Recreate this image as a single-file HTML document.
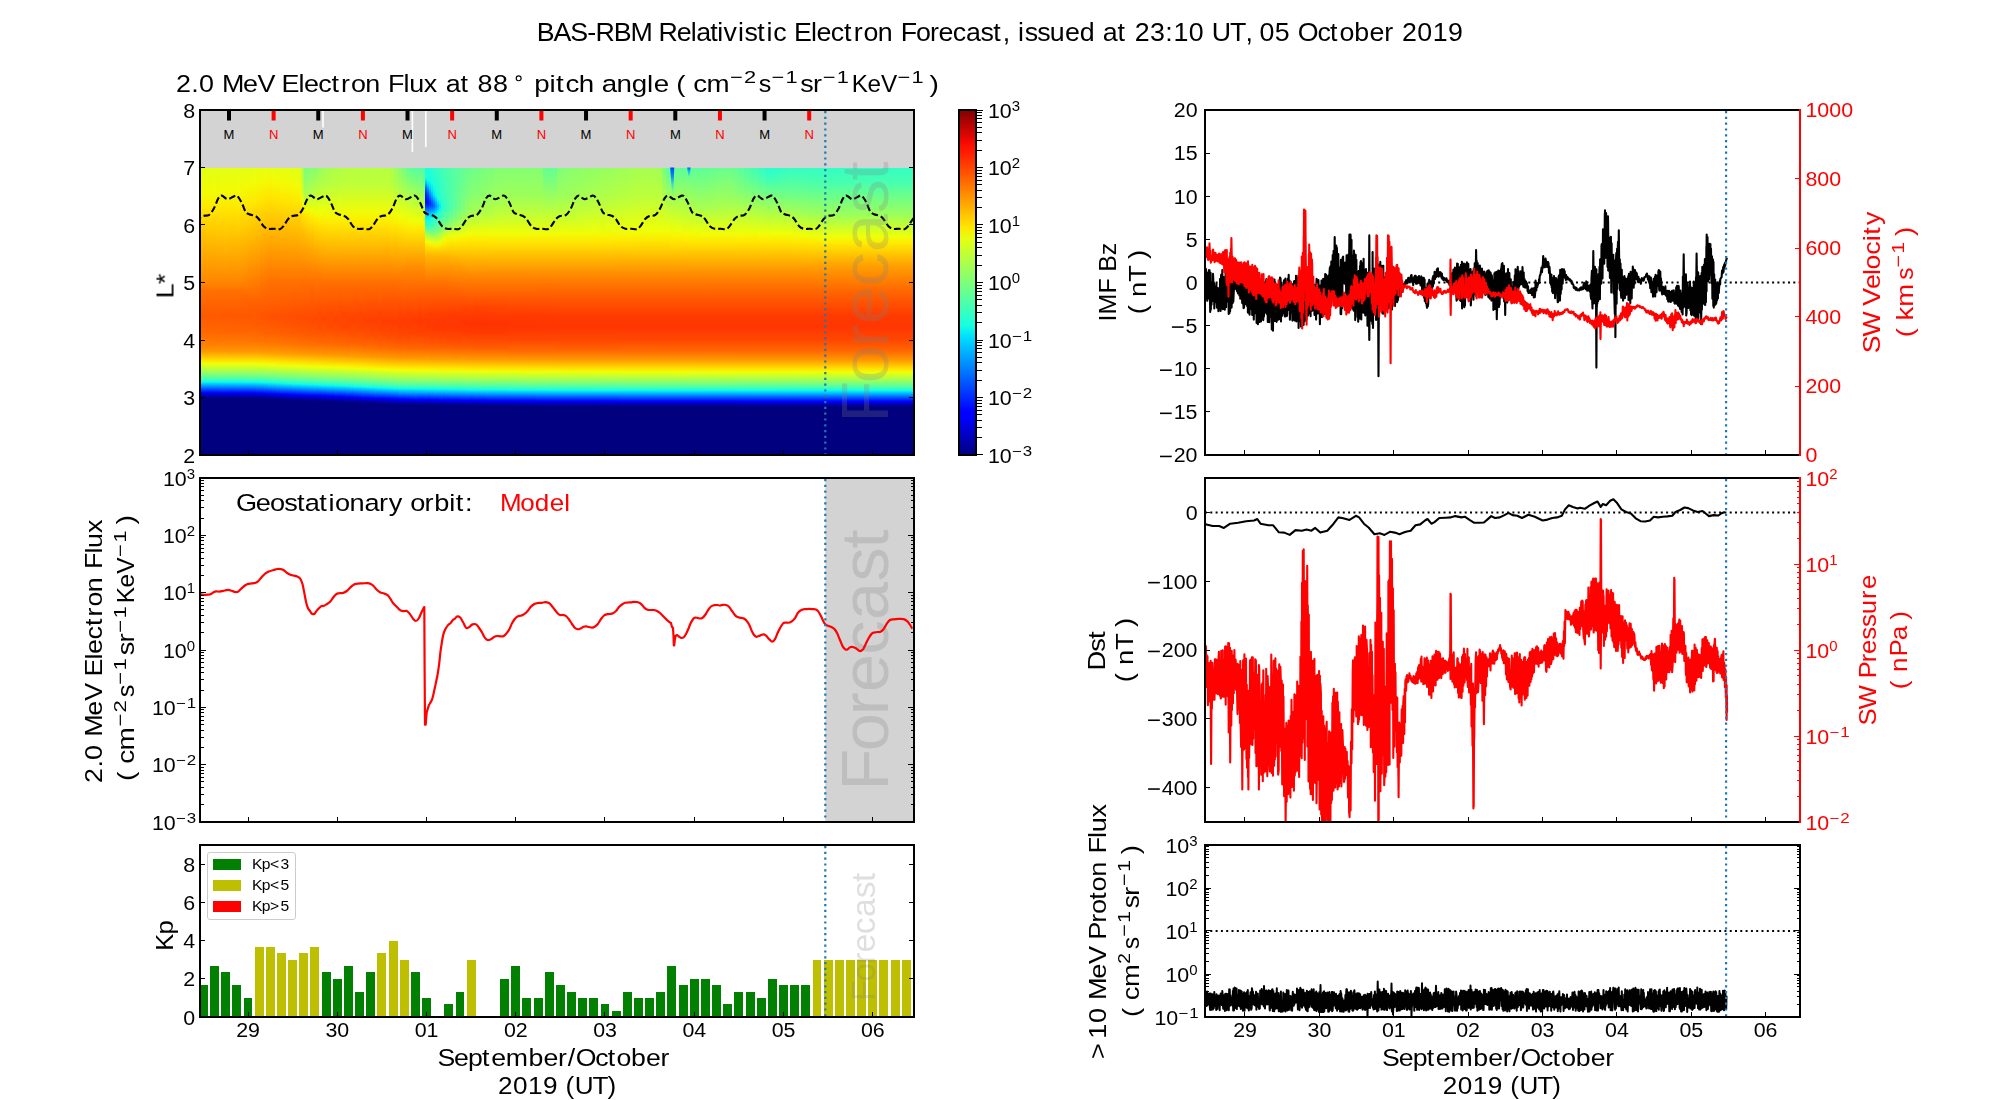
<!DOCTYPE html><html><head><meta charset="utf-8"><title>BAS-RBM Relativistic Electron Forecast</title>
<style>html,body{margin:0;padding:0;background:#fff}svg{display:block}text{font-family:"Liberation Sans",sans-serif;font-variant-ligatures:none;font-kerning:none;white-space:pre}</style></head><body>
<svg width="2000" height="1100" viewBox="0 0 2000 1100">
<rect width="2000" height="1100" fill="#fff"/>
<g opacity="0.999">
<text transform="translate(1000.00 40.80) scale(1.0591 1)" x="-437.4 -421.5 -405.7 -389.8 -381.9 -364.7 -348.8 -329.0 -322.4 -305.2 -292.0 -286.7 -273.5 -266.9 -261.0 -247.5 -241.2 -229.3 -220.4 -214.1 -201.6 -194.4 -178.5 -173.2 -159.7 -147.2 -138.2 -128.9 -115.5 -101.0 -93.8 -79.3 -66.0 -58.1 -44.7 -32.2 -18.3 -6.4 2.5 9.7 17.0 23.3 35.2 47.1 61.4 75.4 89.9 97.1 111.0 120.0 127.2 141.7 156.1 163.8 178.3 192.8 200.0 217.2 231.7 238.3 245.0 259.5 274.0 281.2 299.7 311.6 320.6 334.5 348.9 362.9 372.3 379.5 394.0 408.5 422.9" y="0" font-size="25.31">BAS-RBM Relativistic Electron Forecast, issued at 23:10 UT, 05 October 2019</text>
<g transform="translate(176.00 92.00)">
<text transform="translate(0.00 0.00) scale(1.0864 1)" x="0.0 14.1 21.1 35.2 42.3 61.7 75.0 90.6 97.2 112.8 117.9 131.0 143.2 151.9 161.0 174.1 188.1 195.2 209.4 214.6 228.1 241.2 248.3 261.8 270.5 277.6 291.7" y="0" font-size="24.78">2.0 MeV Electron Flux at 88</text>
<circle cx="342.66" cy="-13.69" r="2.46" fill="none" stroke="#000" stroke-width="1.15"/>
<text transform="translate(358.18 0.00) scale(1.1189 1)" x="0.0 13.7 19.6 28.1 39.9 53.5 60.4 73.6 87.2 100.8 106.8 120.1 126.9 135.3 142.1 154.0" y="0" font-size="24.78">pitch angle ( cm</text>
<text transform="translate(553.90 -8.57) scale(1.2560 1)" x="0.0 11.2" y="0" font-size="17.35">−2</text>
<text transform="translate(582.84 0.00) scale(1.0123 1)" x="0.0" y="0" font-size="24.78">s</text>
<text transform="translate(595.38 -8.57) scale(1.2560 1)" x="0.0 11.2" y="0" font-size="17.35">−1</text>
<text transform="translate(624.31 0.00) scale(1.0870 1)" x="0.0 11.6" y="0" font-size="24.78">sr</text>
<text transform="translate(646.75 -8.57) scale(1.2560 1)" x="0.0 11.2" y="0" font-size="17.35">−1</text>
<text transform="translate(675.68 0.00) scale(0.9792 1)" x="0.0 16.1 30.0" y="0" font-size="24.78">KeV</text>
<text transform="translate(721.55 -8.57) scale(1.2560 1)" x="0.0 11.2" y="0" font-size="17.35">−1</text>
<text transform="translate(753.61 0.00) scale(1.1380 1)" x="0.0" y="0" font-size="24.78">)</text>
</g>
<rect x="200.00" y="110.00" width="714.00" height="345.00" fill="#d3d3d3" />
<g id="heat"></g>
<g shape-rendering="crispEdges">
<linearGradient id="h0" x1="0" y1="0" x2="0" y2="1"><stop offset="0.000" stop-color="#e2ff14"/><stop offset="0.096" stop-color="#f3fa04"/><stop offset="0.146" stop-color="#ffe400"/><stop offset="0.230" stop-color="#ffc300"/><stop offset="0.344" stop-color="#ff9d00"/><stop offset="0.409" stop-color="#ff8200"/><stop offset="0.428" stop-color="#ff7100"/><stop offset="0.514" stop-color="#ff5a00"/><stop offset="0.574" stop-color="#ff6700"/><stop offset="0.622" stop-color="#ff8500"/><stop offset="0.639" stop-color="#ff9700"/><stop offset="0.668" stop-color="#ffda00"/><stop offset="0.678" stop-color="#f8f400"/><stop offset="0.682" stop-color="#efff08"/><stop offset="0.721" stop-color="#7cff7b"/><stop offset="0.735" stop-color="#4affad"/><stop offset="0.746" stop-color="#11fae6"/><stop offset="0.751" stop-color="#00d5ff"/><stop offset="0.783" stop-color="#0000ff"/><stop offset="0.783" stop-color="#0000ff"/><stop offset="0.793" stop-color="#0000b4"/><stop offset="0.802" stop-color="#000080"/><stop offset="0.835" stop-color="#000080"/></linearGradient>
<rect x="200.00" y="167.5" width="4.60" height="287.5" fill="url(#h0)"/>
<linearGradient id="h1" x1="0" y1="0" x2="0" y2="1"><stop offset="0.000" stop-color="#e2ff14"/><stop offset="0.096" stop-color="#f3fa03"/><stop offset="0.146" stop-color="#ffe400"/><stop offset="0.235" stop-color="#ffc200"/><stop offset="0.386" stop-color="#ff8c00"/><stop offset="0.409" stop-color="#ff8200"/><stop offset="0.428" stop-color="#ff7000"/><stop offset="0.514" stop-color="#ff5900"/><stop offset="0.574" stop-color="#ff6700"/><stop offset="0.622" stop-color="#ff8500"/><stop offset="0.639" stop-color="#ff9700"/><stop offset="0.668" stop-color="#ffda00"/><stop offset="0.678" stop-color="#f8f400"/><stop offset="0.682" stop-color="#efff08"/><stop offset="0.710" stop-color="#a1ff55"/><stop offset="0.730" stop-color="#5aff9d"/><stop offset="0.735" stop-color="#4affac"/><stop offset="0.746" stop-color="#11fbe6"/><stop offset="0.751" stop-color="#00d6ff"/><stop offset="0.783" stop-color="#0000ff"/><stop offset="0.793" stop-color="#0000b4"/><stop offset="0.802" stop-color="#000080"/><stop offset="0.835" stop-color="#000080"/></linearGradient>
<rect x="204.00" y="167.5" width="4.60" height="287.5" fill="url(#h1)"/>
<linearGradient id="h2" x1="0" y1="0" x2="0" y2="1"><stop offset="0.000" stop-color="#e2ff14"/><stop offset="0.094" stop-color="#f3fa03"/><stop offset="0.146" stop-color="#ffe400"/><stop offset="0.240" stop-color="#ffc100"/><stop offset="0.409" stop-color="#ff8200"/><stop offset="0.428" stop-color="#ff7000"/><stop offset="0.514" stop-color="#ff5900"/><stop offset="0.574" stop-color="#ff6700"/><stop offset="0.616" stop-color="#ff8000"/><stop offset="0.639" stop-color="#ff9700"/><stop offset="0.668" stop-color="#ffda00"/><stop offset="0.678" stop-color="#f8f400"/><stop offset="0.683" stop-color="#eeff09"/><stop offset="0.710" stop-color="#a2ff55"/><stop offset="0.735" stop-color="#49ffae"/><stop offset="0.746" stop-color="#10f9e7"/><stop offset="0.751" stop-color="#00d6ff"/><stop offset="0.783" stop-color="#0001ff"/><stop offset="0.784" stop-color="#0000ff"/><stop offset="0.793" stop-color="#0000b5"/><stop offset="0.803" stop-color="#000080"/><stop offset="0.835" stop-color="#000080"/></linearGradient>
<rect x="208.00" y="167.5" width="4.60" height="287.5" fill="url(#h2)"/>
<linearGradient id="h3" x1="0" y1="0" x2="0" y2="1"><stop offset="0.000" stop-color="#e2ff14"/><stop offset="0.083" stop-color="#f1fc06"/><stop offset="0.136" stop-color="#ffea00"/><stop offset="0.219" stop-color="#ffc800"/><stop offset="0.407" stop-color="#ff8300"/><stop offset="0.428" stop-color="#ff7000"/><stop offset="0.514" stop-color="#ff5900"/><stop offset="0.574" stop-color="#ff6700"/><stop offset="0.622" stop-color="#ff8500"/><stop offset="0.639" stop-color="#ff9700"/><stop offset="0.668" stop-color="#ffda00"/><stop offset="0.678" stop-color="#f8f400"/><stop offset="0.683" stop-color="#eeff08"/><stop offset="0.710" stop-color="#a2ff55"/><stop offset="0.735" stop-color="#4affad"/><stop offset="0.746" stop-color="#10f9e7"/><stop offset="0.751" stop-color="#00d7ff"/><stop offset="0.783" stop-color="#0002ff"/><stop offset="0.784" stop-color="#0000ff"/><stop offset="0.793" stop-color="#0000b5"/><stop offset="0.803" stop-color="#000080"/><stop offset="0.835" stop-color="#000080"/></linearGradient>
<rect x="212.00" y="167.5" width="4.60" height="287.5" fill="url(#h3)"/>
<linearGradient id="h4" x1="0" y1="0" x2="0" y2="1"><stop offset="0.000" stop-color="#e2ff14"/><stop offset="0.094" stop-color="#f4f903"/><stop offset="0.146" stop-color="#ffe500"/><stop offset="0.240" stop-color="#ffc200"/><stop offset="0.409" stop-color="#ff8200"/><stop offset="0.428" stop-color="#ff7000"/><stop offset="0.514" stop-color="#ff5900"/><stop offset="0.574" stop-color="#ff6700"/><stop offset="0.601" stop-color="#ff7300"/><stop offset="0.639" stop-color="#ff9700"/><stop offset="0.668" stop-color="#ffda00"/><stop offset="0.678" stop-color="#f8f400"/><stop offset="0.683" stop-color="#efff08"/><stop offset="0.720" stop-color="#81ff76"/><stop offset="0.735" stop-color="#4affad"/><stop offset="0.746" stop-color="#10fae6"/><stop offset="0.751" stop-color="#00d7ff"/><stop offset="0.783" stop-color="#0002ff"/><stop offset="0.784" stop-color="#0000ff"/><stop offset="0.793" stop-color="#0000b6"/><stop offset="0.803" stop-color="#000080"/><stop offset="0.835" stop-color="#000080"/></linearGradient>
<rect x="216.00" y="167.5" width="4.60" height="287.5" fill="url(#h4)"/>
<linearGradient id="h5" x1="0" y1="0" x2="0" y2="1"><stop offset="0.000" stop-color="#e2ff14"/><stop offset="0.083" stop-color="#f2fb05"/><stop offset="0.146" stop-color="#ffe500"/><stop offset="0.235" stop-color="#ffc400"/><stop offset="0.409" stop-color="#ff8200"/><stop offset="0.428" stop-color="#ff7000"/><stop offset="0.514" stop-color="#ff5800"/><stop offset="0.574" stop-color="#ff6600"/><stop offset="0.616" stop-color="#ff8000"/><stop offset="0.639" stop-color="#ff9700"/><stop offset="0.668" stop-color="#ffd900"/><stop offset="0.678" stop-color="#f9f300"/><stop offset="0.683" stop-color="#efff08"/><stop offset="0.722" stop-color="#7cff7b"/><stop offset="0.735" stop-color="#4affac"/><stop offset="0.746" stop-color="#11fae6"/><stop offset="0.751" stop-color="#00d8ff"/><stop offset="0.784" stop-color="#0000ff"/><stop offset="0.793" stop-color="#0000b6"/><stop offset="0.803" stop-color="#000080"/><stop offset="0.835" stop-color="#000080"/></linearGradient>
<rect x="220.00" y="167.5" width="4.60" height="287.5" fill="url(#h5)"/>
<linearGradient id="h6" x1="0" y1="0" x2="0" y2="1"><stop offset="0.000" stop-color="#e2ff14"/><stop offset="0.083" stop-color="#f2fb04"/><stop offset="0.146" stop-color="#ffe500"/><stop offset="0.261" stop-color="#ffbc00"/><stop offset="0.409" stop-color="#ff8200"/><stop offset="0.428" stop-color="#ff7000"/><stop offset="0.514" stop-color="#ff5800"/><stop offset="0.574" stop-color="#ff6600"/><stop offset="0.616" stop-color="#ff8000"/><stop offset="0.639" stop-color="#ff9700"/><stop offset="0.668" stop-color="#ffd900"/><stop offset="0.678" stop-color="#f9f300"/><stop offset="0.683" stop-color="#efff08"/><stop offset="0.710" stop-color="#a3ff54"/><stop offset="0.735" stop-color="#4bffac"/><stop offset="0.746" stop-color="#11fbe6"/><stop offset="0.751" stop-color="#00d8ff"/><stop offset="0.784" stop-color="#0000ff"/><stop offset="0.793" stop-color="#0000b6"/><stop offset="0.803" stop-color="#000080"/><stop offset="0.835" stop-color="#000080"/></linearGradient>
<rect x="224.00" y="167.5" width="4.60" height="287.5" fill="url(#h6)"/>
<linearGradient id="h7" x1="0" y1="0" x2="0" y2="1"><stop offset="0.000" stop-color="#e2ff14"/><stop offset="0.083" stop-color="#f3fa04"/><stop offset="0.146" stop-color="#ffe500"/><stop offset="0.409" stop-color="#ff8200"/><stop offset="0.428" stop-color="#ff7000"/><stop offset="0.514" stop-color="#ff5800"/><stop offset="0.574" stop-color="#ff6600"/><stop offset="0.616" stop-color="#ff7f00"/><stop offset="0.640" stop-color="#ff9700"/><stop offset="0.668" stop-color="#ffd900"/><stop offset="0.678" stop-color="#f9f300"/><stop offset="0.683" stop-color="#eeff09"/><stop offset="0.710" stop-color="#a3ff54"/><stop offset="0.735" stop-color="#49ffad"/><stop offset="0.746" stop-color="#10f9e7"/><stop offset="0.751" stop-color="#00d9ff"/><stop offset="0.783" stop-color="#0004ff"/><stop offset="0.784" stop-color="#0000ff"/><stop offset="0.793" stop-color="#0000b7"/><stop offset="0.803" stop-color="#000080"/><stop offset="0.835" stop-color="#000080"/></linearGradient>
<rect x="228.00" y="167.5" width="4.60" height="287.5" fill="url(#h7)"/>
<linearGradient id="h8" x1="0" y1="0" x2="0" y2="1"><stop offset="0.000" stop-color="#e3ff14"/><stop offset="0.083" stop-color="#f3fa03"/><stop offset="0.146" stop-color="#ffe500"/><stop offset="0.409" stop-color="#ff8200"/><stop offset="0.428" stop-color="#ff7000"/><stop offset="0.514" stop-color="#ff5800"/><stop offset="0.574" stop-color="#ff6600"/><stop offset="0.616" stop-color="#ff7f00"/><stop offset="0.640" stop-color="#ff9700"/><stop offset="0.668" stop-color="#ffd900"/><stop offset="0.678" stop-color="#f9f300"/><stop offset="0.683" stop-color="#eeff08"/><stop offset="0.710" stop-color="#a3ff54"/><stop offset="0.735" stop-color="#4affad"/><stop offset="0.746" stop-color="#10fae7"/><stop offset="0.751" stop-color="#00d9ff"/><stop offset="0.783" stop-color="#0004ff"/><stop offset="0.784" stop-color="#0000ff"/><stop offset="0.793" stop-color="#0000b7"/><stop offset="0.803" stop-color="#000080"/><stop offset="0.835" stop-color="#000080"/></linearGradient>
<rect x="232.00" y="167.5" width="4.60" height="287.5" fill="url(#h8)"/>
<linearGradient id="h9" x1="0" y1="0" x2="0" y2="1"><stop offset="0.000" stop-color="#e3ff14"/><stop offset="0.073" stop-color="#f1fc06"/><stop offset="0.136" stop-color="#ffea00"/><stop offset="0.409" stop-color="#ff8200"/><stop offset="0.428" stop-color="#ff7000"/><stop offset="0.514" stop-color="#ff5800"/><stop offset="0.574" stop-color="#ff6500"/><stop offset="0.616" stop-color="#ff7f00"/><stop offset="0.640" stop-color="#ff9700"/><stop offset="0.668" stop-color="#ffd900"/><stop offset="0.678" stop-color="#f9f300"/><stop offset="0.683" stop-color="#efff08"/><stop offset="0.720" stop-color="#82ff75"/><stop offset="0.735" stop-color="#4affad"/><stop offset="0.746" stop-color="#11fae6"/><stop offset="0.751" stop-color="#00daff"/><stop offset="0.783" stop-color="#0005ff"/><stop offset="0.784" stop-color="#0000ff"/><stop offset="0.793" stop-color="#0000b8"/><stop offset="0.803" stop-color="#000080"/><stop offset="0.835" stop-color="#000080"/></linearGradient>
<rect x="236.00" y="167.5" width="4.60" height="287.5" fill="url(#h9)"/>
<linearGradient id="h10" x1="0" y1="0" x2="0" y2="1"><stop offset="0.000" stop-color="#e3ff14"/><stop offset="0.073" stop-color="#f2fb05"/><stop offset="0.146" stop-color="#ffe400"/><stop offset="0.409" stop-color="#ff8100"/><stop offset="0.428" stop-color="#ff6f00"/><stop offset="0.514" stop-color="#ff5700"/><stop offset="0.574" stop-color="#ff6500"/><stop offset="0.616" stop-color="#ff7f00"/><stop offset="0.640" stop-color="#ff9700"/><stop offset="0.668" stop-color="#ffd800"/><stop offset="0.678" stop-color="#f9f300"/><stop offset="0.683" stop-color="#efff08"/><stop offset="0.722" stop-color="#7cff7b"/><stop offset="0.735" stop-color="#4affac"/><stop offset="0.746" stop-color="#11fbe6"/><stop offset="0.751" stop-color="#00daff"/><stop offset="0.783" stop-color="#0005ff"/><stop offset="0.784" stop-color="#0000ff"/><stop offset="0.793" stop-color="#0000b8"/><stop offset="0.803" stop-color="#000080"/><stop offset="0.835" stop-color="#000080"/></linearGradient>
<rect x="240.00" y="167.5" width="4.60" height="287.5" fill="url(#h10)"/>
<linearGradient id="h11" x1="0" y1="0" x2="0" y2="1"><stop offset="0.000" stop-color="#e3ff13"/><stop offset="0.063" stop-color="#f1fc06"/><stop offset="0.136" stop-color="#ffe600"/><stop offset="0.409" stop-color="#ff7e00"/><stop offset="0.449" stop-color="#ff6700"/><stop offset="0.515" stop-color="#ff5700"/><stop offset="0.574" stop-color="#ff6500"/><stop offset="0.616" stop-color="#ff7f00"/><stop offset="0.640" stop-color="#ff9700"/><stop offset="0.678" stop-color="#faf200"/><stop offset="0.683" stop-color="#eeff09"/><stop offset="0.710" stop-color="#a4ff53"/><stop offset="0.736" stop-color="#49ffae"/><stop offset="0.747" stop-color="#10f9e7"/><stop offset="0.751" stop-color="#00dbff"/><stop offset="0.783" stop-color="#0006ff"/><stop offset="0.784" stop-color="#0000ff"/><stop offset="0.793" stop-color="#0000b9"/><stop offset="0.803" stop-color="#000080"/><stop offset="0.835" stop-color="#000080"/></linearGradient>
<rect x="244.00" y="167.5" width="4.60" height="287.5" fill="url(#h11)"/>
<linearGradient id="h12" x1="0" y1="0" x2="0" y2="1"><stop offset="0.000" stop-color="#e4ff13"/><stop offset="0.063" stop-color="#f2fb05"/><stop offset="0.136" stop-color="#ffe400"/><stop offset="0.409" stop-color="#ff7b00"/><stop offset="0.470" stop-color="#ff6000"/><stop offset="0.515" stop-color="#ff5700"/><stop offset="0.574" stop-color="#ff6500"/><stop offset="0.616" stop-color="#ff7f00"/><stop offset="0.640" stop-color="#ff9700"/><stop offset="0.678" stop-color="#faf200"/><stop offset="0.683" stop-color="#eeff08"/><stop offset="0.710" stop-color="#a4ff53"/><stop offset="0.736" stop-color="#4affad"/><stop offset="0.747" stop-color="#10f9e7"/><stop offset="0.751" stop-color="#00dbff"/><stop offset="0.783" stop-color="#0006ff"/><stop offset="0.784" stop-color="#0000ff"/><stop offset="0.793" stop-color="#0000b9"/><stop offset="0.803" stop-color="#000080"/><stop offset="0.835" stop-color="#000080"/></linearGradient>
<rect x="248.00" y="167.5" width="4.60" height="287.5" fill="url(#h12)"/>
<linearGradient id="h13" x1="0" y1="0" x2="0" y2="1"><stop offset="0.000" stop-color="#e5ff12"/><stop offset="0.052" stop-color="#f1fd06"/><stop offset="0.115" stop-color="#ffe900"/><stop offset="0.490" stop-color="#ff5a00"/><stop offset="0.543" stop-color="#ff5900"/><stop offset="0.602" stop-color="#ff7200"/><stop offset="0.640" stop-color="#ff9700"/><stop offset="0.678" stop-color="#faf200"/><stop offset="0.683" stop-color="#eeff08"/><stop offset="0.710" stop-color="#a4ff52"/><stop offset="0.736" stop-color="#4affad"/><stop offset="0.747" stop-color="#10fae6"/><stop offset="0.751" stop-color="#00dcff"/><stop offset="0.783" stop-color="#0007ff"/><stop offset="0.784" stop-color="#0000ff"/><stop offset="0.793" stop-color="#0000b9"/><stop offset="0.803" stop-color="#000080"/><stop offset="0.835" stop-color="#000080"/></linearGradient>
<rect x="252.00" y="167.5" width="4.60" height="287.5" fill="url(#h13)"/>
<linearGradient id="h14" x1="0" y1="0" x2="0" y2="1"><stop offset="0.000" stop-color="#e5ff12"/><stop offset="0.052" stop-color="#f2fb05"/><stop offset="0.115" stop-color="#ffe600"/><stop offset="0.490" stop-color="#ff5900"/><stop offset="0.543" stop-color="#ff5800"/><stop offset="0.602" stop-color="#ff7100"/><stop offset="0.640" stop-color="#ff9700"/><stop offset="0.678" stop-color="#fbf100"/><stop offset="0.684" stop-color="#efff08"/><stop offset="0.710" stop-color="#a6ff51"/><stop offset="0.730" stop-color="#5fff98"/><stop offset="0.736" stop-color="#4affac"/><stop offset="0.747" stop-color="#11fbe6"/><stop offset="0.751" stop-color="#00dffc"/><stop offset="0.785" stop-color="#0000ff"/><stop offset="0.793" stop-color="#0000bb"/><stop offset="0.804" stop-color="#000080"/><stop offset="0.835" stop-color="#000080"/></linearGradient>
<rect x="256.00" y="167.5" width="4.60" height="287.5" fill="url(#h14)"/>
<linearGradient id="h15" x1="0" y1="0" x2="0" y2="1"><stop offset="0.000" stop-color="#e6ff11"/><stop offset="0.052" stop-color="#f3fa04"/><stop offset="0.115" stop-color="#ffe400"/><stop offset="0.409" stop-color="#ff7200"/><stop offset="0.516" stop-color="#ff5400"/><stop offset="0.574" stop-color="#ff6200"/><stop offset="0.616" stop-color="#ff7d00"/><stop offset="0.641" stop-color="#ff9700"/><stop offset="0.678" stop-color="#fcef00"/><stop offset="0.685" stop-color="#efff08"/><stop offset="0.723" stop-color="#7cff7b"/><stop offset="0.741" stop-color="#35ffc2"/><stop offset="0.748" stop-color="#11fae6"/><stop offset="0.751" stop-color="#00e3f9"/><stop offset="0.783" stop-color="#000eff"/><stop offset="0.785" stop-color="#0000ff"/><stop offset="0.794" stop-color="#0000ba"/><stop offset="0.805" stop-color="#000080"/><stop offset="0.835" stop-color="#000080"/></linearGradient>
<rect x="260.00" y="167.5" width="4.60" height="287.5" fill="url(#h15)"/>
<linearGradient id="h16" x1="0" y1="0" x2="0" y2="1"><stop offset="0.000" stop-color="#e6ff11"/><stop offset="0.043" stop-color="#f2fc05"/><stop offset="0.104" stop-color="#ffe600"/><stop offset="0.409" stop-color="#ff7000"/><stop offset="0.517" stop-color="#ff5300"/><stop offset="0.574" stop-color="#ff6100"/><stop offset="0.603" stop-color="#ff7000"/><stop offset="0.642" stop-color="#ff9700"/><stop offset="0.678" stop-color="#feee00"/><stop offset="0.685" stop-color="#eeff08"/><stop offset="0.720" stop-color="#89ff6e"/><stop offset="0.737" stop-color="#4affad"/><stop offset="0.749" stop-color="#10fae7"/><stop offset="0.751" stop-color="#01e7f5"/><stop offset="0.767" stop-color="#007fff"/><stop offset="0.783" stop-color="#0013ff"/><stop offset="0.786" stop-color="#0000ff"/><stop offset="0.795" stop-color="#0000b9"/><stop offset="0.805" stop-color="#000080"/><stop offset="0.835" stop-color="#000080"/></linearGradient>
<rect x="264.00" y="167.5" width="4.60" height="287.5" fill="url(#h16)"/>
<linearGradient id="h17" x1="0" y1="0" x2="0" y2="1"><stop offset="0.000" stop-color="#e7ff10"/><stop offset="0.052" stop-color="#f5f701"/><stop offset="0.104" stop-color="#ffe400"/><stop offset="0.407" stop-color="#ff6d00"/><stop offset="0.449" stop-color="#ff6500"/><stop offset="0.517" stop-color="#ff5200"/><stop offset="0.574" stop-color="#ff6000"/><stop offset="0.616" stop-color="#ff7b00"/><stop offset="0.642" stop-color="#ff9700"/><stop offset="0.678" stop-color="#ffec00"/><stop offset="0.686" stop-color="#eeff09"/><stop offset="0.720" stop-color="#8bff6c"/><stop offset="0.738" stop-color="#49ffad"/><stop offset="0.749" stop-color="#10f9e7"/><stop offset="0.751" stop-color="#05ebf2"/><stop offset="0.762" stop-color="#00a6ff"/><stop offset="0.783" stop-color="#0017ff"/><stop offset="0.787" stop-color="#0000ff"/><stop offset="0.795" stop-color="#0000b9"/><stop offset="0.806" stop-color="#000080"/><stop offset="0.835" stop-color="#000080"/></linearGradient>
<rect x="268.00" y="167.5" width="4.60" height="287.5" fill="url(#h17)"/>
<linearGradient id="h18" x1="0" y1="0" x2="0" y2="1"><stop offset="0.000" stop-color="#e6ff11"/><stop offset="0.043" stop-color="#f2fc05"/><stop offset="0.104" stop-color="#ffe500"/><stop offset="0.409" stop-color="#ff6d00"/><stop offset="0.449" stop-color="#ff6400"/><stop offset="0.518" stop-color="#ff5100"/><stop offset="0.574" stop-color="#ff5f00"/><stop offset="0.616" stop-color="#ff7a00"/><stop offset="0.647" stop-color="#ffa000"/><stop offset="0.678" stop-color="#ffeb00"/><stop offset="0.686" stop-color="#efff08"/><stop offset="0.720" stop-color="#8cff6a"/><stop offset="0.741" stop-color="#3effb9"/><stop offset="0.750" stop-color="#11fbe6"/><stop offset="0.751" stop-color="#08efef"/><stop offset="0.762" stop-color="#00aaff"/><stop offset="0.787" stop-color="#0000ff"/><stop offset="0.793" stop-color="#0000d5"/><stop offset="0.796" stop-color="#0000bb"/><stop offset="0.806" stop-color="#000080"/><stop offset="0.835" stop-color="#000080"/></linearGradient>
<rect x="272.00" y="167.5" width="4.60" height="287.5" fill="url(#h18)"/>
<linearGradient id="h19" x1="0" y1="0" x2="0" y2="1"><stop offset="0.000" stop-color="#e5ff12"/><stop offset="0.052" stop-color="#f3fa04"/><stop offset="0.115" stop-color="#ffe200"/><stop offset="0.409" stop-color="#ff6d00"/><stop offset="0.449" stop-color="#ff6400"/><stop offset="0.518" stop-color="#ff5000"/><stop offset="0.574" stop-color="#ff5e00"/><stop offset="0.616" stop-color="#ff7900"/><stop offset="0.647" stop-color="#ff9f00"/><stop offset="0.678" stop-color="#ffe900"/><stop offset="0.689" stop-color="#eaff0d"/><stop offset="0.726" stop-color="#7cff7b"/><stop offset="0.741" stop-color="#41ffb5"/><stop offset="0.750" stop-color="#11fae6"/><stop offset="0.751" stop-color="#0bf3eb"/><stop offset="0.762" stop-color="#00aeff"/><stop offset="0.788" stop-color="#0000ff"/><stop offset="0.793" stop-color="#0000db"/><stop offset="0.797" stop-color="#0000ba"/><stop offset="0.807" stop-color="#000080"/><stop offset="0.835" stop-color="#000080"/></linearGradient>
<rect x="276.00" y="167.5" width="4.60" height="287.5" fill="url(#h19)"/>
<linearGradient id="h20" x1="0" y1="0" x2="0" y2="1"><stop offset="0.000" stop-color="#e4ff13"/><stop offset="0.052" stop-color="#f2fb05"/><stop offset="0.104" stop-color="#ffe800"/><stop offset="0.409" stop-color="#ff6d00"/><stop offset="0.449" stop-color="#ff6300"/><stop offset="0.519" stop-color="#ff5000"/><stop offset="0.575" stop-color="#ff5d00"/><stop offset="0.616" stop-color="#ff7800"/><stop offset="0.647" stop-color="#ff9d00"/><stop offset="0.678" stop-color="#ffe700"/><stop offset="0.689" stop-color="#ecff0b"/><stop offset="0.720" stop-color="#90ff66"/><stop offset="0.741" stop-color="#45ffb2"/><stop offset="0.751" stop-color="#0ff8e8"/><stop offset="0.762" stop-color="#00b2ff"/><stop offset="0.789" stop-color="#0000ff"/><stop offset="0.793" stop-color="#0000e0"/><stop offset="0.797" stop-color="#0000b9"/><stop offset="0.808" stop-color="#000080"/><stop offset="0.835" stop-color="#000080"/></linearGradient>
<rect x="280.00" y="167.5" width="4.60" height="287.5" fill="url(#h20)"/>
<linearGradient id="h21" x1="0" y1="0" x2="0" y2="1"><stop offset="0.000" stop-color="#e2ff14"/><stop offset="0.052" stop-color="#f1fc06"/><stop offset="0.104" stop-color="#ffe900"/><stop offset="0.409" stop-color="#ff6d00"/><stop offset="0.449" stop-color="#ff6300"/><stop offset="0.520" stop-color="#ff4f00"/><stop offset="0.575" stop-color="#ff5c00"/><stop offset="0.616" stop-color="#ff7700"/><stop offset="0.647" stop-color="#ff9c00"/><stop offset="0.678" stop-color="#ffe600"/><stop offset="0.689" stop-color="#edff09"/><stop offset="0.720" stop-color="#92ff64"/><stop offset="0.741" stop-color="#48ffaf"/><stop offset="0.752" stop-color="#10f9e7"/><stop offset="0.762" stop-color="#00b6ff"/><stop offset="0.789" stop-color="#0000ff"/><stop offset="0.793" stop-color="#0000e6"/><stop offset="0.798" stop-color="#0000b9"/><stop offset="0.808" stop-color="#000080"/><stop offset="0.835" stop-color="#000080"/></linearGradient>
<rect x="284.00" y="167.5" width="4.60" height="287.5" fill="url(#h21)"/>
<linearGradient id="h22" x1="0" y1="0" x2="0" y2="1"><stop offset="0.000" stop-color="#e1ff15"/><stop offset="0.063" stop-color="#f3fa03"/><stop offset="0.115" stop-color="#ffe600"/><stop offset="0.409" stop-color="#ff6d00"/><stop offset="0.449" stop-color="#ff6300"/><stop offset="0.520" stop-color="#ff4e00"/><stop offset="0.576" stop-color="#ff5c00"/><stop offset="0.616" stop-color="#ff7600"/><stop offset="0.647" stop-color="#ff9b00"/><stop offset="0.678" stop-color="#ffe400"/><stop offset="0.689" stop-color="#eeff09"/><stop offset="0.720" stop-color="#94ff62"/><stop offset="0.741" stop-color="#49ffae"/><stop offset="0.751" stop-color="#15ffe2"/><stop offset="0.762" stop-color="#00bbff"/><stop offset="0.783" stop-color="#002cff"/><stop offset="0.790" stop-color="#0000ff"/><stop offset="0.793" stop-color="#0000ec"/><stop offset="0.799" stop-color="#0000b9"/><stop offset="0.809" stop-color="#000080"/><stop offset="0.835" stop-color="#000080"/></linearGradient>
<rect x="288.00" y="167.5" width="4.60" height="287.5" fill="url(#h22)"/>
<linearGradient id="h23" x1="0" y1="0" x2="0" y2="1"><stop offset="0.000" stop-color="#e0ff16"/><stop offset="0.063" stop-color="#f2fb05"/><stop offset="0.115" stop-color="#ffe700"/><stop offset="0.409" stop-color="#ff6d00"/><stop offset="0.465" stop-color="#ff5b00"/><stop offset="0.521" stop-color="#ff4d00"/><stop offset="0.574" stop-color="#ff5a00"/><stop offset="0.616" stop-color="#ff7500"/><stop offset="0.647" stop-color="#ff9900"/><stop offset="0.678" stop-color="#ffe300"/><stop offset="0.689" stop-color="#efff08"/><stop offset="0.720" stop-color="#96ff60"/><stop offset="0.742" stop-color="#4affac"/><stop offset="0.753" stop-color="#11fbe6"/><stop offset="0.762" stop-color="#00bfff"/><stop offset="0.790" stop-color="#0000ff"/><stop offset="0.793" stop-color="#0000f2"/><stop offset="0.799" stop-color="#0000bb"/><stop offset="0.809" stop-color="#000080"/><stop offset="0.835" stop-color="#000080"/></linearGradient>
<rect x="292.00" y="167.5" width="4.60" height="287.5" fill="url(#h23)"/>
<linearGradient id="h24" x1="0" y1="0" x2="0" y2="1"><stop offset="0.000" stop-color="#dfff18"/><stop offset="0.063" stop-color="#f1fc06"/><stop offset="0.115" stop-color="#ffe800"/><stop offset="0.409" stop-color="#ff6d00"/><stop offset="0.521" stop-color="#ff4c00"/><stop offset="0.574" stop-color="#ff5900"/><stop offset="0.616" stop-color="#ff7400"/><stop offset="0.647" stop-color="#ff9800"/><stop offset="0.678" stop-color="#ffe100"/><stop offset="0.690" stop-color="#efff08"/><stop offset="0.729" stop-color="#7cff7b"/><stop offset="0.742" stop-color="#4affad"/><stop offset="0.751" stop-color="#1bffdb"/><stop offset="0.753" stop-color="#11fae6"/><stop offset="0.762" stop-color="#00c3ff"/><stop offset="0.791" stop-color="#0000ff"/><stop offset="0.793" stop-color="#0000f7"/><stop offset="0.800" stop-color="#0000ba"/><stop offset="0.810" stop-color="#000080"/><stop offset="0.835" stop-color="#000080"/></linearGradient>
<rect x="296.00" y="167.5" width="4.60" height="287.5" fill="url(#h24)"/>
<linearGradient id="h25" x1="0" y1="0" x2="0" y2="1"><stop offset="0.000" stop-color="#d2ff25"/><stop offset="0.096" stop-color="#f2fb05"/><stop offset="0.136" stop-color="#ffe600"/><stop offset="0.409" stop-color="#ff6c00"/><stop offset="0.449" stop-color="#ff6200"/><stop offset="0.522" stop-color="#ff4b00"/><stop offset="0.577" stop-color="#ff5a00"/><stop offset="0.616" stop-color="#ff7300"/><stop offset="0.647" stop-color="#ff9700"/><stop offset="0.678" stop-color="#ffe000"/><stop offset="0.690" stop-color="#efff08"/><stop offset="0.720" stop-color="#9aff5d"/><stop offset="0.743" stop-color="#4bffac"/><stop offset="0.754" stop-color="#11fbe6"/><stop offset="0.762" stop-color="#00c6ff"/><stop offset="0.791" stop-color="#0000ff"/><stop offset="0.793" stop-color="#0000fc"/><stop offset="0.800" stop-color="#0000bb"/><stop offset="0.810" stop-color="#000080"/><stop offset="0.835" stop-color="#000080"/></linearGradient>
<rect x="300.00" y="167.5" width="2.60" height="287.5" fill="url(#h25)"/>
<linearGradient id="h26" x1="0" y1="0" x2="0" y2="1"><stop offset="0.000" stop-color="#a1ff56"/><stop offset="0.083" stop-color="#c2ff35"/><stop offset="0.136" stop-color="#f2fc05"/><stop offset="0.157" stop-color="#ffe600"/><stop offset="0.230" stop-color="#ffbc00"/><stop offset="0.409" stop-color="#ff6b00"/><stop offset="0.449" stop-color="#ff6200"/><stop offset="0.522" stop-color="#ff4b00"/><stop offset="0.574" stop-color="#ff5800"/><stop offset="0.616" stop-color="#ff7200"/><stop offset="0.647" stop-color="#ff9700"/><stop offset="0.678" stop-color="#ffdf00"/><stop offset="0.691" stop-color="#efff08"/><stop offset="0.730" stop-color="#7cff7b"/><stop offset="0.743" stop-color="#4affac"/><stop offset="0.754" stop-color="#11fae6"/><stop offset="0.762" stop-color="#00c8ff"/><stop offset="0.792" stop-color="#0000ff"/><stop offset="0.793" stop-color="#0000fe"/><stop offset="0.800" stop-color="#0000ba"/><stop offset="0.811" stop-color="#000080"/><stop offset="0.835" stop-color="#000080"/></linearGradient>
<rect x="302.00" y="167.5" width="2.60" height="287.5" fill="url(#h26)"/>
<linearGradient id="h27" x1="0" y1="0" x2="0" y2="1"><stop offset="0.000" stop-color="#7cff7a"/><stop offset="0.078" stop-color="#9dff59"/><stop offset="0.148" stop-color="#f2fb05"/><stop offset="0.165" stop-color="#ffe400"/><stop offset="0.240" stop-color="#ffb900"/><stop offset="0.409" stop-color="#ff6b00"/><stop offset="0.449" stop-color="#ff6100"/><stop offset="0.522" stop-color="#ff4a00"/><stop offset="0.578" stop-color="#ff5900"/><stop offset="0.616" stop-color="#ff7200"/><stop offset="0.648" stop-color="#ff9700"/><stop offset="0.678" stop-color="#ffdf00"/><stop offset="0.691" stop-color="#efff08"/><stop offset="0.720" stop-color="#9bff5b"/><stop offset="0.743" stop-color="#4affad"/><stop offset="0.754" stop-color="#10fae6"/><stop offset="0.762" stop-color="#00c9ff"/><stop offset="0.792" stop-color="#0000ff"/><stop offset="0.793" stop-color="#0000ff"/><stop offset="0.801" stop-color="#0000b9"/><stop offset="0.811" stop-color="#000080"/><stop offset="0.835" stop-color="#000080"/></linearGradient>
<rect x="304.00" y="167.5" width="2.60" height="287.5" fill="url(#h27)"/>
<linearGradient id="h28" x1="0" y1="0" x2="0" y2="1"><stop offset="0.000" stop-color="#7eff79"/><stop offset="0.078" stop-color="#a2ff55"/><stop offset="0.148" stop-color="#f1fd06"/><stop offset="0.167" stop-color="#ffe600"/><stop offset="0.252" stop-color="#ffb500"/><stop offset="0.409" stop-color="#ff6b00"/><stop offset="0.449" stop-color="#ff6100"/><stop offset="0.523" stop-color="#ff4a00"/><stop offset="0.578" stop-color="#ff5900"/><stop offset="0.616" stop-color="#ff7100"/><stop offset="0.648" stop-color="#ff9700"/><stop offset="0.678" stop-color="#ffde00"/><stop offset="0.689" stop-color="#f4f802"/><stop offset="0.691" stop-color="#eeff08"/><stop offset="0.720" stop-color="#9cff5a"/><stop offset="0.744" stop-color="#4affad"/><stop offset="0.751" stop-color="#22ffd5"/><stop offset="0.755" stop-color="#10f9e7"/><stop offset="0.762" stop-color="#00cbff"/><stop offset="0.792" stop-color="#0000ff"/><stop offset="0.793" stop-color="#0000ff"/><stop offset="0.801" stop-color="#0000b9"/><stop offset="0.811" stop-color="#000080"/><stop offset="0.835" stop-color="#000080"/></linearGradient>
<rect x="306.00" y="167.5" width="2.60" height="287.5" fill="url(#h28)"/>
<linearGradient id="h29" x1="0" y1="0" x2="0" y2="1"><stop offset="0.000" stop-color="#80ff77"/><stop offset="0.083" stop-color="#acff4b"/><stop offset="0.148" stop-color="#effe08"/><stop offset="0.165" stop-color="#ffeb00"/><stop offset="0.240" stop-color="#ffbd00"/><stop offset="0.409" stop-color="#ff6b00"/><stop offset="0.449" stop-color="#ff6100"/><stop offset="0.523" stop-color="#ff4900"/><stop offset="0.579" stop-color="#ff5800"/><stop offset="0.616" stop-color="#ff7100"/><stop offset="0.648" stop-color="#ff9700"/><stop offset="0.678" stop-color="#ffdd00"/><stop offset="0.689" stop-color="#f5f802"/><stop offset="0.692" stop-color="#eeff09"/><stop offset="0.720" stop-color="#9dff5a"/><stop offset="0.744" stop-color="#49ffad"/><stop offset="0.755" stop-color="#10f9e7"/><stop offset="0.762" stop-color="#00cdff"/><stop offset="0.793" stop-color="#0000ff"/><stop offset="0.803" stop-color="#0000ad"/><stop offset="0.812" stop-color="#000080"/><stop offset="0.835" stop-color="#000080"/></linearGradient>
<rect x="308.00" y="167.5" width="2.60" height="287.5" fill="url(#h29)"/>
<linearGradient id="h30" x1="0" y1="0" x2="0" y2="1"><stop offset="0.000" stop-color="#82ff75"/><stop offset="0.083" stop-color="#b2ff44"/><stop offset="0.148" stop-color="#edff0a"/><stop offset="0.167" stop-color="#fdef00"/><stop offset="0.240" stop-color="#ffc000"/><stop offset="0.409" stop-color="#ff6b00"/><stop offset="0.468" stop-color="#ff5800"/><stop offset="0.532" stop-color="#ff4a00"/><stop offset="0.579" stop-color="#ff5800"/><stop offset="0.616" stop-color="#ff7000"/><stop offset="0.649" stop-color="#ff9700"/><stop offset="0.678" stop-color="#ffdc00"/><stop offset="0.689" stop-color="#f6f601"/><stop offset="0.692" stop-color="#eeff08"/><stop offset="0.720" stop-color="#9fff58"/><stop offset="0.744" stop-color="#4affad"/><stop offset="0.755" stop-color="#10f9e7"/><stop offset="0.762" stop-color="#00d0ff"/><stop offset="0.793" stop-color="#0000ff"/><stop offset="0.803" stop-color="#0000af"/><stop offset="0.812" stop-color="#000080"/><stop offset="0.835" stop-color="#000080"/></linearGradient>
<rect x="310.00" y="167.5" width="4.60" height="287.5" fill="url(#h30)"/>
<linearGradient id="h31" x1="0" y1="0" x2="0" y2="1"><stop offset="0.000" stop-color="#88ff6f"/><stop offset="0.078" stop-color="#b6ff41"/><stop offset="0.157" stop-color="#f0fd06"/><stop offset="0.183" stop-color="#ffe800"/><stop offset="0.365" stop-color="#ff8000"/><stop offset="0.428" stop-color="#ff6700"/><stop offset="0.524" stop-color="#ff4800"/><stop offset="0.579" stop-color="#ff5700"/><stop offset="0.616" stop-color="#ff6f00"/><stop offset="0.649" stop-color="#ff9700"/><stop offset="0.678" stop-color="#ffdb00"/><stop offset="0.689" stop-color="#f7f500"/><stop offset="0.693" stop-color="#efff08"/><stop offset="0.720" stop-color="#a0ff56"/><stop offset="0.745" stop-color="#4bffac"/><stop offset="0.756" stop-color="#11fbe6"/><stop offset="0.762" stop-color="#00d4ff"/><stop offset="0.793" stop-color="#0000ff"/><stop offset="0.803" stop-color="#0000b2"/><stop offset="0.813" stop-color="#000080"/><stop offset="0.835" stop-color="#000080"/></linearGradient>
<rect x="314.00" y="167.5" width="4.60" height="287.5" fill="url(#h31)"/>
<linearGradient id="h32" x1="0" y1="0" x2="0" y2="1"><stop offset="0.000" stop-color="#95ff62"/><stop offset="0.073" stop-color="#b6ff41"/><stop offset="0.157" stop-color="#f0fe07"/><stop offset="0.188" stop-color="#ffe900"/><stop offset="0.386" stop-color="#ff7600"/><stop offset="0.511" stop-color="#ff4900"/><stop offset="0.553" stop-color="#ff4b00"/><stop offset="0.611" stop-color="#ff6900"/><stop offset="0.650" stop-color="#ff9700"/><stop offset="0.678" stop-color="#ffda00"/><stop offset="0.689" stop-color="#f8f400"/><stop offset="0.693" stop-color="#efff08"/><stop offset="0.730" stop-color="#81ff76"/><stop offset="0.745" stop-color="#4affad"/><stop offset="0.757" stop-color="#10fae6"/><stop offset="0.762" stop-color="#00d7ff"/><stop offset="0.793" stop-color="#0002ff"/><stop offset="0.794" stop-color="#0000ff"/><stop offset="0.803" stop-color="#0000b6"/><stop offset="0.814" stop-color="#000080"/><stop offset="0.835" stop-color="#000080"/></linearGradient>
<rect x="318.00" y="167.5" width="4.60" height="287.5" fill="url(#h32)"/>
<linearGradient id="h33" x1="0" y1="0" x2="0" y2="1"><stop offset="0.000" stop-color="#a2ff55"/><stop offset="0.052" stop-color="#afff47"/><stop offset="0.146" stop-color="#e9ff0e"/><stop offset="0.177" stop-color="#f9f300"/><stop offset="0.209" stop-color="#ffde00"/><stop offset="0.409" stop-color="#ff6b00"/><stop offset="0.449" stop-color="#ff6000"/><stop offset="0.525" stop-color="#ff4600"/><stop offset="0.581" stop-color="#ff5600"/><stop offset="0.616" stop-color="#ff6d00"/><stop offset="0.650" stop-color="#ff9700"/><stop offset="0.689" stop-color="#faf200"/><stop offset="0.694" stop-color="#eeff09"/><stop offset="0.720" stop-color="#a4ff53"/><stop offset="0.746" stop-color="#49ffad"/><stop offset="0.757" stop-color="#10f9e7"/><stop offset="0.762" stop-color="#00dbff"/><stop offset="0.793" stop-color="#0006ff"/><stop offset="0.795" stop-color="#0000ff"/><stop offset="0.803" stop-color="#0000b9"/><stop offset="0.814" stop-color="#000080"/><stop offset="0.835" stop-color="#000080"/></linearGradient>
<rect x="322.00" y="167.5" width="4.60" height="287.5" fill="url(#h33)"/>
<linearGradient id="h34" x1="0" y1="0" x2="0" y2="1"><stop offset="0.000" stop-color="#a7ff4f"/><stop offset="0.052" stop-color="#b3ff44"/><stop offset="0.136" stop-color="#e3ff14"/><stop offset="0.167" stop-color="#f4f903"/><stop offset="0.198" stop-color="#ffe600"/><stop offset="0.409" stop-color="#ff6b00"/><stop offset="0.449" stop-color="#ff6000"/><stop offset="0.511" stop-color="#ff4800"/><stop offset="0.553" stop-color="#ff4a00"/><stop offset="0.613" stop-color="#ff6900"/><stop offset="0.651" stop-color="#ff9700"/><stop offset="0.689" stop-color="#fbf100"/><stop offset="0.694" stop-color="#efff08"/><stop offset="0.733" stop-color="#7cff7b"/><stop offset="0.746" stop-color="#4affac"/><stop offset="0.758" stop-color="#11fae6"/><stop offset="0.762" stop-color="#00dffc"/><stop offset="0.795" stop-color="#0000ff"/><stop offset="0.804" stop-color="#0000ba"/><stop offset="0.814" stop-color="#000080"/><stop offset="0.835" stop-color="#000080"/></linearGradient>
<rect x="326.00" y="167.5" width="4.60" height="287.5" fill="url(#h34)"/>
<linearGradient id="h35" x1="0" y1="0" x2="0" y2="1"><stop offset="0.000" stop-color="#abff4c"/><stop offset="0.052" stop-color="#b5ff42"/><stop offset="0.146" stop-color="#ebff0c"/><stop offset="0.188" stop-color="#feed00"/><stop offset="0.409" stop-color="#ff6b00"/><stop offset="0.449" stop-color="#ff5f00"/><stop offset="0.511" stop-color="#ff4800"/><stop offset="0.554" stop-color="#ff4900"/><stop offset="0.616" stop-color="#ff6b00"/><stop offset="0.651" stop-color="#ff9700"/><stop offset="0.689" stop-color="#fcef00"/><stop offset="0.695" stop-color="#eeff08"/><stop offset="0.720" stop-color="#a7ff4f"/><stop offset="0.747" stop-color="#4affad"/><stop offset="0.758" stop-color="#10f9e7"/><stop offset="0.762" stop-color="#00e2f9"/><stop offset="0.793" stop-color="#000eff"/><stop offset="0.796" stop-color="#0000ff"/><stop offset="0.805" stop-color="#0000b9"/><stop offset="0.815" stop-color="#000080"/><stop offset="0.835" stop-color="#000080"/></linearGradient>
<rect x="330.00" y="167.5" width="4.60" height="287.5" fill="url(#h35)"/>
<linearGradient id="h36" x1="0" y1="0" x2="0" y2="1"><stop offset="0.000" stop-color="#aeff49"/><stop offset="0.063" stop-color="#bbff3b"/><stop offset="0.158" stop-color="#f1fc06"/><stop offset="0.198" stop-color="#ffe700"/><stop offset="0.409" stop-color="#ff6b00"/><stop offset="0.449" stop-color="#ff5f00"/><stop offset="0.527" stop-color="#ff4400"/><stop offset="0.574" stop-color="#ff5100"/><stop offset="0.616" stop-color="#ff6a00"/><stop offset="0.652" stop-color="#ff9700"/><stop offset="0.689" stop-color="#fdee00"/><stop offset="0.695" stop-color="#efff08"/><stop offset="0.720" stop-color="#a9ff4e"/><stop offset="0.747" stop-color="#4bffac"/><stop offset="0.759" stop-color="#11fbe6"/><stop offset="0.762" stop-color="#00e6f6"/><stop offset="0.777" stop-color="#0080ff"/><stop offset="0.796" stop-color="#0000ff"/><stop offset="0.805" stop-color="#0000bb"/><stop offset="0.815" stop-color="#000080"/><stop offset="0.835" stop-color="#000080"/></linearGradient>
<rect x="334.00" y="167.5" width="4.60" height="287.5" fill="url(#h36)"/>
<linearGradient id="h37" x1="0" y1="0" x2="0" y2="1"><stop offset="0.000" stop-color="#b1ff46"/><stop offset="0.052" stop-color="#b9ff3d"/><stop offset="0.115" stop-color="#d9ff1e"/><stop offset="0.158" stop-color="#f2fb05"/><stop offset="0.198" stop-color="#ffe700"/><stop offset="0.409" stop-color="#ff6b00"/><stop offset="0.511" stop-color="#ff4700"/><stop offset="0.555" stop-color="#ff4800"/><stop offset="0.616" stop-color="#ff6900"/><stop offset="0.653" stop-color="#ff9700"/><stop offset="0.689" stop-color="#feed00"/><stop offset="0.696" stop-color="#efff08"/><stop offset="0.730" stop-color="#8aff6d"/><stop offset="0.748" stop-color="#4affad"/><stop offset="0.759" stop-color="#10fae6"/><stop offset="0.762" stop-color="#03eaf3"/><stop offset="0.772" stop-color="#00a4ff"/><stop offset="0.793" stop-color="#0015ff"/><stop offset="0.797" stop-color="#0000ff"/><stop offset="0.806" stop-color="#0000b9"/><stop offset="0.816" stop-color="#000080"/><stop offset="0.835" stop-color="#000080"/></linearGradient>
<rect x="338.00" y="167.5" width="4.60" height="287.5" fill="url(#h37)"/>
<linearGradient id="h38" x1="0" y1="0" x2="0" y2="1"><stop offset="0.000" stop-color="#b4ff42"/><stop offset="0.063" stop-color="#bfff37"/><stop offset="0.157" stop-color="#f2fb05"/><stop offset="0.198" stop-color="#ffe700"/><stop offset="0.292" stop-color="#ffb000"/><stop offset="0.409" stop-color="#ff6b00"/><stop offset="0.449" stop-color="#ff5f00"/><stop offset="0.511" stop-color="#ff4600"/><stop offset="0.556" stop-color="#ff4700"/><stop offset="0.616" stop-color="#ff6800"/><stop offset="0.653" stop-color="#ff9700"/><stop offset="0.689" stop-color="#ffeb00"/><stop offset="0.697" stop-color="#eeff09"/><stop offset="0.730" stop-color="#8cff6b"/><stop offset="0.751" stop-color="#3dffba"/><stop offset="0.760" stop-color="#10f9e7"/><stop offset="0.762" stop-color="#06edf0"/><stop offset="0.772" stop-color="#00a8ff"/><stop offset="0.793" stop-color="#0019ff"/><stop offset="0.798" stop-color="#0000ff"/><stop offset="0.806" stop-color="#0000b9"/><stop offset="0.817" stop-color="#000080"/><stop offset="0.835" stop-color="#000080"/></linearGradient>
<rect x="342.00" y="167.5" width="4.60" height="287.5" fill="url(#h38)"/>
<linearGradient id="h39" x1="0" y1="0" x2="0" y2="1"><stop offset="0.000" stop-color="#b5ff42"/><stop offset="0.063" stop-color="#c0ff37"/><stop offset="0.157" stop-color="#f2fb05"/><stop offset="0.198" stop-color="#ffe700"/><stop offset="0.313" stop-color="#ffa300"/><stop offset="0.409" stop-color="#ff6b00"/><stop offset="0.449" stop-color="#ff5f00"/><stop offset="0.511" stop-color="#ff4600"/><stop offset="0.556" stop-color="#ff4700"/><stop offset="0.616" stop-color="#ff6700"/><stop offset="0.654" stop-color="#ff9700"/><stop offset="0.689" stop-color="#ffea00"/><stop offset="0.697" stop-color="#efff08"/><stop offset="0.736" stop-color="#7cff7b"/><stop offset="0.751" stop-color="#40ffb7"/><stop offset="0.760" stop-color="#11fae6"/><stop offset="0.762" stop-color="#09f1ed"/><stop offset="0.772" stop-color="#00acff"/><stop offset="0.798" stop-color="#0000ff"/><stop offset="0.803" stop-color="#0000d7"/><stop offset="0.807" stop-color="#0000ba"/><stop offset="0.817" stop-color="#000080"/><stop offset="0.835" stop-color="#000080"/></linearGradient>
<rect x="346.00" y="167.5" width="4.60" height="287.5" fill="url(#h39)"/>
<linearGradient id="h40" x1="0" y1="0" x2="0" y2="1"><stop offset="0.000" stop-color="#b5ff42"/><stop offset="0.063" stop-color="#c0ff37"/><stop offset="0.157" stop-color="#f2fb05"/><stop offset="0.198" stop-color="#ffe700"/><stop offset="0.313" stop-color="#ffa300"/><stop offset="0.409" stop-color="#ff6b00"/><stop offset="0.529" stop-color="#ff4200"/><stop offset="0.585" stop-color="#ff5200"/><stop offset="0.616" stop-color="#ff6600"/><stop offset="0.657" stop-color="#ff9e00"/><stop offset="0.689" stop-color="#ffe800"/><stop offset="0.699" stop-color="#ebff0c"/><stop offset="0.730" stop-color="#8fff67"/><stop offset="0.751" stop-color="#43ffb4"/><stop offset="0.761" stop-color="#10fae6"/><stop offset="0.772" stop-color="#00b0ff"/><stop offset="0.793" stop-color="#0021ff"/><stop offset="0.799" stop-color="#0000ff"/><stop offset="0.803" stop-color="#0000dd"/><stop offset="0.807" stop-color="#0000b9"/><stop offset="0.818" stop-color="#000080"/><stop offset="0.835" stop-color="#000080"/></linearGradient>
<rect x="350.00" y="167.5" width="4.60" height="287.5" fill="url(#h40)"/>
<linearGradient id="h41" x1="0" y1="0" x2="0" y2="1"><stop offset="0.000" stop-color="#b5ff42"/><stop offset="0.063" stop-color="#c0ff37"/><stop offset="0.157" stop-color="#f2fb05"/><stop offset="0.198" stop-color="#ffe700"/><stop offset="0.313" stop-color="#ffa300"/><stop offset="0.409" stop-color="#ff6b00"/><stop offset="0.470" stop-color="#ff5400"/><stop offset="0.532" stop-color="#ff4200"/><stop offset="0.574" stop-color="#ff4d00"/><stop offset="0.617" stop-color="#ff6600"/><stop offset="0.657" stop-color="#ff9d00"/><stop offset="0.689" stop-color="#ffe700"/><stop offset="0.699" stop-color="#edff0a"/><stop offset="0.730" stop-color="#92ff65"/><stop offset="0.751" stop-color="#46ffb0"/><stop offset="0.762" stop-color="#10fae6"/><stop offset="0.772" stop-color="#00b5ff"/><stop offset="0.799" stop-color="#0000ff"/><stop offset="0.803" stop-color="#0000e4"/><stop offset="0.808" stop-color="#0000b9"/><stop offset="0.818" stop-color="#000080"/><stop offset="0.835" stop-color="#000080"/></linearGradient>
<rect x="354.00" y="167.5" width="4.60" height="287.5" fill="url(#h41)"/>
<linearGradient id="h42" x1="0" y1="0" x2="0" y2="1"><stop offset="0.000" stop-color="#b5ff42"/><stop offset="0.063" stop-color="#c0ff37"/><stop offset="0.157" stop-color="#f2fb05"/><stop offset="0.198" stop-color="#ffe700"/><stop offset="0.313" stop-color="#ffa300"/><stop offset="0.409" stop-color="#ff6b00"/><stop offset="0.449" stop-color="#ff5f00"/><stop offset="0.511" stop-color="#ff4500"/><stop offset="0.558" stop-color="#ff4500"/><stop offset="0.617" stop-color="#ff6600"/><stop offset="0.657" stop-color="#ff9b00"/><stop offset="0.689" stop-color="#ffe500"/><stop offset="0.699" stop-color="#efff08"/><stop offset="0.730" stop-color="#94ff63"/><stop offset="0.751" stop-color="#4affad"/><stop offset="0.762" stop-color="#10fae6"/><stop offset="0.772" stop-color="#00b9ff"/><stop offset="0.800" stop-color="#0000ff"/><stop offset="0.803" stop-color="#0000ea"/><stop offset="0.809" stop-color="#0000b9"/><stop offset="0.819" stop-color="#000080"/><stop offset="0.835" stop-color="#000080"/></linearGradient>
<rect x="358.00" y="167.5" width="4.60" height="287.5" fill="url(#h42)"/>
<linearGradient id="h43" x1="0" y1="0" x2="0" y2="1"><stop offset="0.000" stop-color="#b5ff42"/><stop offset="0.063" stop-color="#c0ff37"/><stop offset="0.157" stop-color="#f2fb05"/><stop offset="0.198" stop-color="#ffe700"/><stop offset="0.313" stop-color="#ffa300"/><stop offset="0.409" stop-color="#ff6b00"/><stop offset="0.531" stop-color="#ff4000"/><stop offset="0.574" stop-color="#ff4b00"/><stop offset="0.618" stop-color="#ff6500"/><stop offset="0.657" stop-color="#ff9900"/><stop offset="0.689" stop-color="#ffe300"/><stop offset="0.700" stop-color="#efff08"/><stop offset="0.730" stop-color="#96ff61"/><stop offset="0.752" stop-color="#4affad"/><stop offset="0.762" stop-color="#18ffdf"/><stop offset="0.763" stop-color="#10fae6"/><stop offset="0.772" stop-color="#00beff"/><stop offset="0.801" stop-color="#0000ff"/><stop offset="0.803" stop-color="#0000f1"/><stop offset="0.809" stop-color="#0000b9"/><stop offset="0.820" stop-color="#000080"/><stop offset="0.835" stop-color="#000080"/></linearGradient>
<rect x="362.00" y="167.5" width="4.60" height="287.5" fill="url(#h43)"/>
<linearGradient id="h44" x1="0" y1="0" x2="0" y2="1"><stop offset="0.000" stop-color="#b5ff42"/><stop offset="0.063" stop-color="#c0ff37"/><stop offset="0.157" stop-color="#f2fb05"/><stop offset="0.198" stop-color="#ffe700"/><stop offset="0.313" stop-color="#ffa300"/><stop offset="0.409" stop-color="#ff6b00"/><stop offset="0.470" stop-color="#ff5400"/><stop offset="0.532" stop-color="#ff3f00"/><stop offset="0.587" stop-color="#ff5000"/><stop offset="0.626" stop-color="#ff6e00"/><stop offset="0.657" stop-color="#ff9800"/><stop offset="0.689" stop-color="#ffe100"/><stop offset="0.701" stop-color="#efff08"/><stop offset="0.730" stop-color="#98ff5f"/><stop offset="0.753" stop-color="#4affad"/><stop offset="0.762" stop-color="#1bffdc"/><stop offset="0.764" stop-color="#10fae6"/><stop offset="0.772" stop-color="#00c2ff"/><stop offset="0.801" stop-color="#0000ff"/><stop offset="0.803" stop-color="#0000f7"/><stop offset="0.810" stop-color="#0000b9"/><stop offset="0.821" stop-color="#000080"/><stop offset="0.835" stop-color="#000080"/></linearGradient>
<rect x="366.00" y="167.5" width="4.60" height="287.5" fill="url(#h44)"/>
<linearGradient id="h45" x1="0" y1="0" x2="0" y2="1"><stop offset="0.000" stop-color="#b5ff42"/><stop offset="0.063" stop-color="#c0ff37"/><stop offset="0.157" stop-color="#f2fb05"/><stop offset="0.198" stop-color="#ffe700"/><stop offset="0.313" stop-color="#ffa300"/><stop offset="0.409" stop-color="#ff6b00"/><stop offset="0.477" stop-color="#ff5000"/><stop offset="0.533" stop-color="#ff3f00"/><stop offset="0.574" stop-color="#ff4900"/><stop offset="0.626" stop-color="#ff6d00"/><stop offset="0.658" stop-color="#ff9700"/><stop offset="0.689" stop-color="#ffe000"/><stop offset="0.701" stop-color="#efff08"/><stop offset="0.730" stop-color="#9aff5c"/><stop offset="0.753" stop-color="#4affad"/><stop offset="0.765" stop-color="#10fae6"/><stop offset="0.772" stop-color="#00c7ff"/><stop offset="0.802" stop-color="#0000ff"/><stop offset="0.803" stop-color="#0000fe"/><stop offset="0.811" stop-color="#0000b9"/><stop offset="0.821" stop-color="#000080"/><stop offset="0.835" stop-color="#000080"/></linearGradient>
<rect x="370.00" y="167.5" width="4.60" height="287.5" fill="url(#h45)"/>
<linearGradient id="h46" x1="0" y1="0" x2="0" y2="1"><stop offset="0.000" stop-color="#b5ff42"/><stop offset="0.063" stop-color="#c0ff37"/><stop offset="0.157" stop-color="#f2fb05"/><stop offset="0.198" stop-color="#ffe700"/><stop offset="0.313" stop-color="#ffa300"/><stop offset="0.409" stop-color="#ff6b00"/><stop offset="0.470" stop-color="#ff5300"/><stop offset="0.533" stop-color="#ff3e00"/><stop offset="0.589" stop-color="#ff4f00"/><stop offset="0.626" stop-color="#ff6c00"/><stop offset="0.658" stop-color="#ff9700"/><stop offset="0.689" stop-color="#ffde00"/><stop offset="0.699" stop-color="#f5f802"/><stop offset="0.702" stop-color="#efff08"/><stop offset="0.730" stop-color="#9dff5a"/><stop offset="0.754" stop-color="#4affad"/><stop offset="0.765" stop-color="#10fae6"/><stop offset="0.772" stop-color="#00ccff"/><stop offset="0.803" stop-color="#0000ff"/><stop offset="0.803" stop-color="#0000ff"/><stop offset="0.811" stop-color="#0000b9"/><stop offset="0.822" stop-color="#000080"/><stop offset="0.835" stop-color="#000080"/></linearGradient>
<rect x="374.00" y="167.5" width="4.60" height="287.5" fill="url(#h46)"/>
<linearGradient id="h47" x1="0" y1="0" x2="0" y2="1"><stop offset="0.000" stop-color="#b5ff42"/><stop offset="0.063" stop-color="#c0ff37"/><stop offset="0.157" stop-color="#f2fb05"/><stop offset="0.198" stop-color="#ffe700"/><stop offset="0.313" stop-color="#ffa300"/><stop offset="0.409" stop-color="#ff6b00"/><stop offset="0.449" stop-color="#ff5f00"/><stop offset="0.511" stop-color="#ff4200"/><stop offset="0.562" stop-color="#ff4200"/><stop offset="0.621" stop-color="#ff6400"/><stop offset="0.659" stop-color="#ff9700"/><stop offset="0.689" stop-color="#ffdc00"/><stop offset="0.699" stop-color="#f6f601"/><stop offset="0.703" stop-color="#efff08"/><stop offset="0.741" stop-color="#7eff79"/><stop offset="0.755" stop-color="#4affad"/><stop offset="0.766" stop-color="#10fae6"/><stop offset="0.772" stop-color="#00d0ff"/><stop offset="0.803" stop-color="#0000ff"/><stop offset="0.812" stop-color="#0000b9"/><stop offset="0.823" stop-color="#000080"/><stop offset="0.835" stop-color="#000080"/></linearGradient>
<rect x="378.00" y="167.5" width="4.60" height="287.5" fill="url(#h47)"/>
<linearGradient id="h48" x1="0" y1="0" x2="0" y2="1"><stop offset="0.000" stop-color="#b5ff42"/><stop offset="0.063" stop-color="#c0ff37"/><stop offset="0.157" stop-color="#f2fb05"/><stop offset="0.198" stop-color="#ffe700"/><stop offset="0.313" stop-color="#ffa300"/><stop offset="0.409" stop-color="#ff6b00"/><stop offset="0.470" stop-color="#ff5300"/><stop offset="0.535" stop-color="#ff3d00"/><stop offset="0.574" stop-color="#ff4700"/><stop offset="0.626" stop-color="#ff6900"/><stop offset="0.660" stop-color="#ff9700"/><stop offset="0.689" stop-color="#ffda00"/><stop offset="0.699" stop-color="#f8f500"/><stop offset="0.703" stop-color="#efff08"/><stop offset="0.741" stop-color="#80ff77"/><stop offset="0.755" stop-color="#4affad"/><stop offset="0.767" stop-color="#10fae6"/><stop offset="0.772" stop-color="#00d5ff"/><stop offset="0.803" stop-color="#0000ff"/><stop offset="0.804" stop-color="#0000ff"/><stop offset="0.814" stop-color="#0000b4"/><stop offset="0.823" stop-color="#000080"/><stop offset="0.835" stop-color="#000080"/></linearGradient>
<rect x="382.00" y="167.5" width="4.60" height="287.5" fill="url(#h48)"/>
<linearGradient id="h49" x1="0" y1="0" x2="0" y2="1"><stop offset="0.000" stop-color="#b5ff42"/><stop offset="0.063" stop-color="#c0ff37"/><stop offset="0.157" stop-color="#f2fb05"/><stop offset="0.198" stop-color="#ffe700"/><stop offset="0.313" stop-color="#ffa300"/><stop offset="0.409" stop-color="#ff6b00"/><stop offset="0.470" stop-color="#ff5300"/><stop offset="0.535" stop-color="#ff3c00"/><stop offset="0.591" stop-color="#ff4e00"/><stop offset="0.626" stop-color="#ff6800"/><stop offset="0.661" stop-color="#ff9700"/><stop offset="0.689" stop-color="#ffd900"/><stop offset="0.699" stop-color="#f9f300"/><stop offset="0.704" stop-color="#efff08"/><stop offset="0.741" stop-color="#82ff75"/><stop offset="0.756" stop-color="#4affad"/><stop offset="0.767" stop-color="#10fae6"/><stop offset="0.772" stop-color="#00daff"/><stop offset="0.803" stop-color="#0005ff"/><stop offset="0.805" stop-color="#0000ff"/><stop offset="0.814" stop-color="#0000b8"/><stop offset="0.824" stop-color="#000080"/><stop offset="0.835" stop-color="#000080"/></linearGradient>
<rect x="386.00" y="167.5" width="4.60" height="287.5" fill="url(#h49)"/>
<linearGradient id="h50" x1="0" y1="0" x2="0" y2="1"><stop offset="0.000" stop-color="#acff4b"/><stop offset="0.063" stop-color="#bbff3c"/><stop offset="0.158" stop-color="#f1fc06"/><stop offset="0.209" stop-color="#ffe300"/><stop offset="0.409" stop-color="#ff6b00"/><stop offset="0.470" stop-color="#ff5300"/><stop offset="0.536" stop-color="#ff3c00"/><stop offset="0.574" stop-color="#ff4500"/><stop offset="0.626" stop-color="#ff6700"/><stop offset="0.661" stop-color="#ff9700"/><stop offset="0.699" stop-color="#fbf100"/><stop offset="0.705" stop-color="#efff08"/><stop offset="0.741" stop-color="#84ff73"/><stop offset="0.757" stop-color="#4affad"/><stop offset="0.768" stop-color="#10fae6"/><stop offset="0.772" stop-color="#00defd"/><stop offset="0.803" stop-color="#0009ff"/><stop offset="0.806" stop-color="#0000ff"/><stop offset="0.814" stop-color="#0000b9"/><stop offset="0.825" stop-color="#000080"/><stop offset="0.835" stop-color="#000080"/></linearGradient>
<rect x="390.00" y="167.5" width="4.60" height="287.5" fill="url(#h50)"/>
<linearGradient id="h51" x1="0" y1="0" x2="0" y2="1"><stop offset="0.000" stop-color="#9aff5c"/><stop offset="0.063" stop-color="#b1ff46"/><stop offset="0.158" stop-color="#edff0a"/><stop offset="0.188" stop-color="#fbf100"/><stop offset="0.409" stop-color="#ff6b00"/><stop offset="0.470" stop-color="#ff5300"/><stop offset="0.537" stop-color="#ff3b00"/><stop offset="0.592" stop-color="#ff4d00"/><stop offset="0.626" stop-color="#ff6600"/><stop offset="0.662" stop-color="#ff9700"/><stop offset="0.699" stop-color="#fcef00"/><stop offset="0.705" stop-color="#efff08"/><stop offset="0.741" stop-color="#86ff70"/><stop offset="0.758" stop-color="#4affad"/><stop offset="0.769" stop-color="#10fae6"/><stop offset="0.772" stop-color="#00e3f9"/><stop offset="0.803" stop-color="#000eff"/><stop offset="0.806" stop-color="#0000ff"/><stop offset="0.815" stop-color="#0000b9"/><stop offset="0.825" stop-color="#000080"/><stop offset="0.835" stop-color="#000080"/></linearGradient>
<rect x="394.00" y="167.5" width="4.60" height="287.5" fill="url(#h51)"/>
<linearGradient id="h52" x1="0" y1="0" x2="0" y2="1"><stop offset="0.000" stop-color="#88ff6e"/><stop offset="0.063" stop-color="#a7ff50"/><stop offset="0.167" stop-color="#eeff09"/><stop offset="0.198" stop-color="#fdee00"/><stop offset="0.386" stop-color="#ff7800"/><stop offset="0.511" stop-color="#ff4000"/><stop offset="0.553" stop-color="#ff3d00"/><stop offset="0.595" stop-color="#ff4d00"/><stop offset="0.626" stop-color="#ff6400"/><stop offset="0.663" stop-color="#ff9700"/><stop offset="0.699" stop-color="#feee00"/><stop offset="0.706" stop-color="#efff08"/><stop offset="0.741" stop-color="#89ff6e"/><stop offset="0.758" stop-color="#4affad"/><stop offset="0.769" stop-color="#10fae6"/><stop offset="0.772" stop-color="#02e7f5"/><stop offset="0.788" stop-color="#0080ff"/><stop offset="0.803" stop-color="#0013ff"/><stop offset="0.807" stop-color="#0000ff"/><stop offset="0.816" stop-color="#0000b9"/><stop offset="0.826" stop-color="#000080"/><stop offset="0.835" stop-color="#000080"/></linearGradient>
<rect x="398.00" y="167.5" width="4.60" height="287.5" fill="url(#h52)"/>
<linearGradient id="h53" x1="0" y1="0" x2="0" y2="1"><stop offset="0.000" stop-color="#77ff80"/><stop offset="0.063" stop-color="#9dff5a"/><stop offset="0.158" stop-color="#e6ff11"/><stop offset="0.188" stop-color="#f6f701"/><stop offset="0.219" stop-color="#ffe300"/><stop offset="0.365" stop-color="#ff8400"/><stop offset="0.428" stop-color="#ff6500"/><stop offset="0.532" stop-color="#ff3b00"/><stop offset="0.574" stop-color="#ff4300"/><stop offset="0.626" stop-color="#ff6400"/><stop offset="0.663" stop-color="#ff9800"/><stop offset="0.699" stop-color="#feed00"/><stop offset="0.706" stop-color="#eeff09"/><stop offset="0.730" stop-color="#aaff4c"/><stop offset="0.751" stop-color="#65ff92"/><stop offset="0.762" stop-color="#39ffbe"/><stop offset="0.770" stop-color="#10f9e7"/><stop offset="0.772" stop-color="#02e9f4"/><stop offset="0.788" stop-color="#007eff"/><stop offset="0.803" stop-color="#0014ff"/><stop offset="0.807" stop-color="#0000ff"/><stop offset="0.816" stop-color="#0000b8"/><stop offset="0.826" stop-color="#000080"/><stop offset="0.835" stop-color="#000080"/></linearGradient>
<rect x="402.00" y="167.5" width="4.60" height="287.5" fill="url(#h53)"/>
<linearGradient id="h54" x1="0" y1="0" x2="0" y2="1"><stop offset="0.000" stop-color="#65ff92"/><stop offset="0.063" stop-color="#93ff64"/><stop offset="0.158" stop-color="#e2ff15"/><stop offset="0.188" stop-color="#f3fa04"/><stop offset="0.219" stop-color="#ffe500"/><stop offset="0.344" stop-color="#ff8f00"/><stop offset="0.428" stop-color="#ff6500"/><stop offset="0.511" stop-color="#ff4000"/><stop offset="0.553" stop-color="#ff3c00"/><stop offset="0.595" stop-color="#ff4c00"/><stop offset="0.626" stop-color="#ff6300"/><stop offset="0.663" stop-color="#ff9700"/><stop offset="0.699" stop-color="#feed00"/><stop offset="0.706" stop-color="#efff08"/><stop offset="0.741" stop-color="#8aff6d"/><stop offset="0.759" stop-color="#4affad"/><stop offset="0.770" stop-color="#10fae6"/><stop offset="0.772" stop-color="#03eaf3"/><stop offset="0.783" stop-color="#00a4ff"/><stop offset="0.803" stop-color="#0015ff"/><stop offset="0.807" stop-color="#0000ff"/><stop offset="0.816" stop-color="#0000b9"/><stop offset="0.826" stop-color="#000080"/><stop offset="0.835" stop-color="#000080"/></linearGradient>
<rect x="406.00" y="167.5" width="4.60" height="287.5" fill="url(#h54)"/>
<linearGradient id="h55" x1="0" y1="0" x2="0" y2="1"><stop offset="0.000" stop-color="#5aff9d"/><stop offset="0.063" stop-color="#8bff6b"/><stop offset="0.157" stop-color="#deff19"/><stop offset="0.188" stop-color="#f1fc06"/><stop offset="0.219" stop-color="#ffe600"/><stop offset="0.344" stop-color="#ff8f00"/><stop offset="0.428" stop-color="#ff6400"/><stop offset="0.532" stop-color="#ff3a00"/><stop offset="0.574" stop-color="#ff4200"/><stop offset="0.626" stop-color="#ff6300"/><stop offset="0.663" stop-color="#ff9700"/><stop offset="0.699" stop-color="#ffec00"/><stop offset="0.706" stop-color="#efff08"/><stop offset="0.741" stop-color="#8aff6c"/><stop offset="0.759" stop-color="#4bffac"/><stop offset="0.770" stop-color="#11fbe5"/><stop offset="0.772" stop-color="#04ebf2"/><stop offset="0.783" stop-color="#00a6ff"/><stop offset="0.807" stop-color="#0000ff"/><stop offset="0.816" stop-color="#0000bb"/><stop offset="0.826" stop-color="#000080"/><stop offset="0.835" stop-color="#000080"/></linearGradient>
<rect x="410.00" y="167.5" width="4.60" height="287.5" fill="url(#h55)"/>
<linearGradient id="h56" x1="0" y1="0" x2="0" y2="1"><stop offset="0.000" stop-color="#55ffa2"/><stop offset="0.063" stop-color="#87ff70"/><stop offset="0.157" stop-color="#dbff1c"/><stop offset="0.188" stop-color="#f0fd07"/><stop offset="0.209" stop-color="#feee00"/><stop offset="0.339" stop-color="#ff9200"/><stop offset="0.428" stop-color="#ff6400"/><stop offset="0.532" stop-color="#ff3a00"/><stop offset="0.574" stop-color="#ff4100"/><stop offset="0.626" stop-color="#ff6300"/><stop offset="0.663" stop-color="#ff9700"/><stop offset="0.699" stop-color="#ffec00"/><stop offset="0.707" stop-color="#efff08"/><stop offset="0.741" stop-color="#8bff6c"/><stop offset="0.762" stop-color="#3cffbb"/><stop offset="0.770" stop-color="#10fae6"/><stop offset="0.772" stop-color="#05ecf1"/><stop offset="0.783" stop-color="#00a7ff"/><stop offset="0.808" stop-color="#0000ff"/><stop offset="0.816" stop-color="#0000b9"/><stop offset="0.827" stop-color="#000080"/><stop offset="0.835" stop-color="#000080"/></linearGradient>
<rect x="414.00" y="167.5" width="4.60" height="287.5" fill="url(#h56)"/>
<linearGradient id="h57" x1="0" y1="0" x2="0" y2="1"><stop offset="0.000" stop-color="#51ffa6"/><stop offset="0.063" stop-color="#82ff74"/><stop offset="0.167" stop-color="#e0ff17"/><stop offset="0.188" stop-color="#effe07"/><stop offset="0.209" stop-color="#fdee00"/><stop offset="0.339" stop-color="#ff9200"/><stop offset="0.428" stop-color="#ff6400"/><stop offset="0.511" stop-color="#ff3e00"/><stop offset="0.538" stop-color="#ff3800"/><stop offset="0.574" stop-color="#ff4100"/><stop offset="0.626" stop-color="#ff6200"/><stop offset="0.663" stop-color="#ff9700"/><stop offset="0.699" stop-color="#ffeb00"/><stop offset="0.707" stop-color="#eeff09"/><stop offset="0.741" stop-color="#8bff6b"/><stop offset="0.762" stop-color="#3dffba"/><stop offset="0.770" stop-color="#11fbe5"/><stop offset="0.772" stop-color="#06edf1"/><stop offset="0.783" stop-color="#00a8ff"/><stop offset="0.803" stop-color="#0019ff"/><stop offset="0.808" stop-color="#0000ff"/><stop offset="0.816" stop-color="#0000bb"/><stop offset="0.827" stop-color="#000080"/><stop offset="0.835" stop-color="#000080"/></linearGradient>
<rect x="418.00" y="167.5" width="4.60" height="287.5" fill="url(#h57)"/>
<linearGradient id="h58" x1="0" y1="0" x2="0" y2="1"><stop offset="0.000" stop-color="#4dffaa"/><stop offset="0.063" stop-color="#7fff78"/><stop offset="0.183" stop-color="#ebff0c"/><stop offset="0.209" stop-color="#fdee00"/><stop offset="0.339" stop-color="#ff9200"/><stop offset="0.428" stop-color="#ff6400"/><stop offset="0.532" stop-color="#ff3900"/><stop offset="0.574" stop-color="#ff4000"/><stop offset="0.626" stop-color="#ff6200"/><stop offset="0.664" stop-color="#ff9700"/><stop offset="0.699" stop-color="#ffeb00"/><stop offset="0.707" stop-color="#eeff08"/><stop offset="0.741" stop-color="#8cff6b"/><stop offset="0.762" stop-color="#3dffb9"/><stop offset="0.770" stop-color="#10fae6"/><stop offset="0.772" stop-color="#07eef0"/><stop offset="0.783" stop-color="#00a9ff"/><stop offset="0.803" stop-color="#001aff"/><stop offset="0.808" stop-color="#0000ff"/><stop offset="0.817" stop-color="#0000b9"/><stop offset="0.827" stop-color="#000080"/><stop offset="0.835" stop-color="#000080"/></linearGradient>
<rect x="422.00" y="167.5" width="3.60" height="287.5" fill="url(#h58)"/>
<linearGradient id="h59" x1="0" y1="0" x2="0" y2="1"><stop offset="0.000" stop-color="#1effd9"/><stop offset="0.037" stop-color="#18ffdf"/><stop offset="0.043" stop-color="#06edf1"/><stop offset="0.054" stop-color="#00c3ff"/><stop offset="0.073" stop-color="#0064ff"/><stop offset="0.096" stop-color="#0020ff"/><stop offset="0.113" stop-color="#0009ff"/><stop offset="0.125" stop-color="#0017ff"/><stop offset="0.136" stop-color="#0039ff"/><stop offset="0.151" stop-color="#008aff"/><stop offset="0.162" stop-color="#00c4ff"/><stop offset="0.167" stop-color="#00d5ff"/><stop offset="0.177" stop-color="#09f0ee"/><stop offset="0.183" stop-color="#14fee3"/><stop offset="0.200" stop-color="#2affcd"/><stop offset="0.221" stop-color="#76ff81"/><stop offset="0.235" stop-color="#b6ff41"/><stop offset="0.256" stop-color="#eeff09"/><stop offset="0.261" stop-color="#f5f701"/><stop offset="0.273" stop-color="#ffe300"/><stop offset="0.313" stop-color="#ffb100"/><stop offset="0.409" stop-color="#ff6d00"/><stop offset="0.511" stop-color="#ff3e00"/><stop offset="0.553" stop-color="#ff3a00"/><stop offset="0.595" stop-color="#ff4a00"/><stop offset="0.626" stop-color="#ff6100"/><stop offset="0.668" stop-color="#ffa000"/><stop offset="0.699" stop-color="#ffeb00"/><stop offset="0.707" stop-color="#efff08"/><stop offset="0.746" stop-color="#7cff7b"/><stop offset="0.762" stop-color="#3effb9"/><stop offset="0.770" stop-color="#11fae6"/><stop offset="0.772" stop-color="#08efef"/><stop offset="0.783" stop-color="#00aaff"/><stop offset="0.808" stop-color="#0000ff"/><stop offset="0.817" stop-color="#0000ba"/><stop offset="0.827" stop-color="#000080"/><stop offset="0.835" stop-color="#000080"/></linearGradient>
<rect x="425.00" y="167.5" width="2.60" height="287.5" fill="url(#h59)"/>
<linearGradient id="h60" x1="0" y1="0" x2="0" y2="1"><stop offset="0.000" stop-color="#20ffd6"/><stop offset="0.043" stop-color="#15ffe2"/><stop offset="0.054" stop-color="#00e3f9"/><stop offset="0.064" stop-color="#00c7ff"/><stop offset="0.085" stop-color="#0061ff"/><stop offset="0.106" stop-color="#0024ff"/><stop offset="0.123" stop-color="#000fff"/><stop offset="0.137" stop-color="#0038ff"/><stop offset="0.157" stop-color="#00a4ff"/><stop offset="0.165" stop-color="#00d1ff"/><stop offset="0.177" stop-color="#08efef"/><stop offset="0.186" stop-color="#19ffde"/><stop offset="0.203" stop-color="#31ffc5"/><stop offset="0.221" stop-color="#6bff8c"/><stop offset="0.240" stop-color="#baff3c"/><stop offset="0.256" stop-color="#eaff0c"/><stop offset="0.271" stop-color="#ffe800"/><stop offset="0.304" stop-color="#ffb800"/><stop offset="0.409" stop-color="#ff6d00"/><stop offset="0.511" stop-color="#ff3e00"/><stop offset="0.539" stop-color="#ff3700"/><stop offset="0.574" stop-color="#ff4000"/><stop offset="0.626" stop-color="#ff6100"/><stop offset="0.668" stop-color="#ffa000"/><stop offset="0.699" stop-color="#ffeb00"/><stop offset="0.707" stop-color="#eeff09"/><stop offset="0.741" stop-color="#8dff6a"/><stop offset="0.762" stop-color="#3effb8"/><stop offset="0.771" stop-color="#10f9e7"/><stop offset="0.772" stop-color="#08f0ef"/><stop offset="0.783" stop-color="#00aaff"/><stop offset="0.803" stop-color="#001bff"/><stop offset="0.808" stop-color="#0000ff"/><stop offset="0.817" stop-color="#0000b8"/><stop offset="0.827" stop-color="#000080"/><stop offset="0.835" stop-color="#000080"/></linearGradient>
<rect x="427.00" y="167.5" width="2.60" height="287.5" fill="url(#h60)"/>
<linearGradient id="h61" x1="0" y1="0" x2="0" y2="1"><stop offset="0.000" stop-color="#26ffd1"/><stop offset="0.043" stop-color="#16ffe0"/><stop offset="0.052" stop-color="#0df6ea"/><stop offset="0.064" stop-color="#00e0fb"/><stop offset="0.078" stop-color="#00beff"/><stop offset="0.117" stop-color="#003bff"/><stop offset="0.125" stop-color="#0031ff"/><stop offset="0.130" stop-color="#0031ff"/><stop offset="0.144" stop-color="#006eff"/><stop offset="0.158" stop-color="#00b8ff"/><stop offset="0.167" stop-color="#00d8ff"/><stop offset="0.177" stop-color="#0df5ea"/><stop offset="0.188" stop-color="#1effd9"/><stop offset="0.203" stop-color="#37ffc0"/><stop offset="0.221" stop-color="#65ff91"/><stop offset="0.240" stop-color="#b0ff47"/><stop offset="0.256" stop-color="#e5ff12"/><stop offset="0.261" stop-color="#eeff09"/><stop offset="0.273" stop-color="#ffe600"/><stop offset="0.304" stop-color="#ffb800"/><stop offset="0.409" stop-color="#ff6d00"/><stop offset="0.511" stop-color="#ff3d00"/><stop offset="0.553" stop-color="#ff3900"/><stop offset="0.595" stop-color="#ff4a00"/><stop offset="0.626" stop-color="#ff6100"/><stop offset="0.664" stop-color="#ff9700"/><stop offset="0.699" stop-color="#ffea00"/><stop offset="0.707" stop-color="#eeff08"/><stop offset="0.741" stop-color="#8dff6a"/><stop offset="0.762" stop-color="#3fffb8"/><stop offset="0.771" stop-color="#10f9e7"/><stop offset="0.772" stop-color="#09f0ee"/><stop offset="0.783" stop-color="#00abff"/><stop offset="0.803" stop-color="#001cff"/><stop offset="0.808" stop-color="#0000ff"/><stop offset="0.817" stop-color="#0000b9"/><stop offset="0.827" stop-color="#000080"/><stop offset="0.835" stop-color="#000080"/></linearGradient>
<rect x="429.00" y="167.5" width="2.60" height="287.5" fill="url(#h61)"/>
<linearGradient id="h62" x1="0" y1="0" x2="0" y2="1"><stop offset="0.000" stop-color="#2bffcc"/><stop offset="0.052" stop-color="#17ffe0"/><stop offset="0.078" stop-color="#00e5f7"/><stop offset="0.083" stop-color="#00d7ff"/><stop offset="0.099" stop-color="#00abff"/><stop offset="0.117" stop-color="#0066ff"/><stop offset="0.130" stop-color="#004aff"/><stop offset="0.137" stop-color="#005eff"/><stop offset="0.158" stop-color="#00c2ff"/><stop offset="0.167" stop-color="#00e2fa"/><stop offset="0.177" stop-color="#14fee3"/><stop offset="0.209" stop-color="#4affac"/><stop offset="0.221" stop-color="#66ff91"/><stop offset="0.256" stop-color="#deff19"/><stop offset="0.261" stop-color="#e9ff0e"/><stop offset="0.273" stop-color="#ffe900"/><stop offset="0.304" stop-color="#ffb800"/><stop offset="0.409" stop-color="#ff6d00"/><stop offset="0.511" stop-color="#ff3d00"/><stop offset="0.553" stop-color="#ff3900"/><stop offset="0.595" stop-color="#ff4900"/><stop offset="0.626" stop-color="#ff6100"/><stop offset="0.664" stop-color="#ff9700"/><stop offset="0.699" stop-color="#ffea00"/><stop offset="0.707" stop-color="#efff08"/><stop offset="0.741" stop-color="#8dff6a"/><stop offset="0.762" stop-color="#3fffb8"/><stop offset="0.771" stop-color="#10fae6"/><stop offset="0.772" stop-color="#09f1ee"/><stop offset="0.783" stop-color="#00abff"/><stop offset="0.808" stop-color="#0000ff"/><stop offset="0.814" stop-color="#0000d7"/><stop offset="0.817" stop-color="#0000b9"/><stop offset="0.827" stop-color="#000080"/><stop offset="0.835" stop-color="#000080"/></linearGradient>
<rect x="431.00" y="167.5" width="2.60" height="287.5" fill="url(#h62)"/>
<linearGradient id="h63" x1="0" y1="0" x2="0" y2="1"><stop offset="0.000" stop-color="#31ffc6"/><stop offset="0.063" stop-color="#1bffdb"/><stop offset="0.078" stop-color="#0ef7e8"/><stop offset="0.096" stop-color="#00e5f7"/><stop offset="0.099" stop-color="#00d9ff"/><stop offset="0.127" stop-color="#0070ff"/><stop offset="0.137" stop-color="#006bff"/><stop offset="0.158" stop-color="#00ccff"/><stop offset="0.165" stop-color="#08f0ef"/><stop offset="0.177" stop-color="#1dffda"/><stop offset="0.221" stop-color="#6cff8a"/><stop offset="0.240" stop-color="#a2ff55"/><stop offset="0.256" stop-color="#d6ff21"/><stop offset="0.261" stop-color="#e2ff15"/><stop offset="0.273" stop-color="#ffec00"/><stop offset="0.292" stop-color="#ffc900"/><stop offset="0.313" stop-color="#ffb100"/><stop offset="0.409" stop-color="#ff6d00"/><stop offset="0.511" stop-color="#ff3d00"/><stop offset="0.553" stop-color="#ff3900"/><stop offset="0.595" stop-color="#ff4900"/><stop offset="0.626" stop-color="#ff6000"/><stop offset="0.664" stop-color="#ff9700"/><stop offset="0.699" stop-color="#ffea00"/><stop offset="0.707" stop-color="#efff08"/><stop offset="0.746" stop-color="#7cff7b"/><stop offset="0.762" stop-color="#40ffb7"/><stop offset="0.771" stop-color="#11fae6"/><stop offset="0.772" stop-color="#09f1ed"/><stop offset="0.783" stop-color="#00acff"/><stop offset="0.808" stop-color="#0000ff"/><stop offset="0.814" stop-color="#0000d7"/><stop offset="0.817" stop-color="#0000ba"/><stop offset="0.827" stop-color="#000080"/><stop offset="0.835" stop-color="#000080"/></linearGradient>
<rect x="433.00" y="167.5" width="2.60" height="287.5" fill="url(#h63)"/>
<linearGradient id="h64" x1="0" y1="0" x2="0" y2="1"><stop offset="0.000" stop-color="#35ffc2"/><stop offset="0.078" stop-color="#1cffdb"/><stop offset="0.096" stop-color="#11fae6"/><stop offset="0.106" stop-color="#00e5f7"/><stop offset="0.115" stop-color="#00caff"/><stop offset="0.127" stop-color="#00a1ff"/><stop offset="0.136" stop-color="#0096ff"/><stop offset="0.146" stop-color="#00b4ff"/><stop offset="0.157" stop-color="#00e0fb"/><stop offset="0.165" stop-color="#15ffe2"/><stop offset="0.217" stop-color="#6bff8c"/><stop offset="0.240" stop-color="#a7ff50"/><stop offset="0.261" stop-color="#e2ff15"/><stop offset="0.271" stop-color="#faf200"/><stop offset="0.292" stop-color="#ffc900"/><stop offset="0.313" stop-color="#ffb100"/><stop offset="0.409" stop-color="#ff6d00"/><stop offset="0.511" stop-color="#ff3d00"/><stop offset="0.539" stop-color="#ff3600"/><stop offset="0.574" stop-color="#ff3e00"/><stop offset="0.626" stop-color="#ff6000"/><stop offset="0.668" stop-color="#ff9f00"/><stop offset="0.699" stop-color="#ffea00"/><stop offset="0.707" stop-color="#efff08"/><stop offset="0.741" stop-color="#8eff69"/><stop offset="0.762" stop-color="#40ffb7"/><stop offset="0.771" stop-color="#11fbe5"/><stop offset="0.772" stop-color="#0af2ed"/><stop offset="0.783" stop-color="#00adff"/><stop offset="0.808" stop-color="#0000ff"/><stop offset="0.814" stop-color="#0000d8"/><stop offset="0.817" stop-color="#0000bb"/><stop offset="0.827" stop-color="#000080"/><stop offset="0.835" stop-color="#000080"/></linearGradient>
<rect x="435.00" y="167.5" width="2.60" height="287.5" fill="url(#h64)"/>
<linearGradient id="h65" x1="0" y1="0" x2="0" y2="1"><stop offset="0.000" stop-color="#39ffbe"/><stop offset="0.096" stop-color="#21ffd5"/><stop offset="0.106" stop-color="#1dffda"/><stop offset="0.115" stop-color="#0af2ec"/><stop offset="0.125" stop-color="#00d6ff"/><stop offset="0.134" stop-color="#00bdff"/><stop offset="0.146" stop-color="#00d7ff"/><stop offset="0.151" stop-color="#04ebf3"/><stop offset="0.158" stop-color="#19ffde"/><stop offset="0.210" stop-color="#63ff94"/><stop offset="0.240" stop-color="#abff4c"/><stop offset="0.261" stop-color="#e1ff15"/><stop offset="0.273" stop-color="#fcf000"/><stop offset="0.292" stop-color="#ffc900"/><stop offset="0.313" stop-color="#ffb100"/><stop offset="0.409" stop-color="#ff6d00"/><stop offset="0.511" stop-color="#ff3d00"/><stop offset="0.553" stop-color="#ff3800"/><stop offset="0.595" stop-color="#ff4900"/><stop offset="0.626" stop-color="#ff6000"/><stop offset="0.664" stop-color="#ff9700"/><stop offset="0.699" stop-color="#ffe900"/><stop offset="0.710" stop-color="#eaff0d"/><stop offset="0.741" stop-color="#8eff69"/><stop offset="0.762" stop-color="#41ffb6"/><stop offset="0.771" stop-color="#10f9e7"/><stop offset="0.772" stop-color="#0af2ec"/><stop offset="0.783" stop-color="#00adff"/><stop offset="0.803" stop-color="#001eff"/><stop offset="0.809" stop-color="#0000ff"/><stop offset="0.817" stop-color="#0000b9"/><stop offset="0.828" stop-color="#000080"/><stop offset="0.835" stop-color="#000080"/></linearGradient>
<rect x="437.00" y="167.5" width="2.60" height="287.5" fill="url(#h65)"/>
<linearGradient id="h66" x1="0" y1="0" x2="0" y2="1"><stop offset="0.000" stop-color="#3dffb9"/><stop offset="0.104" stop-color="#28ffce"/><stop offset="0.123" stop-color="#0ff9e7"/><stop offset="0.134" stop-color="#00e3f9"/><stop offset="0.146" stop-color="#0ff8e8"/><stop offset="0.158" stop-color="#27ffd0"/><stop offset="0.210" stop-color="#6fff88"/><stop offset="0.252" stop-color="#dbff1c"/><stop offset="0.261" stop-color="#ebff0b"/><stop offset="0.270" stop-color="#fbf000"/><stop offset="0.292" stop-color="#ffc900"/><stop offset="0.313" stop-color="#ffb100"/><stop offset="0.409" stop-color="#ff6d00"/><stop offset="0.511" stop-color="#ff3c00"/><stop offset="0.553" stop-color="#ff3800"/><stop offset="0.595" stop-color="#ff4800"/><stop offset="0.637" stop-color="#ff6d00"/><stop offset="0.668" stop-color="#ff9f00"/><stop offset="0.699" stop-color="#ffe900"/><stop offset="0.710" stop-color="#eaff0d"/><stop offset="0.741" stop-color="#8eff69"/><stop offset="0.762" stop-color="#41ffb6"/><stop offset="0.771" stop-color="#10fae6"/><stop offset="0.783" stop-color="#00aeff"/><stop offset="0.809" stop-color="#0000ff"/><stop offset="0.814" stop-color="#0000da"/><stop offset="0.817" stop-color="#0000b9"/><stop offset="0.828" stop-color="#000080"/><stop offset="0.835" stop-color="#000080"/></linearGradient>
<rect x="439.00" y="167.5" width="2.60" height="287.5" fill="url(#h66)"/>
<linearGradient id="h67" x1="0" y1="0" x2="0" y2="1"><stop offset="0.000" stop-color="#42ffb5"/><stop offset="0.113" stop-color="#31ffc5"/><stop offset="0.136" stop-color="#1fffd8"/><stop offset="0.188" stop-color="#5aff9d"/><stop offset="0.210" stop-color="#7bff7b"/><stop offset="0.252" stop-color="#e8ff0f"/><stop offset="0.266" stop-color="#fdee00"/><stop offset="0.304" stop-color="#ffb800"/><stop offset="0.409" stop-color="#ff6d00"/><stop offset="0.511" stop-color="#ff3c00"/><stop offset="0.553" stop-color="#ff3800"/><stop offset="0.595" stop-color="#ff4800"/><stop offset="0.626" stop-color="#ff5f00"/><stop offset="0.668" stop-color="#ff9f00"/><stop offset="0.699" stop-color="#ffe900"/><stop offset="0.710" stop-color="#eaff0d"/><stop offset="0.747" stop-color="#7cff7b"/><stop offset="0.762" stop-color="#41ffb5"/><stop offset="0.771" stop-color="#11fae6"/><stop offset="0.772" stop-color="#0bf4eb"/><stop offset="0.783" stop-color="#00aeff"/><stop offset="0.809" stop-color="#0000ff"/><stop offset="0.814" stop-color="#0000db"/><stop offset="0.817" stop-color="#0000ba"/><stop offset="0.828" stop-color="#000080"/><stop offset="0.835" stop-color="#000080"/></linearGradient>
<rect x="441.00" y="167.5" width="2.60" height="287.5" fill="url(#h67)"/>
<linearGradient id="h68" x1="0" y1="0" x2="0" y2="1"><stop offset="0.000" stop-color="#45ffb2"/><stop offset="0.115" stop-color="#37ffc0"/><stop offset="0.137" stop-color="#2cffcb"/><stop offset="0.183" stop-color="#5cff9b"/><stop offset="0.209" stop-color="#87ff70"/><stop offset="0.240" stop-color="#d7ff1f"/><stop offset="0.252" stop-color="#eeff08"/><stop offset="0.270" stop-color="#ffe600"/><stop offset="0.313" stop-color="#ffb100"/><stop offset="0.409" stop-color="#ff6d00"/><stop offset="0.512" stop-color="#ff3c00"/><stop offset="0.539" stop-color="#ff3500"/><stop offset="0.574" stop-color="#ff3d00"/><stop offset="0.626" stop-color="#ff6000"/><stop offset="0.665" stop-color="#ff9800"/><stop offset="0.699" stop-color="#ffe900"/><stop offset="0.710" stop-color="#eaff0d"/><stop offset="0.741" stop-color="#8fff68"/><stop offset="0.762" stop-color="#42ffb5"/><stop offset="0.771" stop-color="#11fbe5"/><stop offset="0.783" stop-color="#00afff"/><stop offset="0.803" stop-color="#0020ff"/><stop offset="0.809" stop-color="#0000ff"/><stop offset="0.814" stop-color="#0000dc"/><stop offset="0.818" stop-color="#0000b8"/><stop offset="0.828" stop-color="#000080"/><stop offset="0.835" stop-color="#000080"/></linearGradient>
<rect x="443.00" y="167.5" width="2.60" height="287.5" fill="url(#h68)"/>
<linearGradient id="h69" x1="0" y1="0" x2="0" y2="1"><stop offset="0.000" stop-color="#48ffae"/><stop offset="0.115" stop-color="#3effb9"/><stop offset="0.137" stop-color="#38ffbf"/><stop offset="0.167" stop-color="#51ffa6"/><stop offset="0.200" stop-color="#7fff78"/><stop offset="0.235" stop-color="#dbff1c"/><stop offset="0.252" stop-color="#f5f802"/><stop offset="0.270" stop-color="#ffe400"/><stop offset="0.313" stop-color="#ffb100"/><stop offset="0.409" stop-color="#ff6d00"/><stop offset="0.512" stop-color="#ff3c00"/><stop offset="0.553" stop-color="#ff3700"/><stop offset="0.595" stop-color="#ff4800"/><stop offset="0.626" stop-color="#ff5f00"/><stop offset="0.668" stop-color="#ff9e00"/><stop offset="0.699" stop-color="#ffe900"/><stop offset="0.710" stop-color="#eaff0c"/><stop offset="0.741" stop-color="#8fff68"/><stop offset="0.762" stop-color="#42ffb4"/><stop offset="0.772" stop-color="#0cf5eb"/><stop offset="0.783" stop-color="#00afff"/><stop offset="0.809" stop-color="#0000ff"/><stop offset="0.814" stop-color="#0000dc"/><stop offset="0.818" stop-color="#0000b9"/><stop offset="0.828" stop-color="#000080"/><stop offset="0.835" stop-color="#000080"/></linearGradient>
<rect x="445.00" y="167.5" width="2.60" height="287.5" fill="url(#h69)"/>
<linearGradient id="h70" x1="0" y1="0" x2="0" y2="1"><stop offset="0.000" stop-color="#4bffab"/><stop offset="0.137" stop-color="#42ffb5"/><stop offset="0.167" stop-color="#59ff9e"/><stop offset="0.200" stop-color="#87ff70"/><stop offset="0.235" stop-color="#e3ff14"/><stop offset="0.252" stop-color="#f9f300"/><stop offset="0.271" stop-color="#ffe100"/><stop offset="0.313" stop-color="#ffb100"/><stop offset="0.409" stop-color="#ff6d00"/><stop offset="0.512" stop-color="#ff3b00"/><stop offset="0.553" stop-color="#ff3700"/><stop offset="0.595" stop-color="#ff4800"/><stop offset="0.626" stop-color="#ff5f00"/><stop offset="0.668" stop-color="#ff9e00"/><stop offset="0.699" stop-color="#ffe800"/><stop offset="0.710" stop-color="#ebff0c"/><stop offset="0.741" stop-color="#8fff67"/><stop offset="0.762" stop-color="#43ffb4"/><stop offset="0.771" stop-color="#10fae6"/><stop offset="0.783" stop-color="#00b0ff"/><stop offset="0.803" stop-color="#0021ff"/><stop offset="0.809" stop-color="#0000ff"/><stop offset="0.814" stop-color="#0000dd"/><stop offset="0.818" stop-color="#0000b9"/><stop offset="0.828" stop-color="#000080"/><stop offset="0.835" stop-color="#000080"/></linearGradient>
<rect x="447.00" y="167.5" width="2.60" height="287.5" fill="url(#h70)"/>
<linearGradient id="h71" x1="0" y1="0" x2="0" y2="1"><stop offset="0.000" stop-color="#50ffa7"/><stop offset="0.137" stop-color="#4dffa9"/><stop offset="0.167" stop-color="#64ff92"/><stop offset="0.200" stop-color="#91ff66"/><stop offset="0.235" stop-color="#e5ff11"/><stop offset="0.252" stop-color="#faf200"/><stop offset="0.292" stop-color="#ffc900"/><stop offset="0.344" stop-color="#ff9900"/><stop offset="0.428" stop-color="#ff6500"/><stop offset="0.512" stop-color="#ff3b00"/><stop offset="0.553" stop-color="#ff3700"/><stop offset="0.595" stop-color="#ff4700"/><stop offset="0.626" stop-color="#ff5f00"/><stop offset="0.665" stop-color="#ff9700"/><stop offset="0.699" stop-color="#ffe800"/><stop offset="0.710" stop-color="#ebff0c"/><stop offset="0.741" stop-color="#90ff67"/><stop offset="0.762" stop-color="#44ffb3"/><stop offset="0.771" stop-color="#11fbe6"/><stop offset="0.783" stop-color="#00b1ff"/><stop offset="0.809" stop-color="#0000ff"/><stop offset="0.814" stop-color="#0000de"/><stop offset="0.818" stop-color="#0000bb"/><stop offset="0.828" stop-color="#000080"/><stop offset="0.835" stop-color="#000080"/></linearGradient>
<rect x="449.00" y="167.5" width="4.60" height="287.5" fill="url(#h71)"/>
<linearGradient id="h72" x1="0" y1="0" x2="0" y2="1"><stop offset="0.000" stop-color="#56ffa1"/><stop offset="0.137" stop-color="#5dff9a"/><stop offset="0.167" stop-color="#74ff83"/><stop offset="0.200" stop-color="#9fff58"/><stop offset="0.235" stop-color="#e9ff0e"/><stop offset="0.250" stop-color="#f9f300"/><stop offset="0.282" stop-color="#ffd500"/><stop offset="0.323" stop-color="#ffab00"/><stop offset="0.428" stop-color="#ff6500"/><stop offset="0.512" stop-color="#ff3b00"/><stop offset="0.553" stop-color="#ff3600"/><stop offset="0.595" stop-color="#ff4700"/><stop offset="0.627" stop-color="#ff5f00"/><stop offset="0.665" stop-color="#ff9700"/><stop offset="0.699" stop-color="#ffe800"/><stop offset="0.710" stop-color="#ecff0b"/><stop offset="0.741" stop-color="#90ff66"/><stop offset="0.762" stop-color="#44ffb2"/><stop offset="0.772" stop-color="#0ef7e8"/><stop offset="0.783" stop-color="#00b2ff"/><stop offset="0.809" stop-color="#0000ff"/><stop offset="0.814" stop-color="#0000e0"/><stop offset="0.818" stop-color="#0000b9"/><stop offset="0.829" stop-color="#000080"/><stop offset="0.835" stop-color="#000080"/></linearGradient>
<rect x="453.00" y="167.5" width="4.60" height="287.5" fill="url(#h72)"/>
<linearGradient id="h73" x1="0" y1="0" x2="0" y2="1"><stop offset="0.000" stop-color="#5bff9b"/><stop offset="0.137" stop-color="#6cff8a"/><stop offset="0.167" stop-color="#84ff73"/><stop offset="0.200" stop-color="#acff4a"/><stop offset="0.235" stop-color="#ecff0b"/><stop offset="0.252" stop-color="#fdef00"/><stop offset="0.344" stop-color="#ff9c00"/><stop offset="0.428" stop-color="#ff6600"/><stop offset="0.512" stop-color="#ff3a00"/><stop offset="0.553" stop-color="#ff3600"/><stop offset="0.595" stop-color="#ff4600"/><stop offset="0.627" stop-color="#ff5e00"/><stop offset="0.665" stop-color="#ff9700"/><stop offset="0.699" stop-color="#ffe700"/><stop offset="0.710" stop-color="#ecff0b"/><stop offset="0.741" stop-color="#91ff66"/><stop offset="0.762" stop-color="#45ffb1"/><stop offset="0.772" stop-color="#0ff8e7"/><stop offset="0.783" stop-color="#00b3ff"/><stop offset="0.809" stop-color="#0000ff"/><stop offset="0.814" stop-color="#0000e2"/><stop offset="0.818" stop-color="#0000bb"/><stop offset="0.829" stop-color="#000080"/><stop offset="0.835" stop-color="#000080"/></linearGradient>
<rect x="457.00" y="167.5" width="4.60" height="287.5" fill="url(#h73)"/>
<linearGradient id="h74" x1="0" y1="0" x2="0" y2="1"><stop offset="0.000" stop-color="#61ff96"/><stop offset="0.104" stop-color="#73ff84"/><stop offset="0.148" stop-color="#82ff75"/><stop offset="0.200" stop-color="#baff3d"/><stop offset="0.235" stop-color="#effe07"/><stop offset="0.252" stop-color="#feed00"/><stop offset="0.365" stop-color="#ff8e00"/><stop offset="0.490" stop-color="#ff4300"/><stop offset="0.540" stop-color="#ff3300"/><stop offset="0.574" stop-color="#ff3b00"/><stop offset="0.627" stop-color="#ff5e00"/><stop offset="0.668" stop-color="#ff9d00"/><stop offset="0.699" stop-color="#ffe700"/><stop offset="0.710" stop-color="#edff0a"/><stop offset="0.741" stop-color="#91ff65"/><stop offset="0.762" stop-color="#46ffb1"/><stop offset="0.772" stop-color="#10fae7"/><stop offset="0.783" stop-color="#00b4ff"/><stop offset="0.810" stop-color="#0000ff"/><stop offset="0.814" stop-color="#0000e3"/><stop offset="0.818" stop-color="#0000b9"/><stop offset="0.829" stop-color="#000080"/><stop offset="0.835" stop-color="#000080"/></linearGradient>
<rect x="461.00" y="167.5" width="4.60" height="287.5" fill="url(#h74)"/>
<linearGradient id="h75" x1="0" y1="0" x2="0" y2="1"><stop offset="0.000" stop-color="#67ff90"/><stop offset="0.094" stop-color="#7bff7c"/><stop offset="0.157" stop-color="#99ff5e"/><stop offset="0.200" stop-color="#c8ff2f"/><stop offset="0.230" stop-color="#edff0a"/><stop offset="0.240" stop-color="#f7f600"/><stop offset="0.261" stop-color="#ffe500"/><stop offset="0.365" stop-color="#ff8f00"/><stop offset="0.490" stop-color="#ff4300"/><stop offset="0.540" stop-color="#ff3300"/><stop offset="0.574" stop-color="#ff3a00"/><stop offset="0.627" stop-color="#ff5e00"/><stop offset="0.668" stop-color="#ff9c00"/><stop offset="0.699" stop-color="#ffe600"/><stop offset="0.710" stop-color="#edff0a"/><stop offset="0.741" stop-color="#92ff65"/><stop offset="0.762" stop-color="#47ffb0"/><stop offset="0.772" stop-color="#11fbe6"/><stop offset="0.783" stop-color="#00b5ff"/><stop offset="0.810" stop-color="#0000ff"/><stop offset="0.814" stop-color="#0000e5"/><stop offset="0.818" stop-color="#0000bb"/><stop offset="0.829" stop-color="#000080"/><stop offset="0.835" stop-color="#000080"/></linearGradient>
<rect x="465.00" y="167.5" width="4.60" height="287.5" fill="url(#h75)"/>
<linearGradient id="h76" x1="0" y1="0" x2="0" y2="1"><stop offset="0.000" stop-color="#6cff8b"/><stop offset="0.094" stop-color="#84ff73"/><stop offset="0.157" stop-color="#a5ff52"/><stop offset="0.230" stop-color="#f1fd06"/><stop offset="0.252" stop-color="#ffea00"/><stop offset="0.386" stop-color="#ff8100"/><stop offset="0.513" stop-color="#ff3900"/><stop offset="0.553" stop-color="#ff3400"/><stop offset="0.596" stop-color="#ff4500"/><stop offset="0.627" stop-color="#ff5e00"/><stop offset="0.666" stop-color="#ff9700"/><stop offset="0.699" stop-color="#ffe600"/><stop offset="0.710" stop-color="#edff09"/><stop offset="0.741" stop-color="#93ff64"/><stop offset="0.762" stop-color="#48ffaf"/><stop offset="0.773" stop-color="#10fae7"/><stop offset="0.783" stop-color="#00b7ff"/><stop offset="0.803" stop-color="#0028ff"/><stop offset="0.810" stop-color="#0000ff"/><stop offset="0.814" stop-color="#0000e6"/><stop offset="0.819" stop-color="#0000b9"/><stop offset="0.829" stop-color="#000080"/><stop offset="0.835" stop-color="#000080"/></linearGradient>
<rect x="469.00" y="167.5" width="4.60" height="287.5" fill="url(#h76)"/>
<linearGradient id="h77" x1="0" y1="0" x2="0" y2="1"><stop offset="0.000" stop-color="#71ff86"/><stop offset="0.094" stop-color="#88ff6f"/><stop offset="0.157" stop-color="#a9ff4d"/><stop offset="0.230" stop-color="#f1fd06"/><stop offset="0.252" stop-color="#ffeb00"/><stop offset="0.365" stop-color="#ff9000"/><stop offset="0.490" stop-color="#ff4200"/><stop offset="0.541" stop-color="#ff3200"/><stop offset="0.574" stop-color="#ff3900"/><stop offset="0.628" stop-color="#ff5d00"/><stop offset="0.668" stop-color="#ff9b00"/><stop offset="0.699" stop-color="#ffe500"/><stop offset="0.710" stop-color="#eeff09"/><stop offset="0.741" stop-color="#93ff64"/><stop offset="0.762" stop-color="#49ffae"/><stop offset="0.773" stop-color="#10f9e7"/><stop offset="0.783" stop-color="#00b8ff"/><stop offset="0.810" stop-color="#0000ff"/><stop offset="0.814" stop-color="#0000e9"/><stop offset="0.819" stop-color="#0000b9"/><stop offset="0.830" stop-color="#000080"/><stop offset="0.835" stop-color="#000080"/></linearGradient>
<rect x="473.00" y="167.5" width="7.60" height="287.5" fill="url(#h77)"/>
<linearGradient id="h78" x1="0" y1="0" x2="0" y2="1"><stop offset="0.000" stop-color="#76ff80"/><stop offset="0.094" stop-color="#8eff69"/><stop offset="0.157" stop-color="#afff48"/><stop offset="0.230" stop-color="#f1fd06"/><stop offset="0.252" stop-color="#ffeb00"/><stop offset="0.365" stop-color="#ff9000"/><stop offset="0.490" stop-color="#ff4200"/><stop offset="0.541" stop-color="#ff3100"/><stop offset="0.574" stop-color="#ff3900"/><stop offset="0.628" stop-color="#ff5d00"/><stop offset="0.668" stop-color="#ff9b00"/><stop offset="0.699" stop-color="#ffe500"/><stop offset="0.710" stop-color="#efff08"/><stop offset="0.749" stop-color="#7cff7b"/><stop offset="0.762" stop-color="#4affac"/><stop offset="0.772" stop-color="#14ffe2"/><stop offset="0.783" stop-color="#00baff"/><stop offset="0.810" stop-color="#0000ff"/><stop offset="0.814" stop-color="#0000eb"/><stop offset="0.819" stop-color="#0000ba"/><stop offset="0.830" stop-color="#000080"/><stop offset="0.835" stop-color="#000080"/></linearGradient>
<rect x="480.00" y="167.5" width="7.60" height="287.5" fill="url(#h78)"/>
<linearGradient id="h79" x1="0" y1="0" x2="0" y2="1"><stop offset="0.000" stop-color="#7cff7b"/><stop offset="0.094" stop-color="#94ff63"/><stop offset="0.157" stop-color="#b4ff43"/><stop offset="0.230" stop-color="#f1fd06"/><stop offset="0.261" stop-color="#ffe500"/><stop offset="0.365" stop-color="#ff9000"/><stop offset="0.486" stop-color="#ff4500"/><stop offset="0.541" stop-color="#ff3200"/><stop offset="0.574" stop-color="#ff3900"/><stop offset="0.628" stop-color="#ff5d00"/><stop offset="0.668" stop-color="#ff9b00"/><stop offset="0.699" stop-color="#ffe400"/><stop offset="0.710" stop-color="#eeff09"/><stop offset="0.741" stop-color="#94ff62"/><stop offset="0.762" stop-color="#49ffad"/><stop offset="0.772" stop-color="#15ffe2"/><stop offset="0.783" stop-color="#00bbff"/><stop offset="0.811" stop-color="#0000ff"/><stop offset="0.814" stop-color="#0000ec"/><stop offset="0.819" stop-color="#0000b9"/><stop offset="0.830" stop-color="#000080"/><stop offset="0.835" stop-color="#000080"/></linearGradient>
<rect x="487.00" y="167.5" width="7.60" height="287.5" fill="url(#h79)"/>
<linearGradient id="h80" x1="0" y1="0" x2="0" y2="1"><stop offset="0.000" stop-color="#82ff75"/><stop offset="0.094" stop-color="#99ff5d"/><stop offset="0.167" stop-color="#c1ff36"/><stop offset="0.230" stop-color="#f1fd06"/><stop offset="0.261" stop-color="#ffe500"/><stop offset="0.365" stop-color="#ff9000"/><stop offset="0.486" stop-color="#ff4500"/><stop offset="0.541" stop-color="#ff3200"/><stop offset="0.574" stop-color="#ff3900"/><stop offset="0.628" stop-color="#ff5d00"/><stop offset="0.668" stop-color="#ff9a00"/><stop offset="0.699" stop-color="#ffe400"/><stop offset="0.710" stop-color="#efff08"/><stop offset="0.741" stop-color="#95ff62"/><stop offset="0.762" stop-color="#4affad"/><stop offset="0.772" stop-color="#16ffe1"/><stop offset="0.783" stop-color="#00bcff"/><stop offset="0.811" stop-color="#0000ff"/><stop offset="0.814" stop-color="#0000ee"/><stop offset="0.819" stop-color="#0000ba"/><stop offset="0.830" stop-color="#000080"/><stop offset="0.835" stop-color="#000080"/></linearGradient>
<rect x="494.00" y="167.5" width="7.60" height="287.5" fill="url(#h80)"/>
<linearGradient id="h81" x1="0" y1="0" x2="0" y2="1"><stop offset="0.000" stop-color="#84ff73"/><stop offset="0.094" stop-color="#9bff5b"/><stop offset="0.167" stop-color="#c3ff34"/><stop offset="0.230" stop-color="#f1fd06"/><stop offset="0.261" stop-color="#ffe500"/><stop offset="0.365" stop-color="#ff9000"/><stop offset="0.486" stop-color="#ff4500"/><stop offset="0.542" stop-color="#ff3200"/><stop offset="0.574" stop-color="#ff3900"/><stop offset="0.629" stop-color="#ff5e00"/><stop offset="0.668" stop-color="#ff9a00"/><stop offset="0.699" stop-color="#ffe400"/><stop offset="0.710" stop-color="#eeff09"/><stop offset="0.741" stop-color="#95ff61"/><stop offset="0.762" stop-color="#49ffae"/><stop offset="0.772" stop-color="#17ffe0"/><stop offset="0.783" stop-color="#00bdff"/><stop offset="0.811" stop-color="#0000ff"/><stop offset="0.814" stop-color="#0000ef"/><stop offset="0.820" stop-color="#0000b9"/><stop offset="0.830" stop-color="#000080"/><stop offset="0.835" stop-color="#000080"/></linearGradient>
<rect x="501.00" y="167.5" width="7.60" height="287.5" fill="url(#h81)"/>
<linearGradient id="h82" x1="0" y1="0" x2="0" y2="1"><stop offset="0.000" stop-color="#84ff73"/><stop offset="0.094" stop-color="#9bff5b"/><stop offset="0.167" stop-color="#c3ff34"/><stop offset="0.230" stop-color="#f1fd06"/><stop offset="0.261" stop-color="#ffe500"/><stop offset="0.365" stop-color="#ff9000"/><stop offset="0.449" stop-color="#ff5c00"/><stop offset="0.514" stop-color="#ff3900"/><stop offset="0.553" stop-color="#ff3400"/><stop offset="0.597" stop-color="#ff4500"/><stop offset="0.637" stop-color="#ff6900"/><stop offset="0.668" stop-color="#ff9900"/><stop offset="0.699" stop-color="#ffe300"/><stop offset="0.710" stop-color="#efff08"/><stop offset="0.741" stop-color="#96ff61"/><stop offset="0.762" stop-color="#4affad"/><stop offset="0.772" stop-color="#18ffdf"/><stop offset="0.774" stop-color="#10fae6"/><stop offset="0.783" stop-color="#00beff"/><stop offset="0.811" stop-color="#0000ff"/><stop offset="0.814" stop-color="#0000f1"/><stop offset="0.820" stop-color="#0000b9"/><stop offset="0.830" stop-color="#000080"/><stop offset="0.835" stop-color="#000080"/></linearGradient>
<rect x="508.00" y="167.5" width="7.60" height="287.5" fill="url(#h82)"/>
<linearGradient id="h83" x1="0" y1="0" x2="0" y2="1"><stop offset="0.000" stop-color="#84ff73"/><stop offset="0.094" stop-color="#9bff5b"/><stop offset="0.167" stop-color="#c3ff34"/><stop offset="0.230" stop-color="#f1fd06"/><stop offset="0.261" stop-color="#ffe500"/><stop offset="0.365" stop-color="#ff9000"/><stop offset="0.449" stop-color="#ff5c00"/><stop offset="0.514" stop-color="#ff3900"/><stop offset="0.553" stop-color="#ff3400"/><stop offset="0.597" stop-color="#ff4600"/><stop offset="0.637" stop-color="#ff6800"/><stop offset="0.668" stop-color="#ff9900"/><stop offset="0.699" stop-color="#ffe300"/><stop offset="0.710" stop-color="#efff08"/><stop offset="0.741" stop-color="#96ff60"/><stop offset="0.762" stop-color="#4bffac"/><stop offset="0.774" stop-color="#11fbe6"/><stop offset="0.783" stop-color="#00bfff"/><stop offset="0.811" stop-color="#0000ff"/><stop offset="0.814" stop-color="#0000f2"/><stop offset="0.820" stop-color="#0000bb"/><stop offset="0.830" stop-color="#000080"/><stop offset="0.835" stop-color="#000080"/></linearGradient>
<rect x="515.00" y="167.5" width="7.60" height="287.5" fill="url(#h83)"/>
<linearGradient id="h84" x1="0" y1="0" x2="0" y2="1"><stop offset="0.000" stop-color="#84ff73"/><stop offset="0.094" stop-color="#9bff5b"/><stop offset="0.167" stop-color="#c3ff34"/><stop offset="0.230" stop-color="#f1fd06"/><stop offset="0.261" stop-color="#ffe500"/><stop offset="0.365" stop-color="#ff9000"/><stop offset="0.449" stop-color="#ff5c00"/><stop offset="0.514" stop-color="#ff3900"/><stop offset="0.553" stop-color="#ff3500"/><stop offset="0.598" stop-color="#ff4600"/><stop offset="0.637" stop-color="#ff6800"/><stop offset="0.668" stop-color="#ff9900"/><stop offset="0.699" stop-color="#ffe200"/><stop offset="0.711" stop-color="#eeff08"/><stop offset="0.741" stop-color="#97ff60"/><stop offset="0.763" stop-color="#4affad"/><stop offset="0.772" stop-color="#19ffde"/><stop offset="0.774" stop-color="#10fae7"/><stop offset="0.783" stop-color="#00c0ff"/><stop offset="0.811" stop-color="#0000ff"/><stop offset="0.814" stop-color="#0000f3"/><stop offset="0.820" stop-color="#0000b9"/><stop offset="0.831" stop-color="#000080"/><stop offset="0.835" stop-color="#000080"/></linearGradient>
<rect x="522.00" y="167.5" width="7.60" height="287.5" fill="url(#h84)"/>
<linearGradient id="h85" x1="0" y1="0" x2="0" y2="1"><stop offset="0.000" stop-color="#84ff73"/><stop offset="0.094" stop-color="#9bff5b"/><stop offset="0.167" stop-color="#c3ff34"/><stop offset="0.230" stop-color="#f1fd06"/><stop offset="0.261" stop-color="#ffe500"/><stop offset="0.365" stop-color="#ff9000"/><stop offset="0.449" stop-color="#ff5c00"/><stop offset="0.514" stop-color="#ff3a00"/><stop offset="0.553" stop-color="#ff3500"/><stop offset="0.598" stop-color="#ff4600"/><stop offset="0.637" stop-color="#ff6800"/><stop offset="0.668" stop-color="#ff9800"/><stop offset="0.699" stop-color="#ffe200"/><stop offset="0.711" stop-color="#efff08"/><stop offset="0.750" stop-color="#7cff7b"/><stop offset="0.763" stop-color="#4affac"/><stop offset="0.774" stop-color="#11fbe6"/><stop offset="0.783" stop-color="#00c1ff"/><stop offset="0.811" stop-color="#0000ff"/><stop offset="0.814" stop-color="#0000f5"/><stop offset="0.820" stop-color="#0000ba"/><stop offset="0.831" stop-color="#000080"/><stop offset="0.835" stop-color="#000080"/></linearGradient>
<rect x="529.00" y="167.5" width="7.60" height="287.5" fill="url(#h85)"/>
<linearGradient id="h86" x1="0" y1="0" x2="0" y2="1"><stop offset="0.000" stop-color="#84ff73"/><stop offset="0.094" stop-color="#9bff5b"/><stop offset="0.167" stop-color="#c3ff34"/><stop offset="0.230" stop-color="#f1fd06"/><stop offset="0.261" stop-color="#ffe500"/><stop offset="0.365" stop-color="#ff9000"/><stop offset="0.428" stop-color="#ff6700"/><stop offset="0.514" stop-color="#ff3a00"/><stop offset="0.553" stop-color="#ff3500"/><stop offset="0.598" stop-color="#ff4600"/><stop offset="0.637" stop-color="#ff6800"/><stop offset="0.668" stop-color="#ff9800"/><stop offset="0.699" stop-color="#ffe200"/><stop offset="0.711" stop-color="#eeff08"/><stop offset="0.741" stop-color="#98ff5f"/><stop offset="0.763" stop-color="#4affad"/><stop offset="0.772" stop-color="#1bffdc"/><stop offset="0.774" stop-color="#10f9e7"/><stop offset="0.783" stop-color="#00c2ff"/><stop offset="0.812" stop-color="#0000ff"/><stop offset="0.814" stop-color="#0000f6"/><stop offset="0.821" stop-color="#0000b9"/><stop offset="0.831" stop-color="#000080"/><stop offset="0.835" stop-color="#000080"/></linearGradient>
<rect x="536.00" y="167.5" width="7.60" height="287.5" fill="url(#h86)"/>
<linearGradient id="h87" x1="0" y1="0" x2="0" y2="1"><stop offset="0.000" stop-color="#64ff93"/><stop offset="0.052" stop-color="#7dff7a"/><stop offset="0.136" stop-color="#afff48"/><stop offset="0.230" stop-color="#f1fd06"/><stop offset="0.261" stop-color="#ffe500"/><stop offset="0.365" stop-color="#ff9000"/><stop offset="0.428" stop-color="#ff6700"/><stop offset="0.514" stop-color="#ff3a00"/><stop offset="0.553" stop-color="#ff3500"/><stop offset="0.598" stop-color="#ff4600"/><stop offset="0.637" stop-color="#ff6800"/><stop offset="0.668" stop-color="#ff9800"/><stop offset="0.699" stop-color="#ffe100"/><stop offset="0.711" stop-color="#efff08"/><stop offset="0.750" stop-color="#7cff7b"/><stop offset="0.763" stop-color="#4affad"/><stop offset="0.772" stop-color="#1cffdb"/><stop offset="0.774" stop-color="#11fae6"/><stop offset="0.783" stop-color="#00c3ff"/><stop offset="0.812" stop-color="#0000ff"/><stop offset="0.814" stop-color="#0000f8"/><stop offset="0.821" stop-color="#0000ba"/><stop offset="0.831" stop-color="#000080"/><stop offset="0.835" stop-color="#000080"/></linearGradient>
<rect x="543.00" y="167.5" width="7.60" height="287.5" fill="url(#h87)"/>
<linearGradient id="h88" x1="0" y1="0" x2="0" y2="1"><stop offset="0.000" stop-color="#61ff95"/><stop offset="0.063" stop-color="#83ff74"/><stop offset="0.136" stop-color="#afff48"/><stop offset="0.230" stop-color="#f1fd06"/><stop offset="0.261" stop-color="#ffe500"/><stop offset="0.365" stop-color="#ff9000"/><stop offset="0.428" stop-color="#ff6800"/><stop offset="0.515" stop-color="#ff3a00"/><stop offset="0.553" stop-color="#ff3600"/><stop offset="0.598" stop-color="#ff4700"/><stop offset="0.637" stop-color="#ff6800"/><stop offset="0.668" stop-color="#ff9700"/><stop offset="0.699" stop-color="#ffe100"/><stop offset="0.711" stop-color="#eeff09"/><stop offset="0.741" stop-color="#99ff5e"/><stop offset="0.763" stop-color="#49ffad"/><stop offset="0.772" stop-color="#1cffda"/><stop offset="0.775" stop-color="#10f9e7"/><stop offset="0.783" stop-color="#00c4ff"/><stop offset="0.812" stop-color="#0000ff"/><stop offset="0.814" stop-color="#0000f9"/><stop offset="0.821" stop-color="#0000b9"/><stop offset="0.831" stop-color="#000080"/><stop offset="0.835" stop-color="#000080"/></linearGradient>
<rect x="550.00" y="167.5" width="7.60" height="287.5" fill="url(#h88)"/>
<linearGradient id="h89" x1="0" y1="0" x2="0" y2="1"><stop offset="0.000" stop-color="#7eff79"/><stop offset="0.094" stop-color="#9bff5c"/><stop offset="0.167" stop-color="#c3ff34"/><stop offset="0.230" stop-color="#f1fd06"/><stop offset="0.261" stop-color="#ffe500"/><stop offset="0.365" stop-color="#ff9000"/><stop offset="0.428" stop-color="#ff6800"/><stop offset="0.515" stop-color="#ff3b00"/><stop offset="0.553" stop-color="#ff3600"/><stop offset="0.598" stop-color="#ff4700"/><stop offset="0.630" stop-color="#ff5e00"/><stop offset="0.668" stop-color="#ff9700"/><stop offset="0.699" stop-color="#ffe000"/><stop offset="0.711" stop-color="#efff08"/><stop offset="0.741" stop-color="#99ff5d"/><stop offset="0.763" stop-color="#4affad"/><stop offset="0.775" stop-color="#10fae6"/><stop offset="0.783" stop-color="#00c5ff"/><stop offset="0.812" stop-color="#0000ff"/><stop offset="0.814" stop-color="#0000fa"/><stop offset="0.821" stop-color="#0000b9"/><stop offset="0.831" stop-color="#000080"/><stop offset="0.835" stop-color="#000080"/></linearGradient>
<rect x="557.00" y="167.5" width="7.60" height="287.5" fill="url(#h89)"/>
<linearGradient id="h90" x1="0" y1="0" x2="0" y2="1"><stop offset="0.000" stop-color="#86ff70"/><stop offset="0.094" stop-color="#9eff59"/><stop offset="0.167" stop-color="#c4ff33"/><stop offset="0.230" stop-color="#f1fc06"/><stop offset="0.261" stop-color="#ffe500"/><stop offset="0.365" stop-color="#ff9000"/><stop offset="0.428" stop-color="#ff6800"/><stop offset="0.515" stop-color="#ff3b00"/><stop offset="0.553" stop-color="#ff3600"/><stop offset="0.598" stop-color="#ff4700"/><stop offset="0.630" stop-color="#ff5e00"/><stop offset="0.668" stop-color="#ff9700"/><stop offset="0.699" stop-color="#ffe000"/><stop offset="0.711" stop-color="#efff08"/><stop offset="0.741" stop-color="#99ff5d"/><stop offset="0.763" stop-color="#4affad"/><stop offset="0.775" stop-color="#11fae6"/><stop offset="0.783" stop-color="#00c5ff"/><stop offset="0.812" stop-color="#0000ff"/><stop offset="0.814" stop-color="#0000fb"/><stop offset="0.821" stop-color="#0000ba"/><stop offset="0.831" stop-color="#000080"/><stop offset="0.835" stop-color="#000080"/></linearGradient>
<rect x="564.00" y="167.5" width="7.60" height="287.5" fill="url(#h90)"/>
<linearGradient id="h91" x1="0" y1="0" x2="0" y2="1"><stop offset="0.000" stop-color="#89ff6d"/><stop offset="0.094" stop-color="#a0ff57"/><stop offset="0.167" stop-color="#c6ff31"/><stop offset="0.230" stop-color="#f1fc06"/><stop offset="0.261" stop-color="#ffe500"/><stop offset="0.365" stop-color="#ff9000"/><stop offset="0.428" stop-color="#ff6800"/><stop offset="0.515" stop-color="#ff3b00"/><stop offset="0.553" stop-color="#ff3600"/><stop offset="0.598" stop-color="#ff4700"/><stop offset="0.630" stop-color="#ff5e00"/><stop offset="0.668" stop-color="#ff9700"/><stop offset="0.699" stop-color="#ffe000"/><stop offset="0.711" stop-color="#efff08"/><stop offset="0.750" stop-color="#7cff7b"/><stop offset="0.763" stop-color="#4affad"/><stop offset="0.775" stop-color="#11fae6"/><stop offset="0.783" stop-color="#00c5ff"/><stop offset="0.812" stop-color="#0000ff"/><stop offset="0.814" stop-color="#0000fb"/><stop offset="0.821" stop-color="#0000ba"/><stop offset="0.831" stop-color="#000080"/><stop offset="0.835" stop-color="#000080"/></linearGradient>
<rect x="571.00" y="167.5" width="7.60" height="287.5" fill="url(#h91)"/>
<linearGradient id="h92" x1="0" y1="0" x2="0" y2="1"><stop offset="0.000" stop-color="#8cff6a"/><stop offset="0.094" stop-color="#a3ff54"/><stop offset="0.177" stop-color="#ceff28"/><stop offset="0.230" stop-color="#f1fc05"/><stop offset="0.261" stop-color="#ffe500"/><stop offset="0.365" stop-color="#ff9000"/><stop offset="0.428" stop-color="#ff6800"/><stop offset="0.515" stop-color="#ff3b00"/><stop offset="0.553" stop-color="#ff3600"/><stop offset="0.598" stop-color="#ff4700"/><stop offset="0.630" stop-color="#ff5e00"/><stop offset="0.668" stop-color="#ff9700"/><stop offset="0.699" stop-color="#ffe000"/><stop offset="0.711" stop-color="#efff08"/><stop offset="0.750" stop-color="#7cff7b"/><stop offset="0.763" stop-color="#4affad"/><stop offset="0.775" stop-color="#11fae6"/><stop offset="0.783" stop-color="#00c5ff"/><stop offset="0.812" stop-color="#0000ff"/><stop offset="0.814" stop-color="#0000fb"/><stop offset="0.821" stop-color="#0000ba"/><stop offset="0.831" stop-color="#000080"/><stop offset="0.835" stop-color="#000080"/></linearGradient>
<rect x="578.00" y="167.5" width="7.60" height="287.5" fill="url(#h92)"/>
<linearGradient id="h93" x1="0" y1="0" x2="0" y2="1"><stop offset="0.000" stop-color="#8fff67"/><stop offset="0.104" stop-color="#aaff4d"/><stop offset="0.198" stop-color="#ddff1a"/><stop offset="0.230" stop-color="#f2fc05"/><stop offset="0.261" stop-color="#ffe500"/><stop offset="0.365" stop-color="#ff9000"/><stop offset="0.428" stop-color="#ff6800"/><stop offset="0.515" stop-color="#ff3b00"/><stop offset="0.553" stop-color="#ff3600"/><stop offset="0.598" stop-color="#ff4700"/><stop offset="0.630" stop-color="#ff5e00"/><stop offset="0.668" stop-color="#ff9700"/><stop offset="0.699" stop-color="#ffe000"/><stop offset="0.711" stop-color="#efff08"/><stop offset="0.750" stop-color="#7cff7b"/><stop offset="0.763" stop-color="#4affac"/><stop offset="0.775" stop-color="#11fae6"/><stop offset="0.783" stop-color="#00c5ff"/><stop offset="0.812" stop-color="#0000ff"/><stop offset="0.814" stop-color="#0000fb"/><stop offset="0.821" stop-color="#0000ba"/><stop offset="0.831" stop-color="#000080"/><stop offset="0.835" stop-color="#000080"/></linearGradient>
<rect x="585.00" y="167.5" width="7.60" height="287.5" fill="url(#h93)"/>
<linearGradient id="h94" x1="0" y1="0" x2="0" y2="1"><stop offset="0.000" stop-color="#92ff64"/><stop offset="0.104" stop-color="#acff4b"/><stop offset="0.219" stop-color="#ebff0c"/><stop offset="0.240" stop-color="#f8f400"/><stop offset="0.261" stop-color="#ffe500"/><stop offset="0.365" stop-color="#ff9000"/><stop offset="0.428" stop-color="#ff6800"/><stop offset="0.515" stop-color="#ff3b00"/><stop offset="0.553" stop-color="#ff3600"/><stop offset="0.598" stop-color="#ff4700"/><stop offset="0.630" stop-color="#ff5e00"/><stop offset="0.668" stop-color="#ff9700"/><stop offset="0.699" stop-color="#ffe000"/><stop offset="0.711" stop-color="#efff08"/><stop offset="0.750" stop-color="#7cff7b"/><stop offset="0.763" stop-color="#4affac"/><stop offset="0.775" stop-color="#11fbe6"/><stop offset="0.783" stop-color="#00c5ff"/><stop offset="0.812" stop-color="#0000ff"/><stop offset="0.814" stop-color="#0000fb"/><stop offset="0.821" stop-color="#0000ba"/><stop offset="0.831" stop-color="#000080"/><stop offset="0.835" stop-color="#000080"/></linearGradient>
<rect x="592.00" y="167.5" width="7.60" height="287.5" fill="url(#h94)"/>
<linearGradient id="h95" x1="0" y1="0" x2="0" y2="1"><stop offset="0.000" stop-color="#95ff61"/><stop offset="0.113" stop-color="#b2ff45"/><stop offset="0.230" stop-color="#f2fb05"/><stop offset="0.261" stop-color="#ffe500"/><stop offset="0.365" stop-color="#ff9000"/><stop offset="0.428" stop-color="#ff6800"/><stop offset="0.515" stop-color="#ff3b00"/><stop offset="0.553" stop-color="#ff3600"/><stop offset="0.598" stop-color="#ff4700"/><stop offset="0.630" stop-color="#ff5e00"/><stop offset="0.668" stop-color="#ff9700"/><stop offset="0.699" stop-color="#ffe000"/><stop offset="0.711" stop-color="#efff08"/><stop offset="0.741" stop-color="#9aff5d"/><stop offset="0.763" stop-color="#4bffac"/><stop offset="0.775" stop-color="#11fbe6"/><stop offset="0.783" stop-color="#00c6ff"/><stop offset="0.812" stop-color="#0000ff"/><stop offset="0.814" stop-color="#0000fc"/><stop offset="0.821" stop-color="#0000bb"/><stop offset="0.831" stop-color="#000080"/><stop offset="0.835" stop-color="#000080"/></linearGradient>
<rect x="599.00" y="167.5" width="7.60" height="287.5" fill="url(#h95)"/>
<linearGradient id="h96" x1="0" y1="0" x2="0" y2="1"><stop offset="0.000" stop-color="#98ff5e"/><stop offset="0.104" stop-color="#b2ff45"/><stop offset="0.209" stop-color="#e6ff11"/><stop offset="0.240" stop-color="#f8f400"/><stop offset="0.261" stop-color="#ffe500"/><stop offset="0.365" stop-color="#ff9000"/><stop offset="0.428" stop-color="#ff6800"/><stop offset="0.515" stop-color="#ff3b00"/><stop offset="0.553" stop-color="#ff3600"/><stop offset="0.598" stop-color="#ff4700"/><stop offset="0.630" stop-color="#ff5e00"/><stop offset="0.668" stop-color="#ff9700"/><stop offset="0.699" stop-color="#ffe000"/><stop offset="0.711" stop-color="#efff08"/><stop offset="0.741" stop-color="#9aff5d"/><stop offset="0.763" stop-color="#4bffac"/><stop offset="0.775" stop-color="#11fbe6"/><stop offset="0.783" stop-color="#00c6ff"/><stop offset="0.812" stop-color="#0000ff"/><stop offset="0.814" stop-color="#0000fc"/><stop offset="0.821" stop-color="#0000bb"/><stop offset="0.831" stop-color="#000080"/><stop offset="0.835" stop-color="#000080"/></linearGradient>
<rect x="606.00" y="167.5" width="7.60" height="287.5" fill="url(#h96)"/>
<linearGradient id="h97" x1="0" y1="0" x2="0" y2="1"><stop offset="0.000" stop-color="#9bff5c"/><stop offset="0.104" stop-color="#b5ff42"/><stop offset="0.219" stop-color="#ecff0a"/><stop offset="0.250" stop-color="#ffec00"/><stop offset="0.365" stop-color="#ff9000"/><stop offset="0.428" stop-color="#ff6800"/><stop offset="0.515" stop-color="#ff3b00"/><stop offset="0.553" stop-color="#ff3600"/><stop offset="0.598" stop-color="#ff4700"/><stop offset="0.630" stop-color="#ff5e00"/><stop offset="0.668" stop-color="#ff9700"/><stop offset="0.699" stop-color="#ffe000"/><stop offset="0.711" stop-color="#efff08"/><stop offset="0.741" stop-color="#9aff5d"/><stop offset="0.763" stop-color="#4bffac"/><stop offset="0.775" stop-color="#11fbe5"/><stop offset="0.783" stop-color="#00c6ff"/><stop offset="0.812" stop-color="#0000ff"/><stop offset="0.814" stop-color="#0000fc"/><stop offset="0.821" stop-color="#0000bb"/><stop offset="0.831" stop-color="#000080"/><stop offset="0.835" stop-color="#000080"/></linearGradient>
<rect x="613.00" y="167.5" width="7.60" height="287.5" fill="url(#h97)"/>
<linearGradient id="h98" x1="0" y1="0" x2="0" y2="1"><stop offset="0.000" stop-color="#9eff59"/><stop offset="0.104" stop-color="#b7ff3f"/><stop offset="0.219" stop-color="#edff0a"/><stop offset="0.250" stop-color="#ffec00"/><stop offset="0.365" stop-color="#ff9000"/><stop offset="0.428" stop-color="#ff6800"/><stop offset="0.515" stop-color="#ff3b00"/><stop offset="0.553" stop-color="#ff3600"/><stop offset="0.599" stop-color="#ff4700"/><stop offset="0.637" stop-color="#ff6800"/><stop offset="0.668" stop-color="#ff9700"/><stop offset="0.699" stop-color="#ffe000"/><stop offset="0.712" stop-color="#eeff09"/><stop offset="0.741" stop-color="#9aff5d"/><stop offset="0.764" stop-color="#49ffae"/><stop offset="0.772" stop-color="#1effd9"/><stop offset="0.775" stop-color="#10f9e7"/><stop offset="0.783" stop-color="#00c6ff"/><stop offset="0.813" stop-color="#0000ff"/><stop offset="0.814" stop-color="#0000fc"/><stop offset="0.821" stop-color="#0000b9"/><stop offset="0.832" stop-color="#000080"/><stop offset="0.835" stop-color="#000080"/></linearGradient>
<rect x="620.00" y="167.5" width="7.60" height="287.5" fill="url(#h98)"/>
<linearGradient id="h99" x1="0" y1="0" x2="0" y2="1"><stop offset="0.000" stop-color="#a1ff56"/><stop offset="0.104" stop-color="#baff3c"/><stop offset="0.219" stop-color="#edff09"/><stop offset="0.240" stop-color="#f9f300"/><stop offset="0.271" stop-color="#ffdc00"/><stop offset="0.365" stop-color="#ff9000"/><stop offset="0.428" stop-color="#ff6800"/><stop offset="0.515" stop-color="#ff3b00"/><stop offset="0.553" stop-color="#ff3600"/><stop offset="0.599" stop-color="#ff4700"/><stop offset="0.637" stop-color="#ff6800"/><stop offset="0.668" stop-color="#ff9700"/><stop offset="0.699" stop-color="#ffe000"/><stop offset="0.712" stop-color="#eeff09"/><stop offset="0.741" stop-color="#9aff5d"/><stop offset="0.764" stop-color="#49ffad"/><stop offset="0.772" stop-color="#1effd9"/><stop offset="0.775" stop-color="#10f9e7"/><stop offset="0.783" stop-color="#00c6ff"/><stop offset="0.813" stop-color="#0000ff"/><stop offset="0.814" stop-color="#0000fc"/><stop offset="0.821" stop-color="#0000b9"/><stop offset="0.832" stop-color="#000080"/><stop offset="0.835" stop-color="#000080"/></linearGradient>
<rect x="627.00" y="167.5" width="7.60" height="287.5" fill="url(#h99)"/>
<linearGradient id="h100" x1="0" y1="0" x2="0" y2="1"><stop offset="0.000" stop-color="#a4ff53"/><stop offset="0.104" stop-color="#bdff3a"/><stop offset="0.219" stop-color="#eeff09"/><stop offset="0.240" stop-color="#faf200"/><stop offset="0.292" stop-color="#ffcb00"/><stop offset="0.365" stop-color="#ff9000"/><stop offset="0.428" stop-color="#ff6800"/><stop offset="0.515" stop-color="#ff3b00"/><stop offset="0.553" stop-color="#ff3600"/><stop offset="0.599" stop-color="#ff4700"/><stop offset="0.637" stop-color="#ff6800"/><stop offset="0.668" stop-color="#ff9700"/><stop offset="0.699" stop-color="#ffe000"/><stop offset="0.712" stop-color="#eeff09"/><stop offset="0.741" stop-color="#9aff5d"/><stop offset="0.764" stop-color="#49ffad"/><stop offset="0.772" stop-color="#1effd9"/><stop offset="0.775" stop-color="#10f9e7"/><stop offset="0.783" stop-color="#00c6ff"/><stop offset="0.813" stop-color="#0000ff"/><stop offset="0.814" stop-color="#0000fc"/><stop offset="0.821" stop-color="#0000b9"/><stop offset="0.832" stop-color="#000080"/><stop offset="0.835" stop-color="#000080"/></linearGradient>
<rect x="634.00" y="167.5" width="7.60" height="287.5" fill="url(#h100)"/>
<linearGradient id="h101" x1="0" y1="0" x2="0" y2="1"><stop offset="0.000" stop-color="#a5ff52"/><stop offset="0.104" stop-color="#beff39"/><stop offset="0.219" stop-color="#eeff09"/><stop offset="0.240" stop-color="#faf200"/><stop offset="0.292" stop-color="#ffcb00"/><stop offset="0.365" stop-color="#ff9000"/><stop offset="0.428" stop-color="#ff6800"/><stop offset="0.515" stop-color="#ff3b00"/><stop offset="0.553" stop-color="#ff3600"/><stop offset="0.599" stop-color="#ff4700"/><stop offset="0.637" stop-color="#ff6800"/><stop offset="0.668" stop-color="#ff9700"/><stop offset="0.699" stop-color="#ffe000"/><stop offset="0.712" stop-color="#eeff08"/><stop offset="0.741" stop-color="#9aff5d"/><stop offset="0.764" stop-color="#4affad"/><stop offset="0.772" stop-color="#1effd8"/><stop offset="0.775" stop-color="#10f9e7"/><stop offset="0.783" stop-color="#00c6ff"/><stop offset="0.813" stop-color="#0000ff"/><stop offset="0.814" stop-color="#0000fd"/><stop offset="0.821" stop-color="#0000b9"/><stop offset="0.832" stop-color="#000080"/><stop offset="0.835" stop-color="#000080"/></linearGradient>
<rect x="641.00" y="167.5" width="7.60" height="287.5" fill="url(#h101)"/>
<linearGradient id="h102" x1="0" y1="0" x2="0" y2="1"><stop offset="0.000" stop-color="#a5ff52"/><stop offset="0.104" stop-color="#beff39"/><stop offset="0.219" stop-color="#eeff09"/><stop offset="0.240" stop-color="#faf200"/><stop offset="0.292" stop-color="#ffcb00"/><stop offset="0.365" stop-color="#ff9000"/><stop offset="0.428" stop-color="#ff6800"/><stop offset="0.515" stop-color="#ff3b00"/><stop offset="0.553" stop-color="#ff3600"/><stop offset="0.599" stop-color="#ff4700"/><stop offset="0.637" stop-color="#ff6800"/><stop offset="0.668" stop-color="#ff9700"/><stop offset="0.699" stop-color="#ffe000"/><stop offset="0.712" stop-color="#eeff08"/><stop offset="0.741" stop-color="#9aff5d"/><stop offset="0.764" stop-color="#4affad"/><stop offset="0.772" stop-color="#1effd8"/><stop offset="0.775" stop-color="#10f9e7"/><stop offset="0.783" stop-color="#00c7ff"/><stop offset="0.813" stop-color="#0000ff"/><stop offset="0.814" stop-color="#0000fd"/><stop offset="0.821" stop-color="#0000b9"/><stop offset="0.832" stop-color="#000080"/><stop offset="0.835" stop-color="#000080"/></linearGradient>
<rect x="648.00" y="167.5" width="7.60" height="287.5" fill="url(#h102)"/>
<linearGradient id="h103" x1="0" y1="0" x2="0" y2="1"><stop offset="0.000" stop-color="#a1ff56"/><stop offset="0.115" stop-color="#c1ff36"/><stop offset="0.219" stop-color="#eeff09"/><stop offset="0.240" stop-color="#faf200"/><stop offset="0.292" stop-color="#ffcb00"/><stop offset="0.365" stop-color="#ff9000"/><stop offset="0.428" stop-color="#ff6800"/><stop offset="0.515" stop-color="#ff3b00"/><stop offset="0.553" stop-color="#ff3600"/><stop offset="0.599" stop-color="#ff4700"/><stop offset="0.637" stop-color="#ff6800"/><stop offset="0.668" stop-color="#ff9700"/><stop offset="0.699" stop-color="#ffe000"/><stop offset="0.712" stop-color="#eeff08"/><stop offset="0.741" stop-color="#9aff5d"/><stop offset="0.764" stop-color="#4affad"/><stop offset="0.775" stop-color="#10fae7"/><stop offset="0.783" stop-color="#00c7ff"/><stop offset="0.813" stop-color="#0000ff"/><stop offset="0.814" stop-color="#0000fd"/><stop offset="0.821" stop-color="#0000b9"/><stop offset="0.832" stop-color="#000080"/><stop offset="0.835" stop-color="#000080"/></linearGradient>
<rect x="655.00" y="167.5" width="7.60" height="287.5" fill="url(#h103)"/>
<linearGradient id="h104" x1="0" y1="0" x2="0" y2="1"><stop offset="0.000" stop-color="#79ff7e"/><stop offset="0.219" stop-color="#eeff09"/><stop offset="0.240" stop-color="#faf200"/><stop offset="0.292" stop-color="#ffcb00"/><stop offset="0.365" stop-color="#ff9000"/><stop offset="0.428" stop-color="#ff6800"/><stop offset="0.515" stop-color="#ff3b00"/><stop offset="0.553" stop-color="#ff3600"/><stop offset="0.599" stop-color="#ff4700"/><stop offset="0.637" stop-color="#ff6700"/><stop offset="0.668" stop-color="#ff9700"/><stop offset="0.699" stop-color="#ffe000"/><stop offset="0.712" stop-color="#eeff08"/><stop offset="0.741" stop-color="#9aff5d"/><stop offset="0.764" stop-color="#4affad"/><stop offset="0.775" stop-color="#10fae7"/><stop offset="0.783" stop-color="#00c7ff"/><stop offset="0.813" stop-color="#0000ff"/><stop offset="0.814" stop-color="#0000fd"/><stop offset="0.821" stop-color="#0000b9"/><stop offset="0.832" stop-color="#000080"/><stop offset="0.835" stop-color="#000080"/></linearGradient>
<rect x="662.00" y="167.5" width="4.60" height="287.5" fill="url(#h104)"/>
<linearGradient id="h105" x1="0" y1="0" x2="0" y2="1"><stop offset="0.000" stop-color="#5cff9b"/><stop offset="0.183" stop-color="#daff1d"/><stop offset="0.219" stop-color="#eeff09"/><stop offset="0.240" stop-color="#faf200"/><stop offset="0.292" stop-color="#ffcb00"/><stop offset="0.365" stop-color="#ff9000"/><stop offset="0.428" stop-color="#ff6800"/><stop offset="0.515" stop-color="#ff3b00"/><stop offset="0.553" stop-color="#ff3600"/><stop offset="0.599" stop-color="#ff4700"/><stop offset="0.637" stop-color="#ff6700"/><stop offset="0.668" stop-color="#ff9700"/><stop offset="0.699" stop-color="#ffe000"/><stop offset="0.712" stop-color="#eeff08"/><stop offset="0.741" stop-color="#9aff5c"/><stop offset="0.764" stop-color="#4affad"/><stop offset="0.775" stop-color="#10fae6"/><stop offset="0.783" stop-color="#00c7ff"/><stop offset="0.813" stop-color="#0000ff"/><stop offset="0.814" stop-color="#0000fd"/><stop offset="0.821" stop-color="#0000b9"/><stop offset="0.832" stop-color="#000080"/><stop offset="0.835" stop-color="#000080"/></linearGradient>
<rect x="666.00" y="167.5" width="4.60" height="287.5" fill="url(#h105)"/>
<linearGradient id="h106" x1="0" y1="0" x2="0" y2="1"><stop offset="0.000" stop-color="#5cff9b"/><stop offset="0.198" stop-color="#e1ff16"/><stop offset="0.230" stop-color="#f3f903"/><stop offset="0.261" stop-color="#ffe400"/><stop offset="0.365" stop-color="#ff9000"/><stop offset="0.428" stop-color="#ff6800"/><stop offset="0.515" stop-color="#ff3b00"/><stop offset="0.553" stop-color="#ff3600"/><stop offset="0.599" stop-color="#ff4700"/><stop offset="0.637" stop-color="#ff6700"/><stop offset="0.668" stop-color="#ff9700"/><stop offset="0.699" stop-color="#ffe000"/><stop offset="0.712" stop-color="#eeff08"/><stop offset="0.741" stop-color="#9aff5c"/><stop offset="0.764" stop-color="#4affad"/><stop offset="0.775" stop-color="#10fae6"/><stop offset="0.783" stop-color="#00c7ff"/><stop offset="0.813" stop-color="#0000ff"/><stop offset="0.814" stop-color="#0000fd"/><stop offset="0.821" stop-color="#0000b9"/><stop offset="0.832" stop-color="#000080"/><stop offset="0.835" stop-color="#000080"/></linearGradient>
<rect x="670.00" y="167.5" width="4.60" height="287.5" fill="url(#h106)"/>
<linearGradient id="h107" x1="0" y1="0" x2="0" y2="1"><stop offset="0.000" stop-color="#5cff9b"/><stop offset="0.219" stop-color="#ecff0a"/><stop offset="0.240" stop-color="#f9f300"/><stop offset="0.271" stop-color="#ffdc00"/><stop offset="0.365" stop-color="#ff9000"/><stop offset="0.428" stop-color="#ff6800"/><stop offset="0.515" stop-color="#ff3b00"/><stop offset="0.553" stop-color="#ff3600"/><stop offset="0.599" stop-color="#ff4700"/><stop offset="0.637" stop-color="#ff6700"/><stop offset="0.668" stop-color="#ff9700"/><stop offset="0.699" stop-color="#ffe000"/><stop offset="0.712" stop-color="#efff08"/><stop offset="0.741" stop-color="#9aff5c"/><stop offset="0.764" stop-color="#4affad"/><stop offset="0.775" stop-color="#10fae6"/><stop offset="0.783" stop-color="#00c7ff"/><stop offset="0.813" stop-color="#0000ff"/><stop offset="0.814" stop-color="#0000fe"/><stop offset="0.821" stop-color="#0000b9"/><stop offset="0.832" stop-color="#000080"/><stop offset="0.835" stop-color="#000080"/></linearGradient>
<rect x="674.00" y="167.5" width="4.60" height="287.5" fill="url(#h107)"/>
<linearGradient id="h108" x1="0" y1="0" x2="0" y2="1"><stop offset="0.000" stop-color="#5cff9b"/><stop offset="0.219" stop-color="#ecff0b"/><stop offset="0.240" stop-color="#f9f300"/><stop offset="0.271" stop-color="#ffdc00"/><stop offset="0.365" stop-color="#ff9000"/><stop offset="0.428" stop-color="#ff6800"/><stop offset="0.515" stop-color="#ff3b00"/><stop offset="0.553" stop-color="#ff3600"/><stop offset="0.599" stop-color="#ff4700"/><stop offset="0.637" stop-color="#ff6700"/><stop offset="0.668" stop-color="#ff9700"/><stop offset="0.699" stop-color="#ffe000"/><stop offset="0.712" stop-color="#efff08"/><stop offset="0.741" stop-color="#9aff5c"/><stop offset="0.764" stop-color="#4affad"/><stop offset="0.775" stop-color="#10fae6"/><stop offset="0.783" stop-color="#00c7ff"/><stop offset="0.813" stop-color="#0000ff"/><stop offset="0.814" stop-color="#0000fe"/><stop offset="0.821" stop-color="#0000ba"/><stop offset="0.832" stop-color="#000080"/><stop offset="0.835" stop-color="#000080"/></linearGradient>
<rect x="678.00" y="167.5" width="4.60" height="287.5" fill="url(#h108)"/>
<linearGradient id="h109" x1="0" y1="0" x2="0" y2="1"><stop offset="0.000" stop-color="#5cff9b"/><stop offset="0.183" stop-color="#d0ff27"/><stop offset="0.230" stop-color="#f2fb05"/><stop offset="0.252" stop-color="#ffeb00"/><stop offset="0.365" stop-color="#ff9000"/><stop offset="0.428" stop-color="#ff6800"/><stop offset="0.515" stop-color="#ff3b00"/><stop offset="0.553" stop-color="#ff3600"/><stop offset="0.599" stop-color="#ff4700"/><stop offset="0.637" stop-color="#ff6700"/><stop offset="0.668" stop-color="#ff9700"/><stop offset="0.699" stop-color="#ffe000"/><stop offset="0.712" stop-color="#efff08"/><stop offset="0.741" stop-color="#9aff5c"/><stop offset="0.764" stop-color="#4affad"/><stop offset="0.775" stop-color="#11fae6"/><stop offset="0.783" stop-color="#00c7ff"/><stop offset="0.813" stop-color="#0000ff"/><stop offset="0.814" stop-color="#0000fe"/><stop offset="0.821" stop-color="#0000ba"/><stop offset="0.832" stop-color="#000080"/><stop offset="0.835" stop-color="#000080"/></linearGradient>
<rect x="682.00" y="167.5" width="4.60" height="287.5" fill="url(#h109)"/>
<linearGradient id="h110" x1="0" y1="0" x2="0" y2="1"><stop offset="0.000" stop-color="#5cff9b"/><stop offset="0.148" stop-color="#b6ff41"/><stop offset="0.230" stop-color="#f2fb05"/><stop offset="0.252" stop-color="#ffeb00"/><stop offset="0.365" stop-color="#ff9000"/><stop offset="0.428" stop-color="#ff6800"/><stop offset="0.515" stop-color="#ff3b00"/><stop offset="0.553" stop-color="#ff3600"/><stop offset="0.599" stop-color="#ff4700"/><stop offset="0.637" stop-color="#ff6700"/><stop offset="0.668" stop-color="#ff9700"/><stop offset="0.699" stop-color="#ffe000"/><stop offset="0.712" stop-color="#efff08"/><stop offset="0.741" stop-color="#9aff5c"/><stop offset="0.764" stop-color="#4affad"/><stop offset="0.775" stop-color="#11fae6"/><stop offset="0.783" stop-color="#00c7ff"/><stop offset="0.813" stop-color="#0000ff"/><stop offset="0.814" stop-color="#0000fe"/><stop offset="0.821" stop-color="#0000ba"/><stop offset="0.832" stop-color="#000080"/><stop offset="0.835" stop-color="#000080"/></linearGradient>
<rect x="686.00" y="167.5" width="4.60" height="287.5" fill="url(#h110)"/>
<linearGradient id="h111" x1="0" y1="0" x2="0" y2="1"><stop offset="0.000" stop-color="#5cff9b"/><stop offset="0.136" stop-color="#aaff4c"/><stop offset="0.230" stop-color="#f1fc05"/><stop offset="0.261" stop-color="#ffe500"/><stop offset="0.365" stop-color="#ff9000"/><stop offset="0.428" stop-color="#ff6800"/><stop offset="0.515" stop-color="#ff3b00"/><stop offset="0.553" stop-color="#ff3600"/><stop offset="0.599" stop-color="#ff4700"/><stop offset="0.637" stop-color="#ff6700"/><stop offset="0.668" stop-color="#ff9700"/><stop offset="0.699" stop-color="#ffe000"/><stop offset="0.712" stop-color="#efff08"/><stop offset="0.751" stop-color="#7cff7b"/><stop offset="0.764" stop-color="#4affad"/><stop offset="0.775" stop-color="#11fae6"/><stop offset="0.783" stop-color="#00c7ff"/><stop offset="0.813" stop-color="#0000ff"/><stop offset="0.814" stop-color="#0000fe"/><stop offset="0.821" stop-color="#0000ba"/><stop offset="0.832" stop-color="#000080"/><stop offset="0.835" stop-color="#000080"/></linearGradient>
<rect x="690.00" y="167.5" width="4.60" height="287.5" fill="url(#h111)"/>
<linearGradient id="h112" x1="0" y1="0" x2="0" y2="1"><stop offset="0.000" stop-color="#5bff9b"/><stop offset="0.136" stop-color="#a7ff50"/><stop offset="0.217" stop-color="#e7ff10"/><stop offset="0.240" stop-color="#f8f400"/><stop offset="0.261" stop-color="#ffe500"/><stop offset="0.365" stop-color="#ff9000"/><stop offset="0.428" stop-color="#ff6800"/><stop offset="0.515" stop-color="#ff3b00"/><stop offset="0.553" stop-color="#ff3600"/><stop offset="0.599" stop-color="#ff4700"/><stop offset="0.637" stop-color="#ff6700"/><stop offset="0.668" stop-color="#ff9700"/><stop offset="0.699" stop-color="#ffdf00"/><stop offset="0.712" stop-color="#efff08"/><stop offset="0.751" stop-color="#7cff7b"/><stop offset="0.764" stop-color="#4affad"/><stop offset="0.775" stop-color="#11fae6"/><stop offset="0.783" stop-color="#00c7ff"/><stop offset="0.813" stop-color="#0000ff"/><stop offset="0.814" stop-color="#0000fe"/><stop offset="0.821" stop-color="#0000ba"/><stop offset="0.832" stop-color="#000080"/><stop offset="0.835" stop-color="#000080"/></linearGradient>
<rect x="694.00" y="167.5" width="4.60" height="287.5" fill="url(#h112)"/>
<linearGradient id="h113" x1="0" y1="0" x2="0" y2="1"><stop offset="0.000" stop-color="#5bff9b"/><stop offset="0.136" stop-color="#a4ff53"/><stop offset="0.198" stop-color="#d4ff23"/><stop offset="0.230" stop-color="#f1fd06"/><stop offset="0.261" stop-color="#ffe500"/><stop offset="0.365" stop-color="#ff9000"/><stop offset="0.428" stop-color="#ff6800"/><stop offset="0.515" stop-color="#ff3b00"/><stop offset="0.553" stop-color="#ff3600"/><stop offset="0.599" stop-color="#ff4700"/><stop offset="0.637" stop-color="#ff6700"/><stop offset="0.668" stop-color="#ff9700"/><stop offset="0.699" stop-color="#ffdf00"/><stop offset="0.712" stop-color="#efff08"/><stop offset="0.751" stop-color="#7cff7b"/><stop offset="0.764" stop-color="#4affac"/><stop offset="0.775" stop-color="#11fae6"/><stop offset="0.783" stop-color="#00c8ff"/><stop offset="0.813" stop-color="#0000ff"/><stop offset="0.814" stop-color="#0000fe"/><stop offset="0.821" stop-color="#0000ba"/><stop offset="0.832" stop-color="#000080"/><stop offset="0.835" stop-color="#000080"/></linearGradient>
<rect x="698.00" y="167.5" width="4.60" height="287.5" fill="url(#h113)"/>
<linearGradient id="h114" x1="0" y1="0" x2="0" y2="1"><stop offset="0.000" stop-color="#5eff98"/><stop offset="0.136" stop-color="#a5ff52"/><stop offset="0.230" stop-color="#f1fd06"/><stop offset="0.261" stop-color="#ffe500"/><stop offset="0.365" stop-color="#ff9000"/><stop offset="0.428" stop-color="#ff6800"/><stop offset="0.515" stop-color="#ff3b00"/><stop offset="0.553" stop-color="#ff3600"/><stop offset="0.599" stop-color="#ff4700"/><stop offset="0.637" stop-color="#ff6700"/><stop offset="0.668" stop-color="#ff9700"/><stop offset="0.699" stop-color="#ffdf00"/><stop offset="0.712" stop-color="#efff08"/><stop offset="0.751" stop-color="#7cff7b"/><stop offset="0.764" stop-color="#4affac"/><stop offset="0.775" stop-color="#11fae6"/><stop offset="0.783" stop-color="#00c8ff"/><stop offset="0.813" stop-color="#0000ff"/><stop offset="0.814" stop-color="#0000fe"/><stop offset="0.821" stop-color="#0000ba"/><stop offset="0.832" stop-color="#000080"/><stop offset="0.835" stop-color="#000080"/></linearGradient>
<rect x="702.00" y="167.5" width="7.60" height="287.5" fill="url(#h114)"/>
<linearGradient id="h115" x1="0" y1="0" x2="0" y2="1"><stop offset="0.000" stop-color="#62ff95"/><stop offset="0.136" stop-color="#a6ff50"/><stop offset="0.230" stop-color="#f1fd06"/><stop offset="0.261" stop-color="#ffe500"/><stop offset="0.365" stop-color="#ff9000"/><stop offset="0.428" stop-color="#ff6800"/><stop offset="0.515" stop-color="#ff3b00"/><stop offset="0.553" stop-color="#ff3600"/><stop offset="0.599" stop-color="#ff4700"/><stop offset="0.637" stop-color="#ff6700"/><stop offset="0.668" stop-color="#ff9700"/><stop offset="0.699" stop-color="#ffdf00"/><stop offset="0.712" stop-color="#efff08"/><stop offset="0.751" stop-color="#7cff7b"/><stop offset="0.764" stop-color="#4affac"/><stop offset="0.775" stop-color="#11fbe6"/><stop offset="0.783" stop-color="#00c8ff"/><stop offset="0.813" stop-color="#0000ff"/><stop offset="0.814" stop-color="#0000ff"/><stop offset="0.821" stop-color="#0000ba"/><stop offset="0.832" stop-color="#000080"/><stop offset="0.835" stop-color="#000080"/></linearGradient>
<rect x="709.00" y="167.5" width="7.60" height="287.5" fill="url(#h115)"/>
<linearGradient id="h116" x1="0" y1="0" x2="0" y2="1"><stop offset="0.000" stop-color="#66ff91"/><stop offset="0.136" stop-color="#a8ff4f"/><stop offset="0.230" stop-color="#f1fd06"/><stop offset="0.261" stop-color="#ffe500"/><stop offset="0.365" stop-color="#ff9000"/><stop offset="0.428" stop-color="#ff6800"/><stop offset="0.515" stop-color="#ff3b00"/><stop offset="0.553" stop-color="#ff3600"/><stop offset="0.599" stop-color="#ff4700"/><stop offset="0.637" stop-color="#ff6700"/><stop offset="0.668" stop-color="#ff9700"/><stop offset="0.699" stop-color="#ffdf00"/><stop offset="0.712" stop-color="#efff08"/><stop offset="0.741" stop-color="#9bff5c"/><stop offset="0.764" stop-color="#4affac"/><stop offset="0.775" stop-color="#11fbe6"/><stop offset="0.783" stop-color="#00c8ff"/><stop offset="0.813" stop-color="#0000ff"/><stop offset="0.814" stop-color="#0000ff"/><stop offset="0.821" stop-color="#0000bb"/><stop offset="0.832" stop-color="#000080"/><stop offset="0.835" stop-color="#000080"/></linearGradient>
<rect x="716.00" y="167.5" width="7.60" height="287.5" fill="url(#h116)"/>
<linearGradient id="h117" x1="0" y1="0" x2="0" y2="1"><stop offset="0.000" stop-color="#6aff8d"/><stop offset="0.125" stop-color="#a3ff54"/><stop offset="0.230" stop-color="#f1fd06"/><stop offset="0.261" stop-color="#ffe500"/><stop offset="0.365" stop-color="#ff9000"/><stop offset="0.428" stop-color="#ff6800"/><stop offset="0.515" stop-color="#ff3b00"/><stop offset="0.553" stop-color="#ff3600"/><stop offset="0.599" stop-color="#ff4700"/><stop offset="0.637" stop-color="#ff6700"/><stop offset="0.668" stop-color="#ff9700"/><stop offset="0.699" stop-color="#ffdf00"/><stop offset="0.712" stop-color="#efff08"/><stop offset="0.741" stop-color="#9bff5c"/><stop offset="0.764" stop-color="#4bffac"/><stop offset="0.775" stop-color="#11fbe6"/><stop offset="0.783" stop-color="#00c8ff"/><stop offset="0.813" stop-color="#0000ff"/><stop offset="0.814" stop-color="#0000ff"/><stop offset="0.821" stop-color="#0000bb"/><stop offset="0.832" stop-color="#000080"/><stop offset="0.835" stop-color="#000080"/></linearGradient>
<rect x="723.00" y="167.5" width="7.60" height="287.5" fill="url(#h117)"/>
<linearGradient id="h118" x1="0" y1="0" x2="0" y2="1"><stop offset="0.000" stop-color="#65ff91"/><stop offset="0.115" stop-color="#9bff5c"/><stop offset="0.230" stop-color="#f1fd06"/><stop offset="0.261" stop-color="#ffe500"/><stop offset="0.365" stop-color="#ff9000"/><stop offset="0.428" stop-color="#ff6800"/><stop offset="0.515" stop-color="#ff3b00"/><stop offset="0.553" stop-color="#ff3600"/><stop offset="0.599" stop-color="#ff4700"/><stop offset="0.637" stop-color="#ff6700"/><stop offset="0.668" stop-color="#ff9700"/><stop offset="0.699" stop-color="#ffdf00"/><stop offset="0.712" stop-color="#efff08"/><stop offset="0.741" stop-color="#9bff5c"/><stop offset="0.764" stop-color="#4bffac"/><stop offset="0.775" stop-color="#11fbe5"/><stop offset="0.783" stop-color="#00c8ff"/><stop offset="0.813" stop-color="#0000ff"/><stop offset="0.814" stop-color="#0000ff"/><stop offset="0.821" stop-color="#0000bb"/><stop offset="0.832" stop-color="#000080"/><stop offset="0.835" stop-color="#000080"/></linearGradient>
<rect x="730.00" y="167.5" width="7.60" height="287.5" fill="url(#h118)"/>
<linearGradient id="h119" x1="0" y1="0" x2="0" y2="1"><stop offset="0.000" stop-color="#59ff9e"/><stop offset="0.083" stop-color="#84ff73"/><stop offset="0.167" stop-color="#beff39"/><stop offset="0.230" stop-color="#f0fd06"/><stop offset="0.252" stop-color="#ffec00"/><stop offset="0.365" stop-color="#ff9000"/><stop offset="0.428" stop-color="#ff6800"/><stop offset="0.515" stop-color="#ff3b00"/><stop offset="0.553" stop-color="#ff3600"/><stop offset="0.599" stop-color="#ff4700"/><stop offset="0.637" stop-color="#ff6700"/><stop offset="0.669" stop-color="#ff9700"/><stop offset="0.699" stop-color="#ffdf00"/><stop offset="0.710" stop-color="#f4f903"/><stop offset="0.712" stop-color="#eeff09"/><stop offset="0.741" stop-color="#9bff5c"/><stop offset="0.764" stop-color="#49ffae"/><stop offset="0.772" stop-color="#20ffd7"/><stop offset="0.775" stop-color="#10f9e7"/><stop offset="0.783" stop-color="#00c8ff"/><stop offset="0.813" stop-color="#0000ff"/><stop offset="0.814" stop-color="#0000ff"/><stop offset="0.822" stop-color="#0000b9"/><stop offset="0.832" stop-color="#000080"/><stop offset="0.835" stop-color="#000080"/></linearGradient>
<rect x="737.00" y="167.5" width="7.60" height="287.5" fill="url(#h119)"/>
<linearGradient id="h120" x1="0" y1="0" x2="0" y2="1"><stop offset="0.000" stop-color="#4dffaa"/><stop offset="0.052" stop-color="#68ff8f"/><stop offset="0.167" stop-color="#bcff3a"/><stop offset="0.230" stop-color="#f0fd07"/><stop offset="0.252" stop-color="#ffec00"/><stop offset="0.365" stop-color="#ff9000"/><stop offset="0.428" stop-color="#ff6800"/><stop offset="0.515" stop-color="#ff3b00"/><stop offset="0.553" stop-color="#ff3600"/><stop offset="0.599" stop-color="#ff4700"/><stop offset="0.637" stop-color="#ff6700"/><stop offset="0.669" stop-color="#ff9700"/><stop offset="0.699" stop-color="#ffdf00"/><stop offset="0.710" stop-color="#f4f903"/><stop offset="0.712" stop-color="#eeff09"/><stop offset="0.741" stop-color="#9bff5c"/><stop offset="0.764" stop-color="#49ffad"/><stop offset="0.772" stop-color="#20ffd7"/><stop offset="0.775" stop-color="#10f9e7"/><stop offset="0.783" stop-color="#00c8ff"/><stop offset="0.813" stop-color="#0000ff"/><stop offset="0.814" stop-color="#0000ff"/><stop offset="0.822" stop-color="#0000b9"/><stop offset="0.832" stop-color="#000080"/><stop offset="0.835" stop-color="#000080"/></linearGradient>
<rect x="744.00" y="167.5" width="7.60" height="287.5" fill="url(#h120)"/>
<linearGradient id="h121" x1="0" y1="0" x2="0" y2="1"><stop offset="0.000" stop-color="#41ffb6"/><stop offset="0.052" stop-color="#5fff98"/><stop offset="0.219" stop-color="#e6ff10"/><stop offset="0.240" stop-color="#f8f400"/><stop offset="0.261" stop-color="#ffe500"/><stop offset="0.365" stop-color="#ff9000"/><stop offset="0.428" stop-color="#ff6800"/><stop offset="0.515" stop-color="#ff3b00"/><stop offset="0.553" stop-color="#ff3600"/><stop offset="0.599" stop-color="#ff4700"/><stop offset="0.637" stop-color="#ff6700"/><stop offset="0.669" stop-color="#ff9700"/><stop offset="0.699" stop-color="#ffdf00"/><stop offset="0.710" stop-color="#f4f903"/><stop offset="0.712" stop-color="#eeff09"/><stop offset="0.741" stop-color="#9bff5c"/><stop offset="0.764" stop-color="#49ffad"/><stop offset="0.772" stop-color="#20ffd7"/><stop offset="0.775" stop-color="#10f9e7"/><stop offset="0.783" stop-color="#00c9ff"/><stop offset="0.813" stop-color="#0000ff"/><stop offset="0.814" stop-color="#0000ff"/><stop offset="0.822" stop-color="#0000b9"/><stop offset="0.832" stop-color="#000080"/><stop offset="0.835" stop-color="#000080"/></linearGradient>
<rect x="751.00" y="167.5" width="7.60" height="287.5" fill="url(#h121)"/>
<linearGradient id="h122" x1="0" y1="0" x2="0" y2="1"><stop offset="0.000" stop-color="#35ffc2"/><stop offset="0.043" stop-color="#4effa9"/><stop offset="0.230" stop-color="#f0fe07"/><stop offset="0.252" stop-color="#ffec00"/><stop offset="0.365" stop-color="#ff9000"/><stop offset="0.428" stop-color="#ff6800"/><stop offset="0.515" stop-color="#ff3b00"/><stop offset="0.553" stop-color="#ff3600"/><stop offset="0.599" stop-color="#ff4700"/><stop offset="0.637" stop-color="#ff6700"/><stop offset="0.669" stop-color="#ff9700"/><stop offset="0.699" stop-color="#ffdf00"/><stop offset="0.710" stop-color="#f4f903"/><stop offset="0.712" stop-color="#eeff09"/><stop offset="0.741" stop-color="#9bff5c"/><stop offset="0.764" stop-color="#4affad"/><stop offset="0.772" stop-color="#20ffd7"/><stop offset="0.775" stop-color="#10f9e7"/><stop offset="0.783" stop-color="#00c9ff"/><stop offset="0.813" stop-color="#0000ff"/><stop offset="0.814" stop-color="#0000ff"/><stop offset="0.822" stop-color="#0000b9"/><stop offset="0.832" stop-color="#000080"/><stop offset="0.835" stop-color="#000080"/></linearGradient>
<rect x="758.00" y="167.5" width="7.60" height="287.5" fill="url(#h122)"/>
<linearGradient id="h123" x1="0" y1="0" x2="0" y2="1"><stop offset="0.000" stop-color="#28ffce"/><stop offset="0.031" stop-color="#39ffbe"/><stop offset="0.230" stop-color="#effe07"/><stop offset="0.252" stop-color="#ffec00"/><stop offset="0.365" stop-color="#ff9000"/><stop offset="0.428" stop-color="#ff6800"/><stop offset="0.515" stop-color="#ff3b00"/><stop offset="0.553" stop-color="#ff3600"/><stop offset="0.599" stop-color="#ff4700"/><stop offset="0.637" stop-color="#ff6700"/><stop offset="0.669" stop-color="#ff9700"/><stop offset="0.699" stop-color="#ffdf00"/><stop offset="0.712" stop-color="#eeff08"/><stop offset="0.741" stop-color="#9bff5c"/><stop offset="0.764" stop-color="#4affad"/><stop offset="0.772" stop-color="#20ffd7"/><stop offset="0.775" stop-color="#10f9e7"/><stop offset="0.783" stop-color="#00c9ff"/><stop offset="0.813" stop-color="#0000ff"/><stop offset="0.814" stop-color="#0000ff"/><stop offset="0.822" stop-color="#0000b9"/><stop offset="0.832" stop-color="#000080"/><stop offset="0.835" stop-color="#000080"/></linearGradient>
<rect x="765.00" y="167.5" width="7.60" height="287.5" fill="url(#h123)"/>
<linearGradient id="h124" x1="0" y1="0" x2="0" y2="1"><stop offset="0.000" stop-color="#29ffce"/><stop offset="0.043" stop-color="#44ffb3"/><stop offset="0.230" stop-color="#efff08"/><stop offset="0.240" stop-color="#f7f500"/><stop offset="0.261" stop-color="#ffe500"/><stop offset="0.365" stop-color="#ff9000"/><stop offset="0.428" stop-color="#ff6800"/><stop offset="0.515" stop-color="#ff3b00"/><stop offset="0.553" stop-color="#ff3600"/><stop offset="0.599" stop-color="#ff4700"/><stop offset="0.637" stop-color="#ff6700"/><stop offset="0.669" stop-color="#ff9700"/><stop offset="0.699" stop-color="#ffdf00"/><stop offset="0.712" stop-color="#eeff08"/><stop offset="0.741" stop-color="#9bff5b"/><stop offset="0.764" stop-color="#4affad"/><stop offset="0.772" stop-color="#20ffd6"/><stop offset="0.775" stop-color="#10f9e7"/><stop offset="0.783" stop-color="#00c9ff"/><stop offset="0.813" stop-color="#0000ff"/><stop offset="0.814" stop-color="#0000ff"/><stop offset="0.822" stop-color="#0000b9"/><stop offset="0.832" stop-color="#000080"/><stop offset="0.835" stop-color="#000080"/></linearGradient>
<rect x="772.00" y="167.5" width="7.60" height="287.5" fill="url(#h124)"/>
<linearGradient id="h125" x1="0" y1="0" x2="0" y2="1"><stop offset="0.000" stop-color="#2effc9"/><stop offset="0.063" stop-color="#56ffa1"/><stop offset="0.148" stop-color="#9fff57"/><stop offset="0.230" stop-color="#eeff08"/><stop offset="0.240" stop-color="#f7f600"/><stop offset="0.261" stop-color="#ffe500"/><stop offset="0.365" stop-color="#ff9000"/><stop offset="0.428" stop-color="#ff6800"/><stop offset="0.515" stop-color="#ff3b00"/><stop offset="0.553" stop-color="#ff3600"/><stop offset="0.599" stop-color="#ff4700"/><stop offset="0.637" stop-color="#ff6700"/><stop offset="0.669" stop-color="#ff9700"/><stop offset="0.699" stop-color="#ffdf00"/><stop offset="0.712" stop-color="#eeff08"/><stop offset="0.741" stop-color="#9bff5b"/><stop offset="0.764" stop-color="#4affad"/><stop offset="0.775" stop-color="#10fae7"/><stop offset="0.783" stop-color="#00c9ff"/><stop offset="0.813" stop-color="#0000ff"/><stop offset="0.814" stop-color="#0000ff"/><stop offset="0.822" stop-color="#0000b9"/><stop offset="0.832" stop-color="#000080"/><stop offset="0.835" stop-color="#000080"/></linearGradient>
<rect x="779.00" y="167.5" width="7.60" height="287.5" fill="url(#h125)"/>
<linearGradient id="h126" x1="0" y1="0" x2="0" y2="1"><stop offset="0.000" stop-color="#32ffc5"/><stop offset="0.094" stop-color="#6eff89"/><stop offset="0.188" stop-color="#c3ff34"/><stop offset="0.230" stop-color="#eeff09"/><stop offset="0.240" stop-color="#f6f600"/><stop offset="0.261" stop-color="#ffe500"/><stop offset="0.365" stop-color="#ff9000"/><stop offset="0.428" stop-color="#ff6800"/><stop offset="0.515" stop-color="#ff3b00"/><stop offset="0.553" stop-color="#ff3600"/><stop offset="0.599" stop-color="#ff4700"/><stop offset="0.637" stop-color="#ff6700"/><stop offset="0.669" stop-color="#ff9700"/><stop offset="0.699" stop-color="#ffdf00"/><stop offset="0.712" stop-color="#eeff08"/><stop offset="0.741" stop-color="#9bff5b"/><stop offset="0.764" stop-color="#4affad"/><stop offset="0.775" stop-color="#10fae6"/><stop offset="0.783" stop-color="#00c9ff"/><stop offset="0.813" stop-color="#0000ff"/><stop offset="0.814" stop-color="#0000ff"/><stop offset="0.822" stop-color="#0000b9"/><stop offset="0.832" stop-color="#000080"/><stop offset="0.835" stop-color="#000080"/></linearGradient>
<rect x="786.00" y="167.5" width="7.60" height="287.5" fill="url(#h126)"/>
<linearGradient id="h127" x1="0" y1="0" x2="0" y2="1"><stop offset="0.000" stop-color="#32ffc5"/><stop offset="0.083" stop-color="#65ff92"/><stop offset="0.157" stop-color="#a2ff55"/><stop offset="0.235" stop-color="#f1fc06"/><stop offset="0.261" stop-color="#ffe600"/><stop offset="0.365" stop-color="#ff9000"/><stop offset="0.428" stop-color="#ff6800"/><stop offset="0.515" stop-color="#ff3b00"/><stop offset="0.553" stop-color="#ff3600"/><stop offset="0.599" stop-color="#ff4700"/><stop offset="0.637" stop-color="#ff6700"/><stop offset="0.669" stop-color="#ff9700"/><stop offset="0.699" stop-color="#ffdf00"/><stop offset="0.712" stop-color="#efff08"/><stop offset="0.741" stop-color="#9cff5b"/><stop offset="0.764" stop-color="#4affad"/><stop offset="0.775" stop-color="#10fae6"/><stop offset="0.783" stop-color="#00c9ff"/><stop offset="0.813" stop-color="#0000ff"/><stop offset="0.814" stop-color="#0000ff"/><stop offset="0.822" stop-color="#0000b9"/><stop offset="0.832" stop-color="#000080"/><stop offset="0.835" stop-color="#000080"/></linearGradient>
<rect x="793.00" y="167.5" width="7.60" height="287.5" fill="url(#h127)"/>
<linearGradient id="h128" x1="0" y1="0" x2="0" y2="1"><stop offset="0.000" stop-color="#32ffc5"/><stop offset="0.073" stop-color="#5cff9b"/><stop offset="0.157" stop-color="#9fff58"/><stop offset="0.235" stop-color="#efff08"/><stop offset="0.261" stop-color="#ffe700"/><stop offset="0.365" stop-color="#ff9000"/><stop offset="0.428" stop-color="#ff6800"/><stop offset="0.515" stop-color="#ff3b00"/><stop offset="0.553" stop-color="#ff3600"/><stop offset="0.599" stop-color="#ff4700"/><stop offset="0.637" stop-color="#ff6700"/><stop offset="0.669" stop-color="#ff9700"/><stop offset="0.699" stop-color="#ffdf00"/><stop offset="0.712" stop-color="#efff08"/><stop offset="0.741" stop-color="#9cff5b"/><stop offset="0.764" stop-color="#4affad"/><stop offset="0.775" stop-color="#11fae6"/><stop offset="0.783" stop-color="#00caff"/><stop offset="0.813" stop-color="#0000ff"/><stop offset="0.814" stop-color="#0000ff"/><stop offset="0.822" stop-color="#0000ba"/><stop offset="0.832" stop-color="#000080"/><stop offset="0.835" stop-color="#000080"/></linearGradient>
<rect x="800.00" y="167.5" width="7.60" height="287.5" fill="url(#h128)"/>
<linearGradient id="h129" x1="0" y1="0" x2="0" y2="1"><stop offset="0.000" stop-color="#32ffc5"/><stop offset="0.063" stop-color="#53ffa3"/><stop offset="0.157" stop-color="#9cff5b"/><stop offset="0.240" stop-color="#f1fc05"/><stop offset="0.261" stop-color="#ffe800"/><stop offset="0.365" stop-color="#ff9000"/><stop offset="0.428" stop-color="#ff6800"/><stop offset="0.515" stop-color="#ff3b00"/><stop offset="0.553" stop-color="#ff3600"/><stop offset="0.599" stop-color="#ff4700"/><stop offset="0.637" stop-color="#ff6700"/><stop offset="0.669" stop-color="#ff9700"/><stop offset="0.699" stop-color="#ffdf00"/><stop offset="0.712" stop-color="#efff08"/><stop offset="0.751" stop-color="#7cff7b"/><stop offset="0.764" stop-color="#4affad"/><stop offset="0.775" stop-color="#11fae6"/><stop offset="0.783" stop-color="#00caff"/><stop offset="0.813" stop-color="#0000ff"/><stop offset="0.814" stop-color="#0000ff"/><stop offset="0.822" stop-color="#0000ba"/><stop offset="0.832" stop-color="#000080"/><stop offset="0.835" stop-color="#000080"/></linearGradient>
<rect x="807.00" y="167.5" width="7.60" height="287.5" fill="url(#h129)"/>
<linearGradient id="h130" x1="0" y1="0" x2="0" y2="1"><stop offset="0.000" stop-color="#32ffc5"/><stop offset="0.052" stop-color="#4bffac"/><stop offset="0.167" stop-color="#a3ff54"/><stop offset="0.242" stop-color="#f1fc05"/><stop offset="0.261" stop-color="#ffe900"/><stop offset="0.344" stop-color="#ff9f00"/><stop offset="0.428" stop-color="#ff6800"/><stop offset="0.515" stop-color="#ff3b00"/><stop offset="0.553" stop-color="#ff3600"/><stop offset="0.599" stop-color="#ff4700"/><stop offset="0.637" stop-color="#ff6700"/><stop offset="0.669" stop-color="#ff9700"/><stop offset="0.699" stop-color="#ffdf00"/><stop offset="0.712" stop-color="#efff08"/><stop offset="0.751" stop-color="#7cff7b"/><stop offset="0.764" stop-color="#4affad"/><stop offset="0.775" stop-color="#11fae6"/><stop offset="0.783" stop-color="#00caff"/><stop offset="0.813" stop-color="#0000ff"/><stop offset="0.814" stop-color="#0000ff"/><stop offset="0.822" stop-color="#0000ba"/><stop offset="0.832" stop-color="#000080"/><stop offset="0.835" stop-color="#000080"/></linearGradient>
<rect x="814.00" y="167.5" width="7.60" height="287.5" fill="url(#h130)"/>
<linearGradient id="h131" x1="0" y1="0" x2="0" y2="1"><stop offset="0.000" stop-color="#32ffc5"/><stop offset="0.052" stop-color="#49ffae"/><stop offset="0.167" stop-color="#a0ff57"/><stop offset="0.242" stop-color="#f0fe07"/><stop offset="0.261" stop-color="#ffeb00"/><stop offset="0.344" stop-color="#ff9f00"/><stop offset="0.428" stop-color="#ff6800"/><stop offset="0.515" stop-color="#ff3b00"/><stop offset="0.553" stop-color="#ff3600"/><stop offset="0.599" stop-color="#ff4700"/><stop offset="0.637" stop-color="#ff6700"/><stop offset="0.669" stop-color="#ff9700"/><stop offset="0.699" stop-color="#ffdf00"/><stop offset="0.712" stop-color="#efff08"/><stop offset="0.751" stop-color="#7cff7b"/><stop offset="0.764" stop-color="#4affac"/><stop offset="0.775" stop-color="#11fae6"/><stop offset="0.783" stop-color="#00caff"/><stop offset="0.813" stop-color="#0000ff"/><stop offset="0.814" stop-color="#0000ff"/><stop offset="0.822" stop-color="#0000ba"/><stop offset="0.832" stop-color="#000080"/><stop offset="0.835" stop-color="#000080"/></linearGradient>
<rect x="821.00" y="167.5" width="7.60" height="287.5" fill="url(#h131)"/>
<linearGradient id="h132" x1="0" y1="0" x2="0" y2="1"><stop offset="0.000" stop-color="#32ffc5"/><stop offset="0.052" stop-color="#48ffaf"/><stop offset="0.167" stop-color="#9eff59"/><stop offset="0.242" stop-color="#efff08"/><stop offset="0.261" stop-color="#ffec00"/><stop offset="0.339" stop-color="#ffa200"/><stop offset="0.428" stop-color="#ff6800"/><stop offset="0.515" stop-color="#ff3b00"/><stop offset="0.553" stop-color="#ff3600"/><stop offset="0.599" stop-color="#ff4700"/><stop offset="0.637" stop-color="#ff6700"/><stop offset="0.669" stop-color="#ff9700"/><stop offset="0.699" stop-color="#ffde00"/><stop offset="0.712" stop-color="#efff08"/><stop offset="0.751" stop-color="#7cff7b"/><stop offset="0.764" stop-color="#4affac"/><stop offset="0.775" stop-color="#11fbe6"/><stop offset="0.783" stop-color="#00caff"/><stop offset="0.813" stop-color="#0000ff"/><stop offset="0.814" stop-color="#0000ff"/><stop offset="0.822" stop-color="#0000ba"/><stop offset="0.832" stop-color="#000080"/><stop offset="0.835" stop-color="#000080"/></linearGradient>
<rect x="828.00" y="167.5" width="7.60" height="287.5" fill="url(#h132)"/>
<linearGradient id="h133" x1="0" y1="0" x2="0" y2="1"><stop offset="0.000" stop-color="#32ffc5"/><stop offset="0.052" stop-color="#48ffaf"/><stop offset="0.167" stop-color="#9eff59"/><stop offset="0.242" stop-color="#efff08"/><stop offset="0.261" stop-color="#ffec00"/><stop offset="0.339" stop-color="#ffa200"/><stop offset="0.428" stop-color="#ff6800"/><stop offset="0.515" stop-color="#ff3b00"/><stop offset="0.553" stop-color="#ff3600"/><stop offset="0.599" stop-color="#ff4700"/><stop offset="0.637" stop-color="#ff6700"/><stop offset="0.669" stop-color="#ff9700"/><stop offset="0.699" stop-color="#ffde00"/><stop offset="0.712" stop-color="#efff08"/><stop offset="0.741" stop-color="#9cff5b"/><stop offset="0.764" stop-color="#4bffac"/><stop offset="0.775" stop-color="#11fbe6"/><stop offset="0.783" stop-color="#00caff"/><stop offset="0.813" stop-color="#0000ff"/><stop offset="0.814" stop-color="#0000ff"/><stop offset="0.822" stop-color="#0000bb"/><stop offset="0.832" stop-color="#000080"/><stop offset="0.835" stop-color="#000080"/></linearGradient>
<rect x="835.00" y="167.5" width="7.60" height="287.5" fill="url(#h133)"/>
<linearGradient id="h134" x1="0" y1="0" x2="0" y2="1"><stop offset="0.000" stop-color="#32ffc5"/><stop offset="0.052" stop-color="#48ffaf"/><stop offset="0.167" stop-color="#9eff59"/><stop offset="0.242" stop-color="#efff08"/><stop offset="0.261" stop-color="#ffec00"/><stop offset="0.339" stop-color="#ffa200"/><stop offset="0.428" stop-color="#ff6800"/><stop offset="0.515" stop-color="#ff3b00"/><stop offset="0.553" stop-color="#ff3600"/><stop offset="0.599" stop-color="#ff4700"/><stop offset="0.637" stop-color="#ff6700"/><stop offset="0.669" stop-color="#ff9700"/><stop offset="0.699" stop-color="#ffde00"/><stop offset="0.712" stop-color="#efff08"/><stop offset="0.741" stop-color="#9cff5b"/><stop offset="0.764" stop-color="#4bffac"/><stop offset="0.775" stop-color="#11fbe6"/><stop offset="0.783" stop-color="#00caff"/><stop offset="0.813" stop-color="#0000ff"/><stop offset="0.814" stop-color="#0000ff"/><stop offset="0.822" stop-color="#0000bb"/><stop offset="0.832" stop-color="#000080"/><stop offset="0.835" stop-color="#000080"/></linearGradient>
<rect x="842.00" y="167.5" width="7.60" height="287.5" fill="url(#h134)"/>
<linearGradient id="h135" x1="0" y1="0" x2="0" y2="1"><stop offset="0.000" stop-color="#32ffc5"/><stop offset="0.052" stop-color="#48ffaf"/><stop offset="0.167" stop-color="#9eff59"/><stop offset="0.242" stop-color="#efff08"/><stop offset="0.261" stop-color="#ffec00"/><stop offset="0.339" stop-color="#ffa200"/><stop offset="0.428" stop-color="#ff6800"/><stop offset="0.515" stop-color="#ff3b00"/><stop offset="0.553" stop-color="#ff3600"/><stop offset="0.599" stop-color="#ff4700"/><stop offset="0.637" stop-color="#ff6700"/><stop offset="0.669" stop-color="#ff9700"/><stop offset="0.699" stop-color="#ffde00"/><stop offset="0.712" stop-color="#efff08"/><stop offset="0.741" stop-color="#9cff5b"/><stop offset="0.764" stop-color="#4bffac"/><stop offset="0.775" stop-color="#11fbe5"/><stop offset="0.783" stop-color="#00cbff"/><stop offset="0.813" stop-color="#0000ff"/><stop offset="0.814" stop-color="#0000ff"/><stop offset="0.822" stop-color="#0000bb"/><stop offset="0.832" stop-color="#000080"/><stop offset="0.835" stop-color="#000080"/></linearGradient>
<rect x="849.00" y="167.5" width="7.60" height="287.5" fill="url(#h135)"/>
<linearGradient id="h136" x1="0" y1="0" x2="0" y2="1"><stop offset="0.000" stop-color="#32ffc5"/><stop offset="0.052" stop-color="#48ffaf"/><stop offset="0.167" stop-color="#9eff59"/><stop offset="0.242" stop-color="#efff08"/><stop offset="0.261" stop-color="#ffec00"/><stop offset="0.339" stop-color="#ffa200"/><stop offset="0.428" stop-color="#ff6800"/><stop offset="0.516" stop-color="#ff3b00"/><stop offset="0.553" stop-color="#ff3600"/><stop offset="0.599" stop-color="#ff4700"/><stop offset="0.637" stop-color="#ff6700"/><stop offset="0.669" stop-color="#ff9700"/><stop offset="0.699" stop-color="#ffde00"/><stop offset="0.710" stop-color="#f4f803"/><stop offset="0.712" stop-color="#eeff09"/><stop offset="0.741" stop-color="#9cff5b"/><stop offset="0.765" stop-color="#49ffae"/><stop offset="0.772" stop-color="#22ffd5"/><stop offset="0.776" stop-color="#10f9e7"/><stop offset="0.783" stop-color="#00cbff"/><stop offset="0.813" stop-color="#0000ff"/><stop offset="0.814" stop-color="#0000ff"/><stop offset="0.822" stop-color="#0000b9"/><stop offset="0.832" stop-color="#000080"/><stop offset="0.835" stop-color="#000080"/></linearGradient>
<rect x="856.00" y="167.5" width="7.60" height="287.5" fill="url(#h136)"/>
<linearGradient id="h137" x1="0" y1="0" x2="0" y2="1"><stop offset="0.000" stop-color="#32ffc5"/><stop offset="0.052" stop-color="#48ffaf"/><stop offset="0.167" stop-color="#9eff59"/><stop offset="0.242" stop-color="#efff08"/><stop offset="0.261" stop-color="#ffec00"/><stop offset="0.339" stop-color="#ffa200"/><stop offset="0.428" stop-color="#ff6800"/><stop offset="0.516" stop-color="#ff3b00"/><stop offset="0.553" stop-color="#ff3600"/><stop offset="0.599" stop-color="#ff4700"/><stop offset="0.637" stop-color="#ff6700"/><stop offset="0.669" stop-color="#ff9700"/><stop offset="0.699" stop-color="#ffde00"/><stop offset="0.710" stop-color="#f4f802"/><stop offset="0.712" stop-color="#eeff09"/><stop offset="0.741" stop-color="#9cff5b"/><stop offset="0.765" stop-color="#49ffad"/><stop offset="0.772" stop-color="#22ffd5"/><stop offset="0.776" stop-color="#10f9e7"/><stop offset="0.783" stop-color="#00cbff"/><stop offset="0.813" stop-color="#0000ff"/><stop offset="0.814" stop-color="#0000ff"/><stop offset="0.822" stop-color="#0000b9"/><stop offset="0.832" stop-color="#000080"/><stop offset="0.835" stop-color="#000080"/></linearGradient>
<rect x="863.00" y="167.5" width="7.60" height="287.5" fill="url(#h137)"/>
<linearGradient id="h138" x1="0" y1="0" x2="0" y2="1"><stop offset="0.000" stop-color="#32ffc5"/><stop offset="0.052" stop-color="#48ffaf"/><stop offset="0.167" stop-color="#9eff59"/><stop offset="0.242" stop-color="#efff08"/><stop offset="0.261" stop-color="#ffec00"/><stop offset="0.339" stop-color="#ffa200"/><stop offset="0.428" stop-color="#ff6800"/><stop offset="0.516" stop-color="#ff3b00"/><stop offset="0.553" stop-color="#ff3600"/><stop offset="0.599" stop-color="#ff4700"/><stop offset="0.637" stop-color="#ff6700"/><stop offset="0.669" stop-color="#ff9700"/><stop offset="0.699" stop-color="#ffde00"/><stop offset="0.710" stop-color="#f4f802"/><stop offset="0.712" stop-color="#eeff09"/><stop offset="0.741" stop-color="#9cff5b"/><stop offset="0.765" stop-color="#49ffad"/><stop offset="0.772" stop-color="#22ffd5"/><stop offset="0.776" stop-color="#10f9e7"/><stop offset="0.783" stop-color="#00cbff"/><stop offset="0.813" stop-color="#0000ff"/><stop offset="0.814" stop-color="#0000ff"/><stop offset="0.822" stop-color="#0000b9"/><stop offset="0.832" stop-color="#000080"/><stop offset="0.835" stop-color="#000080"/></linearGradient>
<rect x="870.00" y="167.5" width="7.60" height="287.5" fill="url(#h138)"/>
<linearGradient id="h139" x1="0" y1="0" x2="0" y2="1"><stop offset="0.000" stop-color="#32ffc5"/><stop offset="0.052" stop-color="#48ffaf"/><stop offset="0.167" stop-color="#9eff59"/><stop offset="0.242" stop-color="#efff08"/><stop offset="0.261" stop-color="#ffec00"/><stop offset="0.339" stop-color="#ffa200"/><stop offset="0.428" stop-color="#ff6800"/><stop offset="0.516" stop-color="#ff3b00"/><stop offset="0.553" stop-color="#ff3600"/><stop offset="0.599" stop-color="#ff4700"/><stop offset="0.637" stop-color="#ff6700"/><stop offset="0.669" stop-color="#ff9700"/><stop offset="0.699" stop-color="#ffde00"/><stop offset="0.710" stop-color="#f4f802"/><stop offset="0.712" stop-color="#eeff08"/><stop offset="0.741" stop-color="#9cff5a"/><stop offset="0.765" stop-color="#4affad"/><stop offset="0.772" stop-color="#22ffd5"/><stop offset="0.776" stop-color="#10f9e7"/><stop offset="0.783" stop-color="#00cbff"/><stop offset="0.813" stop-color="#0000ff"/><stop offset="0.814" stop-color="#0000ff"/><stop offset="0.822" stop-color="#0000b9"/><stop offset="0.832" stop-color="#000080"/><stop offset="0.835" stop-color="#000080"/></linearGradient>
<rect x="877.00" y="167.5" width="7.60" height="287.5" fill="url(#h139)"/>
<linearGradient id="h140" x1="0" y1="0" x2="0" y2="1"><stop offset="0.000" stop-color="#32ffc5"/><stop offset="0.052" stop-color="#48ffaf"/><stop offset="0.167" stop-color="#9eff59"/><stop offset="0.242" stop-color="#efff08"/><stop offset="0.261" stop-color="#ffec00"/><stop offset="0.339" stop-color="#ffa200"/><stop offset="0.428" stop-color="#ff6800"/><stop offset="0.516" stop-color="#ff3b00"/><stop offset="0.553" stop-color="#ff3600"/><stop offset="0.599" stop-color="#ff4700"/><stop offset="0.637" stop-color="#ff6700"/><stop offset="0.669" stop-color="#ff9700"/><stop offset="0.699" stop-color="#ffde00"/><stop offset="0.710" stop-color="#f4f802"/><stop offset="0.712" stop-color="#eeff08"/><stop offset="0.741" stop-color="#9cff5a"/><stop offset="0.765" stop-color="#4affad"/><stop offset="0.772" stop-color="#22ffd5"/><stop offset="0.776" stop-color="#10f9e7"/><stop offset="0.783" stop-color="#00cbff"/><stop offset="0.813" stop-color="#0000ff"/><stop offset="0.814" stop-color="#0000ff"/><stop offset="0.822" stop-color="#0000b9"/><stop offset="0.832" stop-color="#000080"/><stop offset="0.835" stop-color="#000080"/></linearGradient>
<rect x="884.00" y="167.5" width="7.60" height="287.5" fill="url(#h140)"/>
<linearGradient id="h141" x1="0" y1="0" x2="0" y2="1"><stop offset="0.000" stop-color="#32ffc5"/><stop offset="0.052" stop-color="#48ffaf"/><stop offset="0.167" stop-color="#9eff59"/><stop offset="0.242" stop-color="#efff08"/><stop offset="0.261" stop-color="#ffec00"/><stop offset="0.339" stop-color="#ffa200"/><stop offset="0.428" stop-color="#ff6800"/><stop offset="0.516" stop-color="#ff3b00"/><stop offset="0.553" stop-color="#ff3600"/><stop offset="0.599" stop-color="#ff4700"/><stop offset="0.637" stop-color="#ff6700"/><stop offset="0.669" stop-color="#ff9700"/><stop offset="0.699" stop-color="#ffde00"/><stop offset="0.710" stop-color="#f4f802"/><stop offset="0.712" stop-color="#eeff08"/><stop offset="0.741" stop-color="#9cff5a"/><stop offset="0.765" stop-color="#4affad"/><stop offset="0.776" stop-color="#10fae7"/><stop offset="0.783" stop-color="#00cbff"/><stop offset="0.813" stop-color="#0000ff"/><stop offset="0.814" stop-color="#0000ff"/><stop offset="0.822" stop-color="#0000b9"/><stop offset="0.832" stop-color="#000080"/><stop offset="0.835" stop-color="#000080"/></linearGradient>
<rect x="891.00" y="167.5" width="7.60" height="287.5" fill="url(#h141)"/>
<linearGradient id="h142" x1="0" y1="0" x2="0" y2="1"><stop offset="0.000" stop-color="#32ffc5"/><stop offset="0.052" stop-color="#48ffaf"/><stop offset="0.167" stop-color="#9eff59"/><stop offset="0.242" stop-color="#efff08"/><stop offset="0.261" stop-color="#ffec00"/><stop offset="0.339" stop-color="#ffa200"/><stop offset="0.428" stop-color="#ff6800"/><stop offset="0.516" stop-color="#ff3b00"/><stop offset="0.553" stop-color="#ff3600"/><stop offset="0.599" stop-color="#ff4700"/><stop offset="0.637" stop-color="#ff6700"/><stop offset="0.669" stop-color="#ff9700"/><stop offset="0.699" stop-color="#ffde00"/><stop offset="0.710" stop-color="#f5f802"/><stop offset="0.712" stop-color="#eeff08"/><stop offset="0.741" stop-color="#9cff5a"/><stop offset="0.765" stop-color="#4affad"/><stop offset="0.776" stop-color="#10fae7"/><stop offset="0.783" stop-color="#00cbff"/><stop offset="0.813" stop-color="#0000ff"/><stop offset="0.814" stop-color="#0000ff"/><stop offset="0.822" stop-color="#0000b9"/><stop offset="0.832" stop-color="#000080"/><stop offset="0.835" stop-color="#000080"/></linearGradient>
<rect x="898.00" y="167.5" width="7.60" height="287.5" fill="url(#h142)"/>
<linearGradient id="h143" x1="0" y1="0" x2="0" y2="1"><stop offset="0.000" stop-color="#32ffc5"/><stop offset="0.052" stop-color="#48ffaf"/><stop offset="0.167" stop-color="#9eff59"/><stop offset="0.242" stop-color="#efff08"/><stop offset="0.261" stop-color="#ffec00"/><stop offset="0.339" stop-color="#ffa200"/><stop offset="0.428" stop-color="#ff6800"/><stop offset="0.516" stop-color="#ff3b00"/><stop offset="0.553" stop-color="#ff3600"/><stop offset="0.599" stop-color="#ff4700"/><stop offset="0.637" stop-color="#ff6700"/><stop offset="0.669" stop-color="#ff9700"/><stop offset="0.699" stop-color="#ffde00"/><stop offset="0.710" stop-color="#f5f802"/><stop offset="0.712" stop-color="#efff08"/><stop offset="0.741" stop-color="#9dff5a"/><stop offset="0.765" stop-color="#4affad"/><stop offset="0.776" stop-color="#10fae6"/><stop offset="0.783" stop-color="#00ccff"/><stop offset="0.813" stop-color="#0000ff"/><stop offset="0.814" stop-color="#0000ff"/><stop offset="0.822" stop-color="#0000b9"/><stop offset="0.832" stop-color="#000080"/><stop offset="0.835" stop-color="#000080"/></linearGradient>
<rect x="905.00" y="167.5" width="7.60" height="287.5" fill="url(#h143)"/>
<linearGradient id="h144" x1="0" y1="0" x2="0" y2="1"><stop offset="0.000" stop-color="#32ffc5"/><stop offset="0.052" stop-color="#48ffaf"/><stop offset="0.167" stop-color="#9eff59"/><stop offset="0.242" stop-color="#efff08"/><stop offset="0.261" stop-color="#ffec00"/><stop offset="0.339" stop-color="#ffa200"/><stop offset="0.428" stop-color="#ff6800"/><stop offset="0.516" stop-color="#ff3b00"/><stop offset="0.553" stop-color="#ff3600"/><stop offset="0.599" stop-color="#ff4700"/><stop offset="0.637" stop-color="#ff6600"/><stop offset="0.669" stop-color="#ff9700"/><stop offset="0.699" stop-color="#ffde00"/><stop offset="0.710" stop-color="#f5f802"/><stop offset="0.712" stop-color="#efff08"/><stop offset="0.741" stop-color="#9dff5a"/><stop offset="0.765" stop-color="#4affad"/><stop offset="0.776" stop-color="#10fae6"/><stop offset="0.783" stop-color="#00ccff"/><stop offset="0.813" stop-color="#0000ff"/><stop offset="0.814" stop-color="#0000ff"/><stop offset="0.822" stop-color="#0000b9"/><stop offset="0.832" stop-color="#000080"/><stop offset="0.835" stop-color="#000080"/></linearGradient>
<rect x="912.00" y="167.5" width="2.00" height="287.5" fill="url(#h144)"/>
</g>
<defs><linearGradient id="st1" x1="0" y1="0" x2="0" y2="1"><stop offset="0" stop-color="#0040ff"/><stop offset="0.3" stop-color="#0080ff" stop-opacity="0.9"/><stop offset="0.65" stop-color="#20d0ff" stop-opacity="0.55"/><stop offset="1" stop-color="#70ff90" stop-opacity="0"/></linearGradient>
<linearGradient id="st2" x1="0" y1="0" x2="0" y2="1"><stop offset="0" stop-color="#0060ff"/><stop offset="0.5" stop-color="#00c0ff" stop-opacity="0.7"/><stop offset="1" stop-color="#60ffa0" stop-opacity="0"/></linearGradient></defs>
<path d="M670.2,167.5 L674.2,167.5 L673.4,197 L672.2,197 Z" fill="url(#st1)"/>
<path d="M687.2,167.5 L690.6,167.5 L689.4,179 L688.6,179 Z" fill="url(#st2)"/>
<rect x="322.20" y="111.00" width="1.60" height="16.50" fill="#fff" />
<rect x="411.60" y="111.00" width="1.60" height="41.00" fill="#fff" />
<rect x="425.00" y="111.00" width="1.60" height="36.00" fill="#fff" />
<clipPath id="c1"><rect x="200" y="110" width="714" height="345"/></clipPath>
<path d="M190.6,229.2 C191.2,228.7 192.8,227.9 194.2,226.2 C195.6,224.5 197.4,220.7 198.9,219.0 C200.4,217.3 201.4,216.7 203.2,216.0 C204.9,215.3 207.3,216.1 209.2,214.8 C211.0,213.5 212.5,210.9 214.0,208.2 C215.5,205.5 216.9,200.7 218.2,198.6 C219.4,196.5 220.2,195.5 221.8,195.6 C223.3,195.7 225.5,199.2 227.8,199.2 C230.0,199.2 233.7,195.9 235.5,195.6 C237.3,195.3 237.4,196.1 238.5,197.4 C239.6,198.7 240.8,201.0 242.0,203.4 C243.2,205.8 244.4,210.0 245.6,211.8 C246.8,213.6 247.6,213.5 249.2,214.2 C250.8,214.9 253.6,215.2 255.2,216.0 C256.8,216.8 257.4,217.3 258.8,219.0 C260.2,220.7 262.0,224.6 263.6,226.2 C265.2,227.8 266.6,228.4 268.4,228.8 C270.2,229.2 272.5,228.7 274.4,228.8 C276.3,228.9 278.3,229.6 279.8,229.2 C281.3,228.8 282.0,227.9 283.4,226.2 C284.8,224.5 286.7,220.7 288.2,219.0 C289.7,217.3 290.7,216.7 292.4,216.0 C294.1,215.3 296.6,216.1 298.4,214.8 C300.2,213.5 301.8,210.9 303.2,208.2 C304.8,205.5 306.1,200.7 307.4,198.6 C308.7,196.5 309.4,195.5 311.0,195.6 C312.6,195.7 314.7,199.2 317.0,199.2 C319.3,199.2 323.0,195.9 324.8,195.6 C326.5,195.3 326.7,196.1 327.8,197.4 C328.8,198.7 330.1,201.0 331.2,203.4 C332.4,205.8 333.7,210.0 334.9,211.8 C336.1,213.6 336.9,213.5 338.4,214.2 C340.0,214.9 342.8,215.2 344.4,216.0 C346.1,216.8 346.6,217.3 348.1,219.0 C349.5,220.7 351.2,224.6 352.9,226.2 C354.5,227.8 355.8,228.4 357.6,228.8 C359.4,229.2 361.8,228.7 363.6,228.8 C365.5,228.9 367.6,229.6 369.1,229.2 C370.6,228.8 371.2,227.9 372.6,226.2 C374.0,224.5 375.9,220.7 377.4,219.0 C378.9,217.3 379.9,216.7 381.6,216.0 C383.3,215.3 385.8,216.1 387.6,214.8 C389.5,213.5 391.0,210.9 392.5,208.2 C394.0,205.5 395.4,200.7 396.6,198.6 C397.9,196.5 398.6,195.5 400.2,195.6 C401.9,195.7 404.0,199.2 406.2,199.2 C408.5,199.2 412.2,195.9 414.0,195.6 C415.8,195.3 415.9,196.1 417.0,197.4 C418.1,198.7 419.3,201.0 420.5,203.4 C421.7,205.8 422.9,210.0 424.1,211.8 C425.3,213.6 426.1,213.5 427.7,214.2 C429.3,214.9 432.1,215.2 433.7,216.0 C435.3,216.8 435.9,217.3 437.3,219.0 C438.7,220.7 440.5,224.6 442.1,226.2 C443.7,227.8 445.1,228.4 446.9,228.8 C448.7,229.2 451.0,228.7 452.9,228.8 C454.8,228.9 456.8,229.6 458.3,229.2 C459.8,228.8 460.5,227.9 461.9,226.2 C463.3,224.5 465.2,220.7 466.7,219.0 C468.2,217.3 469.2,216.7 470.9,216.0 C472.6,215.3 475.1,216.1 476.9,214.8 C478.7,213.5 480.2,210.9 481.8,208.2 C483.2,205.5 484.6,200.7 485.9,198.6 C487.2,196.5 487.9,195.5 489.5,195.6 C491.1,195.7 493.2,199.2 495.5,199.2 C497.8,199.2 501.5,195.9 503.2,195.6 C505.0,195.3 505.2,196.1 506.2,197.4 C507.3,198.7 508.6,201.0 509.8,203.4 C510.9,205.8 512.1,210.0 513.4,211.8 C514.6,213.6 515.4,213.5 517.0,214.2 C518.6,214.9 521.4,215.2 523.0,216.0 C524.6,216.8 525.1,217.3 526.5,219.0 C527.9,220.7 529.8,224.6 531.4,226.2 C533.0,227.8 534.4,228.4 536.1,228.8 C537.9,229.2 540.2,228.7 542.1,228.8 C544.0,228.9 546.0,229.6 547.5,229.2 C549.0,228.8 549.8,227.9 551.1,226.2 C552.5,224.5 554.5,220.7 556.0,219.0 C557.5,217.3 558.5,216.7 560.1,216.0 C561.8,215.3 564.3,216.1 566.1,214.8 C568.0,213.5 569.5,210.9 571.0,208.2 C572.5,205.5 573.9,200.7 575.1,198.6 C576.4,196.5 577.1,195.5 578.8,195.6 C580.4,195.7 582.5,199.2 584.8,199.2 C587.0,199.2 590.7,195.9 592.5,195.6 C594.3,195.3 594.4,196.1 595.5,197.4 C596.6,198.7 597.8,201.0 599.0,203.4 C600.2,205.8 601.4,210.0 602.6,211.8 C603.8,213.6 604.6,213.5 606.2,214.2 C607.8,214.9 610.6,215.2 612.2,216.0 C613.8,216.8 614.4,217.3 615.8,219.0 C617.2,220.7 619.0,224.6 620.6,226.2 C622.2,227.8 623.6,228.4 625.4,228.8 C627.2,229.2 629.5,228.7 631.4,228.8 C633.3,228.9 635.3,229.6 636.8,229.2 C638.3,228.8 639.0,227.9 640.4,226.2 C641.8,224.5 643.7,220.7 645.2,219.0 C646.7,217.3 647.7,216.7 649.4,216.0 C651.1,215.3 653.6,216.1 655.4,214.8 C657.2,213.5 658.8,210.9 660.2,208.2 C661.8,205.5 663.1,200.7 664.4,198.6 C665.7,196.5 666.4,195.5 668.0,195.6 C669.6,195.7 671.7,199.2 674.0,199.2 C676.3,199.2 680.0,195.9 681.8,195.6 C683.5,195.3 683.7,196.1 684.8,197.4 C685.8,198.7 687.1,201.0 688.2,203.4 C689.4,205.8 690.6,210.0 691.9,211.8 C693.1,213.6 693.9,213.5 695.5,214.2 C697.1,214.9 699.9,215.2 701.5,216.0 C703.1,216.8 703.6,217.3 705.0,219.0 C706.4,220.7 708.2,224.6 709.9,226.2 C711.5,227.8 712.9,228.4 714.6,228.8 C716.4,229.2 718.8,228.7 720.6,228.8 C722.5,228.9 724.5,229.6 726.0,229.2 C727.5,228.8 728.2,227.9 729.6,226.2 C731.0,224.5 733.0,220.7 734.5,219.0 C736.0,217.3 737.0,216.7 738.6,216.0 C740.3,215.3 742.8,216.1 744.6,214.8 C746.5,213.5 748.0,210.9 749.5,208.2 C751.0,205.5 752.4,200.7 753.6,198.6 C754.9,196.5 755.6,195.5 757.2,195.6 C758.9,195.7 761.0,199.2 763.2,199.2 C765.5,199.2 769.2,195.9 771.0,195.6 C772.8,195.3 772.9,196.1 774.0,197.4 C775.1,198.7 776.3,201.0 777.5,203.4 C778.7,205.8 779.9,210.0 781.1,211.8 C782.3,213.6 783.1,213.5 784.7,214.2 C786.3,214.9 789.1,215.2 790.7,216.0 C792.3,216.8 792.9,217.3 794.3,219.0 C795.7,220.7 797.5,224.6 799.1,226.2 C800.7,227.8 802.1,228.4 803.9,228.8 C805.7,229.2 808.0,228.7 809.9,228.8 C811.8,228.9 813.8,229.6 815.3,229.2 C816.8,228.8 817.5,227.9 818.9,226.2 C820.3,224.5 822.2,220.7 823.7,219.0 C825.2,217.3 826.2,216.7 827.9,216.0 C829.6,215.3 832.1,216.1 833.9,214.8 C835.7,213.5 837.2,210.9 838.8,208.2 C840.2,205.5 841.6,200.7 842.9,198.6 C844.2,196.5 844.9,195.5 846.5,195.6 C848.1,195.7 850.2,199.2 852.5,199.2 C854.8,199.2 858.5,195.9 860.2,195.6 C862.0,195.3 862.2,196.1 863.2,197.4 C864.3,198.7 865.6,201.0 866.8,203.4 C867.9,205.8 869.1,210.0 870.4,211.8 C871.6,213.6 872.4,213.5 874.0,214.2 C875.6,214.9 878.4,215.2 880.0,216.0 C881.6,216.8 882.1,217.3 883.5,219.0 C884.9,220.7 886.8,224.6 888.4,226.2 C890.0,227.8 891.4,228.4 893.1,228.8 C894.9,229.2 897.2,228.7 899.1,228.8 C901.0,228.9 903.0,229.6 904.5,229.2 C906.0,228.8 906.8,227.9 908.1,226.2 C909.5,224.5 911.5,220.7 913.0,219.0 C914.5,217.3 915.5,216.7 917.1,216.0 C918.8,215.3 922.1,215.0 923.1,214.8" fill="none" stroke="#000" stroke-width="2.1" stroke-dasharray="6.6 2.9" clip-path="url(#c1)"/>
<rect x="227.00" y="111.00" width="4.00" height="9.50" fill="#000" />
<text transform="translate(229.00 139.00) scale(0.9864 1)" x="-5.5" y="0" font-size="13.23">M</text>
<rect x="271.63" y="111.00" width="4.00" height="9.50" fill="#f00" />
<text transform="translate(273.63 139.00) scale(0.9865 1)" x="-4.8" y="0" font-size="13.23" fill="#f00">N</text>
<rect x="316.26" y="111.00" width="4.00" height="9.50" fill="#000" />
<text transform="translate(318.26 139.00) scale(0.9864 1)" x="-5.5" y="0" font-size="13.23">M</text>
<rect x="360.89" y="111.00" width="4.00" height="9.50" fill="#f00" />
<text transform="translate(362.89 139.00) scale(0.9865 1)" x="-4.8" y="0" font-size="13.23" fill="#f00">N</text>
<rect x="405.52" y="111.00" width="4.00" height="9.50" fill="#000" />
<text transform="translate(407.52 139.00) scale(0.9864 1)" x="-5.5" y="0" font-size="13.23">M</text>
<rect x="450.15" y="111.00" width="4.00" height="9.50" fill="#f00" />
<text transform="translate(452.15 139.00) scale(0.9865 1)" x="-4.8" y="0" font-size="13.23" fill="#f00">N</text>
<rect x="494.78" y="111.00" width="4.00" height="9.50" fill="#000" />
<text transform="translate(496.78 139.00) scale(0.9864 1)" x="-5.5" y="0" font-size="13.23">M</text>
<rect x="539.41" y="111.00" width="4.00" height="9.50" fill="#f00" />
<text transform="translate(541.41 139.00) scale(0.9865 1)" x="-4.8" y="0" font-size="13.23" fill="#f00">N</text>
<rect x="584.04" y="111.00" width="4.00" height="9.50" fill="#000" />
<text transform="translate(586.04 139.00) scale(0.9864 1)" x="-5.5" y="0" font-size="13.23">M</text>
<rect x="628.67" y="111.00" width="4.00" height="9.50" fill="#f00" />
<text transform="translate(630.67 139.00) scale(0.9865 1)" x="-4.8" y="0" font-size="13.23" fill="#f00">N</text>
<rect x="673.30" y="111.00" width="4.00" height="9.50" fill="#000" />
<text transform="translate(675.30 139.00) scale(0.9864 1)" x="-5.5" y="0" font-size="13.23">M</text>
<rect x="717.93" y="111.00" width="4.00" height="9.50" fill="#f00" />
<text transform="translate(719.93 139.00) scale(0.9865 1)" x="-4.8" y="0" font-size="13.23" fill="#f00">N</text>
<rect x="762.56" y="111.00" width="4.00" height="9.50" fill="#000" />
<text transform="translate(764.56 139.00) scale(0.9864 1)" x="-5.5" y="0" font-size="13.23">M</text>
<rect x="807.19" y="111.00" width="4.00" height="9.50" fill="#f00" />
<text transform="translate(809.19 139.00) scale(0.9865 1)" x="-4.8" y="0" font-size="13.23" fill="#f00">N</text>
<text transform="translate(888.20 422.50) rotate(-90) scale(1.0360 1)" x="0.0 38.0 72.6 95.0 131.1 164.5 201.8 233.5" y="0" font-size="66.15" fill="#808080" fill-opacity="0.25">Forecast</text>
<line x1="825.30" y1="111.00" x2="825.30" y2="454.00" stroke="#1f77b4" stroke-width="2.2" stroke-dasharray="2.2 3.6"/>
<rect x="248" y="450.0" width="1" height="5.0" fill="#000" shape-rendering="crispEdges"/>
<rect x="337" y="450.0" width="1" height="5.0" fill="#000" shape-rendering="crispEdges"/>
<rect x="426" y="450.0" width="1" height="5.0" fill="#000" shape-rendering="crispEdges"/>
<rect x="515" y="450.0" width="1" height="5.0" fill="#000" shape-rendering="crispEdges"/>
<rect x="604" y="450.0" width="1" height="5.0" fill="#000" shape-rendering="crispEdges"/>
<rect x="694" y="450.0" width="1" height="5.0" fill="#000" shape-rendering="crispEdges"/>
<rect x="783" y="450.0" width="1" height="5.0" fill="#000" shape-rendering="crispEdges"/>
<rect x="872" y="450.0" width="1" height="5.0" fill="#000" shape-rendering="crispEdges"/>
<rect x="200.0" y="397" width="5.0" height="1" fill="#000" shape-rendering="crispEdges"/>
<rect x="909.0" y="397" width="5.0" height="1" fill="#000" shape-rendering="crispEdges"/>
<rect x="200.0" y="340" width="5.0" height="1" fill="#000" shape-rendering="crispEdges"/>
<rect x="909.0" y="340" width="5.0" height="1" fill="#000" shape-rendering="crispEdges"/>
<rect x="200.0" y="282" width="5.0" height="1" fill="#000" shape-rendering="crispEdges"/>
<rect x="909.0" y="282" width="5.0" height="1" fill="#000" shape-rendering="crispEdges"/>
<rect x="200.0" y="224" width="5.0" height="1" fill="#000" shape-rendering="crispEdges"/>
<rect x="909.0" y="224" width="5.0" height="1" fill="#000" shape-rendering="crispEdges"/>
<rect x="200.0" y="167" width="5.0" height="1" fill="#000" shape-rendering="crispEdges"/>
<rect x="909.0" y="167" width="5.0" height="1" fill="#000" shape-rendering="crispEdges"/>
<path d="M914,110 H200 V455 H914" fill="none" stroke="#000" stroke-width="2" stroke-linecap="square"/>
<line x1="914.00" y1="109.00" x2="914.00" y2="456.00" stroke="#000" stroke-width="2" />
<text transform="translate(195.00 462.50) scale(1.0895 1)" x="-10.9" y="0" font-size="19.64">2</text>
<text transform="translate(195.00 405.00) scale(1.0895 1)" x="-10.9" y="0" font-size="19.64">3</text>
<text transform="translate(195.00 347.50) scale(1.0895 1)" x="-10.9" y="0" font-size="19.64">4</text>
<text transform="translate(195.00 290.00) scale(1.0895 1)" x="-10.9" y="0" font-size="19.64">5</text>
<text transform="translate(195.00 232.50) scale(1.0895 1)" x="-10.9" y="0" font-size="19.64">6</text>
<text transform="translate(195.00 175.00) scale(1.0895 1)" x="-10.9" y="0" font-size="19.64">7</text>
<text transform="translate(195.00 117.50) scale(1.0895 1)" x="-10.9" y="0" font-size="19.64">8</text>
<text transform="translate(173.50 285.50) rotate(-90) scale(1.0970 1)" x="-11.7 1.2" y="0" font-size="24.78">L*</text>
<defs><linearGradient id="jet" x1="0" y1="1" x2="0" y2="0">
<stop offset="0" stop-color="#000080"/>
<stop offset="0.11" stop-color="#0000ff"/>
<stop offset="0.125" stop-color="#0000ff"/>
<stop offset="0.34" stop-color="#00dcfe"/>
<stop offset="0.375" stop-color="#16ffe1"/>
<stop offset="0.5" stop-color="#7dff7a"/>
<stop offset="0.625" stop-color="#e4ff13"/>
<stop offset="0.66" stop-color="#ffe600"/>
<stop offset="0.875" stop-color="#ff1e00"/>
<stop offset="0.89" stop-color="#ff1300"/>
<stop offset="0.91" stop-color="#f10800"/>
<stop offset="1" stop-color="#800000"/>
</linearGradient></defs>
<rect x="959" y="110" width="17" height="345" fill="url(#jet)" stroke="#000" stroke-width="2"/>
<rect x="977.0" y="454" width="6.0" height="1" fill="#000" shape-rendering="crispEdges"/>
<rect x="977.0" y="437" width="4.5" height="1" fill="#000" shape-rendering="crispEdges"/>
<rect x="977.0" y="427" width="4.5" height="1" fill="#000" shape-rendering="crispEdges"/>
<rect x="977.0" y="420" width="4.5" height="1" fill="#000" shape-rendering="crispEdges"/>
<rect x="977.0" y="414" width="4.5" height="1" fill="#000" shape-rendering="crispEdges"/>
<rect x="977.0" y="410" width="4.5" height="1" fill="#000" shape-rendering="crispEdges"/>
<rect x="977.0" y="406" width="4.5" height="1" fill="#000" shape-rendering="crispEdges"/>
<rect x="977.0" y="403" width="4.5" height="1" fill="#000" shape-rendering="crispEdges"/>
<rect x="977.0" y="400" width="4.5" height="1" fill="#000" shape-rendering="crispEdges"/>
<g transform="translate(988.00 462.50)">
<text transform="translate(0.00 0.00) scale(1.0895 1)" x="0.0 10.9" y="0" font-size="19.64">10</text>
<text transform="translate(23.80 -6.79) scale(1.2314 1)" x="0.0 8.9" y="0" font-size="13.74">−3</text>
</g>
<rect x="977.0" y="397" width="6.0" height="1" fill="#000" shape-rendering="crispEdges"/>
<rect x="977.0" y="380" width="4.5" height="1" fill="#000" shape-rendering="crispEdges"/>
<rect x="977.0" y="370" width="4.5" height="1" fill="#000" shape-rendering="crispEdges"/>
<rect x="977.0" y="362" width="4.5" height="1" fill="#000" shape-rendering="crispEdges"/>
<rect x="977.0" y="357" width="4.5" height="1" fill="#000" shape-rendering="crispEdges"/>
<rect x="977.0" y="352" width="4.5" height="1" fill="#000" shape-rendering="crispEdges"/>
<rect x="977.0" y="348" width="4.5" height="1" fill="#000" shape-rendering="crispEdges"/>
<rect x="977.0" y="345" width="4.5" height="1" fill="#000" shape-rendering="crispEdges"/>
<rect x="977.0" y="342" width="4.5" height="1" fill="#000" shape-rendering="crispEdges"/>
<g transform="translate(988.00 405.00)">
<text transform="translate(0.00 0.00) scale(1.0895 1)" x="0.0 10.9" y="0" font-size="19.64">10</text>
<text transform="translate(23.80 -6.79) scale(1.2314 1)" x="0.0 8.9" y="0" font-size="13.74">−2</text>
</g>
<rect x="977.0" y="340" width="6.0" height="1" fill="#000" shape-rendering="crispEdges"/>
<rect x="977.0" y="322" width="4.5" height="1" fill="#000" shape-rendering="crispEdges"/>
<rect x="977.0" y="312" width="4.5" height="1" fill="#000" shape-rendering="crispEdges"/>
<rect x="977.0" y="305" width="4.5" height="1" fill="#000" shape-rendering="crispEdges"/>
<rect x="977.0" y="299" width="4.5" height="1" fill="#000" shape-rendering="crispEdges"/>
<rect x="977.0" y="295" width="4.5" height="1" fill="#000" shape-rendering="crispEdges"/>
<rect x="977.0" y="291" width="4.5" height="1" fill="#000" shape-rendering="crispEdges"/>
<rect x="977.0" y="288" width="4.5" height="1" fill="#000" shape-rendering="crispEdges"/>
<rect x="977.0" y="285" width="4.5" height="1" fill="#000" shape-rendering="crispEdges"/>
<g transform="translate(988.00 347.50)">
<text transform="translate(0.00 0.00) scale(1.0895 1)" x="0.0 10.9" y="0" font-size="19.64">10</text>
<text transform="translate(23.80 -6.79) scale(1.2314 1)" x="0.0 8.9" y="0" font-size="13.74">−1</text>
</g>
<rect x="977.0" y="282" width="6.0" height="1" fill="#000" shape-rendering="crispEdges"/>
<rect x="977.0" y="265" width="4.5" height="1" fill="#000" shape-rendering="crispEdges"/>
<rect x="977.0" y="255" width="4.5" height="1" fill="#000" shape-rendering="crispEdges"/>
<rect x="977.0" y="247" width="4.5" height="1" fill="#000" shape-rendering="crispEdges"/>
<rect x="977.0" y="242" width="4.5" height="1" fill="#000" shape-rendering="crispEdges"/>
<rect x="977.0" y="237" width="4.5" height="1" fill="#000" shape-rendering="crispEdges"/>
<rect x="977.0" y="233" width="4.5" height="1" fill="#000" shape-rendering="crispEdges"/>
<rect x="977.0" y="230" width="4.5" height="1" fill="#000" shape-rendering="crispEdges"/>
<rect x="977.0" y="227" width="4.5" height="1" fill="#000" shape-rendering="crispEdges"/>
<g transform="translate(988.00 290.00)">
<text transform="translate(0.00 0.00) scale(1.0895 1)" x="0.0 10.9" y="0" font-size="19.64">10</text>
<text transform="translate(23.80 -6.79) scale(1.0895 1)" x="0.0" y="0" font-size="13.74">0</text>
</g>
<rect x="977.0" y="224" width="6.0" height="1" fill="#000" shape-rendering="crispEdges"/>
<rect x="977.0" y="207" width="4.5" height="1" fill="#000" shape-rendering="crispEdges"/>
<rect x="977.0" y="197" width="4.5" height="1" fill="#000" shape-rendering="crispEdges"/>
<rect x="977.0" y="190" width="4.5" height="1" fill="#000" shape-rendering="crispEdges"/>
<rect x="977.0" y="184" width="4.5" height="1" fill="#000" shape-rendering="crispEdges"/>
<rect x="977.0" y="180" width="4.5" height="1" fill="#000" shape-rendering="crispEdges"/>
<rect x="977.0" y="176" width="4.5" height="1" fill="#000" shape-rendering="crispEdges"/>
<rect x="977.0" y="173" width="4.5" height="1" fill="#000" shape-rendering="crispEdges"/>
<rect x="977.0" y="170" width="4.5" height="1" fill="#000" shape-rendering="crispEdges"/>
<g transform="translate(988.00 232.50)">
<text transform="translate(0.00 0.00) scale(1.0895 1)" x="0.0 10.9" y="0" font-size="19.64">10</text>
<text transform="translate(23.80 -6.79) scale(1.0895 1)" x="0.0" y="0" font-size="13.74">1</text>
</g>
<rect x="977.0" y="167" width="6.0" height="1" fill="#000" shape-rendering="crispEdges"/>
<rect x="977.0" y="150" width="4.5" height="1" fill="#000" shape-rendering="crispEdges"/>
<rect x="977.0" y="140" width="4.5" height="1" fill="#000" shape-rendering="crispEdges"/>
<rect x="977.0" y="132" width="4.5" height="1" fill="#000" shape-rendering="crispEdges"/>
<rect x="977.0" y="127" width="4.5" height="1" fill="#000" shape-rendering="crispEdges"/>
<rect x="977.0" y="122" width="4.5" height="1" fill="#000" shape-rendering="crispEdges"/>
<rect x="977.0" y="118" width="4.5" height="1" fill="#000" shape-rendering="crispEdges"/>
<rect x="977.0" y="115" width="4.5" height="1" fill="#000" shape-rendering="crispEdges"/>
<rect x="977.0" y="112" width="4.5" height="1" fill="#000" shape-rendering="crispEdges"/>
<g transform="translate(988.00 175.00)">
<text transform="translate(0.00 0.00) scale(1.0895 1)" x="0.0 10.9" y="0" font-size="19.64">10</text>
<text transform="translate(23.80 -6.79) scale(1.0895 1)" x="0.0" y="0" font-size="13.74">2</text>
</g>
<rect x="977.0" y="110" width="6.0" height="1" fill="#000" shape-rendering="crispEdges"/>
<g transform="translate(988.00 117.50)">
<text transform="translate(0.00 0.00) scale(1.0895 1)" x="0.0 10.9" y="0" font-size="19.64">10</text>
<text transform="translate(23.80 -6.79) scale(1.0895 1)" x="0.0" y="0" font-size="13.74">3</text>
</g>
<rect x="825.30" y="478.00" width="88.70" height="344.00" fill="#d3d3d3" />
<text transform="translate(888.20 790.50) rotate(-90) scale(1.0360 1)" x="0.0 38.0 72.6 95.0 131.1 164.5 201.8 233.5" y="0" font-size="66.15" fill="#808080" fill-opacity="0.25">Forecast</text>
<clipPath id="c2"><rect x="200" y="478" width="714" height="344"/></clipPath>
<path d="M200.4,594.4 C201.2,594.4 203.6,594.8 205.2,594.8 C206.8,594.8 208.6,594.8 210.0,594.4 C211.4,593.9 212.6,592.7 213.6,592.2 C214.6,591.7 215.0,591.5 216.0,591.4 C217.0,591.3 218.4,591.7 219.6,591.6 C220.8,591.5 221.8,591.1 223.2,590.8 C224.6,590.5 226.6,589.8 228.0,589.8 C229.4,589.8 230.4,590.4 231.6,590.8 C232.8,591.1 234.1,591.8 235.2,592.0 C236.3,592.1 237.0,592.3 238.2,591.6 C239.4,590.9 241.1,588.8 242.4,587.6 C243.7,586.5 245.0,585.4 246.0,584.8 C247.0,584.1 247.4,584.0 248.4,583.8 C249.4,583.6 250.8,583.6 252.0,583.4 C253.2,583.3 254.6,583.2 255.6,582.8 C256.6,582.5 257.0,582.3 258.0,581.4 C259.0,580.5 260.4,578.5 261.6,577.2 C262.8,575.9 264.0,574.5 265.2,573.6 C266.4,572.7 267.4,572.2 268.8,571.6 C270.2,571.0 272.2,570.4 273.6,570.0 C275.0,569.6 276.0,569.2 277.2,569.0 C278.4,568.9 279.7,569.0 280.8,569.2 C281.9,569.4 282.8,569.6 283.8,570.2 C284.8,570.8 285.7,572.0 286.8,572.8 C287.9,573.5 289.2,574.3 290.4,574.8 C291.6,575.3 292.9,575.4 294.0,575.6 C295.1,575.9 296.0,575.9 297.0,576.4 C298.0,576.8 299.1,577.2 300.0,578.4 C300.9,579.6 301.7,581.5 302.4,583.8 C303.1,586.1 303.6,589.2 304.2,592.2 C304.8,595.2 305.4,599.2 306.0,601.8 C306.6,604.4 307.1,606.2 307.8,607.8 C308.5,609.4 309.5,610.4 310.2,611.4 C310.9,612.4 311.3,613.4 312.0,613.8 C312.7,614.2 313.5,614.4 314.2,614.0 C314.9,613.6 315.4,612.4 316.2,611.4 C317.0,610.4 318.3,608.9 319.2,608.0 C320.1,607.1 320.9,606.3 321.6,606.0 C322.3,605.7 322.6,606.3 323.4,606.0 C324.2,605.7 325.3,605.1 326.4,604.4 C327.5,603.7 328.8,603.0 330.0,601.8 C331.2,600.6 332.5,598.3 333.6,597.0 C334.7,595.7 335.6,594.6 336.6,594.0 C337.6,593.4 338.5,593.3 339.6,593.2 C340.7,593.0 342.0,593.3 343.2,592.9 C344.4,592.6 345.6,591.9 346.8,591.0 C348.0,590.1 349.2,588.5 350.4,587.4 C351.6,586.3 352.8,585.0 354.0,584.4 C355.2,583.8 356.2,583.7 357.6,583.6 C359.0,583.4 360.8,583.4 362.4,583.3 C364.0,583.3 365.8,583.1 367.2,583.2 C368.6,583.3 369.7,583.5 370.8,584.0 C371.9,584.5 372.8,585.2 373.8,586.2 C374.8,587.2 375.7,588.8 376.8,589.8 C377.9,590.8 379.2,591.8 380.4,592.4 C381.6,593.0 382.8,592.9 384.0,593.4 C385.2,593.9 386.6,594.4 387.6,595.2 C388.6,596.0 389.1,596.9 390.0,598.2 C390.9,599.5 391.8,601.5 393.0,603.0 C394.2,604.5 396.0,606.0 397.2,607.2 C398.4,608.4 399.2,609.5 400.2,610.2 C401.2,610.9 402.1,611.0 403.2,611.2 C404.3,611.3 405.7,610.5 406.8,610.9 C407.9,611.4 408.8,612.5 409.8,613.8 C410.8,615.1 411.9,617.3 412.9,618.5 C413.9,619.7 414.8,621.0 415.8,621.0 C416.8,621.0 417.8,620.0 418.7,618.5 C419.7,617.0 420.7,613.9 421.6,612.0 C422.5,610.1 423.7,607.9 424.1,607.1 L424.3,607.1 L424.6,667.3 L425.0,724.7 L425.7,724.7 L426.3,716.7 L426.7,712.4 L428.9,705.1 C429.4,704.2 431.1,701.7 431.8,700.0 C432.5,698.3 432.7,697.5 433.3,694.9 C433.9,692.4 434.7,688.1 435.5,684.7 C436.2,681.3 437.0,677.9 437.6,674.5 C438.2,671.2 438.6,668.2 439.1,664.4 C439.6,660.5 440.0,655.4 440.5,651.3 C441.1,647.2 441.8,642.7 442.3,639.6 C442.8,636.6 443.2,634.9 443.7,633.1 C444.3,631.3 444.9,630.1 445.6,628.7 C446.4,627.4 447.3,626.1 448.1,625.1 C449.0,624.1 449.9,623.8 450.7,622.9 C451.5,622.1 452.2,620.7 452.9,620.0 C453.6,619.3 454.4,619.2 455.1,618.5 C455.8,617.9 456.4,616.5 457.3,616.4 C458.1,616.2 459.2,616.6 460.2,617.5 C461.2,618.5 462.1,620.5 463.1,622.2 C464.1,623.9 465.0,626.9 466.0,627.7 C467.0,628.6 467.8,627.8 468.9,627.3 C470.0,626.7 471.3,624.8 472.5,624.4 C473.8,623.9 475.1,623.8 476.2,624.4 C477.3,625.0 478.1,626.7 479.1,628.0 C480.1,629.3 481.2,630.9 482.0,632.4 C482.8,633.8 483.5,635.6 484.2,636.7 C484.9,637.9 485.6,638.8 486.4,639.3 C487.1,639.9 487.7,640.1 488.5,640.1 C489.4,640.0 490.5,639.5 491.5,638.9 C492.4,638.4 493.4,637.2 494.4,636.7 C495.3,636.2 496.2,636.0 497.3,636.0 C498.4,636.0 499.8,636.4 500.9,636.4 C502.0,636.4 502.8,636.6 503.8,636.0 C504.8,635.4 505.8,634.3 506.7,633.1 C507.7,631.9 508.8,630.3 509.6,628.7 C510.5,627.2 511.0,625.3 511.8,623.6 C512.7,622.0 513.8,620.2 514.7,619.0 C515.7,617.8 516.5,616.9 517.6,616.4 C518.7,615.8 520.1,616.1 521.3,615.6 C522.5,615.2 523.8,614.5 524.9,613.7 C526.0,612.9 526.8,612.0 527.8,610.8 C528.8,609.7 529.6,608.0 530.7,606.9 C531.8,605.8 533.2,604.7 534.4,604.0 C535.6,603.3 536.8,603.2 538.0,603.0 C539.2,602.8 540.4,603.0 541.6,602.8 C542.8,602.7 544.1,602.1 545.3,602.1 C546.5,602.1 547.8,602.4 548.9,603.0 C550.0,603.6 550.8,604.8 551.8,605.9 C552.8,607.0 553.8,608.6 554.7,609.8 C555.7,611.0 556.8,612.3 557.6,613.2 C558.5,614.0 559.1,614.7 560.0,615.0 C560.9,615.3 562.0,614.8 563.0,615.0 C564.0,615.2 565.0,615.2 566.0,616.0 C567.0,616.8 568.0,618.2 569.0,619.5 C570.0,620.8 571.1,622.7 572.0,624.0 C572.9,625.3 573.6,626.6 574.5,627.5 C575.4,628.4 576.5,629.0 577.5,629.2 C578.5,629.4 579.5,628.9 580.5,628.5 C581.5,628.1 582.6,627.2 583.5,626.8 C584.4,626.4 585.1,626.3 586.0,626.3 C586.9,626.3 588.0,626.8 589.0,627.0 C590.0,627.2 591.0,627.8 592.0,627.7 C593.0,627.6 594.0,627.1 595.0,626.5 C596.0,625.9 597.0,625.0 598.0,623.8 C599.0,622.5 600.0,620.4 601.0,619.0 C602.0,617.6 603.0,616.3 604.0,615.5 C605.0,614.7 606.0,614.5 607.0,614.2 C608.0,614.0 609.0,614.2 610.0,614.0 C611.0,613.8 612.0,613.7 613.0,613.2 C614.0,612.7 615.0,612.0 616.0,611.0 C617.0,610.0 618.0,608.1 619.0,607.0 C620.0,605.9 621.0,605.2 622.0,604.5 C623.0,603.8 624.0,603.1 625.0,602.8 C626.0,602.5 627.0,602.6 628.0,602.5 C629.0,602.4 630.0,602.4 631.0,602.3 C632.0,602.2 633.0,601.8 634.0,601.8 C635.0,601.8 636.0,601.8 637.0,602.0 C638.0,602.2 639.1,602.6 640.0,603.2 C640.9,603.8 641.8,604.7 642.5,605.5 C643.2,606.3 643.7,607.1 644.5,607.8 C645.3,608.5 646.5,609.3 647.5,609.7 C648.5,610.1 649.5,610.0 650.5,610.0 C651.5,610.0 652.5,609.9 653.5,610.0 C654.5,610.1 655.4,610.3 656.5,610.8 C657.6,611.3 658.8,612.0 660.0,613.0 C661.2,614.0 662.8,615.8 664.0,617.0 C665.2,618.2 666.5,619.6 667.5,620.5 C668.5,621.4 669.4,622.1 670.0,622.5 C670.6,622.9 670.8,622.9 671.0,623.0 L671.8,626.5 L673.0,628.0 L673.5,636.0 L673.8,645.5 L674.2,645.5 L674.8,640.0 L675.5,636.0 L677.0,635.0 C677.3,635.2 678.2,636.0 679.0,636.5 C679.8,637.0 680.7,637.9 681.5,638.0 C682.3,638.1 683.2,637.7 684.0,637.0 C684.8,636.3 685.2,635.4 686.0,634.0 C686.8,632.6 687.8,630.2 688.5,628.5 C689.2,626.8 689.8,624.9 690.5,623.5 C691.2,622.1 691.8,621.0 692.5,620.0 C693.2,619.0 693.7,618.2 694.5,617.8 C695.3,617.4 696.6,617.7 697.5,617.8 C698.4,617.9 699.2,618.5 700.0,618.5 C700.8,618.5 701.6,618.5 702.5,617.8 C703.4,617.1 704.5,615.9 705.5,614.5 C706.5,613.1 707.6,610.8 708.5,609.5 C709.4,608.2 710.1,607.2 711.0,606.5 C711.9,605.8 713.0,605.5 714.0,605.2 C715.0,605.0 716.0,605.0 717.0,605.0 C718.0,605.0 719.0,605.5 720.0,605.5 C721.0,605.5 722.0,604.9 723.0,604.8 C724.0,604.7 725.0,604.7 726.0,605.0 C727.0,605.3 728.0,605.8 729.0,606.8 C730.0,607.8 731.1,609.7 732.0,611.0 C732.9,612.3 733.7,613.5 734.5,614.5 C735.3,615.5 736.1,616.2 737.0,616.8 C737.9,617.3 739.5,617.6 740.0,617.8 C740.5,618.0 739.4,617.6 740.0,617.7 C740.6,617.8 742.6,617.9 743.6,618.4 C744.7,618.8 745.5,619.4 746.4,620.5 C747.3,621.5 748.2,622.8 749.1,624.5 C750.0,626.3 750.9,629.1 751.8,630.9 C752.7,632.8 753.7,634.7 754.5,635.6 C755.4,636.6 755.9,636.8 756.8,636.8 C757.7,636.8 758.9,636.0 760.0,635.6 C761.1,635.2 762.2,634.4 763.2,634.4 C764.2,634.3 764.9,634.7 765.9,635.5 C766.9,636.2 768.0,638.1 769.1,639.1 C770.2,640.1 771.3,641.6 772.3,641.6 C773.3,641.6 774.1,640.6 775.0,639.1 C775.9,637.6 776.8,634.7 777.7,632.7 C778.6,630.8 779.5,628.9 780.5,627.3 C781.4,625.7 782.3,624.0 783.2,623.2 C784.1,622.4 785.0,622.6 785.9,622.5 C786.8,622.5 787.7,622.9 788.6,622.7 C789.6,622.5 790.8,622.1 791.8,621.4 C792.9,620.6 794.0,619.5 795.0,618.2 C796.0,616.8 796.8,614.5 797.7,613.2 C798.6,611.9 799.5,611.1 800.5,610.5 C801.4,609.8 802.2,609.5 803.2,609.3 C804.2,609.0 805.4,609.2 806.4,609.1 C807.3,609.0 808.0,608.9 809.1,608.9 C810.2,608.9 811.6,609.0 812.7,609.1 C813.9,609.2 815.0,609.2 815.9,609.5 C816.8,609.9 817.3,610.3 818.2,611.4 C819.0,612.4 820.1,614.3 820.9,615.9 C821.7,617.5 822.5,619.5 823.2,620.9 C823.9,622.3 824.3,623.3 825.0,624.1 C825.7,624.8 826.3,625.0 827.3,625.5 C828.3,625.9 829.7,626.2 830.9,626.8 C832.1,627.4 833.5,628.0 834.5,629.1 C835.6,630.2 836.4,631.8 837.3,633.6 C838.2,635.5 839.1,637.9 840.0,640.0 C840.9,642.1 841.8,644.8 842.7,646.4 C843.6,648.0 844.6,649.1 845.5,649.5 C846.3,650.0 847.0,649.7 847.7,649.3 C848.5,648.9 849.1,647.6 850.0,647.3 C850.9,646.9 852.2,646.9 853.2,647.1 C854.2,647.2 855.1,647.7 855.9,648.2 C856.7,648.7 857.4,649.5 858.2,650.0 C858.9,650.5 859.6,651.2 860.5,651.1 C861.3,650.9 862.3,650.3 863.2,649.1 C864.1,647.8 865.0,645.5 865.9,643.6 C866.8,641.8 867.7,639.8 868.6,638.2 C869.6,636.5 870.8,634.6 871.8,633.6 C872.8,632.7 873.6,632.8 874.5,632.5 C875.5,632.3 876.3,632.1 877.3,632.0 C878.3,631.9 879.4,632.3 880.5,631.8 C881.5,631.3 882.6,630.5 883.6,629.1 C884.7,627.7 885.8,625.2 886.8,623.6 C887.9,622.1 888.9,620.7 890.0,620.0 C891.1,619.3 892.3,619.5 893.6,619.3 C895.0,619.1 896.5,618.9 898.2,618.9 C899.8,618.9 902.2,618.8 903.6,619.1 C905.1,619.4 905.8,620.1 906.8,620.9 C907.8,621.7 908.6,622.8 909.5,624.1 C910.5,625.4 911.8,627.9 912.3,628.6" fill="none" stroke="#f00" stroke-width="2.2" stroke-linejoin="round" clip-path="url(#c2)"/>
<line x1="825.30" y1="479.00" x2="825.30" y2="821.00" stroke="#1f77b4" stroke-width="2.2" stroke-dasharray="2.2 3.6"/>
<rect x="248" y="817.0" width="1" height="5.0" fill="#000" shape-rendering="crispEdges"/>
<rect x="337" y="817.0" width="1" height="5.0" fill="#000" shape-rendering="crispEdges"/>
<rect x="426" y="817.0" width="1" height="5.0" fill="#000" shape-rendering="crispEdges"/>
<rect x="515" y="817.0" width="1" height="5.0" fill="#000" shape-rendering="crispEdges"/>
<rect x="604" y="817.0" width="1" height="5.0" fill="#000" shape-rendering="crispEdges"/>
<rect x="694" y="817.0" width="1" height="5.0" fill="#000" shape-rendering="crispEdges"/>
<rect x="783" y="817.0" width="1" height="5.0" fill="#000" shape-rendering="crispEdges"/>
<rect x="872" y="817.0" width="1" height="5.0" fill="#000" shape-rendering="crispEdges"/>
<rect x="200.0" y="822" width="6.0" height="1" fill="#000" shape-rendering="crispEdges"/>
<rect x="200.0" y="804" width="3.5" height="1" fill="#000" shape-rendering="crispEdges"/>
<rect x="200.0" y="794" width="3.5" height="1" fill="#000" shape-rendering="crispEdges"/>
<rect x="200.0" y="787" width="3.5" height="1" fill="#000" shape-rendering="crispEdges"/>
<rect x="200.0" y="781" width="3.5" height="1" fill="#000" shape-rendering="crispEdges"/>
<rect x="200.0" y="777" width="3.5" height="1" fill="#000" shape-rendering="crispEdges"/>
<rect x="200.0" y="773" width="3.5" height="1" fill="#000" shape-rendering="crispEdges"/>
<rect x="200.0" y="770" width="3.5" height="1" fill="#000" shape-rendering="crispEdges"/>
<rect x="200.0" y="767" width="3.5" height="1" fill="#000" shape-rendering="crispEdges"/>
<rect x="200.0" y="764" width="6.0" height="1" fill="#000" shape-rendering="crispEdges"/>
<rect x="200.0" y="747" width="3.5" height="1" fill="#000" shape-rendering="crispEdges"/>
<rect x="200.0" y="737" width="3.5" height="1" fill="#000" shape-rendering="crispEdges"/>
<rect x="200.0" y="730" width="3.5" height="1" fill="#000" shape-rendering="crispEdges"/>
<rect x="200.0" y="724" width="3.5" height="1" fill="#000" shape-rendering="crispEdges"/>
<rect x="200.0" y="720" width="3.5" height="1" fill="#000" shape-rendering="crispEdges"/>
<rect x="200.0" y="716" width="3.5" height="1" fill="#000" shape-rendering="crispEdges"/>
<rect x="200.0" y="712" width="3.5" height="1" fill="#000" shape-rendering="crispEdges"/>
<rect x="200.0" y="709" width="3.5" height="1" fill="#000" shape-rendering="crispEdges"/>
<rect x="200.0" y="707" width="6.0" height="1" fill="#000" shape-rendering="crispEdges"/>
<rect x="200.0" y="690" width="3.5" height="1" fill="#000" shape-rendering="crispEdges"/>
<rect x="200.0" y="679" width="3.5" height="1" fill="#000" shape-rendering="crispEdges"/>
<rect x="200.0" y="672" width="3.5" height="1" fill="#000" shape-rendering="crispEdges"/>
<rect x="200.0" y="667" width="3.5" height="1" fill="#000" shape-rendering="crispEdges"/>
<rect x="200.0" y="662" width="3.5" height="1" fill="#000" shape-rendering="crispEdges"/>
<rect x="200.0" y="658" width="3.5" height="1" fill="#000" shape-rendering="crispEdges"/>
<rect x="200.0" y="655" width="3.5" height="1" fill="#000" shape-rendering="crispEdges"/>
<rect x="200.0" y="652" width="3.5" height="1" fill="#000" shape-rendering="crispEdges"/>
<rect x="200.0" y="650" width="6.0" height="1" fill="#000" shape-rendering="crispEdges"/>
<rect x="200.0" y="632" width="3.5" height="1" fill="#000" shape-rendering="crispEdges"/>
<rect x="200.0" y="622" width="3.5" height="1" fill="#000" shape-rendering="crispEdges"/>
<rect x="200.0" y="615" width="3.5" height="1" fill="#000" shape-rendering="crispEdges"/>
<rect x="200.0" y="609" width="3.5" height="1" fill="#000" shape-rendering="crispEdges"/>
<rect x="200.0" y="605" width="3.5" height="1" fill="#000" shape-rendering="crispEdges"/>
<rect x="200.0" y="601" width="3.5" height="1" fill="#000" shape-rendering="crispEdges"/>
<rect x="200.0" y="598" width="3.5" height="1" fill="#000" shape-rendering="crispEdges"/>
<rect x="200.0" y="595" width="3.5" height="1" fill="#000" shape-rendering="crispEdges"/>
<rect x="200.0" y="592" width="6.0" height="1" fill="#000" shape-rendering="crispEdges"/>
<rect x="200.0" y="575" width="3.5" height="1" fill="#000" shape-rendering="crispEdges"/>
<rect x="200.0" y="565" width="3.5" height="1" fill="#000" shape-rendering="crispEdges"/>
<rect x="200.0" y="558" width="3.5" height="1" fill="#000" shape-rendering="crispEdges"/>
<rect x="200.0" y="552" width="3.5" height="1" fill="#000" shape-rendering="crispEdges"/>
<rect x="200.0" y="548" width="3.5" height="1" fill="#000" shape-rendering="crispEdges"/>
<rect x="200.0" y="544" width="3.5" height="1" fill="#000" shape-rendering="crispEdges"/>
<rect x="200.0" y="540" width="3.5" height="1" fill="#000" shape-rendering="crispEdges"/>
<rect x="200.0" y="537" width="3.5" height="1" fill="#000" shape-rendering="crispEdges"/>
<rect x="200.0" y="535" width="6.0" height="1" fill="#000" shape-rendering="crispEdges"/>
<rect x="200.0" y="518" width="3.5" height="1" fill="#000" shape-rendering="crispEdges"/>
<rect x="200.0" y="507" width="3.5" height="1" fill="#000" shape-rendering="crispEdges"/>
<rect x="200.0" y="500" width="3.5" height="1" fill="#000" shape-rendering="crispEdges"/>
<rect x="200.0" y="495" width="3.5" height="1" fill="#000" shape-rendering="crispEdges"/>
<rect x="200.0" y="490" width="3.5" height="1" fill="#000" shape-rendering="crispEdges"/>
<rect x="200.0" y="486" width="3.5" height="1" fill="#000" shape-rendering="crispEdges"/>
<rect x="200.0" y="483" width="3.5" height="1" fill="#000" shape-rendering="crispEdges"/>
<rect x="200.0" y="480" width="3.5" height="1" fill="#000" shape-rendering="crispEdges"/>
<rect x="200.0" y="478" width="6.0" height="1" fill="#000" shape-rendering="crispEdges"/>
<rect x="908.0" y="822" width="6.0" height="1" fill="#000" shape-rendering="crispEdges"/>
<rect x="910.5" y="804" width="3.5" height="1" fill="#000" shape-rendering="crispEdges"/>
<rect x="910.5" y="794" width="3.5" height="1" fill="#000" shape-rendering="crispEdges"/>
<rect x="910.5" y="787" width="3.5" height="1" fill="#000" shape-rendering="crispEdges"/>
<rect x="910.5" y="781" width="3.5" height="1" fill="#000" shape-rendering="crispEdges"/>
<rect x="910.5" y="777" width="3.5" height="1" fill="#000" shape-rendering="crispEdges"/>
<rect x="910.5" y="773" width="3.5" height="1" fill="#000" shape-rendering="crispEdges"/>
<rect x="910.5" y="770" width="3.5" height="1" fill="#000" shape-rendering="crispEdges"/>
<rect x="910.5" y="767" width="3.5" height="1" fill="#000" shape-rendering="crispEdges"/>
<rect x="908.0" y="764" width="6.0" height="1" fill="#000" shape-rendering="crispEdges"/>
<rect x="910.5" y="747" width="3.5" height="1" fill="#000" shape-rendering="crispEdges"/>
<rect x="910.5" y="737" width="3.5" height="1" fill="#000" shape-rendering="crispEdges"/>
<rect x="910.5" y="730" width="3.5" height="1" fill="#000" shape-rendering="crispEdges"/>
<rect x="910.5" y="724" width="3.5" height="1" fill="#000" shape-rendering="crispEdges"/>
<rect x="910.5" y="720" width="3.5" height="1" fill="#000" shape-rendering="crispEdges"/>
<rect x="910.5" y="716" width="3.5" height="1" fill="#000" shape-rendering="crispEdges"/>
<rect x="910.5" y="712" width="3.5" height="1" fill="#000" shape-rendering="crispEdges"/>
<rect x="910.5" y="709" width="3.5" height="1" fill="#000" shape-rendering="crispEdges"/>
<rect x="908.0" y="707" width="6.0" height="1" fill="#000" shape-rendering="crispEdges"/>
<rect x="910.5" y="690" width="3.5" height="1" fill="#000" shape-rendering="crispEdges"/>
<rect x="910.5" y="679" width="3.5" height="1" fill="#000" shape-rendering="crispEdges"/>
<rect x="910.5" y="672" width="3.5" height="1" fill="#000" shape-rendering="crispEdges"/>
<rect x="910.5" y="667" width="3.5" height="1" fill="#000" shape-rendering="crispEdges"/>
<rect x="910.5" y="662" width="3.5" height="1" fill="#000" shape-rendering="crispEdges"/>
<rect x="910.5" y="658" width="3.5" height="1" fill="#000" shape-rendering="crispEdges"/>
<rect x="910.5" y="655" width="3.5" height="1" fill="#000" shape-rendering="crispEdges"/>
<rect x="910.5" y="652" width="3.5" height="1" fill="#000" shape-rendering="crispEdges"/>
<rect x="908.0" y="650" width="6.0" height="1" fill="#000" shape-rendering="crispEdges"/>
<rect x="910.5" y="632" width="3.5" height="1" fill="#000" shape-rendering="crispEdges"/>
<rect x="910.5" y="622" width="3.5" height="1" fill="#000" shape-rendering="crispEdges"/>
<rect x="910.5" y="615" width="3.5" height="1" fill="#000" shape-rendering="crispEdges"/>
<rect x="910.5" y="609" width="3.5" height="1" fill="#000" shape-rendering="crispEdges"/>
<rect x="910.5" y="605" width="3.5" height="1" fill="#000" shape-rendering="crispEdges"/>
<rect x="910.5" y="601" width="3.5" height="1" fill="#000" shape-rendering="crispEdges"/>
<rect x="910.5" y="598" width="3.5" height="1" fill="#000" shape-rendering="crispEdges"/>
<rect x="910.5" y="595" width="3.5" height="1" fill="#000" shape-rendering="crispEdges"/>
<rect x="908.0" y="592" width="6.0" height="1" fill="#000" shape-rendering="crispEdges"/>
<rect x="910.5" y="575" width="3.5" height="1" fill="#000" shape-rendering="crispEdges"/>
<rect x="910.5" y="565" width="3.5" height="1" fill="#000" shape-rendering="crispEdges"/>
<rect x="910.5" y="558" width="3.5" height="1" fill="#000" shape-rendering="crispEdges"/>
<rect x="910.5" y="552" width="3.5" height="1" fill="#000" shape-rendering="crispEdges"/>
<rect x="910.5" y="548" width="3.5" height="1" fill="#000" shape-rendering="crispEdges"/>
<rect x="910.5" y="544" width="3.5" height="1" fill="#000" shape-rendering="crispEdges"/>
<rect x="910.5" y="540" width="3.5" height="1" fill="#000" shape-rendering="crispEdges"/>
<rect x="910.5" y="537" width="3.5" height="1" fill="#000" shape-rendering="crispEdges"/>
<rect x="908.0" y="535" width="6.0" height="1" fill="#000" shape-rendering="crispEdges"/>
<rect x="910.5" y="518" width="3.5" height="1" fill="#000" shape-rendering="crispEdges"/>
<rect x="910.5" y="507" width="3.5" height="1" fill="#000" shape-rendering="crispEdges"/>
<rect x="910.5" y="500" width="3.5" height="1" fill="#000" shape-rendering="crispEdges"/>
<rect x="910.5" y="495" width="3.5" height="1" fill="#000" shape-rendering="crispEdges"/>
<rect x="910.5" y="490" width="3.5" height="1" fill="#000" shape-rendering="crispEdges"/>
<rect x="910.5" y="486" width="3.5" height="1" fill="#000" shape-rendering="crispEdges"/>
<rect x="910.5" y="483" width="3.5" height="1" fill="#000" shape-rendering="crispEdges"/>
<rect x="910.5" y="480" width="3.5" height="1" fill="#000" shape-rendering="crispEdges"/>
<rect x="908.0" y="478" width="6.0" height="1" fill="#000" shape-rendering="crispEdges"/>
<path d="M914,478 H200 V822 H914" fill="none" stroke="#000" stroke-width="2" stroke-linecap="square"/>
<line x1="914.00" y1="477.00" x2="914.00" y2="823.00" stroke="#000" stroke-width="2" />
<g transform="translate(195.00 829.50)">
<text transform="translate(-43.09 0.00) scale(1.0895 1)" x="0.0 10.9" y="0" font-size="19.64">10</text>
<text transform="translate(-19.30 -6.79) scale(1.2314 1)" x="0.0 8.9" y="0" font-size="13.74">−3</text>
</g>
<g transform="translate(195.00 772.17)">
<text transform="translate(-43.09 0.00) scale(1.0895 1)" x="0.0 10.9" y="0" font-size="19.64">10</text>
<text transform="translate(-19.30 -6.79) scale(1.2314 1)" x="0.0 8.9" y="0" font-size="13.74">−2</text>
</g>
<g transform="translate(195.00 714.83)">
<text transform="translate(-43.09 0.00) scale(1.0895 1)" x="0.0 10.9" y="0" font-size="19.64">10</text>
<text transform="translate(-19.30 -6.79) scale(1.2314 1)" x="0.0 8.9" y="0" font-size="13.74">−1</text>
</g>
<g transform="translate(195.00 657.50)">
<text transform="translate(-32.12 0.00) scale(1.0895 1)" x="0.0 10.9" y="0" font-size="19.64">10</text>
<text transform="translate(-8.33 -6.79) scale(1.0895 1)" x="0.0" y="0" font-size="13.74">0</text>
</g>
<g transform="translate(195.00 600.17)">
<text transform="translate(-32.12 0.00) scale(1.0895 1)" x="0.0 10.9" y="0" font-size="19.64">10</text>
<text transform="translate(-8.33 -6.79) scale(1.0895 1)" x="0.0" y="0" font-size="13.74">1</text>
</g>
<g transform="translate(195.00 542.83)">
<text transform="translate(-32.12 0.00) scale(1.0895 1)" x="0.0 10.9" y="0" font-size="19.64">10</text>
<text transform="translate(-8.33 -6.79) scale(1.0895 1)" x="0.0" y="0" font-size="13.74">2</text>
</g>
<g transform="translate(195.00 485.50)">
<text transform="translate(-32.12 0.00) scale(1.0895 1)" x="0.0 10.9" y="0" font-size="19.64">10</text>
<text transform="translate(-8.33 -6.79) scale(1.0895 1)" x="0.0" y="0" font-size="13.74">3</text>
</g>
<text transform="translate(236.00 511.00) scale(1.0959 1)" x="0.0 18.1 31.1 44.0 55.7 62.8 76.0 84.4 90.4 103.6 117.2 130.4 139.3 152.0 158.9 172.0 180.9 194.6 200.5 209.0" y="0" font-size="24.78">Geostationary orbit:</text>
<text transform="translate(500.00 511.00) scale(1.0498 1)" x="0.0 19.4 33.1 47.4 61.2" y="0" font-size="24.78" fill="#f00">Model</text>
<text transform="translate(101.50 650.80) rotate(-90) scale(1.0855 1)" x="-121.9 -107.6 -100.5 -86.3 -79.2 -59.8 -46.1 -30.5 -23.6 -8.1 -2.9 10.5 22.8 31.6 40.8 54.0 68.2 75.3 89.6 94.7 108.6" y="0" font-size="24.78">2.0 MeV Electron Flux</text>
<g transform="translate(134.30 648.00) rotate(-90)">
<text transform="translate(-133.00 0.00) scale(1.1289 1)" x="0.0 8.4 15.3 27.1" y="0" font-size="24.78">( cm</text>
<text transform="translate(-78.62 -8.57) scale(1.2712 1)" x="0.0 11.2" y="0" font-size="17.35">−2</text>
<text transform="translate(-49.34 0.00) scale(1.0245 1)" x="0.0" y="0" font-size="24.78">s</text>
<text transform="translate(-36.65 -8.57) scale(1.2712 1)" x="0.0 11.2" y="0" font-size="17.35">−1</text>
<text transform="translate(-7.36 0.00) scale(1.1002 1)" x="0.0 11.6" y="0" font-size="24.78">sr</text>
<text transform="translate(15.35 -8.57) scale(1.2712 1)" x="0.0 11.2" y="0" font-size="17.35">−1</text>
<text transform="translate(44.63 0.00) scale(0.9910 1)" x="0.0 16.1 30.0" y="0" font-size="24.78">KeV</text>
<text transform="translate(91.05 -8.57) scale(1.2712 1)" x="0.0 11.2" y="0" font-size="17.35">−1</text>
<text transform="translate(123.49 0.00) scale(1.1518 1)" x="0.0" y="0" font-size="24.78">)</text>
</g>
<clipPath id="c3"><rect x="200" y="845" width="714" height="172"/></clipPath><g clip-path="url(#c3)" shape-rendering="crispEdges">
<rect x="198.91" y="985.15" width="8.93" height="31.85" fill="#008000" />
<rect x="210.07" y="966.04" width="8.93" height="50.96" fill="#008000" />
<rect x="221.22" y="972.41" width="8.93" height="44.59" fill="#008000" />
<rect x="232.38" y="985.15" width="8.93" height="31.85" fill="#008000" />
<rect x="243.54" y="997.89" width="8.93" height="19.11" fill="#008000" />
<rect x="254.69" y="946.93" width="8.93" height="70.07" fill="#bfbf00" />
<rect x="265.85" y="946.93" width="8.93" height="70.07" fill="#bfbf00" />
<rect x="277.01" y="953.30" width="8.93" height="63.70" fill="#bfbf00" />
<rect x="288.16" y="959.67" width="8.93" height="57.33" fill="#bfbf00" />
<rect x="299.32" y="953.30" width="8.93" height="63.70" fill="#bfbf00" />
<rect x="310.48" y="946.93" width="8.93" height="70.07" fill="#bfbf00" />
<rect x="321.63" y="972.41" width="8.93" height="44.59" fill="#008000" />
<rect x="332.79" y="978.78" width="8.93" height="38.22" fill="#008000" />
<rect x="343.94" y="966.04" width="8.93" height="50.96" fill="#008000" />
<rect x="355.10" y="991.52" width="8.93" height="25.48" fill="#008000" />
<rect x="366.26" y="972.41" width="8.93" height="44.59" fill="#008000" />
<rect x="377.41" y="953.30" width="8.93" height="63.70" fill="#bfbf00" />
<rect x="388.57" y="940.56" width="8.93" height="76.44" fill="#bfbf00" />
<rect x="399.73" y="959.67" width="8.93" height="57.33" fill="#bfbf00" />
<rect x="410.88" y="972.41" width="8.93" height="44.59" fill="#008000" />
<rect x="422.04" y="997.89" width="8.93" height="19.11" fill="#008000" />
<rect x="444.35" y="1004.26" width="8.93" height="12.74" fill="#008000" />
<rect x="455.51" y="991.52" width="8.93" height="25.48" fill="#008000" />
<rect x="466.66" y="959.67" width="8.93" height="57.33" fill="#bfbf00" />
<rect x="500.13" y="978.78" width="8.93" height="38.22" fill="#008000" />
<rect x="511.29" y="966.04" width="8.93" height="50.96" fill="#008000" />
<rect x="522.44" y="997.89" width="8.93" height="19.11" fill="#008000" />
<rect x="533.60" y="997.89" width="8.93" height="19.11" fill="#008000" />
<rect x="544.76" y="972.41" width="8.93" height="44.59" fill="#008000" />
<rect x="555.91" y="985.15" width="8.93" height="31.85" fill="#008000" />
<rect x="567.07" y="991.52" width="8.93" height="25.48" fill="#008000" />
<rect x="578.23" y="997.89" width="8.93" height="19.11" fill="#008000" />
<rect x="589.38" y="997.89" width="8.93" height="19.11" fill="#008000" />
<rect x="600.54" y="1004.26" width="8.93" height="12.74" fill="#008000" />
<rect x="611.69" y="1010.63" width="8.93" height="6.37" fill="#008000" />
<rect x="622.85" y="991.52" width="8.93" height="25.48" fill="#008000" />
<rect x="634.01" y="997.89" width="8.93" height="19.11" fill="#008000" />
<rect x="645.16" y="997.89" width="8.93" height="19.11" fill="#008000" />
<rect x="656.32" y="991.52" width="8.93" height="25.48" fill="#008000" />
<rect x="667.48" y="966.04" width="8.93" height="50.96" fill="#008000" />
<rect x="678.63" y="985.15" width="8.93" height="31.85" fill="#008000" />
<rect x="689.79" y="978.78" width="8.93" height="38.22" fill="#008000" />
<rect x="700.94" y="978.78" width="8.93" height="38.22" fill="#008000" />
<rect x="712.10" y="985.15" width="8.93" height="31.85" fill="#008000" />
<rect x="723.26" y="1004.26" width="8.93" height="12.74" fill="#008000" />
<rect x="734.41" y="991.52" width="8.93" height="25.48" fill="#008000" />
<rect x="745.57" y="991.52" width="8.93" height="25.48" fill="#008000" />
<rect x="756.73" y="997.89" width="8.93" height="19.11" fill="#008000" />
<rect x="767.88" y="978.78" width="8.93" height="38.22" fill="#008000" />
<rect x="779.04" y="985.15" width="8.93" height="31.85" fill="#008000" />
<rect x="790.19" y="985.15" width="8.93" height="31.85" fill="#008000" />
<rect x="801.35" y="985.15" width="8.93" height="31.85" fill="#008000" />
<rect x="812.51" y="959.67" width="8.93" height="57.33" fill="#bfbf00" />
<rect x="823.66" y="959.67" width="8.93" height="57.33" fill="#bfbf00" />
<rect x="834.82" y="959.67" width="8.93" height="57.33" fill="#bfbf00" />
<rect x="845.98" y="959.67" width="8.93" height="57.33" fill="#bfbf00" />
<rect x="857.13" y="959.67" width="8.93" height="57.33" fill="#bfbf00" />
<rect x="868.29" y="959.67" width="8.93" height="57.33" fill="#bfbf00" />
<rect x="879.44" y="959.67" width="8.93" height="57.33" fill="#bfbf00" />
<rect x="890.60" y="959.67" width="8.93" height="57.33" fill="#bfbf00" />
<rect x="901.76" y="959.67" width="8.93" height="57.33" fill="#bfbf00" />
</g>
<text transform="translate(875.00 1001.00) rotate(-90) scale(1.0360 1)" x="0.0 18.7 35.7 46.8 64.5 81.0 99.3 114.9" y="0" font-size="32.55" fill="#808080" fill-opacity="0.25">Forecast</text>
<line x1="825.30" y1="846.00" x2="825.30" y2="1016.00" stroke="#1f77b4" stroke-width="2.2" stroke-dasharray="2.2 3.6"/>
<rect x="248" y="1012.0" width="1" height="5.0" fill="#000" shape-rendering="crispEdges"/>
<rect x="337" y="1012.0" width="1" height="5.0" fill="#000" shape-rendering="crispEdges"/>
<rect x="426" y="1012.0" width="1" height="5.0" fill="#000" shape-rendering="crispEdges"/>
<rect x="515" y="1012.0" width="1" height="5.0" fill="#000" shape-rendering="crispEdges"/>
<rect x="604" y="1012.0" width="1" height="5.0" fill="#000" shape-rendering="crispEdges"/>
<rect x="694" y="1012.0" width="1" height="5.0" fill="#000" shape-rendering="crispEdges"/>
<rect x="783" y="1012.0" width="1" height="5.0" fill="#000" shape-rendering="crispEdges"/>
<rect x="872" y="1012.0" width="1" height="5.0" fill="#000" shape-rendering="crispEdges"/>
<rect x="200.0" y="1016" width="5.0" height="1" fill="#000" shape-rendering="crispEdges"/>
<rect x="909.0" y="1016" width="5.0" height="1" fill="#000" shape-rendering="crispEdges"/>
<text transform="translate(195.00 1024.50) scale(1.0895 1)" x="-10.9" y="0" font-size="19.64">0</text>
<rect x="200.0" y="978" width="5.0" height="1" fill="#000" shape-rendering="crispEdges"/>
<rect x="909.0" y="978" width="5.0" height="1" fill="#000" shape-rendering="crispEdges"/>
<text transform="translate(195.00 986.28) scale(1.0895 1)" x="-10.9" y="0" font-size="19.64">2</text>
<rect x="200.0" y="940" width="5.0" height="1" fill="#000" shape-rendering="crispEdges"/>
<rect x="909.0" y="940" width="5.0" height="1" fill="#000" shape-rendering="crispEdges"/>
<text transform="translate(195.00 948.06) scale(1.0895 1)" x="-10.9" y="0" font-size="19.64">4</text>
<rect x="200.0" y="902" width="5.0" height="1" fill="#000" shape-rendering="crispEdges"/>
<rect x="909.0" y="902" width="5.0" height="1" fill="#000" shape-rendering="crispEdges"/>
<text transform="translate(195.00 909.83) scale(1.0895 1)" x="-10.9" y="0" font-size="19.64">6</text>
<rect x="200.0" y="864" width="5.0" height="1" fill="#000" shape-rendering="crispEdges"/>
<rect x="909.0" y="864" width="5.0" height="1" fill="#000" shape-rendering="crispEdges"/>
<text transform="translate(195.00 871.61) scale(1.0895 1)" x="-10.9" y="0" font-size="19.64">8</text>
<path d="M914,845 H200 V1017 H914" fill="none" stroke="#000" stroke-width="2" stroke-linecap="square"/>
<line x1="914.00" y1="844.00" x2="914.00" y2="1018.00" stroke="#000" stroke-width="2" />
<text transform="translate(248.00 1037.00) scale(1.0895 1)" x="-10.9 0.0" y="0" font-size="19.64">29</text>
<text transform="translate(337.25 1037.00) scale(1.0895 1)" x="-10.9 0.0" y="0" font-size="19.64">30</text>
<text transform="translate(426.50 1037.00) scale(1.0895 1)" x="-10.9 0.0" y="0" font-size="19.64">01</text>
<text transform="translate(515.75 1037.00) scale(1.0895 1)" x="-10.9 0.0" y="0" font-size="19.64">02</text>
<text transform="translate(605.00 1037.00) scale(1.0895 1)" x="-10.9 0.0" y="0" font-size="19.64">03</text>
<text transform="translate(694.25 1037.00) scale(1.0895 1)" x="-10.9 0.0" y="0" font-size="19.64">04</text>
<text transform="translate(783.50 1037.00) scale(1.0895 1)" x="-10.9 0.0" y="0" font-size="19.64">05</text>
<text transform="translate(872.75 1037.00) scale(1.0895 1)" x="-10.9 0.0" y="0" font-size="19.64">06</text>
<text transform="translate(553.80 1065.80) scale(1.0767 1)" x="-108.1 -92.6 -79.6 -66.7 -58.2 -44.7 -23.4 -9.5 4.0 13.0 20.4 38.5 50.2 58.3 71.7 85.6 99.1" y="0" font-size="24.78">September/October</text>
<text transform="translate(556.80 1093.50) scale(1.0549 1)" x="-55.8 -41.5 -27.3 -13.1 1.2 8.3 17.0 33.8 48.1" y="0" font-size="24.78">2019 (UT)</text>
<text transform="translate(172.50 935.00) rotate(-90) scale(1.0350 1)" x="-15.2 0.4" y="0" font-size="24.78">Kp</text>
<rect x="207.5" y="852.5" width="88" height="67" rx="2.5" fill="#fff" fill-opacity="0.8" stroke="#ccc" stroke-width="1"/>
<rect x="213.00" y="859.00" width="28.00" height="11.00" fill="#008000" />
<text transform="translate(252.00 869.00) scale(1.1141 1)" x="0.0 8.8 16.2 25.6" y="0" font-size="14.07">Kp&lt;3</text>
<rect x="213.00" y="880.00" width="28.00" height="11.00" fill="#bfbf00" />
<text transform="translate(252.00 890.00) scale(1.1141 1)" x="0.0 8.8 16.2 25.6" y="0" font-size="14.07">Kp&lt;5</text>
<rect x="213.00" y="901.00" width="28.00" height="11.00" fill="#f00" />
<text transform="translate(252.00 911.00) scale(1.1141 1)" x="0.0 8.8 16.2 25.6" y="0" font-size="14.07">Kp&gt;5</text>
<clipPath id="c4"><rect x="1205" y="110" width="595" height="345"/></clipPath>
<line x1="1205.00" y1="282.50" x2="1800.00" y2="282.50" stroke="#000" stroke-width="2" stroke-dasharray="2 3.3"/>
<g clip-path="url(#c4)">
<path d="M1206.0,268.2 1206.4,291.7 1206.8,290.5 1207.1,299.3 1207.3,300.8 1207.7,272.7 1207.9,287.7 1208.3,298.5 1208.7,273.1 1209.0,270.0 1209.4,297.7 1209.6,270.3 1209.9,290.4 1210.2,312.0 1210.6,272.9 1210.8,309.8 1211.3,283.2 1211.5,304.8 1211.9,283.3 1212.3,297.3 1212.6,301.1 1213.0,273.9 1213.4,282.5 1213.7,301.1 1214.0,282.7 1214.3,308.5 1214.7,299.0 1215.0,301.9 1215.2,302.0 1215.7,286.7 1216.0,288.5 1216.4,283.8 1216.7,298.9 1217.0,307.8 1217.3,296.1 1217.6,303.2 1217.9,288.1 1218.4,311.3 1218.7,294.6 1219.2,294.5 1219.6,305.5 1220.1,278.7 1220.6,311.0 1221.1,275.1 1221.5,274.3 1221.9,307.8 1222.3,270.1 1222.8,309.3 1223.2,297.2 1223.6,277.0 1223.9,307.3 1224.4,281.0 1224.8,309.8 1225.2,301.9 1225.6,273.3 1226.1,307.2 1226.4,274.4 1226.8,283.8 1227.1,301.6 1227.4,284.3 1227.9,300.9 1228.1,282.4 1228.5,295.3 1228.7,313.9 1229.0,282.3 1229.4,313.2 1229.9,286.2 1230.1,311.6 1230.4,281.9 1230.8,307.7 1231.2,281.3 1231.6,307.6 1232.1,275.4 1232.6,303.1 1232.8,301.9 1233.3,301.7 1233.8,291.2 1234.2,276.5 1234.6,289.2 1234.8,264.0 1235.1,270.5 1235.3,288.2 1235.7,260.1 1236.0,282.7 1236.4,261.2 1236.8,290.3 1237.3,291.5 1237.6,264.5 1238.0,293.4 1238.4,289.5 1238.7,266.3 1239.0,271.8 1239.4,295.4 1239.9,272.7 1240.3,298.8 1240.5,265.6 1240.8,287.0 1241.2,271.1 1241.5,293.4 1241.8,273.0 1242.2,303.1 1242.6,266.1 1243.1,299.6 1243.6,308.3 1243.8,274.5 1244.1,307.5 1244.3,284.2 1244.6,264.8 1244.8,303.6 1245.2,279.9 1245.5,304.1 1245.7,264.8 1246.2,293.1 1246.7,275.7 1247.1,306.1 1247.3,298.6 1247.6,281.2 1247.9,312.6 1248.3,309.8 1248.7,269.2 1249.1,271.6 1249.6,314.7 1250.0,273.8 1250.4,307.6 1250.7,274.6 1251.1,273.2 1251.4,309.1 1251.8,275.7 1252.2,314.9 1252.6,292.3 1252.9,307.0 1253.4,275.1 1253.8,319.6 1254.0,296.1 1254.5,307.6 1254.8,279.0 1255.2,313.2 1255.5,290.8 1255.9,311.2 1256.1,287.6 1256.6,323.0 1257.1,314.2 1257.4,288.7 1257.9,324.2 1258.4,289.4 1258.7,317.6 1259.0,291.1 1259.3,320.9 1259.6,322.0 1259.9,321.1 1260.3,289.5 1260.7,320.6 1261.0,321.5 1261.4,294.8 1261.8,316.5 1262.0,290.8 1262.4,310.2 1262.7,307.7 1263.0,288.6 1263.2,320.1 1263.6,314.1 1263.9,316.5 1264.3,307.5 1264.5,286.3 1264.8,312.1 1265.2,283.7 1265.6,312.5 1266.1,280.9 1266.4,279.1 1266.8,314.0 1267.1,314.0 1267.4,287.6 1267.8,321.9 1268.1,291.7 1268.6,305.7 1268.9,276.6 1269.3,322.3 1269.8,279.1 1270.2,308.7 1270.7,289.0 1271.1,316.7 1271.4,285.1 1271.8,329.5 1272.1,281.2 1272.6,281.0 1273.0,330.7 1273.3,283.7 1273.8,317.0 1274.2,310.4 1274.5,279.5 1274.7,321.0 1275.2,288.4 1275.5,318.6 1275.8,286.9 1276.2,321.1 1276.6,321.8 1276.9,315.0 1277.1,319.8 1277.5,284.7 1278.0,300.9 1278.3,319.7 1278.7,284.4 1279.0,319.3 1279.5,290.9 1280.0,277.5 1280.4,318.2 1280.6,278.4 1281.0,321.4 1281.4,282.5 1281.6,311.7 1282.1,297.7 1282.4,315.8 1282.8,287.8 1283.3,304.6 1283.6,286.6 1284.0,280.3 1284.3,313.5 1284.6,285.0 1285.0,316.6 1285.4,278.6 1285.7,307.2 1285.9,290.0 1286.2,306.4 1286.5,282.8 1286.8,316.1 1287.2,314.0 1287.5,282.6 1287.9,278.6 1288.3,310.0 1288.7,274.7 1289.1,302.9 1289.6,280.6 1289.9,319.8 1290.3,306.5 1290.8,291.9 1291.1,311.7 1291.5,292.4 1292.0,284.0 1292.4,320.6 1292.9,297.0 1293.4,294.4 1293.8,319.0 1294.0,281.3 1294.5,320.4 1294.9,281.0 1295.1,308.5 1295.5,283.1 1295.7,320.4 1296.0,275.7 1296.4,321.5 1296.8,282.8 1297.3,285.1 1297.6,281.8 1298.0,285.6 1298.2,276.5 1298.6,328.0 1298.8,280.6 1299.2,321.2 1299.5,285.6 1299.7,278.2 1300.2,289.4 1300.6,294.9 1301.0,326.6 1301.3,286.6 1301.5,287.5 1301.8,307.0 1302.3,280.7 1302.8,315.0 1303.3,286.8 1303.6,325.0 1304.1,296.8 1304.5,319.7 1304.9,320.9 1305.1,317.6 1305.3,287.6 1305.6,318.4 1306.1,284.0 1306.5,319.8 1306.9,295.3 1307.4,313.8 1307.6,291.8 1308.0,315.6 1308.3,291.3 1308.8,312.7 1309.2,312.7 1309.5,289.7 1309.9,313.8 1310.4,283.8 1310.6,316.2 1310.9,286.1 1311.4,308.8 1311.7,287.3 1312.2,293.9 1312.4,310.7 1312.8,303.1 1313.2,282.8 1313.5,301.6 1313.8,289.6 1314.2,290.3 1314.5,314.9 1314.9,285.0 1315.2,312.8 1315.7,287.2 1316.1,319.6 1316.3,285.6 1316.6,278.7 1317.0,313.2 1317.3,310.3 1317.6,295.7 1317.9,313.4 1318.4,280.0 1318.7,287.7 1319.2,310.5 1319.5,289.0 1319.9,324.3 1320.3,285.9 1320.5,314.9 1320.7,285.2 1321.2,316.2 1321.5,280.6 1321.9,317.2 1322.2,314.3 1322.7,285.1 1323.0,315.4 1323.2,278.8 1323.4,316.3 1323.9,282.5 1324.3,314.1 1324.6,282.1 1324.8,306.4 1325.2,274.0 1325.7,307.4 1326.2,274.9 1326.4,295.2 1326.8,279.8 1327.0,297.0 1327.4,277.3 1327.8,302.9 1328.2,276.0 1328.5,289.6 1328.8,275.2 1329.1,301.1 1329.5,272.7 1329.9,267.6 1330.2,296.4 1330.6,266.1 1331.1,299.0 1331.3,261.5 1331.6,285.6 1331.9,275.5 1332.3,292.2 1332.7,255.1 1333.1,290.8 1333.6,250.9 1334.0,264.8 1334.4,291.2 1334.7,261.4 1334.3,270.4 1334.7,237.1 1335.1,270.4 1335.0,294.9 1335.3,264.2 1335.7,297.0 1336.0,297.8 1336.3,245.6 1336.6,296.7 1336.9,247.9 1337.4,298.3 1337.8,287.0 1338.1,269.3 1338.3,254.0 1338.6,303.1 1338.9,289.1 1339.3,267.5 1339.7,300.0 1340.0,267.3 1340.3,270.8 1340.6,314.1 1340.9,259.9 1341.2,314.3 1341.5,267.7 1341.7,308.7 1342.0,264.9 1342.3,308.2 1342.6,257.6 1343.1,256.6 1343.4,283.3 1343.8,264.7 1344.3,262.8 1344.7,283.7 1345.0,264.0 1345.4,279.1 1345.7,262.3 1346.2,293.7 1346.6,255.2 1346.8,301.6 1347.1,262.2 1347.4,300.7 1347.9,262.3 1348.2,286.5 1348.5,254.2 1348.8,286.6 1349.1,273.8 1349.0,269.1 1349.4,234.5 1349.8,269.1 1349.5,296.7 1350.0,291.4 1350.4,293.8 1350.1,273.0 1350.5,234.5 1350.9,273.0 1350.2,273.4 1350.6,235.4 1351.0,273.4 1350.9,247.0 1351.2,305.4 1351.5,239.9 1351.7,301.1 1352.0,307.6 1352.4,267.9 1352.8,308.8 1353.2,255.2 1353.6,310.6 1353.9,250.5 1354.2,254.8 1354.5,265.1 1354.9,260.9 1355.2,320.1 1355.7,254.8 1355.9,306.9 1356.4,259.7 1356.6,297.4 1357.0,276.0 1357.5,316.9 1357.9,276.3 1358.2,321.8 1358.6,271.0 1359.1,283.5 1359.6,318.6 1360.0,266.1 1360.2,308.8 1360.5,262.1 1360.8,292.5 1361.0,261.1 1361.3,319.5 1361.6,272.7 1362.0,263.1 1362.4,265.9 1362.8,303.2 1363.3,312.7 1363.6,258.8 1364.0,308.2 1364.3,304.1 1364.7,269.7 1365.0,310.4 1365.3,315.5 1365.7,299.0 1366.0,269.1 1366.3,291.7 1366.7,314.4 1367.0,272.6 1367.5,325.8 1367.9,310.6 1368.2,295.4 1368.7,314.3 1369.1,299.7 1368.9,303.7 1369.3,235.4 1369.7,303.7 1368.9,303.7 1369.3,339.9 1369.7,303.7 1369.5,318.8 1369.9,299.7 1370.3,279.2 1370.8,320.1 1371.1,312.6 1371.5,285.9 1371.7,321.2 1372.0,277.5 1372.4,324.1 1372.6,252.1 1373.0,328.0 1373.5,269.7 1373.9,306.0 1374.3,268.5 1374.8,286.7 1375.1,303.5 1375.6,270.6 1376.1,319.9 1376.5,273.7 1376.8,316.8 1377.2,291.0 1377.6,314.4 1377.9,275.1 1378.3,316.2 1378.1,296.7 1378.5,376.2 1378.9,296.7 1378.6,264.5 1378.8,273.4 1379.2,310.7 1379.6,267.9 1380.0,299.9 1380.3,261.9 1380.7,293.9 1381.2,272.8 1381.6,294.2 1382.0,265.9 1382.5,313.5 1383.0,266.7 1383.3,265.8 1383.5,313.7 1383.9,284.6 1384.2,301.1 1384.6,287.8 1384.9,277.6 1385.4,309.8 1385.8,307.5 1386.0,276.3 1386.5,306.2 1387.0,284.6 1387.3,298.9 1387.7,279.7 1388.0,308.0 1388.4,278.4 1388.7,308.4 1389.0,303.7 1389.4,277.7 1389.9,306.2 1390.2,284.0 1390.6,306.1 1391.0,273.4 1391.4,308.8 1391.7,277.4 1392.0,309.6 1392.5,275.1 1392.9,276.8 1393.2,303.7 1393.5,284.5 1393.8,298.3 1394.2,274.8 1394.6,305.4 1395.0,305.9 1395.3,299.0 1395.7,279.1 1396.2,300.6 1396.5,292.6 1397.0,274.3 1397.2,302.1 1397.5,277.4 1397.8,300.5 1398.2,296.5 1398.4,278.1 1398.7,296.9 1399.1,278.0 1399.4,290.4 1399.7,274.9 1400.2,276.2 1400.7,292.2 1401.1,276.2 1401.4,283.5 1401.6,284.5 1401.9,291.0 1402.2,286.7 1402.5,292.0 1402.8,285.9 1403.2,288.2 1403.6,284.0 1404.0,285.5 1404.4,283.7 1404.8,284.4 1405.3,281.7 1405.6,283.9 1405.9,280.8 1406.2,280.2 1406.5,281.1 1406.8,281.8 1407.2,283.5 1407.7,281.9 1408.0,279.0 1408.3,277.8 1408.8,278.6 1409.2,281.6 1409.6,278.6 1409.9,282.4 1410.4,277.3 1410.7,279.7 1411.0,275.3 1411.4,281.5 1411.6,275.0 1412.0,281.1 1412.3,281.7 1412.7,278.0 1413.2,285.1 1413.5,278.4 1413.9,281.1 1414.4,276.7 1414.7,278.8 1414.9,275.9 1415.3,282.1 1415.7,275.7 1416.0,283.6 1416.5,278.4 1417.0,283.8 1417.3,277.3 1417.6,281.9 1418.0,282.5 1418.3,277.0 1418.7,280.3 1419.0,276.1 1419.3,283.2 1419.6,283.3 1420.1,278.1 1420.6,285.5 1421.0,280.1 1421.3,276.4 1421.8,277.5 1422.2,294.8 1422.5,287.0 1422.9,294.2 1423.4,285.5 1423.8,277.7 1424.1,297.8 1424.6,279.6 1424.8,301.0 1425.3,301.2 1425.6,290.7 1425.9,303.3 1426.3,288.0 1426.6,305.1 1427.1,307.8 1427.4,283.9 1427.9,306.1 1428.2,303.8 1428.6,288.9 1429.0,295.2 1429.2,279.9 1429.6,295.4 1429.9,283.1 1430.4,297.7 1430.8,281.4 1431.3,295.0 1431.6,281.7 1432.0,291.7 1432.4,280.3 1432.7,277.8 1432.9,286.5 1433.2,276.0 1433.7,283.8 1434.0,275.8 1434.3,278.6 1434.6,271.7 1435.1,279.0 1435.6,272.5 1436.0,277.1 1436.5,276.9 1436.9,269.3 1437.2,274.9 1437.6,268.5 1437.9,268.4 1438.4,276.0 1438.7,276.6 1439.1,272.2 1439.5,272.4 1440.0,275.8 1440.2,272.0 1440.7,272.7 1441.1,273.1 1441.5,277.7 1441.9,273.5 1442.3,278.8 1442.6,278.7 1443.0,277.2 1443.4,280.1 1443.8,277.9 1444.2,278.2 1444.6,279.6 1444.9,278.7 1445.3,280.3 1445.5,278.8 1445.8,279.8 1446.1,280.5 1446.5,278.3 1446.7,279.7 1447.1,281.9 1447.4,280.3 1447.9,282.4 1448.1,280.6 1448.6,281.5 1449.1,281.6 1449.4,284.9 1449.9,280.9 1450.3,282.0 1450.8,280.1 1451.0,276.7 1451.5,281.8 1451.9,273.3 1452.3,286.3 1452.7,275.6 1453.0,286.8 1453.4,269.6 1453.7,293.1 1454.1,269.5 1454.5,290.6 1454.9,267.5 1455.3,288.0 1455.5,272.6 1455.8,268.3 1456.2,292.9 1456.6,300.6 1457.1,263.6 1457.4,299.6 1457.8,263.8 1458.0,297.9 1458.3,295.3 1458.7,274.3 1459.1,293.2 1459.4,267.2 1459.8,300.1 1460.1,268.4 1460.6,301.0 1460.9,264.8 1461.1,275.7 1461.4,298.4 1461.9,261.9 1462.1,308.5 1462.4,264.5 1462.6,304.9 1463.1,265.1 1463.6,297.3 1463.9,263.5 1464.3,307.2 1464.6,270.9 1465.0,305.6 1465.3,264.3 1465.8,295.8 1466.2,271.1 1466.6,275.3 1466.9,262.4 1467.4,285.4 1467.8,277.0 1468.0,288.2 1468.3,263.9 1468.5,291.8 1468.7,274.6 1469.0,290.7 1469.4,269.9 1469.6,296.3 1469.8,274.1 1470.2,300.9 1470.6,269.0 1470.8,305.5 1471.3,295.8 1471.6,281.8 1472.1,275.5 1472.5,272.4 1473.0,271.3 1473.5,299.7 1473.7,268.6 1474.0,291.2 1474.4,292.9 1474.7,263.4 1475.0,281.9 1475.2,268.4 1475.7,294.9 1476.0,257.3 1475.7,273.4 1476.1,250.1 1476.5,273.4 1476.4,288.5 1476.7,260.8 1477.0,270.1 1477.4,289.8 1477.7,263.1 1478.2,280.9 1478.5,266.0 1479.0,293.9 1479.2,272.3 1479.4,293.0 1479.9,265.6 1480.3,294.3 1480.8,291.1 1481.2,282.4 1481.6,294.1 1481.9,268.6 1482.3,273.8 1482.7,271.8 1483.2,292.6 1483.5,272.2 1483.7,288.6 1484.1,271.5 1484.4,274.2 1484.6,288.2 1484.8,279.3 1485.3,295.0 1485.5,276.6 1485.9,294.8 1486.3,289.1 1486.5,272.1 1487.0,284.1 1487.5,270.9 1487.9,277.7 1488.3,296.9 1488.7,270.2 1489.0,291.5 1489.3,271.2 1489.6,298.6 1489.9,273.7 1490.2,292.0 1490.6,272.6 1491.0,279.5 1491.4,300.6 1491.8,275.3 1492.3,281.3 1492.7,296.4 1493.1,281.8 1493.4,309.9 1493.6,282.3 1494.1,299.2 1494.4,273.3 1494.6,280.1 1494.9,308.9 1495.3,272.2 1495.6,299.8 1496.1,308.5 1496.4,292.5 1496.8,271.7 1496.4,292.4 1496.8,319.2 1497.2,292.4 1497.1,310.7 1497.6,273.7 1498.0,304.5 1498.3,270.6 1498.7,283.0 1499.0,306.9 1499.3,271.1 1499.6,304.5 1500.0,278.7 1500.5,297.8 1500.9,269.3 1501.2,295.5 1501.4,267.9 1501.8,264.0 1502.1,263.7 1502.4,263.1 1502.7,287.0 1503.1,274.3 1503.5,298.3 1503.9,265.8 1504.2,301.4 1504.5,277.7 1504.8,288.3 1504.8,286.2 1505.2,314.9 1505.6,286.2 1505.2,287.8 1505.5,275.9 1505.9,294.0 1506.1,273.4 1506.6,293.1 1506.9,274.9 1507.2,302.5 1507.5,300.5 1508.0,269.0 1508.3,296.9 1508.6,281.4 1509.1,291.9 1509.4,273.1 1509.8,294.7 1510.2,284.9 1510.4,295.2 1510.8,279.2 1511.1,293.2 1511.3,286.5 1511.6,295.3 1511.9,289.4 1512.1,293.7 1512.5,286.6 1512.9,296.9 1513.3,282.1 1513.7,298.9 1514.1,291.0 1514.5,292.8 1514.8,275.5 1515.3,283.3 1515.5,269.2 1515.8,298.2 1516.1,280.5 1516.4,301.3 1516.9,272.2 1517.3,289.7 1517.7,266.9 1518.2,276.6 1518.4,289.2 1518.8,282.3 1519.0,286.6 1519.2,276.4 1519.7,285.1 1520.2,271.3 1520.6,283.2 1521.0,271.5 1521.5,283.8 1522.0,284.4 1522.5,267.0 1522.9,279.2 1523.4,286.6 1523.7,272.6 1524.0,286.9 1524.5,279.0 1524.8,284.6 1525.0,280.5 1525.3,287.8 1525.7,285.7 1526.1,281.5 1526.4,287.5 1526.8,283.0 1527.3,285.9 1527.6,291.1 1528.0,286.4 1528.4,293.0 1528.8,290.7 1529.1,292.8 1529.6,290.5 1529.9,292.2 1530.3,292.9 1530.8,290.1 1531.0,289.6 1531.3,293.2 1531.6,288.6 1532.0,295.0 1532.4,288.6 1532.9,294.5 1533.3,291.7 1533.8,297.4 1534.1,288.0 1534.4,293.3 1534.8,297.2 1535.3,291.6 1535.6,280.6 1535.9,288.2 1536.3,290.4 1536.7,282.7 1536.9,283.3 1537.2,287.3 1537.6,285.1 1537.9,284.7 1538.3,283.6 1538.8,283.0 1539.1,279.2 1539.5,280.7 1539.7,276.5 1540.1,275.0 1540.5,274.9 1540.9,271.5 1541.2,270.6 1541.5,267.6 1542.0,272.2 1542.5,265.5 1542.9,267.7 1542.8,265.2 1543.2,256.1 1543.6,265.2 1543.2,258.2 1543.4,267.5 1543.9,266.0 1544.2,260.3 1544.6,260.8 1544.9,267.1 1545.3,260.6 1545.5,258.5 1546.0,261.3 1546.4,264.9 1546.6,266.8 1547.0,261.7 1547.2,266.9 1547.7,262.5 1548.0,262.0 1548.5,263.2 1549.0,272.9 1549.2,266.5 1549.5,267.2 1549.9,272.6 1550.3,283.0 1550.7,275.2 1551.0,284.7 1551.4,274.6 1551.7,287.4 1551.9,279.6 1552.2,291.6 1552.6,280.4 1552.9,293.1 1553.3,278.1 1553.7,291.2 1554.0,276.1 1554.2,287.8 1554.7,286.4 1555.1,298.3 1555.5,281.7 1555.9,278.1 1556.4,279.0 1556.7,292.4 1556.9,285.8 1557.4,295.0 1557.7,302.3 1558.2,301.6 1558.6,277.6 1558.8,275.8 1559.1,299.4 1559.6,274.5 1560.0,300.4 1560.2,269.8 1560.7,294.0 1561.1,285.0 1561.4,274.3 1561.6,289.4 1562.0,269.1 1562.3,282.0 1562.7,283.4 1563.1,270.1 1563.4,276.2 1563.9,269.3 1564.3,273.7 1564.7,271.4 1565.0,278.0 1565.4,275.5 1565.8,280.0 1566.2,275.1 1566.4,279.8 1566.7,278.6 1567.2,278.9 1567.5,277.1 1567.8,277.4 1568.2,279.5 1568.6,279.2 1568.9,278.9 1569.3,278.8 1569.6,280.4 1569.9,279.3 1570.3,279.7 1570.6,281.3 1571.0,281.3 1571.5,280.8 1571.9,283.6 1572.3,282.6 1572.5,283.6 1572.8,284.2 1573.1,284.4 1573.4,284.8 1573.8,287.8 1574.1,286.9 1574.5,288.4 1574.8,287.4 1575.1,288.3 1575.5,287.3 1575.8,289.8 1576.1,288.1 1576.3,288.0 1576.6,288.0 1577.0,289.8 1577.4,290.3 1577.6,289.8 1578.0,289.8 1578.5,290.1 1578.8,289.3 1579.1,289.4 1579.4,290.4 1579.8,288.3 1580.1,289.6 1580.4,288.2 1580.7,289.6 1581.1,287.4 1581.4,289.7 1581.7,287.6 1582.2,288.7 1582.6,287.0 1582.8,289.3 1583.1,288.9 1583.5,284.8 1583.8,288.1 1584.2,282.8 1584.6,283.3 1585.0,288.5 1585.3,283.3 1585.6,288.6 1585.9,289.2 1586.3,281.4 1586.7,282.1 1587.2,290.8 1587.5,284.8 1587.9,290.0 1588.2,285.7 1588.7,290.5 1589.2,286.1 1589.6,289.3 1589.9,291.7 1590.4,284.6 1590.7,295.6 1591.1,299.0 1591.5,278.3 1591.9,270.9 1592.1,298.7 1592.5,308.5 1592.8,274.0 1593.2,297.3 1592.9,285.9 1593.3,251.0 1593.7,285.9 1593.4,269.2 1593.9,303.5 1594.4,301.1 1594.9,266.8 1595.1,303.0 1595.4,280.7 1595.9,302.1 1596.4,269.2 1596.0,288.7 1596.4,367.6 1596.8,288.7 1596.9,306.8 1597.1,275.4 1597.3,303.8 1597.7,285.8 1598.1,301.2 1598.6,273.7 1599.1,298.3 1599.5,266.9 1599.9,299.3 1600.1,259.4 1600.4,274.7 1600.8,262.3 1601.2,283.7 1601.5,245.4 1601.8,244.0 1602.3,275.1 1602.5,278.5 1603.0,229.3 1603.4,263.4 1603.8,234.9 1604.2,263.8 1604.6,237.1 1604.8,213.5 1604.6,241.9 1605.0,210.4 1605.4,241.9 1605.2,257.9 1605.5,219.7 1605.9,247.8 1605.7,241.6 1606.1,213.0 1606.5,241.6 1606.2,231.8 1606.5,257.8 1607.0,217.2 1607.5,267.1 1607.7,222.2 1607.6,246.9 1608.0,216.4 1608.4,246.9 1608.2,270.4 1608.4,270.6 1608.8,237.3 1609.0,257.2 1609.4,245.1 1609.9,277.9 1610.2,248.2 1610.4,275.5 1610.9,236.9 1611.3,292.4 1611.6,243.2 1612.0,280.1 1612.4,265.5 1612.8,279.6 1613.1,264.0 1613.3,254.7 1613.6,293.5 1613.9,273.3 1614.3,295.0 1614.8,313.9 1615.0,260.2 1615.0,282.9 1615.4,337.3 1615.8,282.9 1615.5,268.1 1615.8,263.5 1616.3,253.1 1616.6,303.8 1617.1,248.7 1617.4,289.0 1617.7,250.1 1618.0,241.9 1618.4,282.3 1618.8,276.6 1618.4,263.5 1618.8,230.2 1619.2,263.5 1619.0,260.6 1619.4,274.2 1619.8,259.4 1620.0,290.3 1620.5,263.5 1620.9,293.4 1621.3,297.8 1621.8,269.8 1622.0,295.5 1622.4,296.8 1622.7,285.2 1623.1,300.6 1623.5,277.0 1623.7,290.5 1624.2,285.6 1624.4,276.0 1624.9,298.3 1625.3,279.7 1625.5,295.2 1625.8,278.6 1626.1,282.8 1626.5,294.6 1626.7,279.7 1627.2,294.1 1627.7,278.7 1627.9,291.4 1628.2,276.2 1628.5,300.1 1628.9,273.7 1629.1,296.1 1629.4,292.5 1629.6,280.2 1629.9,288.3 1630.3,303.2 1630.6,271.8 1631.0,292.4 1631.2,278.7 1631.7,298.4 1632.1,273.0 1632.4,281.2 1632.8,266.6 1633.2,271.6 1633.7,287.8 1634.0,274.0 1634.4,284.0 1634.8,269.8 1635.2,271.2 1635.6,279.4 1635.9,272.2 1636.4,277.0 1636.7,273.1 1637.0,275.4 1637.4,279.2 1637.8,280.7 1638.2,282.3 1638.4,276.8 1638.9,280.5 1639.3,281.0 1639.6,279.4 1640.0,281.9 1640.5,281.1 1640.9,283.8 1641.1,281.0 1641.4,281.5 1641.9,278.0 1642.2,278.8 1642.7,279.7 1643.0,279.4 1643.4,280.7 1643.8,279.5 1644.0,280.1 1644.3,277.2 1644.6,277.6 1645.1,276.8 1645.5,276.6 1645.9,276.6 1646.2,274.5 1646.6,275.2 1646.9,273.5 1647.3,276.4 1647.6,275.6 1647.9,279.4 1648.2,276.0 1648.5,280.1 1649.0,282.1 1649.4,276.2 1649.6,283.6 1649.9,280.3 1650.2,288.2 1650.6,281.3 1650.9,277.5 1651.4,292.1 1651.7,283.2 1652.2,291.5 1652.7,281.5 1653.0,296.7 1653.3,296.5 1653.6,278.7 1654.0,281.5 1654.5,291.0 1655.0,276.9 1655.2,296.4 1655.6,274.8 1656.1,280.4 1656.4,290.8 1656.6,292.1 1656.8,277.6 1657.1,286.6 1657.4,275.6 1657.9,284.8 1658.4,271.8 1658.8,270.1 1659.2,289.6 1659.5,290.6 1660.0,271.3 1660.3,271.7 1660.7,290.3 1660.9,278.3 1661.4,283.4 1661.7,291.7 1662.2,294.4 1662.7,287.8 1663.0,286.8 1663.3,291.5 1663.8,287.5 1664.0,293.9 1664.4,291.3 1664.7,288.0 1665.0,292.4 1665.4,286.4 1665.7,295.3 1666.1,291.3 1666.5,296.2 1666.9,291.1 1667.3,299.1 1667.7,290.7 1668.2,301.4 1668.5,292.0 1668.9,301.8 1669.1,290.8 1669.6,292.2 1669.9,301.0 1670.3,292.5 1670.8,302.0 1671.2,291.8 1671.5,298.6 1672.0,290.9 1672.5,300.8 1672.7,291.0 1673.0,297.9 1673.3,290.5 1673.8,290.4 1674.1,297.0 1674.5,303.2 1674.8,303.6 1675.3,302.9 1675.6,301.8 1675.8,302.6 1676.2,287.4 1676.6,303.6 1677.0,285.8 1677.3,303.8 1677.7,288.1 1678.0,305.6 1678.5,285.7 1678.8,286.9 1679.1,306.6 1679.4,293.9 1679.6,302.5 1680.1,309.0 1680.4,290.5 1680.7,309.3 1681.0,294.3 1681.2,296.3 1681.6,311.9 1682.0,293.3 1682.3,300.4 1682.6,314.5 1682.9,276.6 1683.3,307.7 1683.6,273.6 1683.3,285.9 1683.7,254.4 1684.1,285.9 1684.0,303.0 1684.2,306.7 1684.7,278.3 1685.1,276.5 1685.5,303.7 1685.9,274.3 1686.2,315.5 1686.6,312.8 1687.0,282.6 1687.3,307.6 1687.8,287.8 1688.2,307.9 1688.5,293.1 1688.9,307.6 1689.3,284.4 1689.7,304.1 1690.0,281.6 1690.4,310.6 1690.7,287.1 1691.1,314.4 1691.5,307.0 1691.8,315.1 1692.2,292.5 1692.5,288.1 1693.0,313.4 1693.3,307.5 1693.8,281.6 1694.1,315.7 1694.6,284.5 1695.0,314.2 1695.3,283.6 1695.6,318.8 1696.0,277.5 1696.4,317.9 1696.2,286.4 1696.6,253.5 1697.0,286.4 1696.8,266.0 1697.1,308.8 1697.4,271.8 1697.7,318.9 1698.2,272.4 1698.4,318.3 1698.7,275.8 1699.0,312.8 1699.4,287.7 1699.9,312.4 1700.4,289.3 1700.8,275.7 1701.2,324.2 1701.6,273.1 1701.9,309.7 1702.3,266.9 1702.7,301.9 1703.1,271.0 1703.5,272.9 1703.9,303.8 1704.1,264.6 1704.6,304.6 1704.9,259.1 1705.2,305.0 1705.5,261.8 1705.9,302.2 1706.4,246.1 1706.6,291.3 1706.3,269.1 1706.7,234.5 1707.1,269.1 1706.9,243.7 1707.4,279.9 1707.1,267.1 1707.5,237.1 1707.9,267.1 1707.7,242.9 1708.2,281.3 1708.4,246.3 1708.8,251.3 1709.0,279.4 1709.4,267.4 1709.7,243.7 1710.0,275.0 1710.4,244.0 1710.6,267.7 1711.0,248.8 1711.5,283.0 1712.0,256.4 1712.4,298.7 1712.7,261.9 1713.0,259.6 1713.3,306.0 1713.5,262.0 1713.8,307.6 1714.2,274.2 1714.5,305.6 1714.8,287.1 1715.2,279.5 1715.5,304.5 1715.8,288.9 1716.3,303.4 1716.6,285.2 1717.0,300.5 1717.4,282.3 1717.9,298.4 1718.2,283.1 1718.6,292.0 1718.8,293.0 1719.3,284.4 1719.8,280.8 1720.1,284.5 1720.3,278.8 1720.6,278.6 1721.1,277.8 1721.6,277.3 1722.0,271.0 1722.2,270.3 1722.5,273.6 1722.8,272.3 1723.2,267.0 1723.5,271.9 1724.0,265.0 1724.4,267.5 1724.8,263.1 1725.2,265.8 1725.5,263.1 1725.7,261.9 1726.1,260.7 1726.6,258.7 1726.9,257.7 1727.1,257.8" fill="none" stroke="#000" stroke-width="2.1" stroke-linejoin="round" />
<path d="M1206.0,258.3 1206.3,250.9 1206.6,255.4 1207.0,247.4 1207.4,255.2 1207.6,248.3 1208.1,259.9 1208.4,251.1 1208.7,259.6 1209.1,252.0 1209.4,257.8 1209.1,253.4 1209.5,243.2 1209.9,253.4 1209.7,248.4 1210.2,258.0 1210.5,250.5 1210.8,262.8 1211.1,261.6 1211.6,256.6 1212.0,260.0 1212.6,260.2 1213.1,249.5 1213.5,259.8 1213.8,259.7 1214.1,252.6 1214.6,262.2 1214.9,261.5 1215.5,252.8 1216.0,260.6 1216.4,255.4 1216.9,260.5 1217.3,254.8 1217.5,261.5 1218.0,255.3 1218.2,257.2 1218.7,260.1 1219.1,253.6 1219.5,262.8 1219.9,259.8 1220.4,254.3 1220.9,263.3 1221.2,263.0 1221.6,263.7 1222.0,257.0 1222.3,253.5 1222.6,264.4 1223.0,252.1 1223.3,264.5 1223.8,259.1 1224.3,272.3 1224.8,250.6 1225.2,250.1 1225.5,270.7 1226.0,253.1 1226.5,282.9 1226.8,250.1 1227.1,285.2 1227.5,258.9 1228.0,259.9 1228.1,269.1 1228.5,296.7 1228.9,269.1 1228.5,263.5 1228.9,265.5 1229.2,278.3 1229.5,257.0 1229.9,276.1 1230.2,252.8 1230.5,282.2 1230.9,248.7 1231.0,260.5 1231.4,238.0 1231.8,260.5 1231.5,277.7 1231.7,252.8 1232.0,282.5 1232.5,256.6 1232.8,278.9 1233.2,263.5 1233.6,274.6 1234.0,258.5 1234.3,261.6 1234.6,280.3 1235.0,258.2 1235.4,281.4 1235.9,259.7 1236.5,268.3 1236.8,283.2 1237.2,262.9 1237.8,267.4 1238.2,283.9 1238.5,262.6 1238.8,284.2 1239.3,262.6 1239.7,266.0 1240.2,265.5 1240.7,282.4 1241.1,262.3 1241.6,282.0 1242.2,264.8 1242.7,282.8 1243.2,280.3 1243.6,262.9 1244.2,282.0 1244.5,286.1 1244.7,262.4 1245.1,280.4 1245.4,286.3 1245.9,263.7 1246.3,287.9 1246.7,263.2 1247.0,284.3 1247.5,266.7 1248.0,261.4 1248.2,287.9 1248.5,265.2 1249.0,292.5 1249.3,267.0 1249.9,290.3 1250.4,266.6 1250.8,279.8 1251.1,267.4 1251.5,266.5 1252.0,291.9 1252.3,264.9 1252.6,293.5 1253.0,294.7 1253.5,267.4 1254.0,295.4 1254.4,273.1 1254.8,287.7 1255.0,265.7 1255.4,291.7 1255.8,267.3 1256.2,298.9 1256.7,268.3 1257.2,268.9 1257.6,293.1 1258.1,292.9 1258.4,278.4 1258.7,287.9 1259.2,272.8 1259.5,293.0 1259.9,279.1 1260.3,293.5 1260.8,287.8 1261.1,279.1 1261.4,294.4 1261.6,274.3 1261.9,285.7 1262.3,275.0 1262.5,296.1 1262.8,281.9 1263.1,296.8 1263.5,274.0 1263.8,286.2 1264.2,286.5 1264.6,284.4 1265.0,299.7 1265.5,299.6 1265.8,302.2 1266.2,283.1 1266.6,302.2 1266.9,279.6 1267.4,292.9 1267.8,284.5 1268.0,293.7 1268.4,297.7 1268.7,276.9 1268.9,281.2 1269.2,276.3 1269.5,297.3 1270.0,285.4 1270.3,292.2 1270.7,296.2 1271.1,277.6 1271.6,297.9 1271.9,277.4 1272.4,301.0 1272.9,278.6 1273.2,302.6 1273.6,288.4 1274.1,297.3 1274.5,283.9 1274.9,299.3 1275.3,286.1 1275.6,305.5 1275.9,283.5 1276.3,304.7 1276.7,285.9 1277.2,298.3 1277.7,289.3 1278.0,302.2 1278.6,280.4 1279.0,302.8 1279.5,289.9 1279.9,298.9 1280.3,292.2 1280.8,307.9 1281.4,306.4 1281.6,292.4 1282.0,306.6 1282.4,287.4 1282.9,307.3 1283.3,297.1 1283.7,286.2 1284.2,301.1 1284.7,303.9 1285.2,284.7 1285.5,306.9 1285.9,302.5 1286.3,285.8 1286.8,303.9 1287.2,281.9 1287.6,301.2 1288.0,290.8 1288.3,299.6 1288.7,287.1 1289.0,300.0 1289.5,283.6 1290.0,302.6 1290.5,294.0 1290.8,282.1 1291.1,300.3 1291.6,289.3 1292.1,296.1 1292.3,286.0 1292.7,297.7 1293.0,290.6 1293.5,301.8 1293.9,288.8 1294.3,297.9 1294.8,285.0 1295.2,304.1 1295.6,290.8 1295.9,294.0 1296.3,299.1 1296.5,287.7 1297.0,301.8 1297.4,288.3 1297.9,301.0 1298.4,275.4 1298.8,287.8 1299.3,267.5 1299.7,311.0 1300.0,270.5 1300.3,272.2 1300.6,303.4 1301.1,273.7 1301.4,318.5 1301.8,256.5 1302.2,328.4 1302.8,252.7 1303.1,312.7 1303.7,236.6 1303.9,300.4 1303.6,273.7 1304.0,209.5 1304.4,273.7 1304.3,230.2 1304.3,271.4 1304.7,210.0 1305.1,271.4 1304.8,288.9 1305.1,280.7 1305.0,279.1 1305.4,210.7 1305.8,279.1 1305.6,237.4 1306.2,305.9 1306.6,324.7 1306.8,266.8 1307.3,307.7 1307.8,268.7 1308.1,286.6 1308.4,305.6 1308.9,254.3 1308.8,285.2 1309.2,244.6 1309.6,285.2 1309.4,301.1 1309.7,267.5 1310.0,293.4 1310.4,252.5 1310.8,310.0 1311.1,253.9 1311.4,304.2 1311.9,259.4 1312.2,265.3 1312.6,305.0 1312.9,302.9 1313.3,276.6 1313.7,302.0 1314.0,285.7 1314.4,302.3 1314.8,290.5 1315.2,308.8 1315.5,288.1 1316.0,301.4 1316.3,293.1 1316.5,298.6 1317.1,284.4 1317.4,308.5 1317.8,309.5 1318.4,292.9 1318.8,306.9 1319.1,289.4 1319.5,309.4 1320.0,309.8 1320.3,292.5 1320.6,312.4 1321.1,306.1 1321.4,296.5 1321.6,312.6 1322.0,311.1 1322.4,301.4 1323.0,293.6 1323.3,316.1 1323.8,289.0 1324.2,307.8 1324.6,297.8 1324.8,307.9 1325.2,296.9 1325.6,314.3 1326.0,311.9 1326.3,317.5 1326.8,318.1 1327.1,299.1 1327.4,313.8 1327.8,319.5 1328.2,297.2 1328.5,310.1 1328.9,290.6 1329.2,318.7 1329.6,293.2 1330.1,315.5 1330.6,294.7 1331.0,306.8 1331.3,294.6 1331.8,291.5 1332.3,291.2 1332.6,294.7 1333.1,293.9 1333.4,305.5 1333.9,291.4 1334.4,295.5 1334.8,305.5 1335.2,295.5 1335.4,304.5 1335.8,308.0 1336.3,297.6 1336.9,306.7 1337.3,306.3 1337.7,299.2 1338.2,306.0 1338.4,301.6 1339.0,298.7 1339.5,298.4 1340.0,305.7 1340.3,300.0 1340.8,297.2 1341.3,302.5 1341.6,306.0 1341.9,303.9 1342.4,297.0 1342.7,306.0 1343.0,296.9 1343.5,305.3 1343.9,292.5 1344.4,295.1 1344.8,309.9 1345.2,296.1 1345.7,305.0 1346.0,295.7 1346.3,314.6 1346.8,312.4 1347.2,298.7 1347.7,312.3 1348.2,296.4 1348.8,312.8 1349.1,310.4 1349.5,295.1 1349.9,308.5 1350.3,310.3 1350.6,290.6 1350.8,309.1 1351.1,286.4 1351.4,303.8 1351.7,286.4 1352.0,291.0 1352.3,297.7 1352.6,299.5 1353.0,288.4 1353.4,305.8 1353.9,279.6 1354.3,295.1 1354.8,275.3 1355.1,298.8 1355.4,297.4 1355.7,279.5 1356.1,299.8 1356.5,276.7 1356.8,295.5 1357.2,279.1 1357.5,298.3 1358.0,284.0 1358.3,289.5 1358.7,301.5 1359.2,300.6 1359.5,284.5 1360.0,298.1 1360.5,282.4 1360.8,280.9 1361.2,297.8 1361.6,282.3 1362.0,303.4 1362.3,285.8 1362.8,284.1 1363.2,301.1 1363.6,283.3 1364.0,299.9 1364.4,296.2 1364.7,299.4 1365.0,278.9 1365.2,293.4 1365.6,279.1 1366.1,280.1 1366.5,281.7 1367.0,276.6 1367.3,276.8 1367.6,296.1 1368.1,274.4 1368.7,296.5 1369.1,290.4 1369.5,272.4 1370.1,289.6 1370.5,279.7 1371.1,292.7 1371.4,273.3 1371.9,303.1 1372.2,274.6 1372.6,309.6 1373.1,276.8 1373.5,308.5 1373.7,312.3 1374.1,285.3 1374.6,284.0 1375.0,315.0 1375.5,279.8 1375.8,308.4 1376.0,257.2 1376.3,300.9 1376.0,281.4 1376.4,235.4 1376.8,281.4 1376.8,255.8 1376.7,282.9 1377.1,235.9 1377.5,282.9 1377.3,304.3 1377.6,257.0 1377.9,296.2 1378.3,267.0 1378.8,271.5 1379.1,316.8 1379.6,272.7 1379.9,293.2 1380.2,267.5 1380.6,294.4 1381.0,270.8 1381.4,312.1 1382.0,268.5 1382.2,271.5 1382.7,301.4 1383.0,283.3 1383.5,309.9 1384.0,279.1 1384.3,311.4 1384.7,286.3 1385.2,316.4 1385.6,272.9 1386.0,308.4 1386.4,274.5 1386.7,310.8 1387.0,257.9 1387.6,312.6 1387.6,280.9 1388.0,235.4 1388.4,280.9 1388.0,267.8 1388.5,240.5 1388.3,278.8 1388.7,235.9 1389.1,278.8 1389.1,302.3 1389.0,280.0 1389.4,241.5 1389.8,280.0 1389.4,288.8 1389.8,250.9 1390.1,290.8 1390.6,272.0 1390.2,282.2 1390.6,363.2 1391.0,282.2 1391.1,290.9 1391.5,246.8 1391.8,263.8 1392.3,297.8 1392.7,297.3 1393.0,266.8 1393.4,305.8 1393.7,287.1 1394.1,267.6 1394.5,272.9 1394.8,294.8 1395.2,268.7 1395.7,293.3 1396.1,269.6 1396.6,265.1 1396.9,285.6 1397.2,264.8 1397.5,289.1 1398.0,268.8 1398.3,295.3 1398.6,268.2 1399.1,286.9 1399.5,287.2 1399.8,273.2 1400.0,287.1 1400.5,275.8 1400.9,296.4 1401.4,274.6 1401.7,282.4 1402.0,290.9 1402.3,281.0 1402.7,291.8 1403.1,285.3 1403.3,289.0 1403.8,286.3 1404.1,287.4 1404.6,286.6 1405.1,285.2 1405.4,285.9 1405.8,286.9 1406.1,286.9 1406.4,286.4 1406.7,288.3 1407.1,287.1 1407.4,287.8 1407.8,286.2 1408.2,287.0 1408.7,287.0 1409.3,286.8 1409.6,286.7 1409.8,287.8 1410.1,287.8 1410.4,289.5 1410.7,288.9 1411.1,289.5 1411.4,288.4 1411.9,288.6 1412.4,287.9 1412.8,290.3 1413.1,290.3 1413.6,292.3 1413.9,291.2 1414.4,291.8 1414.7,291.6 1415.0,293.1 1415.4,292.1 1415.8,290.1 1416.1,291.5 1416.5,292.7 1416.9,292.6 1417.4,293.1 1417.8,292.2 1418.1,295.0 1418.3,292.9 1418.7,293.9 1419.1,293.0 1419.4,291.5 1419.8,293.8 1420.1,290.7 1420.5,293.9 1420.9,294.0 1421.4,293.8 1421.9,290.5 1422.1,292.6 1422.5,291.1 1422.9,295.3 1423.3,292.9 1423.6,295.8 1424.1,291.7 1424.4,295.6 1424.9,289.4 1425.2,293.5 1425.7,289.6 1426.0,296.8 1426.4,288.5 1426.9,302.1 1427.2,298.9 1427.6,288.0 1428.0,287.6 1428.5,287.2 1428.8,296.6 1429.1,285.6 1429.4,295.6 1429.8,285.4 1430.2,295.4 1430.7,298.4 1431.2,288.7 1431.5,295.1 1431.8,288.5 1432.3,295.2 1432.6,291.2 1433.1,295.3 1433.6,294.8 1434.0,297.2 1434.4,290.3 1434.8,297.9 1435.1,292.5 1435.5,295.6 1435.9,292.5 1436.3,296.7 1436.6,288.7 1436.9,291.7 1437.2,287.0 1437.6,293.0 1438.1,287.2 1438.6,292.5 1439.1,289.2 1439.5,288.7 1440.0,289.2 1440.5,288.9 1440.8,292.4 1441.3,292.5 1441.8,293.8 1442.2,292.5 1442.6,293.9 1442.9,292.1 1443.2,293.6 1443.6,292.8 1443.9,291.0 1444.3,292.0 1444.6,290.7 1445.2,291.5 1445.6,292.8 1446.2,292.8 1446.6,291.1 1447.1,290.9 1447.4,291.2 1447.9,289.7 1448.3,292.0 1448.9,290.4 1449.2,289.4 1449.7,290.0 1450.0,291.1 1450.4,289.2 1450.1,292.1 1450.5,259.6 1450.9,292.1 1450.3,292.0 1450.7,314.9 1451.1,292.0 1450.9,291.6 1451.4,288.8 1451.9,292.5 1452.2,286.9 1452.6,293.6 1453.0,287.1 1453.4,294.1 1453.9,283.9 1454.2,292.0 1454.5,283.3 1454.8,287.4 1455.1,290.5 1455.5,282.9 1455.9,295.4 1456.3,281.0 1456.7,291.0 1457.2,298.0 1457.6,296.6 1457.9,284.2 1458.2,293.6 1458.7,281.5 1459.1,279.7 1459.4,299.3 1459.8,278.3 1460.1,290.5 1460.4,279.6 1460.8,284.7 1461.3,291.7 1461.6,277.3 1461.9,298.5 1462.3,275.3 1462.7,297.1 1463.2,277.8 1463.6,294.5 1464.1,293.0 1464.5,286.7 1464.9,297.8 1465.5,287.5 1465.8,273.2 1466.3,292.8 1466.6,284.4 1467.0,297.5 1467.3,279.1 1467.8,296.4 1468.3,298.9 1468.7,301.3 1469.0,277.3 1469.4,300.2 1469.9,294.5 1470.3,280.7 1470.7,297.2 1471.0,274.6 1471.5,294.4 1471.9,285.3 1472.3,277.6 1472.6,292.4 1473.2,286.5 1473.5,274.8 1473.9,288.1 1474.2,268.8 1474.8,292.0 1475.3,277.1 1475.7,275.0 1476.1,296.5 1476.4,297.3 1476.7,298.4 1477.1,271.5 1477.4,290.3 1477.9,278.5 1478.2,292.0 1478.5,274.6 1479.0,297.6 1479.5,275.1 1480.0,297.4 1480.5,278.4 1480.9,297.0 1481.4,283.1 1481.9,297.8 1482.2,295.5 1482.5,294.7 1482.8,277.1 1483.4,291.5 1483.7,291.8 1484.1,279.0 1484.6,291.8 1484.9,282.0 1485.2,294.5 1485.4,284.5 1485.8,282.7 1486.3,286.6 1486.6,293.3 1486.9,286.3 1487.2,291.7 1487.5,288.4 1487.9,292.5 1488.4,289.4 1488.7,292.4 1489.2,292.9 1489.5,293.6 1489.8,293.2 1490.0,291.7 1490.6,293.8 1490.9,293.4 1491.4,296.3 1491.8,293.6 1492.3,296.1 1492.8,292.7 1493.0,293.1 1493.4,292.3 1493.9,293.4 1494.4,296.2 1494.8,296.7 1495.3,294.1 1495.5,292.9 1495.9,295.8 1496.3,294.3 1496.8,294.1 1497.2,295.0 1497.5,293.5 1498.0,295.0 1498.4,292.6 1499.0,292.8 1499.4,292.9 1499.8,293.6 1500.1,296.1 1500.6,295.0 1501.0,296.8 1501.3,295.4 1501.7,296.2 1501.9,294.5 1502.2,295.0 1502.7,294.3 1503.0,296.4 1503.2,292.2 1503.5,294.2 1504.0,296.8 1504.3,293.8 1504.6,297.2 1504.8,297.9 1505.1,298.9 1505.5,290.0 1505.7,300.9 1506.0,292.0 1506.4,296.1 1506.9,288.1 1507.3,288.0 1507.5,300.7 1507.9,290.2 1508.3,287.4 1508.8,300.5 1509.1,285.4 1509.5,294.0 1509.9,288.0 1510.4,299.7 1510.9,288.0 1511.2,302.4 1511.6,303.4 1511.8,291.3 1512.3,302.9 1512.6,300.8 1513.0,299.6 1513.4,291.2 1513.9,292.1 1514.4,302.9 1514.9,297.0 1515.4,287.6 1515.9,302.0 1516.3,292.8 1516.8,302.9 1517.2,299.6 1517.5,297.3 1518.0,289.0 1518.5,298.1 1518.7,291.7 1519.1,301.2 1519.5,292.4 1519.8,299.1 1520.0,291.4 1520.5,303.8 1520.9,293.4 1521.4,304.0 1521.8,304.2 1522.1,303.8 1522.4,295.4 1522.7,305.0 1523.2,297.2 1523.5,306.1 1523.8,300.2 1524.3,309.1 1524.8,301.5 1525.3,301.8 1525.7,310.9 1526.1,302.8 1526.6,311.0 1527.0,310.2 1527.3,303.3 1527.9,304.2 1528.4,307.2 1528.8,308.7 1529.2,305.8 1529.7,308.1 1530.0,304.5 1530.3,304.2 1530.7,310.4 1531.2,307.8 1531.5,307.3 1532.0,313.0 1532.5,311.8 1532.9,314.8 1533.3,313.7 1533.5,310.3 1533.9,314.9 1534.1,312.0 1534.7,312.9 1534.9,311.2 1535.4,316.3 1535.8,312.4 1536.2,310.8 1536.6,311.9 1537.0,311.4 1537.4,311.8 1537.6,311.4 1538.1,314.4 1538.6,310.9 1539.0,311.0 1539.4,312.1 1539.7,308.8 1540.0,313.0 1540.5,311.2 1540.7,309.4 1541.3,311.7 1541.8,310.5 1542.1,311.1 1542.7,309.8 1542.9,312.0 1543.2,310.6 1543.6,313.1 1544.0,310.4 1544.4,312.0 1544.8,310.1 1545.3,312.4 1545.7,311.3 1546.1,313.6 1546.3,311.2 1546.9,309.5 1547.3,312.1 1547.6,309.4 1548.0,311.6 1548.4,314.2 1548.7,314.0 1549.1,311.6 1549.5,316.5 1550.0,313.2 1550.3,316.5 1550.7,316.9 1551.0,314.4 1551.3,312.1 1551.6,316.7 1551.9,313.3 1552.2,314.7 1552.7,320.3 1553.0,314.5 1553.5,313.9 1553.9,316.8 1554.4,314.8 1554.7,311.0 1555.2,314.8 1555.6,313.6 1556.1,315.3 1556.4,314.3 1556.9,315.3 1557.2,312.6 1557.6,314.1 1558.1,311.4 1558.4,313.7 1558.8,314.0 1559.1,314.6 1559.5,313.2 1559.9,314.6 1560.3,312.9 1560.9,313.3 1561.2,314.0 1561.5,313.0 1562.0,312.4 1562.4,312.3 1562.7,313.8 1563.1,312.1 1563.4,311.6 1563.9,312.2 1564.3,312.3 1564.7,310.7 1565.2,309.7 1565.6,310.2 1565.8,309.9 1566.3,309.6 1566.7,309.7 1567.0,309.7 1567.5,309.1 1567.8,310.4 1568.1,310.2 1568.5,312.0 1568.8,311.5 1569.1,312.5 1569.4,312.7 1569.7,312.1 1570.3,312.2 1570.7,313.0 1571.0,313.1 1571.3,311.4 1571.6,311.5 1572.1,312.5 1572.6,312.7 1573.2,313.2 1573.5,311.7 1573.7,313.7 1574.3,314.7 1574.8,313.9 1575.1,315.3 1575.5,314.1 1575.9,316.5 1576.1,314.7 1576.6,316.2 1577.0,315.7 1577.3,316.1 1577.6,315.6 1578.2,318.2 1578.6,316.2 1578.9,316.9 1579.5,319.2 1579.9,319.6 1580.3,315.0 1580.7,316.8 1581.0,316.3 1581.5,313.9 1582.1,314.8 1582.4,315.5 1583.0,312.6 1583.4,315.7 1583.9,314.8 1584.4,320.1 1584.8,316.5 1585.1,318.8 1585.6,315.6 1585.9,318.8 1586.4,316.8 1586.8,321.0 1587.1,316.8 1587.6,321.9 1588.0,319.0 1588.4,316.2 1588.8,321.5 1589.1,318.1 1589.5,318.5 1590.0,322.9 1590.3,320.4 1590.6,323.2 1591.1,322.5 1591.4,320.8 1591.8,324.4 1592.4,321.5 1592.7,320.7 1593.0,322.1 1593.3,326.0 1593.6,324.1 1594.1,327.2 1594.7,320.8 1595.1,328.3 1595.4,318.9 1595.7,327.6 1596.0,324.1 1596.4,317.6 1596.8,325.5 1597.2,319.2 1597.8,324.6 1598.2,316.8 1598.5,326.1 1598.8,316.7 1599.1,322.1 1599.5,315.4 1599.9,326.1 1600.4,312.2 1600.1,320.0 1600.5,339.1 1600.9,320.0 1600.7,324.8 1601.2,315.5 1601.6,315.2 1602.1,315.3 1602.4,321.3 1602.9,317.9 1603.4,322.5 1603.9,315.7 1604.2,325.0 1604.8,314.5 1605.1,317.2 1605.4,325.2 1606.0,323.9 1606.2,315.9 1606.7,326.4 1607.3,324.4 1607.7,319.5 1608.1,326.4 1608.6,317.1 1609.1,324.8 1609.6,325.2 1610.0,327.0 1610.4,321.9 1610.8,326.8 1611.1,323.1 1611.5,325.5 1611.8,321.6 1612.2,326.1 1612.6,322.0 1613.0,326.6 1613.3,320.2 1613.7,324.3 1614.2,323.0 1614.7,318.6 1615.1,321.0 1615.6,317.2 1616.1,319.5 1616.4,316.2 1616.8,320.2 1617.2,318.7 1617.6,323.0 1617.9,322.1 1618.3,318.8 1618.7,321.7 1618.9,318.2 1619.4,319.7 1619.7,315.9 1620.1,320.2 1620.6,319.1 1621.1,313.2 1621.6,318.8 1621.9,313.0 1622.3,317.7 1622.8,306.6 1623.2,314.3 1623.5,315.4 1623.9,307.6 1624.3,315.5 1624.5,308.0 1624.9,316.4 1625.2,317.3 1625.8,309.8 1626.3,306.5 1626.6,314.7 1627.0,303.0 1627.3,320.5 1627.8,304.1 1628.3,316.5 1628.8,305.8 1629.0,315.2 1629.3,303.9 1629.7,314.5 1630.3,310.2 1630.6,311.0 1631.0,306.6 1631.5,311.0 1632.1,306.9 1632.4,308.5 1632.9,307.1 1633.3,307.8 1633.8,306.9 1634.1,307.5 1634.5,307.2 1634.8,308.8 1635.2,308.1 1635.7,307.9 1635.9,306.8 1636.2,306.3 1636.7,306.0 1637.1,306.7 1637.4,305.3 1637.7,306.0 1638.2,305.5 1638.7,306.0 1639.1,305.8 1639.6,307.2 1639.8,306.1 1640.1,306.8 1640.4,306.3 1640.9,307.4 1641.3,307.3 1641.9,308.1 1642.2,307.9 1642.6,307.0 1642.9,307.1 1643.4,307.8 1643.7,307.9 1644.1,308.6 1644.6,308.6 1644.9,309.9 1645.5,309.5 1645.8,311.1 1646.3,312.3 1646.7,311.0 1647.2,312.5 1647.5,312.0 1648.0,310.6 1648.3,312.6 1648.8,311.6 1649.0,311.4 1649.6,314.0 1650.0,313.0 1650.5,312.4 1650.9,310.9 1651.2,313.6 1651.8,312.1 1652.1,314.9 1652.5,314.7 1652.9,312.1 1653.2,313.6 1653.5,314.9 1653.8,313.1 1654.2,313.2 1654.6,318.6 1655.2,314.7 1655.7,320.6 1656.0,313.9 1656.5,319.5 1657.0,314.6 1657.5,320.4 1658.0,315.8 1658.4,318.0 1658.8,315.5 1659.1,316.7 1659.5,315.7 1659.9,317.9 1660.4,316.9 1660.8,314.7 1661.2,314.8 1661.7,318.8 1662.0,313.6 1662.4,314.5 1662.8,316.5 1663.1,313.6 1663.5,311.8 1663.9,313.4 1664.2,314.3 1664.6,317.6 1665.0,319.9 1665.6,315.1 1665.9,320.9 1666.2,320.4 1666.6,318.2 1667.0,322.6 1667.6,323.5 1667.8,318.5 1668.2,320.4 1668.7,319.9 1669.2,323.1 1669.5,317.1 1670.0,325.3 1670.4,327.4 1670.8,323.3 1671.2,314.4 1671.7,325.3 1672.1,313.2 1672.7,330.3 1673.2,316.8 1673.6,327.8 1673.9,324.4 1674.4,327.3 1674.7,315.0 1675.0,323.5 1675.4,310.0 1675.7,323.3 1676.1,312.6 1676.6,319.5 1677.1,319.6 1677.6,315.2 1678.1,312.5 1678.4,319.3 1678.6,318.3 1679.0,313.6 1679.5,318.2 1679.7,315.4 1680.2,315.6 1680.7,319.5 1681.2,319.3 1681.5,319.2 1681.8,322.2 1682.3,320.0 1682.7,321.9 1683.1,323.6 1683.5,323.0 1683.7,326.3 1684.0,321.7 1684.5,323.9 1684.8,323.1 1685.3,322.1 1685.6,322.4 1685.9,321.9 1686.4,322.8 1686.8,319.6 1687.3,321.0 1687.6,323.6 1688.0,322.8 1688.4,323.0 1688.9,322.1 1689.4,324.9 1689.8,323.3 1690.1,322.4 1690.7,323.8 1691.2,321.1 1691.4,323.3 1691.9,320.3 1692.2,320.8 1692.7,319.1 1693.0,321.9 1693.4,320.0 1694.0,321.7 1694.3,319.7 1694.8,321.3 1695.2,320.7 1695.5,323.2 1696.0,323.1 1696.5,318.8 1696.9,321.7 1697.4,319.6 1697.9,321.1 1698.5,320.1 1698.9,321.7 1699.3,320.4 1699.8,322.7 1700.3,321.1 1700.7,323.4 1701.2,321.2 1701.4,323.6 1701.8,320.1 1702.1,324.2 1702.6,320.6 1702.9,320.7 1703.4,319.0 1703.9,321.4 1704.2,318.4 1704.6,319.2 1704.9,318.6 1705.3,317.3 1705.7,318.1 1706.0,316.4 1706.4,316.4 1707.0,318.5 1707.5,317.8 1707.9,317.2 1708.4,319.9 1708.7,318.5 1709.0,320.0 1709.5,318.9 1709.8,318.7 1710.3,319.7 1710.8,317.9 1711.1,320.0 1711.3,319.1 1711.6,320.3 1712.0,318.8 1712.4,318.2 1712.6,320.4 1713.0,319.4 1713.5,320.4 1714.1,319.3 1714.5,318.0 1715.0,319.1 1715.3,319.9 1715.8,317.6 1716.2,318.7 1716.6,320.8 1717.2,321.3 1717.6,322.6 1717.9,321.4 1718.2,323.6 1718.6,322.4 1719.2,323.0 1719.4,320.8 1719.9,320.6 1720.4,317.2 1720.8,317.6 1721.2,320.4 1721.7,319.4 1722.0,312.8 1722.3,311.7 1722.8,318.7 1723.2,311.5 1723.6,311.2 1724.2,314.7 1724.5,314.8 1725.0,315.5 1725.5,318.9 1725.8,318.7 1726.4,317.2 1726.7,317.9 1727.1,317.9" fill="none" stroke="#f00" stroke-width="2.1" stroke-linejoin="round" />
</g>
<line x1="1726.08" y1="111.00" x2="1726.08" y2="454.00" stroke="#1f77b4" stroke-width="2.2" stroke-dasharray="2.2 3.6"/>
<rect x="1244" y="450.0" width="1" height="5.0" fill="#000" shape-rendering="crispEdges"/>
<rect x="1319" y="450.0" width="1" height="5.0" fill="#000" shape-rendering="crispEdges"/>
<rect x="1393" y="450.0" width="1" height="5.0" fill="#000" shape-rendering="crispEdges"/>
<rect x="1468" y="450.0" width="1" height="5.0" fill="#000" shape-rendering="crispEdges"/>
<rect x="1542" y="450.0" width="1" height="5.0" fill="#000" shape-rendering="crispEdges"/>
<rect x="1616" y="450.0" width="1" height="5.0" fill="#000" shape-rendering="crispEdges"/>
<rect x="1691" y="450.0" width="1" height="5.0" fill="#000" shape-rendering="crispEdges"/>
<rect x="1765" y="450.0" width="1" height="5.0" fill="#000" shape-rendering="crispEdges"/>
<rect x="1205.0" y="411" width="5.0" height="1" fill="#000" shape-rendering="crispEdges"/>
<rect x="1205.0" y="368" width="5.0" height="1" fill="#000" shape-rendering="crispEdges"/>
<rect x="1205.0" y="325" width="5.0" height="1" fill="#000" shape-rendering="crispEdges"/>
<rect x="1205.0" y="282" width="5.0" height="1" fill="#000" shape-rendering="crispEdges"/>
<rect x="1205.0" y="239" width="5.0" height="1" fill="#000" shape-rendering="crispEdges"/>
<rect x="1205.0" y="196" width="5.0" height="1" fill="#000" shape-rendering="crispEdges"/>
<rect x="1205.0" y="153" width="5.0" height="1" fill="#000" shape-rendering="crispEdges"/>
<rect x="1795.0" y="386" width="5.0" height="1" fill="#f00" shape-rendering="crispEdges"/>
<rect x="1795.0" y="316" width="5.0" height="1" fill="#f00" shape-rendering="crispEdges"/>
<rect x="1795.0" y="248" width="5.0" height="1" fill="#f00" shape-rendering="crispEdges"/>
<rect x="1795.0" y="178" width="5.0" height="1" fill="#f00" shape-rendering="crispEdges"/>
<path d="M1800,110 H1205 V455 H1800" fill="none" stroke="#000" stroke-width="2" stroke-linecap="square"/>
<line x1="1800.00" y1="109.00" x2="1800.00" y2="456.00" stroke="#f00" stroke-width="2" />
<rect x="1160.02" y="455.66" width="11.71" height="1.57" fill="#000"/>
<text transform="translate(1173.70 462.30) scale(1.0895 1)" x="0.0 10.9" y="0" font-size="19.64">20</text>
<rect x="1160.02" y="412.54" width="11.71" height="1.57" fill="#000"/>
<text transform="translate(1173.70 419.18) scale(1.0895 1)" x="0.0 10.9" y="0" font-size="19.64">15</text>
<rect x="1160.02" y="369.41" width="11.71" height="1.57" fill="#000"/>
<text transform="translate(1173.70 376.05) scale(1.0895 1)" x="0.0 10.9" y="0" font-size="19.64">10</text>
<rect x="1171.92" y="326.29" width="11.71" height="1.57" fill="#000"/>
<text transform="translate(1185.60 332.93) scale(1.0895 1)" x="0.0" y="0" font-size="19.64">5</text>
<text transform="translate(1197.50 289.80) scale(1.0895 1)" x="-10.9" y="0" font-size="19.64">0</text>
<text transform="translate(1197.50 246.68) scale(1.0895 1)" x="-10.9" y="0" font-size="19.64">5</text>
<text transform="translate(1197.50 203.55) scale(1.0895 1)" x="-21.8 -10.9" y="0" font-size="19.64">10</text>
<text transform="translate(1197.50 160.43) scale(1.0895 1)" x="-21.8 -10.9" y="0" font-size="19.64">15</text>
<text transform="translate(1197.50 117.30) scale(1.0895 1)" x="-21.8 -10.9" y="0" font-size="19.64">20</text>
<text transform="translate(1805.50 461.90) scale(1.0895 1)" x="0.0" y="0" font-size="19.64" fill="#f00">0</text>
<text transform="translate(1805.50 392.90) scale(1.0895 1)" x="0.0 10.9 21.8" y="0" font-size="19.64" fill="#f00">200</text>
<text transform="translate(1805.50 323.90) scale(1.0895 1)" x="0.0 10.9 21.8" y="0" font-size="19.64" fill="#f00">400</text>
<text transform="translate(1805.50 254.90) scale(1.0895 1)" x="0.0 10.9 21.8" y="0" font-size="19.64" fill="#f00">600</text>
<text transform="translate(1805.50 185.90) scale(1.0895 1)" x="0.0 10.9 21.8" y="0" font-size="19.64" fill="#f00">800</text>
<text transform="translate(1805.50 116.90) scale(1.0895 1)" x="0.0 10.9 21.8 32.8" y="0" font-size="19.64" fill="#f00">1000</text>
<text transform="translate(1116.00 282.00) rotate(-90) scale(1.0105 1)" x="-39.2 -32.1 -11.4 2.8 10.1 26.6" y="0" font-size="24.78">IMF Bz</text>
<text transform="translate(1146.00 282.00) rotate(-90) scale(1.1010 1)" x="-29.4 -20.8 -13.7 0.3 14.5 21.0" y="0" font-size="24.78">( nT )</text>
<text transform="translate(1879.50 282.00) rotate(-90) scale(1.0782 1)" x="-66.1 -50.6 -28.6 -22.1 -6.6 6.4 11.6 25.3 37.7 43.9 52.8" y="0" font-size="24.78" fill="#f00">SW Velocity</text>
<g transform="translate(1913.00 282.00) rotate(-90)" fill="#f00">
<text transform="translate(-55.16 0.00) scale(1.1079 1)" x="0.0 8.3 15.1 27.4" y="0" font-size="24.78">( km</text>
<text transform="translate(2.22 0.00) scale(0.9924 1)" x="0.0" y="0" font-size="24.78">s</text>
<text transform="translate(14.52 -8.57) scale(1.2314 1)" x="0.0 11.2" y="0" font-size="17.35">−1</text>
<text transform="translate(45.95 0.00) scale(1.1157 1)" x="0.0" y="0" font-size="24.78">)</text>
</g>
<clipPath id="c5"><rect x="1205" y="478" width="595" height="344"/></clipPath>
<line x1="1205.00" y1="512.40" x2="1800.00" y2="512.40" stroke="#000" stroke-width="2" stroke-dasharray="2 3.3"/>
<g clip-path="url(#c5)">
<path d="M1204.5,524.4 1206.4,524.4 1212.7,526.0 1219.1,526.0 1223.9,527.9 1230.2,523.7 1238.2,522.8 1246.1,521.2 1254.1,520.5 1257.3,519.0 1260.5,523.7 1268.4,525.3 1273.2,525.3 1278.9,532.3 1284.3,532.6 1289.7,534.9 1295.5,530.1 1301.8,530.7 1306.6,529.5 1311.4,530.7 1315.2,527.9 1320.3,532.6 1327.3,530.7 1333.6,523.7 1338.4,517.4 1343.2,518.3 1349.5,519.9 1355.9,515.8 1359.1,517.4 1363.9,523.7 1368.6,527.5 1374.4,534.2 1379.8,533.3 1384.5,534.9 1390.3,531.7 1390.0,531.7 1394.8,532.6 1399.5,534.2 1405.9,531.7 1410.7,530.7 1415.5,525.3 1420.2,524.4 1425.0,520.5 1427.5,519.0 1431.4,523.7 1434.5,522.1 1439.3,518.0 1445.7,517.7 1450.5,517.4 1455.2,516.1 1461.6,517.4 1464.8,516.7 1469.5,519.9 1474.3,522.8 1479.1,522.8 1483.9,522.5 1487.0,519.9 1491.2,516.1 1495.0,518.0 1499.8,517.4 1504.5,515.1 1508.4,512.9 1512.5,515.1 1517.3,515.8 1522.0,518.0 1528.4,514.8 1534.8,516.7 1539.5,519.0 1542.7,520.5 1547.5,519.6 1552.3,518.0 1557.0,517.4 1561.8,515.8 1565.0,509.4 1568.8,505.3 1572.9,506.9 1577.7,508.5 1580.0,507.8 1584.8,508.8 1589.5,505.6 1594.3,503.0 1597.5,501.5 1600.7,506.9 1602.9,504.0 1606.1,505.3 1610.2,500.8 1613.4,499.2 1616.6,502.4 1621.4,509.4 1626.1,512.0 1630.9,513.5 1635.7,518.3 1640.5,521.2 1645.2,521.5 1650.0,520.5 1653.8,516.7 1658.0,517.4 1662.7,516.7 1667.5,516.4 1672.3,515.8 1675.5,512.0 1680.2,510.0 1684.4,507.5 1688.2,508.1 1692.9,510.4 1697.7,512.0 1702.5,511.0 1705.7,513.5 1708.9,516.1 1713.6,515.1 1718.4,515.5 1721.6,513.2 1724.8,512.0" fill="none" stroke="#000" stroke-width="2.1" stroke-linejoin="round" />
<path d="M1201.9,646.2 1202.5,666.8 1202.8,698.7 1203.1,652.5 1203.5,685.0 1204.1,647.2 1204.4,673.0 1204.9,643.6 1205.4,649.8 1205.9,646.1 1206.4,686.9 1206.7,655.0 1207.1,686.8 1207.5,656.4 1207.9,705.2 1208.1,681.6 1208.6,675.9 1208.9,664.3 1209.3,663.1 1209.7,697.1 1210.2,702.2 1210.7,660.9 1210.7,705.9 1211.1,763.9 1211.5,705.9 1211.2,663.2 1211.6,708.6 1211.9,708.6 1212.1,666.0 1212.4,662.8 1212.8,672.1 1213.2,699.6 1213.8,685.2 1214.1,688.5 1214.5,699.7 1214.9,659.3 1215.2,688.6 1215.8,659.3 1216.1,693.1 1216.7,693.2 1217.1,660.0 1217.6,694.1 1218.1,692.3 1218.5,659.4 1218.9,651.9 1219.4,693.4 1219.9,695.6 1220.4,692.6 1220.8,698.5 1221.2,650.7 1221.5,697.3 1221.9,653.7 1222.3,692.8 1222.8,650.2 1223.0,680.2 1223.3,659.6 1223.6,696.7 1224.0,672.9 1224.4,660.6 1224.9,697.0 1225.1,646.5 1225.7,704.7 1226.1,646.3 1226.6,647.9 1226.9,690.1 1227.3,649.1 1227.9,696.4 1228.2,643.0 1228.7,732.4 1229.1,643.2 1229.5,713.1 1230.0,647.9 1229.8,699.5 1230.2,762.4 1230.6,699.5 1230.5,724.0 1231.0,664.8 1231.3,725.6 1231.7,650.8 1232.0,710.0 1232.3,655.4 1232.7,682.0 1233.0,703.2 1233.4,655.4 1233.8,693.2 1234.4,650.1 1234.7,666.7 1235.2,687.7 1235.7,659.8 1236.1,689.9 1236.5,668.5 1237.0,689.8 1237.5,714.1 1237.7,663.9 1238.3,709.6 1238.8,669.6 1239.1,704.9 1239.5,664.9 1239.9,723.1 1240.3,661.0 1240.6,721.7 1241.1,747.1 1241.5,684.3 1242.0,747.8 1241.9,721.8 1242.3,789.4 1242.7,721.8 1242.4,669.6 1242.8,733.7 1243.1,660.2 1243.5,699.6 1244.0,749.6 1244.4,654.2 1244.9,735.7 1245.2,662.6 1245.6,747.9 1246.0,658.6 1246.4,759.0 1246.8,684.7 1247.0,767.7 1247.3,765.4 1247.7,695.0 1248.0,777.3 1248.2,690.9 1248.0,720.0 1248.4,789.4 1248.8,720.0 1248.6,723.4 1249.1,758.0 1249.6,728.0 1250.0,660.3 1250.3,728.8 1250.6,733.7 1250.9,659.3 1251.4,744.3 1251.9,657.4 1252.2,738.5 1252.4,745.0 1252.8,657.4 1253.2,738.7 1253.4,682.3 1253.8,722.4 1254.3,672.6 1254.8,729.2 1255.2,659.2 1255.5,752.9 1255.9,660.4 1256.4,766.2 1256.7,694.0 1257.2,737.7 1257.5,674.9 1257.9,764.6 1258.2,676.1 1258.5,766.9 1258.5,725.0 1258.9,789.4 1259.3,725.0 1258.9,665.0 1259.3,669.6 1259.8,752.8 1260.3,706.2 1260.6,751.8 1260.9,713.2 1261.2,774.8 1261.7,684.4 1262.1,765.7 1262.6,682.8 1262.8,781.3 1263.3,670.4 1263.7,772.8 1264.3,767.6 1264.5,715.6 1265.1,762.6 1265.6,695.1 1265.9,771.4 1266.2,668.9 1266.7,759.6 1267.0,714.9 1267.3,776.3 1267.6,676.0 1268.1,687.5 1268.4,748.2 1268.8,687.1 1269.1,757.4 1269.7,771.5 1270.1,757.0 1270.6,686.6 1270.8,763.6 1271.3,654.6 1271.6,773.0 1272.1,772.5 1272.6,691.5 1273.0,775.8 1273.4,680.7 1273.7,660.9 1274.2,765.8 1274.6,660.5 1274.9,759.5 1275.4,658.3 1275.7,756.6 1276.2,668.5 1276.6,739.9 1277.1,706.0 1277.4,743.1 1277.7,670.9 1278.1,774.6 1278.7,770.9 1279.2,664.2 1279.6,746.8 1279.9,699.3 1280.4,666.8 1280.8,680.1 1281.4,750.9 1281.7,680.6 1282.2,784.5 1282.5,697.3 1283.0,684.6 1283.2,780.8 1283.5,696.6 1284.1,796.3 1284.5,728.5 1284.9,779.7 1285.2,752.4 1285.6,823.5 1286.0,786.6 1286.3,722.9 1286.7,801.7 1287.0,738.8 1287.6,775.9 1287.9,725.5 1288.2,794.1 1288.6,720.5 1288.9,788.2 1289.4,785.7 1289.9,772.4 1290.4,797.6 1290.7,716.0 1291.1,768.3 1291.5,699.8 1292.0,787.0 1292.5,718.6 1293.1,766.7 1293.4,711.7 1293.9,790.7 1294.4,694.4 1294.8,775.5 1295.3,705.5 1295.7,772.1 1296.2,695.1 1296.6,718.3 1297.0,761.6 1297.2,681.5 1297.8,770.7 1298.3,754.3 1298.6,685.7 1299.1,776.9 1299.4,740.7 1299.8,689.4 1300.2,739.7 1300.4,656.8 1300.9,755.8 1301.4,621.5 1301.7,758.3 1302.0,582.8 1302.4,742.7 1302.4,659.9 1302.8,550.8 1303.2,659.9 1302.8,584.2 1303.1,738.3 1303.4,640.3 1303.3,655.8 1303.7,549.2 1304.1,655.8 1303.9,727.4 1304.3,639.0 1304.8,759.9 1305.1,581.0 1305.5,716.0 1305.8,719.0 1306.1,605.3 1306.5,712.7 1306.9,601.7 1306.8,670.3 1307.2,565.7 1307.6,670.3 1307.4,746.4 1307.8,605.4 1308.2,643.3 1308.5,781.6 1308.8,614.5 1309.1,735.7 1309.5,700.0 1310.1,788.9 1310.4,700.3 1310.7,794.2 1310.9,651.9 1311.4,751.7 1311.8,671.5 1312.1,794.0 1312.7,660.7 1312.9,799.9 1313.4,672.7 1313.9,782.5 1314.4,658.7 1314.8,763.0 1315.0,690.4 1315.6,783.2 1316.1,676.1 1316.5,803.2 1317.0,765.6 1317.3,674.8 1317.8,759.2 1318.2,716.7 1318.7,779.9 1319.1,671.1 1319.6,809.5 1319.9,675.7 1320.2,806.7 1320.4,683.7 1320.9,693.0 1321.2,814.6 1321.7,710.8 1321.9,825.9 1322.2,740.2 1322.5,735.9 1323.0,824.2 1323.3,716.2 1323.7,814.7 1324.1,725.5 1324.5,790.4 1324.9,763.4 1325.1,821.5 1325.5,737.6 1325.7,828.9 1326.2,728.7 1326.7,721.7 1327.0,793.9 1327.3,770.2 1327.7,807.4 1328.0,822.6 1328.3,742.7 1328.6,821.9 1329.1,731.2 1329.6,824.7 1330.1,753.2 1330.4,826.4 1330.9,732.5 1331.2,802.9 1331.5,746.7 1331.9,800.0 1332.4,702.9 1332.7,764.6 1333.1,696.3 1333.5,790.8 1333.8,688.7 1334.1,721.7 1334.5,779.3 1334.8,698.5 1335.3,787.5 1335.6,692.9 1336.1,783.4 1336.5,715.6 1336.9,768.9 1337.2,692.6 1337.6,789.5 1337.8,701.6 1338.2,715.8 1338.7,734.6 1339.0,786.5 1339.4,712.3 1339.8,783.0 1340.2,727.3 1340.7,781.6 1341.1,724.1 1341.4,786.4 1341.6,737.2 1342.1,767.7 1342.4,730.0 1343.0,746.8 1343.3,767.1 1343.9,781.9 1344.4,781.0 1344.7,747.0 1345.0,778.8 1345.4,748.9 1345.8,764.2 1346.3,752.6 1346.8,751.9 1347.1,775.5 1347.6,761.1 1348.0,797.5 1348.5,774.4 1348.8,766.2 1349.1,812.1 1349.6,817.2 1349.9,782.9 1350.2,796.3 1350.6,810.5 1351.0,741.6 1351.5,763.4 1351.8,709.2 1352.2,749.2 1352.7,672.5 1353.0,660.2 1353.4,721.7 1353.7,669.4 1354.0,710.4 1354.4,700.7 1354.9,657.3 1355.4,698.8 1355.7,672.3 1356.2,716.5 1356.7,646.0 1357.1,712.0 1357.6,648.3 1358.0,724.2 1358.2,669.5 1358.6,721.9 1358.8,636.4 1359.1,719.5 1359.4,638.4 1359.7,708.1 1360.1,714.7 1360.4,647.3 1360.9,714.1 1361.3,635.0 1361.8,715.2 1362.0,641.1 1362.4,713.2 1363.0,625.5 1363.3,663.0 1363.8,725.0 1364.3,633.8 1364.8,629.7 1365.1,626.5 1365.5,717.0 1366.0,725.7 1366.5,639.7 1367.0,650.8 1367.4,730.0 1367.7,705.1 1368.1,718.2 1368.5,680.9 1368.8,726.9 1369.3,653.2 1369.8,722.4 1370.1,701.3 1370.5,639.9 1370.8,747.3 1371.2,644.9 1371.6,697.8 1372.0,651.7 1372.3,743.2 1372.5,675.2 1372.9,752.4 1373.4,703.4 1373.7,772.1 1374.1,697.9 1374.4,771.1 1374.7,694.7 1375.0,800.7 1375.4,622.6 1375.8,727.4 1376.4,675.0 1376.7,764.1 1377.0,633.8 1377.4,595.4 1377.1,685.2 1377.5,536.5 1377.9,685.2 1377.9,553.3 1378.3,822.7 1378.1,680.0 1378.5,537.1 1378.9,680.0 1378.7,819.9 1379.1,575.5 1379.7,758.2 1380.0,597.8 1380.4,791.2 1380.8,710.1 1381.3,612.8 1381.8,773.6 1382.2,665.7 1382.4,651.1 1382.8,641.9 1383.1,689.5 1383.5,754.8 1383.8,648.8 1384.2,785.3 1384.6,774.3 1385.0,686.7 1385.4,776.6 1385.7,705.7 1386.2,772.3 1386.7,633.4 1387.0,747.1 1387.6,664.9 1388.1,764.9 1388.4,581.3 1388.9,752.4 1389.2,579.5 1389.6,764.6 1389.5,661.3 1389.9,541.2 1390.3,661.3 1390.2,580.1 1390.5,702.9 1390.5,660.5 1390.9,541.9 1391.3,660.5 1390.6,660.3 1391.0,541.2 1391.4,660.3 1391.1,578.5 1391.5,701.3 1392.0,558.9 1392.5,710.1 1392.9,588.2 1393.3,757.9 1393.7,610.3 1394.1,726.0 1394.5,746.6 1394.9,663.7 1395.2,714.1 1395.5,672.4 1395.9,731.2 1396.4,696.8 1396.6,697.2 1396.9,752.3 1397.3,697.7 1397.6,767.1 1397.9,722.5 1398.4,777.3 1398.2,743.3 1398.6,797.3 1399.0,743.3 1398.8,769.9 1399.3,722.6 1399.8,762.4 1400.2,725.1 1400.5,738.4 1400.9,724.4 1401.3,755.7 1401.7,709.3 1402.1,741.1 1402.6,705.9 1403.1,743.0 1403.3,702.5 1403.7,696.1 1404.0,700.4 1404.3,734.1 1404.7,689.1 1405.0,722.6 1405.3,682.3 1405.6,679.3 1406.1,690.7 1406.5,676.2 1406.8,682.9 1407.1,675.0 1407.4,681.8 1407.7,682.4 1408.0,676.1 1408.4,681.3 1408.7,677.0 1409.0,678.6 1409.4,673.4 1410.0,678.3 1410.5,675.7 1411.1,679.4 1411.5,680.9 1412.1,678.7 1412.4,682.1 1412.7,678.1 1413.2,681.4 1413.5,676.0 1413.9,683.0 1414.3,682.8 1414.8,678.5 1415.2,683.8 1415.6,676.2 1416.0,683.2 1416.3,673.3 1416.8,682.5 1417.2,671.9 1417.6,683.1 1418.1,667.2 1418.5,679.3 1418.9,665.2 1419.4,678.0 1419.9,664.9 1420.3,675.4 1420.8,658.7 1421.2,681.6 1421.5,656.5 1421.9,675.0 1422.3,666.5 1422.9,674.8 1423.3,684.1 1423.7,682.4 1424.0,683.7 1424.5,658.4 1424.9,683.7 1425.4,660.8 1425.8,683.2 1426.3,660.2 1426.8,657.6 1427.1,686.9 1427.5,659.6 1427.8,685.5 1428.3,660.9 1428.7,668.6 1429.1,694.8 1429.7,664.9 1430.1,694.7 1430.6,693.1 1430.9,660.8 1431.4,698.0 1432.0,662.6 1432.2,682.3 1432.5,656.2 1433.1,691.4 1433.4,658.7 1433.9,685.1 1434.2,676.6 1434.5,654.5 1434.8,680.7 1435.3,656.1 1435.6,685.4 1436.1,650.8 1436.5,673.3 1437.0,651.7 1437.5,679.7 1437.9,671.6 1438.4,674.4 1438.7,651.9 1439.1,677.9 1439.7,653.1 1440.1,654.7 1440.5,674.0 1440.9,665.8 1441.3,678.1 1441.7,660.0 1442.2,658.6 1442.7,674.3 1443.0,658.2 1443.5,672.5 1444.0,661.3 1444.3,661.1 1444.7,672.6 1445.0,660.6 1445.5,672.6 1445.9,661.5 1446.5,661.6 1446.8,668.3 1447.3,662.4 1447.8,671.0 1448.1,662.6 1448.4,670.1 1448.7,664.6 1449.3,658.3 1449.5,669.2 1450.0,654.4 1450.1,667.6 1450.5,593.7 1450.9,667.6 1450.5,679.0 1450.4,667.8 1450.8,594.4 1451.2,667.8 1450.8,652.4 1451.2,653.9 1451.5,676.9 1451.9,655.8 1452.4,681.7 1452.7,655.1 1453.0,654.4 1453.3,680.4 1453.7,652.2 1454.1,684.4 1454.4,667.3 1454.7,687.5 1455.2,680.4 1455.5,679.8 1455.8,679.9 1456.1,667.8 1456.5,687.1 1457.0,686.1 1457.3,658.4 1457.7,658.4 1458.1,693.0 1458.5,662.6 1458.8,697.5 1459.3,665.4 1459.6,677.2 1459.8,695.7 1460.2,664.4 1460.7,697.6 1461.2,664.9 1461.6,697.9 1462.1,656.7 1462.6,691.8 1462.9,654.8 1463.4,685.8 1463.9,648.5 1464.3,669.6 1464.7,682.4 1465.0,653.9 1465.2,677.3 1465.6,658.5 1466.2,677.4 1466.7,661.7 1467.1,680.3 1467.4,648.9 1467.8,686.9 1468.2,657.0 1468.4,674.8 1468.8,657.2 1469.1,692.5 1469.5,667.2 1469.9,683.6 1470.4,677.0 1470.9,704.9 1471.2,663.8 1471.5,726.5 1472.0,693.3 1472.5,745.8 1473.0,683.5 1473.4,760.3 1473.0,737.7 1473.4,808.5 1473.8,737.7 1473.3,730.1 1473.7,806.9 1474.1,730.1 1473.8,689.7 1474.2,739.3 1474.7,688.4 1475.0,707.7 1475.6,661.1 1476.1,652.4 1476.4,693.3 1476.9,690.6 1477.4,657.3 1478.0,692.1 1478.4,685.2 1478.8,655.8 1479.3,681.5 1479.6,649.6 1480.1,651.5 1480.6,683.1 1480.9,663.2 1481.3,657.6 1481.9,653.9 1482.4,700.7 1482.7,652.0 1483.0,696.6 1483.5,662.7 1483.8,697.7 1483.5,689.2 1483.9,724.2 1484.3,689.2 1484.0,673.4 1484.6,694.8 1484.8,654.2 1485.2,695.1 1485.5,654.9 1485.9,686.6 1486.1,685.3 1486.5,657.2 1487.0,676.5 1487.3,659.7 1487.8,666.5 1488.4,659.2 1488.8,666.3 1489.2,659.7 1489.5,665.8 1490.0,653.3 1490.5,670.5 1491.0,655.3 1491.6,654.4 1492.1,663.4 1492.5,652.1 1492.9,650.6 1493.3,663.5 1493.8,652.4 1494.3,663.7 1494.5,660.7 1494.9,654.1 1495.2,660.5 1495.5,654.4 1496.0,659.9 1496.5,652.4 1496.9,659.2 1497.2,653.0 1497.7,653.9 1498.1,649.6 1498.6,651.3 1498.9,650.8 1499.1,648.0 1499.7,649.1 1500.1,645.1 1500.5,648.6 1500.9,648.1 1501.3,653.6 1501.7,650.9 1502.2,657.9 1502.5,658.0 1502.9,660.0 1503.3,650.4 1503.8,663.3 1504.0,653.2 1504.5,663.1 1504.7,651.2 1505.2,655.8 1505.6,658.3 1506.0,674.5 1506.3,653.9 1506.9,679.5 1507.4,657.8 1508.0,658.4 1508.4,681.9 1508.7,666.7 1509.1,658.8 1509.7,681.0 1510.1,686.8 1510.6,689.4 1511.0,670.4 1511.3,686.7 1511.8,655.5 1512.4,685.9 1512.8,660.3 1513.3,687.7 1513.7,658.2 1514.2,679.5 1514.7,653.3 1515.1,694.1 1515.5,653.2 1516.0,660.5 1516.3,692.4 1516.7,693.3 1517.0,652.5 1517.4,685.7 1517.9,684.4 1518.3,663.3 1518.6,698.5 1518.9,657.1 1519.3,702.5 1519.8,654.1 1520.2,697.9 1520.7,693.0 1521.2,659.7 1521.6,705.4 1522.2,661.7 1522.6,692.8 1522.8,671.8 1523.2,694.4 1523.7,661.8 1524.3,657.4 1524.8,699.8 1525.1,657.4 1525.4,698.1 1525.7,688.9 1526.1,662.4 1526.4,698.0 1526.8,669.3 1527.1,661.9 1527.6,695.6 1527.9,659.6 1528.3,676.9 1528.9,657.9 1529.4,685.8 1529.7,652.2 1530.1,659.8 1530.6,682.0 1531.1,651.6 1531.4,679.2 1531.6,652.9 1532.0,676.6 1532.4,648.9 1532.8,673.6 1533.3,669.9 1533.7,652.5 1534.0,672.3 1534.4,650.1 1534.9,659.8 1535.2,654.2 1535.5,663.7 1536.1,647.0 1536.6,661.5 1536.9,646.4 1537.2,663.9 1537.7,662.5 1538.2,647.9 1538.6,666.6 1538.9,656.0 1539.3,663.1 1539.7,652.3 1540.0,662.2 1540.3,652.1 1540.6,662.9 1540.9,651.8 1541.3,650.5 1541.7,662.8 1542.0,656.3 1542.3,662.5 1542.8,652.0 1543.1,652.2 1543.5,654.6 1543.9,660.3 1544.2,646.0 1544.7,645.1 1545.1,660.7 1545.5,646.4 1546.0,670.6 1546.5,671.8 1546.8,642.6 1547.2,667.2 1547.5,649.9 1548.0,639.0 1548.4,648.9 1548.8,663.4 1549.3,667.4 1549.7,637.4 1550.1,640.5 1550.3,664.0 1550.6,637.2 1551.1,663.9 1551.4,636.7 1551.6,662.1 1552.0,638.0 1552.6,656.4 1552.8,639.6 1553.3,659.2 1553.8,633.5 1554.2,655.1 1554.6,635.1 1555.0,633.1 1555.6,648.4 1556.1,638.2 1556.3,655.8 1556.6,655.8 1557.1,642.4 1557.6,656.2 1557.8,647.1 1558.1,655.2 1558.7,646.6 1559.1,644.2 1559.5,645.4 1560.1,643.8 1560.5,653.4 1561.1,644.3 1561.6,651.9 1562.1,656.4 1562.6,650.8 1562.9,641.0 1563.5,658.8 1563.9,631.4 1564.2,645.9 1564.6,621.6 1564.9,643.2 1565.4,610.0 1565.9,614.2 1566.4,618.6 1566.8,611.8 1567.3,616.8 1567.6,614.0 1568.1,619.3 1568.4,611.7 1568.8,613.5 1569.1,619.2 1569.6,614.5 1570.1,619.9 1570.5,616.7 1571.0,624.7 1571.4,616.6 1571.8,624.0 1572.3,615.9 1572.7,616.7 1573.0,622.5 1573.4,614.4 1573.6,613.0 1574.0,625.8 1574.6,611.0 1574.9,626.3 1575.2,628.2 1575.5,609.9 1575.9,632.3 1576.4,609.9 1576.7,632.1 1576.9,610.4 1577.4,633.0 1577.9,611.9 1578.2,630.5 1578.5,619.3 1578.9,632.0 1579.5,634.9 1579.8,607.8 1580.3,629.0 1580.8,609.4 1581.3,601.4 1581.7,626.0 1582.2,600.5 1582.7,601.4 1583.2,629.9 1583.8,638.4 1584.0,611.6 1584.4,639.8 1584.9,644.5 1585.4,604.6 1585.8,633.9 1586.0,601.1 1586.5,600.0 1587.1,626.2 1587.6,633.7 1588.1,620.3 1588.4,587.6 1588.9,636.4 1589.5,629.3 1590.0,594.8 1590.4,625.5 1590.7,587.1 1591.1,629.5 1591.4,581.9 1591.9,626.2 1592.2,594.3 1592.6,581.2 1593.2,578.5 1593.6,632.5 1594.1,628.6 1594.6,594.4 1595.1,578.5 1595.4,630.0 1595.9,578.5 1596.3,630.7 1596.6,583.7 1596.8,622.1 1597.3,583.2 1597.7,588.5 1598.2,650.3 1598.7,594.7 1599.0,653.0 1599.5,582.2 1599.9,643.3 1600.2,600.2 1600.3,620.0 1600.7,519.0 1601.1,620.0 1600.3,620.0 1600.7,668.5 1601.1,620.0 1600.8,591.9 1600.6,619.9 1601.0,519.9 1601.4,619.9 1601.1,611.8 1601.3,627.9 1601.7,595.3 1602.0,590.4 1602.5,632.4 1603.0,590.6 1603.3,594.7 1603.6,596.6 1603.9,646.0 1604.3,618.3 1604.7,633.2 1605.1,639.7 1605.6,605.5 1606.1,636.8 1606.6,589.3 1606.9,631.2 1607.5,591.9 1607.9,621.1 1608.4,590.6 1608.6,622.7 1609.0,597.6 1609.5,623.3 1609.8,594.8 1610.1,617.8 1610.5,628.5 1610.8,593.1 1611.1,590.1 1611.5,636.4 1612.1,592.7 1612.5,640.4 1613.1,593.4 1613.5,642.5 1613.8,611.4 1614.2,647.1 1614.7,601.9 1615.2,643.6 1615.6,604.3 1616.0,650.9 1616.5,647.6 1616.9,620.3 1617.2,605.0 1617.7,651.0 1618.0,644.6 1618.6,644.2 1619.1,605.0 1619.5,633.8 1619.9,617.2 1620.4,640.3 1620.9,616.1 1621.3,647.8 1621.6,617.6 1622.1,656.9 1622.6,616.4 1623.1,663.0 1623.6,633.1 1623.9,647.6 1624.4,622.2 1624.7,658.0 1625.0,620.4 1625.4,640.5 1626.0,622.6 1626.5,629.7 1626.8,625.2 1627.3,648.4 1627.7,631.0 1628.3,652.4 1628.6,627.7 1629.0,643.7 1629.5,623.3 1629.9,647.8 1630.3,624.5 1630.7,623.9 1631.3,646.6 1631.8,628.7 1632.2,645.1 1632.8,643.5 1633.3,631.7 1633.6,642.1 1634.1,633.3 1634.4,635.2 1634.8,644.2 1635.1,647.0 1635.4,642.4 1635.9,650.2 1636.4,651.2 1636.8,648.4 1637.4,654.4 1637.7,651.8 1638.2,655.0 1638.7,654.2 1639.1,651.5 1639.4,654.1 1639.8,653.4 1640.1,654.6 1640.4,655.8 1641.0,657.0 1641.2,658.6 1641.7,656.3 1642.2,658.4 1642.5,657.0 1643.0,659.2 1643.3,658.6 1643.6,659.4 1644.1,659.9 1644.6,658.9 1645.0,660.1 1645.4,658.3 1645.7,657.1 1646.2,658.9 1646.5,656.1 1647.0,656.8 1647.4,655.9 1647.7,657.7 1648.2,656.5 1648.7,658.6 1649.1,655.5 1649.4,657.0 1649.8,654.9 1650.2,655.9 1650.6,653.8 1651.1,665.0 1651.5,651.1 1651.9,670.3 1652.3,655.3 1652.7,671.3 1653.0,654.3 1653.3,678.4 1653.5,679.6 1654.0,656.1 1653.7,666.3 1654.1,690.8 1654.5,666.3 1654.5,683.1 1654.8,653.5 1655.1,653.6 1655.6,654.0 1656.1,683.4 1656.4,646.9 1656.9,681.5 1657.4,652.9 1657.8,678.6 1658.1,646.1 1658.6,680.7 1658.9,650.0 1659.1,677.0 1659.5,645.8 1660.0,674.6 1660.4,658.0 1660.8,682.8 1661.2,651.6 1661.7,682.3 1662.0,643.6 1662.5,680.6 1662.8,683.0 1663.3,645.6 1663.8,688.2 1664.3,655.5 1664.6,686.4 1664.9,644.0 1665.4,675.4 1665.7,645.9 1666.2,679.4 1666.4,646.9 1666.9,672.6 1667.3,647.7 1667.8,672.1 1668.1,651.0 1668.6,665.3 1669.1,654.1 1669.4,672.3 1669.8,647.1 1670.3,666.6 1670.6,634.8 1671.1,669.7 1671.6,630.7 1672.1,672.2 1672.6,665.8 1673.0,636.2 1673.3,618.2 1673.7,661.4 1674.0,631.6 1673.8,638.3 1674.2,577.8 1674.6,638.3 1674.4,651.5 1674.1,638.1 1674.5,579.4 1674.9,638.1 1674.7,616.5 1675.2,662.1 1675.6,624.0 1676.0,646.0 1676.4,652.8 1676.9,645.0 1677.4,625.0 1677.7,640.8 1678.1,623.3 1678.3,649.7 1678.9,624.5 1679.3,619.5 1679.6,652.8 1679.9,646.5 1680.2,620.5 1680.7,641.9 1681.3,627.5 1681.7,652.1 1682.0,626.1 1682.3,653.9 1682.8,633.8 1683.1,647.8 1683.6,632.0 1683.9,633.5 1684.3,660.9 1684.9,659.9 1685.4,645.8 1685.9,674.9 1686.2,653.0 1686.7,682.3 1687.1,664.1 1687.5,682.5 1687.9,663.4 1688.4,657.6 1688.7,686.5 1689.0,660.1 1689.3,681.4 1689.6,664.1 1690.1,692.5 1690.5,659.6 1690.8,689.5 1691.1,689.3 1691.6,668.5 1692.0,650.9 1692.4,691.6 1692.9,650.9 1693.4,685.7 1693.8,658.7 1694.3,690.5 1694.6,644.6 1694.9,684.4 1695.2,681.2 1695.6,647.6 1695.9,670.6 1696.4,680.7 1696.9,649.9 1697.3,671.3 1697.8,670.0 1698.3,677.1 1698.6,654.4 1698.9,674.1 1699.3,664.3 1699.8,655.0 1700.2,677.3 1700.7,657.8 1701.2,677.9 1701.7,648.0 1702.1,671.3 1702.4,639.4 1702.8,671.0 1703.3,644.7 1703.6,646.3 1703.9,657.1 1704.2,638.4 1704.7,665.4 1705.1,637.1 1705.4,662.4 1705.9,637.1 1706.2,667.0 1706.8,662.9 1707.3,640.4 1707.8,655.9 1708.3,663.1 1708.8,643.0 1709.3,658.8 1709.5,646.1 1710.1,667.6 1710.4,648.0 1710.8,646.5 1711.2,669.0 1711.5,647.5 1711.9,667.4 1712.2,660.7 1712.7,652.3 1713.1,681.4 1713.3,648.5 1713.6,681.2 1714.0,645.1 1714.4,645.3 1714.9,638.9 1715.3,648.5 1715.6,670.0 1716.1,647.3 1716.5,672.1 1716.8,647.7 1717.0,672.9 1717.6,651.0 1717.8,672.8 1718.3,656.4 1718.6,671.2 1718.9,669.6 1719.4,659.0 1719.7,671.0 1719.9,660.2 1720.2,673.6 1720.7,661.0 1721.2,657.2 1721.6,655.0 1722.1,677.4 1722.5,654.2 1722.8,677.2 1723.1,657.9 1723.4,651.3 1723.6,680.0 1724.1,662.5 1724.6,665.4 1724.9,687.2 1725.4,669.3 1725.8,696.9 1726.0,676.9 1726.4,709.4 1726.7,685.4 1726.2,690.0 1726.6,720.0 1726.9,695.0 1727.1,712.0 1727.0,700.0" fill="none" stroke="#f00" stroke-width="2.1" stroke-linejoin="round" />
</g>
<line x1="1726.08" y1="479.00" x2="1726.08" y2="821.00" stroke="#1f77b4" stroke-width="2.2" stroke-dasharray="2.2 3.6"/>
<rect x="1244" y="817.0" width="1" height="5.0" fill="#000" shape-rendering="crispEdges"/>
<rect x="1319" y="817.0" width="1" height="5.0" fill="#000" shape-rendering="crispEdges"/>
<rect x="1393" y="817.0" width="1" height="5.0" fill="#000" shape-rendering="crispEdges"/>
<rect x="1468" y="817.0" width="1" height="5.0" fill="#000" shape-rendering="crispEdges"/>
<rect x="1542" y="817.0" width="1" height="5.0" fill="#000" shape-rendering="crispEdges"/>
<rect x="1616" y="817.0" width="1" height="5.0" fill="#000" shape-rendering="crispEdges"/>
<rect x="1691" y="817.0" width="1" height="5.0" fill="#000" shape-rendering="crispEdges"/>
<rect x="1765" y="817.0" width="1" height="5.0" fill="#000" shape-rendering="crispEdges"/>
<rect x="1205.0" y="787" width="5.0" height="1" fill="#000" shape-rendering="crispEdges"/>
<rect x="1205.0" y="718" width="5.0" height="1" fill="#000" shape-rendering="crispEdges"/>
<rect x="1205.0" y="650" width="5.0" height="1" fill="#000" shape-rendering="crispEdges"/>
<rect x="1205.0" y="581" width="5.0" height="1" fill="#000" shape-rendering="crispEdges"/>
<rect x="1205.0" y="512" width="5.0" height="1" fill="#000" shape-rendering="crispEdges"/>
<rect x="1794.0" y="822" width="6.0" height="1" fill="#f00" shape-rendering="crispEdges"/>
<rect x="1796.5" y="796" width="3.5" height="1" fill="#f00" shape-rendering="crispEdges"/>
<rect x="1796.5" y="780" width="3.5" height="1" fill="#f00" shape-rendering="crispEdges"/>
<rect x="1796.5" y="770" width="3.5" height="1" fill="#f00" shape-rendering="crispEdges"/>
<rect x="1796.5" y="761" width="3.5" height="1" fill="#f00" shape-rendering="crispEdges"/>
<rect x="1796.5" y="755" width="3.5" height="1" fill="#f00" shape-rendering="crispEdges"/>
<rect x="1796.5" y="749" width="3.5" height="1" fill="#f00" shape-rendering="crispEdges"/>
<rect x="1796.5" y="744" width="3.5" height="1" fill="#f00" shape-rendering="crispEdges"/>
<rect x="1796.5" y="739" width="3.5" height="1" fill="#f00" shape-rendering="crispEdges"/>
<rect x="1794.0" y="736" width="6.0" height="1" fill="#f00" shape-rendering="crispEdges"/>
<rect x="1796.5" y="710" width="3.5" height="1" fill="#f00" shape-rendering="crispEdges"/>
<rect x="1796.5" y="694" width="3.5" height="1" fill="#f00" shape-rendering="crispEdges"/>
<rect x="1796.5" y="684" width="3.5" height="1" fill="#f00" shape-rendering="crispEdges"/>
<rect x="1796.5" y="675" width="3.5" height="1" fill="#f00" shape-rendering="crispEdges"/>
<rect x="1796.5" y="669" width="3.5" height="1" fill="#f00" shape-rendering="crispEdges"/>
<rect x="1796.5" y="663" width="3.5" height="1" fill="#f00" shape-rendering="crispEdges"/>
<rect x="1796.5" y="658" width="3.5" height="1" fill="#f00" shape-rendering="crispEdges"/>
<rect x="1796.5" y="653" width="3.5" height="1" fill="#f00" shape-rendering="crispEdges"/>
<rect x="1794.0" y="650" width="6.0" height="1" fill="#f00" shape-rendering="crispEdges"/>
<rect x="1796.5" y="624" width="3.5" height="1" fill="#f00" shape-rendering="crispEdges"/>
<rect x="1796.5" y="608" width="3.5" height="1" fill="#f00" shape-rendering="crispEdges"/>
<rect x="1796.5" y="598" width="3.5" height="1" fill="#f00" shape-rendering="crispEdges"/>
<rect x="1796.5" y="589" width="3.5" height="1" fill="#f00" shape-rendering="crispEdges"/>
<rect x="1796.5" y="583" width="3.5" height="1" fill="#f00" shape-rendering="crispEdges"/>
<rect x="1796.5" y="577" width="3.5" height="1" fill="#f00" shape-rendering="crispEdges"/>
<rect x="1796.5" y="572" width="3.5" height="1" fill="#f00" shape-rendering="crispEdges"/>
<rect x="1796.5" y="567" width="3.5" height="1" fill="#f00" shape-rendering="crispEdges"/>
<rect x="1794.0" y="564" width="6.0" height="1" fill="#f00" shape-rendering="crispEdges"/>
<rect x="1796.5" y="538" width="3.5" height="1" fill="#f00" shape-rendering="crispEdges"/>
<rect x="1796.5" y="522" width="3.5" height="1" fill="#f00" shape-rendering="crispEdges"/>
<rect x="1796.5" y="512" width="3.5" height="1" fill="#f00" shape-rendering="crispEdges"/>
<rect x="1796.5" y="503" width="3.5" height="1" fill="#f00" shape-rendering="crispEdges"/>
<rect x="1796.5" y="497" width="3.5" height="1" fill="#f00" shape-rendering="crispEdges"/>
<rect x="1796.5" y="491" width="3.5" height="1" fill="#f00" shape-rendering="crispEdges"/>
<rect x="1796.5" y="486" width="3.5" height="1" fill="#f00" shape-rendering="crispEdges"/>
<rect x="1796.5" y="481" width="3.5" height="1" fill="#f00" shape-rendering="crispEdges"/>
<rect x="1794.0" y="478" width="6.0" height="1" fill="#f00" shape-rendering="crispEdges"/>
<path d="M1800,478 H1205 V822 H1800" fill="none" stroke="#000" stroke-width="2" stroke-linecap="square"/>
<line x1="1800.00" y1="477.00" x2="1800.00" y2="823.00" stroke="#f00" stroke-width="2" />
<rect x="1148.12" y="788.26" width="11.71" height="1.57" fill="#000"/>
<text transform="translate(1161.81 794.90) scale(1.0895 1)" x="0.0 10.9 21.8" y="0" font-size="19.64">400</text>
<rect x="1148.12" y="719.46" width="11.71" height="1.57" fill="#000"/>
<text transform="translate(1161.81 726.10) scale(1.0895 1)" x="0.0 10.9 21.8" y="0" font-size="19.64">300</text>
<rect x="1148.12" y="650.66" width="11.71" height="1.57" fill="#000"/>
<text transform="translate(1161.81 657.30) scale(1.0895 1)" x="0.0 10.9 21.8" y="0" font-size="19.64">200</text>
<rect x="1148.12" y="581.86" width="11.71" height="1.57" fill="#000"/>
<text transform="translate(1161.81 588.50) scale(1.0895 1)" x="0.0 10.9 21.8" y="0" font-size="19.64">100</text>
<text transform="translate(1197.50 519.70) scale(1.0895 1)" x="-10.9" y="0" font-size="19.64">0</text>
<g transform="translate(1805.50 829.50)" fill="#f00">
<text transform="translate(0.00 0.00) scale(1.0895 1)" x="0.0 10.9" y="0" font-size="19.64">10</text>
<text transform="translate(23.80 -6.79) scale(1.2314 1)" x="0.0 8.9" y="0" font-size="13.74">−2</text>
</g>
<g transform="translate(1805.50 743.50)" fill="#f00">
<text transform="translate(0.00 0.00) scale(1.0895 1)" x="0.0 10.9" y="0" font-size="19.64">10</text>
<text transform="translate(23.80 -6.79) scale(1.2314 1)" x="0.0 8.9" y="0" font-size="13.74">−1</text>
</g>
<g transform="translate(1805.50 657.50)" fill="#f00">
<text transform="translate(0.00 0.00) scale(1.0895 1)" x="0.0 10.9" y="0" font-size="19.64">10</text>
<text transform="translate(23.80 -6.79) scale(1.0895 1)" x="0.0" y="0" font-size="13.74">0</text>
</g>
<g transform="translate(1805.50 571.50)" fill="#f00">
<text transform="translate(0.00 0.00) scale(1.0895 1)" x="0.0 10.9" y="0" font-size="19.64">10</text>
<text transform="translate(23.80 -6.79) scale(1.0895 1)" x="0.0" y="0" font-size="13.74">1</text>
</g>
<g transform="translate(1805.50 485.50)" fill="#f00">
<text transform="translate(0.00 0.00) scale(1.0895 1)" x="0.0 10.9" y="0" font-size="19.64">10</text>
<text transform="translate(23.80 -6.79) scale(1.0895 1)" x="0.0" y="0" font-size="13.74">2</text>
</g>
<text transform="translate(1105.00 650.00) rotate(-90) scale(1.1007 1)" x="-18.6 -1.6 10.1" y="0" font-size="24.78">Dst</text>
<text transform="translate(1133.00 650.00) rotate(-90) scale(1.1010 1)" x="-29.4 -20.8 -13.7 0.3 14.5 21.0" y="0" font-size="24.78">( nT )</text>
<text transform="translate(1876.00 650.00) rotate(-90) scale(1.0345 1)" x="-73.0 -57.4 -34.8 -27.4 -11.8 -3.9 10.0 22.2 34.5 49.4 59.0" y="0" font-size="24.78" fill="#f00">SW Pressure</text>
<text transform="translate(1906.50 650.00) rotate(-90) scale(1.0528 1)" x="-37.2 -28.2 -20.8 -6.2 9.3 22.3 28.8" y="0" font-size="24.78" fill="#f00">( nPa )</text>
<clipPath id="c6"><rect x="1205" y="845" width="595" height="172"/></clipPath>
<line x1="1205.00" y1="931.00" x2="1800.00" y2="931.00" stroke="#000" stroke-width="2" stroke-dasharray="2 3.3"/>
<g clip-path="url(#c6)">
<path d="M1205.5,995.5 1205.9,1004.2 1206.3,992.9 1206.6,1005.9 1207.1,991.4 1207.4,1005.2 1207.9,993.4 1208.3,995.7 1208.6,999.7 1209.0,1004.2 1209.5,993.6 1209.7,1005.2 1210.1,1010.0 1210.6,1005.1 1210.8,993.4 1211.1,993.9 1211.5,1009.7 1211.9,995.1 1212.3,994.2 1212.6,998.3 1212.9,1009.4 1213.2,1004.6 1213.5,999.5 1213.8,1008.2 1214.3,992.1 1214.8,1005.7 1215.1,998.0 1215.5,1003.7 1215.8,997.2 1216.2,1009.9 1216.5,994.3 1216.9,1002.9 1217.4,1008.9 1217.7,1002.9 1218.1,995.5 1218.4,1004.5 1218.9,1001.5 1219.2,997.1 1219.7,1010.3 1220.0,995.2 1220.4,1002.1 1220.7,993.6 1221.2,1001.5 1221.6,1000.1 1221.8,1005.1 1222.3,991.1 1222.5,993.3 1222.9,1003.7 1223.2,1008.7 1223.5,994.9 1224.0,1006.4 1224.4,999.2 1224.9,1010.9 1225.3,993.8 1225.8,1005.1 1226.1,994.1 1226.3,993.8 1226.7,1010.3 1227.1,996.9 1227.4,1007.8 1227.9,994.0 1228.3,999.0 1228.8,1010.2 1229.2,989.3 1229.5,993.5 1229.8,989.5 1230.0,1005.8 1230.5,995.3 1230.9,1003.9 1231.2,1003.5 1231.6,1004.7 1232.0,997.4 1232.5,1005.7 1232.9,990.9 1233.2,1010.4 1233.5,988.6 1233.9,1010.5 1234.2,1008.8 1234.6,1005.0 1234.8,987.5 1235.2,988.1 1235.4,1007.6 1235.7,993.2 1236.2,1008.3 1236.6,988.6 1236.8,1009.1 1237.2,1002.5 1237.6,997.1 1237.9,995.0 1238.1,1005.8 1238.4,1002.3 1238.7,999.5 1238.9,990.0 1239.4,1005.1 1239.8,1006.4 1240.2,1004.2 1240.5,990.5 1240.8,1008.9 1241.1,994.6 1241.4,1006.3 1241.7,991.4 1242.2,1006.4 1242.5,1002.2 1242.9,1010.8 1243.2,993.5 1243.6,1007.7 1244.1,992.3 1244.6,1010.7 1244.9,992.9 1245.2,997.9 1245.6,1001.5 1246.1,998.2 1246.6,1007.7 1246.9,992.0 1247.3,1005.8 1247.8,990.1 1248.1,1008.8 1248.4,995.7 1248.9,1010.4 1249.1,997.5 1249.5,1002.6 1249.8,997.2 1250.2,998.5 1250.5,992.2 1251.0,1008.6 1251.2,1009.7 1251.7,1007.9 1251.9,988.2 1252.3,990.5 1252.6,1004.2 1253.0,991.8 1253.3,1001.4 1253.6,1004.5 1254.0,994.9 1254.4,999.7 1254.8,1005.2 1255.3,995.9 1255.5,1005.8 1256.0,991.7 1256.4,1009.7 1256.9,996.0 1257.3,1005.2 1257.8,993.4 1258.3,1006.9 1258.6,1005.2 1259.1,1008.9 1259.4,998.4 1259.8,1008.6 1260.2,990.4 1260.4,1004.0 1260.7,992.4 1261.2,1002.9 1261.7,989.0 1262.0,1003.9 1262.3,1004.5 1262.7,992.2 1263.1,1002.9 1263.4,990.5 1263.9,1006.5 1263.6,999.0 1264.0,986.0 1264.4,999.0 1264.3,991.0 1264.6,990.1 1265.0,1008.4 1265.3,998.2 1265.6,1000.6 1266.0,1004.5 1266.3,991.2 1266.5,990.4 1266.9,995.4 1267.4,1002.9 1267.8,1004.4 1268.2,995.8 1268.7,990.2 1269.1,1001.9 1269.3,990.8 1269.6,1009.1 1269.8,1010.4 1270.0,1003.6 1270.4,993.5 1270.6,990.9 1271.0,1007.9 1271.4,1005.4 1271.7,1005.2 1272.1,989.4 1272.5,989.3 1272.8,1011.0 1273.3,990.9 1273.7,1008.8 1274.2,1011.2 1274.6,996.2 1274.9,1007.1 1275.3,993.6 1275.7,1008.7 1276.2,994.4 1276.5,1005.5 1276.8,988.2 1277.1,1007.6 1277.6,1008.5 1278.1,993.9 1278.6,993.1 1278.8,1011.2 1279.2,995.3 1279.5,1009.8 1280.0,997.2 1280.4,1001.2 1280.6,1011.7 1280.9,991.6 1281.3,1011.7 1281.5,1011.7 1281.8,1007.1 1282.2,1004.2 1282.6,1011.6 1282.9,1007.5 1283.3,992.6 1283.6,1009.4 1283.9,1010.5 1284.4,996.5 1284.8,1005.0 1285.1,994.1 1285.4,1011.6 1285.9,1004.1 1286.1,996.1 1286.5,1006.3 1286.8,990.0 1287.2,1010.4 1287.6,998.9 1288.0,1002.3 1288.5,990.6 1288.9,1010.0 1289.3,1001.6 1289.8,996.2 1290.1,1007.5 1290.5,996.1 1290.9,1000.6 1291.2,1010.3 1291.7,996.9 1292.1,1010.8 1292.5,996.5 1292.8,991.7 1293.0,1002.9 1293.4,997.3 1293.8,1005.7 1294.0,994.3 1294.4,1004.1 1294.8,1000.7 1295.1,994.7 1295.3,998.1 1295.7,1002.4 1296.0,1000.3 1296.3,999.1 1296.7,1002.5 1297.0,988.6 1297.4,996.0 1297.9,1009.4 1298.3,990.3 1298.7,1005.2 1299.0,990.1 1299.3,1009.6 1299.6,1010.1 1299.9,997.1 1300.3,987.7 1300.7,996.1 1301.0,1006.2 1301.5,989.5 1302.0,1007.7 1302.4,997.6 1302.6,1003.5 1303.1,993.9 1303.3,989.8 1303.7,1005.6 1304.2,998.6 1304.4,1003.0 1304.8,992.8 1305.2,1007.4 1305.6,1000.4 1305.9,1009.8 1306.3,993.6 1306.6,1005.9 1306.9,990.8 1307.1,1011.1 1307.4,1000.5 1307.7,1011.2 1308.1,993.5 1308.4,992.1 1308.7,1007.5 1309.1,994.0 1309.6,1006.8 1309.8,991.2 1310.2,1004.0 1310.5,994.5 1310.9,992.6 1311.1,1004.6 1311.6,989.3 1312.0,1006.9 1312.5,994.8 1312.8,1007.8 1313.0,996.7 1313.4,1005.4 1313.7,989.2 1314.1,1010.0 1314.5,994.1 1314.8,993.3 1315.0,1010.2 1315.5,999.9 1316.0,1001.5 1316.2,991.5 1316.5,1011.1 1316.8,1002.7 1317.1,994.3 1317.6,993.3 1318.0,1009.6 1318.3,995.6 1318.6,995.1 1319.0,1012.0 1319.4,992.0 1319.7,1009.1 1320.0,998.0 1320.4,994.0 1320.1,1000.3 1320.5,985.0 1320.9,1000.3 1320.7,1008.0 1321.0,1012.1 1321.2,1012.1 1321.6,996.0 1322.0,1012.1 1322.5,996.4 1323.0,992.4 1323.2,1007.8 1323.7,1012.1 1324.0,991.3 1324.3,1011.1 1324.6,999.5 1325.0,1005.0 1325.3,992.8 1325.8,993.4 1326.2,1008.3 1326.7,1000.3 1327.1,1006.3 1327.3,992.6 1327.8,992.7 1328.2,1011.7 1328.7,1000.1 1329.1,1011.6 1329.4,992.1 1329.6,1009.1 1330.1,1009.9 1330.3,994.7 1330.6,995.2 1331.0,1004.5 1331.4,997.4 1331.8,992.1 1332.1,1011.2 1332.4,992.1 1332.7,1010.6 1333.1,993.0 1333.6,1005.7 1334.0,992.3 1334.4,1000.6 1334.9,1004.1 1335.2,1000.2 1335.5,1004.5 1335.8,1008.3 1336.0,993.7 1336.4,1006.0 1336.8,995.8 1337.1,1010.8 1337.5,997.2 1338.0,1008.4 1338.3,995.6 1338.7,1007.7 1339.0,994.9 1339.2,1009.2 1339.7,993.7 1340.1,1011.4 1340.3,1003.9 1340.6,991.0 1340.9,1010.9 1341.2,993.3 1341.4,996.0 1341.7,1010.6 1342.0,1011.6 1342.4,998.2 1342.7,1011.6 1343.0,1011.0 1343.5,1000.8 1343.7,1011.7 1344.1,1000.8 1344.4,1007.2 1344.7,1007.0 1345.0,1008.4 1345.4,995.1 1345.7,1010.4 1346.0,998.0 1346.4,989.3 1346.7,1009.8 1346.9,989.3 1347.3,997.0 1347.7,1008.8 1348.1,995.9 1348.6,1011.6 1349.0,992.2 1349.3,1011.7 1349.6,997.4 1350.1,1008.9 1350.3,997.0 1350.6,1008.6 1350.9,990.7 1351.3,1008.0 1351.7,992.2 1352.1,996.3 1352.4,1010.5 1352.9,1010.8 1353.3,1010.4 1353.7,1005.7 1354.1,991.1 1354.4,990.3 1354.7,995.4 1355.0,1008.4 1355.3,1005.2 1355.8,994.5 1356.1,1008.9 1356.4,1009.1 1356.8,993.5 1357.2,1009.7 1357.7,993.3 1358.0,1009.1 1358.3,994.8 1358.7,1007.3 1358.9,993.3 1359.4,1004.0 1359.6,1008.0 1360.1,994.3 1360.4,1008.2 1360.7,1004.6 1361.0,1002.3 1361.5,996.8 1361.7,997.1 1362.1,1007.3 1362.3,997.0 1362.6,1009.8 1362.9,999.9 1363.3,998.1 1363.7,995.2 1363.9,1002.8 1364.2,1000.1 1364.7,1009.5 1365.0,994.8 1365.2,1009.9 1365.6,1009.0 1366.0,997.1 1366.5,1008.3 1366.9,995.4 1367.4,1010.5 1367.1,1001.4 1367.5,1016.0 1367.9,1001.4 1367.6,993.7 1368.0,1006.9 1368.2,1001.0 1368.5,1007.9 1368.9,994.3 1369.1,1006.4 1369.4,996.7 1369.7,994.0 1370.1,1007.9 1370.4,998.7 1370.7,1004.8 1371.2,992.1 1371.5,996.1 1371.9,1005.2 1372.4,999.0 1372.9,1007.7 1373.3,999.2 1373.6,1009.5 1374.0,995.1 1374.4,1007.6 1374.9,991.4 1375.2,1008.9 1375.6,1008.1 1376.0,994.4 1376.4,996.1 1376.7,1007.4 1377.2,1011.4 1377.6,1005.7 1377.3,1000.7 1377.7,981.6 1378.1,1000.7 1378.0,996.2 1378.4,1010.5 1378.6,1008.0 1379.1,997.4 1379.4,989.5 1379.8,1005.7 1380.0,995.0 1380.5,1007.0 1380.8,992.3 1381.1,998.9 1381.5,1009.6 1381.9,997.6 1382.3,991.9 1382.7,993.4 1383.0,995.2 1383.5,1009.4 1383.9,988.8 1384.3,1009.8 1384.6,990.2 1384.8,1009.8 1385.0,990.9 1385.2,1006.7 1385.6,1004.0 1385.9,1003.4 1386.1,990.9 1386.6,1006.7 1387.0,1010.1 1387.4,999.5 1387.6,1005.9 1388.1,993.8 1388.5,996.2 1388.8,1002.3 1389.1,1006.5 1389.4,1008.4 1389.8,1007.4 1390.2,995.4 1390.6,1006.4 1391.1,993.8 1391.1,1001.2 1391.5,983.6 1391.9,1001.2 1391.5,1007.7 1392.0,1011.4 1392.4,991.7 1392.7,1005.9 1393.0,993.4 1392.6,1001.6 1393.0,1014.5 1393.4,1001.6 1393.3,1010.1 1393.7,992.5 1393.9,1004.2 1394.3,993.2 1394.8,1007.0 1395.2,994.0 1395.6,997.5 1396.0,1004.1 1396.5,997.8 1396.8,1011.1 1397.2,991.5 1397.5,993.4 1397.9,1010.8 1398.3,992.0 1398.6,993.1 1399.1,1004.6 1399.5,1009.9 1399.8,1010.5 1400.2,990.9 1400.7,1005.4 1400.9,1006.8 1401.2,992.5 1401.5,1009.2 1401.9,1002.0 1402.2,1005.0 1402.6,998.3 1402.8,1009.0 1403.0,992.8 1403.2,1001.7 1403.6,993.8 1403.9,1007.2 1404.2,995.9 1404.7,1009.0 1405.2,990.3 1405.5,1006.5 1405.9,994.9 1406.3,1005.8 1406.6,991.7 1407.0,1010.0 1407.4,998.4 1407.7,990.6 1408.1,1005.5 1408.4,1008.6 1408.8,993.8 1409.2,995.1 1409.5,1009.4 1409.8,1004.2 1410.1,998.9 1410.4,1005.0 1410.9,991.1 1411.2,1007.5 1411.1,1001.3 1411.5,1016.0 1411.9,1001.3 1411.7,1007.7 1412.1,1005.9 1412.3,994.7 1412.7,998.3 1413.2,993.6 1413.7,1002.4 1413.9,997.1 1414.3,1010.7 1414.7,995.2 1415.0,991.0 1415.4,1007.1 1415.9,990.9 1416.3,987.6 1416.7,1005.2 1417.2,1009.8 1417.5,987.7 1417.8,1009.2 1418.2,987.8 1418.5,1009.3 1418.9,987.9 1419.2,1009.9 1419.6,1004.0 1420.0,996.2 1420.4,993.9 1420.8,997.5 1421.3,1008.2 1421.6,1009.3 1421.9,990.8 1421.6,998.7 1422.0,983.2 1422.4,998.7 1422.2,1008.0 1422.5,999.4 1422.7,993.7 1423.0,994.9 1423.5,990.3 1423.9,1010.3 1424.2,993.7 1424.5,1007.7 1424.8,988.9 1425.2,1008.6 1425.5,987.5 1425.8,1008.6 1426.1,1010.4 1426.4,988.6 1426.8,1010.1 1427.1,1008.6 1427.5,992.1 1427.9,1003.5 1428.1,989.4 1428.4,1009.7 1428.9,993.9 1429.2,1008.7 1429.6,1004.3 1430.1,992.5 1430.5,1008.4 1430.8,994.5 1431.3,1005.9 1431.7,1004.8 1432.0,996.9 1432.2,1010.1 1432.6,999.7 1433.0,1008.2 1433.4,995.3 1433.8,992.9 1434.1,1007.3 1434.5,992.7 1434.9,1005.9 1435.2,996.9 1435.4,1002.6 1435.7,1007.1 1435.6,1000.8 1436.0,985.7 1436.4,1000.8 1436.1,999.5 1436.5,994.0 1436.8,1005.9 1437.3,995.9 1437.7,1004.3 1438.1,1001.4 1438.3,992.1 1438.5,1008.9 1438.9,998.9 1439.3,1005.9 1439.7,996.7 1440.0,1009.1 1440.3,995.0 1440.8,1000.9 1441.3,993.0 1441.6,1008.6 1442.0,1004.4 1442.2,997.6 1442.5,1008.6 1442.8,994.4 1443.3,998.6 1443.7,1003.3 1444.1,997.6 1444.3,1007.0 1444.8,989.3 1445.2,1006.5 1445.5,991.5 1445.8,1011.2 1446.2,994.8 1446.4,988.5 1446.9,1007.2 1447.3,1006.7 1447.7,991.5 1448.0,1011.5 1448.4,988.8 1448.8,989.2 1449.1,1011.5 1449.3,1011.7 1449.7,994.6 1450.1,1009.6 1450.4,990.2 1450.6,1006.2 1451.1,993.2 1451.5,1010.8 1451.8,991.4 1452.0,1010.0 1452.4,1011.0 1452.8,999.1 1453.2,1002.4 1453.6,991.6 1453.9,1005.1 1454.4,996.3 1454.9,1010.6 1455.3,1009.8 1455.6,1007.3 1455.9,1010.6 1456.1,991.6 1456.6,995.1 1457.1,1010.7 1457.4,1003.9 1457.7,1008.1 1458.1,997.4 1458.4,1005.4 1458.9,1004.1 1459.2,995.8 1459.6,1004.2 1460.0,992.9 1460.5,994.9 1460.7,998.4 1461.0,990.5 1461.2,1009.6 1461.7,1007.5 1462.1,993.5 1462.4,991.5 1462.7,1010.4 1463.0,990.7 1463.2,991.2 1463.4,1007.6 1463.7,994.1 1464.1,990.8 1464.3,990.9 1464.6,1009.0 1464.9,992.6 1465.3,1005.0 1465.7,991.4 1466.1,1010.4 1466.4,1006.9 1466.8,1010.4 1467.1,991.9 1467.5,1006.9 1467.8,993.0 1468.2,1001.6 1468.6,989.9 1468.9,1007.9 1469.3,1005.9 1469.7,993.4 1470.0,1004.9 1470.3,990.2 1470.1,1000.4 1470.5,985.5 1470.9,1000.4 1470.7,1009.6 1471.2,1005.9 1471.5,989.7 1471.9,1005.7 1472.3,991.9 1472.7,1007.9 1473.1,1003.3 1473.5,999.3 1473.8,1007.7 1474.1,991.9 1474.5,1003.2 1474.8,993.8 1475.1,1003.7 1475.6,989.6 1475.8,997.0 1476.3,995.2 1476.6,1006.9 1477.0,990.1 1477.4,1010.7 1477.6,1007.0 1478.1,991.4 1478.3,1006.9 1478.8,995.2 1479.0,1009.7 1479.3,993.4 1479.6,1003.8 1479.9,990.9 1480.4,1008.9 1480.9,993.3 1481.2,1008.2 1481.5,994.0 1481.8,1008.4 1482.0,996.6 1482.4,1004.1 1482.6,998.9 1482.9,995.0 1483.3,1010.1 1483.6,1010.1 1483.9,989.7 1484.1,1002.6 1484.6,990.2 1485.1,990.1 1485.5,1004.1 1485.8,998.3 1486.1,1004.2 1486.5,994.0 1487.0,1003.5 1487.4,1005.0 1487.8,994.6 1488.2,1001.7 1488.6,992.0 1488.9,992.8 1489.3,1009.8 1489.6,994.4 1489.9,1009.1 1490.4,1007.1 1490.8,988.2 1491.0,1009.5 1491.3,1006.1 1491.6,988.0 1491.9,1009.7 1492.1,989.8 1492.5,993.4 1492.9,990.0 1493.3,996.7 1493.7,1005.9 1494.0,991.9 1494.4,1001.8 1494.6,989.3 1495.1,1004.7 1495.4,989.1 1495.8,996.6 1496.2,1008.7 1496.5,991.0 1496.8,1010.0 1497.1,989.8 1497.4,991.8 1497.7,1008.0 1497.9,990.0 1498.2,988.6 1498.7,993.7 1499.1,1008.6 1499.4,988.7 1499.8,1000.6 1500.1,991.0 1500.4,993.5 1500.8,989.1 1501.1,988.0 1501.5,1005.9 1501.8,1003.9 1502.1,989.5 1502.6,1009.1 1502.9,990.1 1503.3,1010.8 1503.6,995.0 1503.9,991.6 1504.2,1004.0 1504.6,992.6 1505.0,1010.5 1505.5,989.8 1505.7,1009.4 1506.0,993.2 1506.2,1006.7 1506.6,995.7 1506.9,990.9 1507.2,1011.6 1507.7,991.6 1508.1,1001.9 1508.4,998.1 1508.8,1009.1 1509.2,1009.4 1509.5,1011.3 1509.8,995.9 1510.3,1003.3 1510.5,992.7 1510.9,996.9 1511.3,1008.7 1511.7,991.9 1512.1,1008.3 1512.6,1006.9 1513.0,994.7 1513.4,997.1 1513.7,1007.7 1514.2,1007.6 1514.5,1008.6 1514.8,1005.2 1515.3,993.0 1515.7,992.5 1516.0,1004.6 1516.4,995.5 1516.7,1010.8 1517.2,991.2 1517.4,1003.2 1517.7,997.3 1517.9,1006.9 1518.3,1000.0 1518.6,1004.2 1519.0,1005.2 1519.4,991.8 1519.7,1005.0 1520.2,991.4 1520.6,997.0 1520.9,1010.3 1521.1,1009.3 1521.4,1008.0 1521.9,991.5 1522.1,991.9 1522.6,1004.2 1522.8,991.8 1523.3,1007.4 1523.6,992.6 1524.1,1003.2 1524.3,995.1 1524.6,994.0 1525.1,996.0 1525.6,1004.3 1525.9,990.5 1526.3,1005.3 1526.6,989.1 1526.9,1011.0 1527.3,990.5 1527.6,1004.8 1527.9,989.3 1528.2,1005.2 1528.8,996.0 1529.0,1008.7 1529.3,996.3 1529.7,993.2 1530.1,1003.5 1530.5,994.2 1531.0,1005.8 1531.4,995.1 1531.8,1004.7 1532.1,997.6 1532.6,994.1 1533.0,1009.6 1533.4,997.4 1533.7,991.7 1534.0,1003.9 1534.2,998.8 1534.6,1007.7 1535.0,1009.1 1535.2,1005.5 1535.6,993.2 1536.0,1011.6 1536.4,997.0 1536.9,1006.3 1537.3,992.6 1537.6,1005.7 1538.0,1007.8 1538.4,992.1 1538.6,1003.4 1538.9,997.6 1539.2,1009.6 1539.5,1006.7 1539.7,989.9 1540.0,1004.8 1540.4,997.3 1540.7,1011.6 1540.9,1001.8 1541.4,993.5 1541.6,1007.6 1541.9,995.8 1542.2,1011.4 1542.6,997.3 1542.9,990.0 1543.2,1007.5 1543.5,989.9 1543.9,997.1 1544.2,1008.4 1544.6,998.1 1544.9,994.5 1545.4,991.6 1545.8,1003.7 1546.1,1006.6 1546.4,990.8 1546.8,1006.5 1547.3,991.1 1547.6,1010.5 1547.9,992.1 1548.1,995.1 1548.6,1006.4 1548.9,1006.0 1549.2,992.4 1549.5,1002.5 1549.8,991.7 1550.1,997.3 1550.6,1006.4 1550.9,995.4 1551.2,1010.7 1551.5,994.0 1551.8,1006.9 1552.3,998.2 1552.6,1007.3 1552.9,992.4 1553.3,991.5 1553.8,996.5 1554.2,1009.7 1554.7,996.8 1555.0,1007.5 1555.5,996.3 1555.8,998.3 1556.1,996.0 1556.3,1007.6 1556.7,996.9 1557.1,1002.1 1557.4,994.6 1557.8,1011.2 1558.0,1008.7 1558.5,993.6 1558.8,1005.5 1559.0,995.0 1559.3,991.3 1559.7,1008.5 1560.1,997.5 1560.4,1011.6 1560.8,997.3 1561.3,1005.1 1561.7,1001.0 1561.9,997.0 1562.4,1003.8 1562.9,994.0 1563.2,995.5 1563.6,1011.0 1564.1,995.0 1564.6,1002.2 1565.0,1008.3 1565.3,1007.1 1565.6,1004.6 1565.8,1007.2 1566.3,998.1 1566.7,1002.8 1567.0,994.6 1567.3,1007.4 1567.7,998.6 1568.1,1005.6 1568.5,999.9 1569.0,1009.3 1569.3,998.6 1569.8,1008.7 1570.2,1007.3 1570.7,997.1 1571.1,1004.7 1571.4,997.8 1571.8,1006.6 1572.2,997.1 1572.5,992.4 1573.0,1009.9 1573.3,996.2 1573.8,1007.7 1574.0,996.6 1574.5,991.8 1575.0,998.6 1575.4,994.9 1575.7,1010.7 1575.9,996.3 1576.4,1007.0 1576.7,997.1 1577.1,999.2 1577.5,1008.4 1577.9,999.9 1578.2,1010.5 1578.6,991.5 1579.0,1011.0 1579.5,1010.9 1579.9,994.9 1580.2,1002.3 1580.6,991.2 1581.1,1009.9 1581.4,997.3 1581.7,990.5 1582.0,991.0 1582.4,1008.8 1582.8,992.6 1583.0,1011.4 1583.5,994.8 1583.8,1006.9 1584.2,997.1 1584.5,1009.5 1584.9,992.9 1585.4,995.0 1585.8,1005.9 1586.2,1006.1 1586.6,995.9 1587.0,1005.9 1587.2,999.4 1587.5,1007.2 1588.0,1011.7 1588.4,998.7 1588.8,1007.0 1589.3,992.1 1589.5,1011.5 1589.7,1010.5 1590.1,997.3 1590.4,1004.9 1590.7,1002.0 1591.2,991.5 1591.4,1009.7 1591.9,999.8 1592.4,1006.4 1592.9,995.9 1593.2,994.1 1593.6,1002.5 1594.1,999.3 1594.5,1005.1 1594.8,992.2 1595.1,1010.2 1595.6,994.5 1596.0,1009.0 1596.5,993.3 1596.7,1010.6 1597.2,1005.7 1597.6,990.1 1598.0,1010.4 1598.4,989.9 1598.8,1000.6 1599.2,993.2 1599.7,1003.1 1600.0,996.8 1600.3,1003.4 1600.5,1008.3 1600.9,995.9 1601.3,998.5 1601.6,1002.7 1601.9,996.6 1602.4,1009.5 1602.8,997.8 1603.2,1000.5 1603.5,990.0 1603.9,1006.9 1604.2,995.8 1604.6,1008.7 1605.1,1009.9 1605.5,994.4 1605.8,1005.8 1606.2,991.2 1606.7,1003.7 1607.0,992.2 1607.4,1001.4 1607.8,992.0 1608.1,1001.2 1608.4,995.3 1608.7,1007.5 1609.0,991.1 1609.3,1004.3 1609.6,1005.6 1610.1,988.0 1610.6,1010.3 1610.9,991.8 1611.1,1009.3 1611.4,1006.9 1611.8,992.4 1612.2,1010.5 1612.4,1009.9 1612.8,995.9 1613.3,987.7 1613.6,987.7 1613.9,1001.2 1614.4,994.4 1614.8,1007.7 1615.1,1009.7 1615.5,988.6 1615.9,1008.5 1616.3,997.6 1616.7,996.8 1617.2,1004.2 1617.6,989.3 1618.1,988.8 1618.4,1006.2 1618.7,987.4 1619.1,1000.8 1619.4,996.8 1619.7,1005.5 1620.0,1006.3 1620.3,995.9 1620.7,996.7 1621.0,1004.3 1621.5,1010.2 1621.8,991.3 1622.3,1005.9 1622.7,1005.7 1623.1,1010.2 1623.6,999.5 1624.0,1004.0 1624.3,994.4 1624.8,1007.1 1625.2,989.2 1625.6,1007.7 1625.8,997.6 1626.2,1009.5 1626.6,990.5 1626.9,1006.8 1627.3,990.2 1627.7,1011.5 1628.1,999.1 1628.5,1003.7 1628.9,991.9 1629.2,1004.9 1629.5,990.2 1629.8,997.2 1630.2,1003.9 1630.6,999.9 1631.1,1005.8 1631.5,989.8 1631.7,1006.0 1632.2,993.3 1632.4,995.4 1632.8,1011.4 1633.2,988.5 1633.7,994.2 1633.9,1011.1 1634.2,990.3 1634.6,1009.8 1634.9,991.1 1635.4,987.7 1635.9,998.0 1636.1,1010.2 1636.5,998.4 1636.9,989.5 1637.3,1006.3 1637.8,991.2 1638.0,1011.5 1638.4,993.2 1638.7,989.7 1639.0,1003.5 1639.4,996.1 1639.8,1003.4 1640.0,999.7 1640.5,1005.1 1640.8,1009.1 1641.2,989.3 1641.5,1009.3 1641.8,996.6 1642.2,1008.4 1642.7,997.2 1643.2,990.1 1643.4,1006.9 1643.8,992.7 1644.2,1004.1 1644.7,1000.6 1644.9,1006.3 1645.2,1004.3 1645.4,999.4 1645.7,1007.0 1646.1,1001.2 1646.4,1008.6 1646.6,997.2 1646.9,1008.3 1647.3,997.5 1647.7,1004.0 1648.0,992.1 1648.3,993.1 1648.7,997.0 1649.1,1008.4 1649.4,995.4 1649.8,993.8 1650.1,989.3 1650.4,1002.7 1650.6,997.6 1651.1,1009.1 1651.5,989.2 1651.7,1007.2 1652.1,996.9 1652.5,1009.0 1652.8,993.8 1653.1,1010.2 1653.5,1011.7 1653.9,990.8 1654.4,1011.4 1654.8,989.9 1655.1,995.2 1655.3,996.6 1655.5,999.8 1655.9,991.2 1656.3,1011.1 1656.8,996.7 1657.2,995.7 1657.5,1008.2 1657.9,995.4 1658.1,1004.7 1658.5,991.8 1658.8,1009.7 1659.2,989.9 1659.5,1006.2 1659.8,989.5 1660.2,1005.4 1660.6,994.9 1661.0,1000.8 1661.4,1010.8 1661.8,1005.6 1662.3,995.2 1662.8,1006.2 1663.3,991.4 1663.7,1011.0 1664.0,1010.5 1664.4,990.2 1664.9,1005.5 1665.2,994.9 1665.5,1004.8 1665.8,1007.3 1666.2,992.1 1666.7,1003.4 1667.1,987.7 1667.3,1002.1 1667.7,992.5 1668.2,1004.1 1668.5,995.5 1668.9,992.5 1669.3,1011.3 1669.7,992.9 1670.0,1011.3 1670.2,999.2 1670.7,991.3 1671.2,1002.4 1671.6,997.9 1672.1,1008.9 1672.5,989.5 1672.9,1003.5 1673.1,995.9 1673.5,994.7 1673.9,1006.9 1674.1,989.1 1674.4,1004.9 1674.6,990.4 1674.9,1009.2 1675.3,997.9 1675.7,1007.2 1676.2,994.4 1676.6,1004.6 1676.8,994.8 1677.2,989.0 1677.7,1003.9 1678.0,988.3 1678.5,1002.1 1679.0,994.0 1679.3,990.3 1679.6,1007.9 1679.9,987.9 1680.2,1009.2 1680.6,992.9 1681.1,1011.5 1681.4,992.0 1681.9,1011.5 1682.3,994.1 1682.7,1010.5 1683.1,991.4 1683.6,990.8 1684.0,1010.0 1684.3,988.0 1684.5,994.6 1684.8,1002.0 1685.0,988.5 1685.2,1005.9 1685.7,993.4 1685.9,1004.2 1686.3,988.6 1686.8,995.8 1687.2,1012.0 1687.7,995.0 1688.1,1007.6 1688.4,997.9 1688.8,1004.8 1689.3,1007.5 1689.8,1002.6 1690.1,988.9 1690.5,1008.5 1690.7,993.6 1691.1,990.6 1691.4,1003.7 1691.7,994.0 1692.2,1010.0 1692.5,991.8 1693.0,1008.9 1693.4,998.7 1693.6,1002.3 1693.9,1003.7 1694.2,995.3 1694.6,1008.0 1695.1,989.9 1695.5,1002.0 1695.9,1003.4 1696.1,994.3 1696.5,992.4 1697.0,1003.7 1697.3,987.6 1697.8,1002.3 1698.0,1008.1 1698.3,992.6 1698.6,993.7 1699.1,1009.5 1699.3,994.5 1699.7,1005.5 1700.0,988.7 1700.5,1009.5 1700.8,994.1 1701.3,1005.3 1701.7,989.8 1702.0,1007.9 1702.5,994.7 1702.7,997.1 1703.0,1004.9 1703.4,997.0 1703.7,1007.3 1704.0,993.9 1704.4,995.3 1704.8,994.3 1705.2,1006.7 1705.5,991.4 1705.7,1004.7 1706.0,998.4 1706.4,1010.2 1706.7,1005.9 1707.2,992.6 1707.7,1001.8 1707.9,1009.0 1708.4,995.4 1708.8,1004.8 1709.3,991.9 1709.7,1003.4 1710.1,993.2 1710.5,1005.6 1710.9,991.8 1711.2,1011.1 1711.6,999.1 1711.9,1011.3 1712.1,995.0 1712.5,1010.6 1712.8,994.5 1713.3,991.6 1713.7,995.1 1713.9,1011.1 1714.3,992.4 1714.5,1010.4 1714.8,995.0 1715.2,1000.7 1715.5,991.3 1715.8,1009.0 1716.2,991.9 1716.7,1007.5 1717.1,1011.4 1717.4,1011.7 1717.9,995.9 1718.1,1011.7 1718.5,996.6 1719.0,1011.7 1719.4,990.9 1719.8,1004.3 1720.2,993.6 1720.6,1010.2 1721.0,995.1 1721.3,1009.3 1721.7,1005.6 1722.1,1000.5 1722.6,1009.2 1723.0,990.7 1723.3,1004.9 1723.6,1008.2 1724.0,1010.2 1724.4,1008.3 1724.7,990.6 1725.0,1006.9 1725.4,991.5 1725.8,1008.3 1726.2,1008.9 1726.5,995.8" fill="none" stroke="#000" stroke-width="2.0" stroke-linejoin="round" />
</g>
<line x1="1726.08" y1="846.00" x2="1726.08" y2="1016.00" stroke="#1f77b4" stroke-width="2.2" stroke-dasharray="2.2 3.6"/>
<rect x="1244" y="1012.0" width="1" height="5.0" fill="#000" shape-rendering="crispEdges"/>
<rect x="1319" y="1012.0" width="1" height="5.0" fill="#000" shape-rendering="crispEdges"/>
<rect x="1393" y="1012.0" width="1" height="5.0" fill="#000" shape-rendering="crispEdges"/>
<rect x="1468" y="1012.0" width="1" height="5.0" fill="#000" shape-rendering="crispEdges"/>
<rect x="1542" y="1012.0" width="1" height="5.0" fill="#000" shape-rendering="crispEdges"/>
<rect x="1616" y="1012.0" width="1" height="5.0" fill="#000" shape-rendering="crispEdges"/>
<rect x="1691" y="1012.0" width="1" height="5.0" fill="#000" shape-rendering="crispEdges"/>
<rect x="1765" y="1012.0" width="1" height="5.0" fill="#000" shape-rendering="crispEdges"/>
<rect x="1205.0" y="1016" width="6.0" height="1" fill="#000" shape-rendering="crispEdges"/>
<rect x="1205.0" y="1004" width="3.5" height="1" fill="#000" shape-rendering="crispEdges"/>
<rect x="1205.0" y="996" width="3.5" height="1" fill="#000" shape-rendering="crispEdges"/>
<rect x="1205.0" y="991" width="3.5" height="1" fill="#000" shape-rendering="crispEdges"/>
<rect x="1205.0" y="986" width="3.5" height="1" fill="#000" shape-rendering="crispEdges"/>
<rect x="1205.0" y="983" width="3.5" height="1" fill="#000" shape-rendering="crispEdges"/>
<rect x="1205.0" y="980" width="3.5" height="1" fill="#000" shape-rendering="crispEdges"/>
<rect x="1205.0" y="978" width="3.5" height="1" fill="#000" shape-rendering="crispEdges"/>
<rect x="1205.0" y="975" width="3.5" height="1" fill="#000" shape-rendering="crispEdges"/>
<rect x="1205.0" y="974" width="6.0" height="1" fill="#000" shape-rendering="crispEdges"/>
<rect x="1205.0" y="961" width="3.5" height="1" fill="#000" shape-rendering="crispEdges"/>
<rect x="1205.0" y="953" width="3.5" height="1" fill="#000" shape-rendering="crispEdges"/>
<rect x="1205.0" y="948" width="3.5" height="1" fill="#000" shape-rendering="crispEdges"/>
<rect x="1205.0" y="943" width="3.5" height="1" fill="#000" shape-rendering="crispEdges"/>
<rect x="1205.0" y="940" width="3.5" height="1" fill="#000" shape-rendering="crispEdges"/>
<rect x="1205.0" y="937" width="3.5" height="1" fill="#000" shape-rendering="crispEdges"/>
<rect x="1205.0" y="935" width="3.5" height="1" fill="#000" shape-rendering="crispEdges"/>
<rect x="1205.0" y="932" width="3.5" height="1" fill="#000" shape-rendering="crispEdges"/>
<rect x="1205.0" y="930" width="6.0" height="1" fill="#000" shape-rendering="crispEdges"/>
<rect x="1205.0" y="918" width="3.5" height="1" fill="#000" shape-rendering="crispEdges"/>
<rect x="1205.0" y="910" width="3.5" height="1" fill="#000" shape-rendering="crispEdges"/>
<rect x="1205.0" y="905" width="3.5" height="1" fill="#000" shape-rendering="crispEdges"/>
<rect x="1205.0" y="900" width="3.5" height="1" fill="#000" shape-rendering="crispEdges"/>
<rect x="1205.0" y="897" width="3.5" height="1" fill="#000" shape-rendering="crispEdges"/>
<rect x="1205.0" y="894" width="3.5" height="1" fill="#000" shape-rendering="crispEdges"/>
<rect x="1205.0" y="892" width="3.5" height="1" fill="#000" shape-rendering="crispEdges"/>
<rect x="1205.0" y="889" width="3.5" height="1" fill="#000" shape-rendering="crispEdges"/>
<rect x="1205.0" y="888" width="6.0" height="1" fill="#000" shape-rendering="crispEdges"/>
<rect x="1205.0" y="875" width="3.5" height="1" fill="#000" shape-rendering="crispEdges"/>
<rect x="1205.0" y="867" width="3.5" height="1" fill="#000" shape-rendering="crispEdges"/>
<rect x="1205.0" y="862" width="3.5" height="1" fill="#000" shape-rendering="crispEdges"/>
<rect x="1205.0" y="857" width="3.5" height="1" fill="#000" shape-rendering="crispEdges"/>
<rect x="1205.0" y="854" width="3.5" height="1" fill="#000" shape-rendering="crispEdges"/>
<rect x="1205.0" y="851" width="3.5" height="1" fill="#000" shape-rendering="crispEdges"/>
<rect x="1205.0" y="849" width="3.5" height="1" fill="#000" shape-rendering="crispEdges"/>
<rect x="1205.0" y="846" width="3.5" height="1" fill="#000" shape-rendering="crispEdges"/>
<rect x="1205.0" y="844" width="6.0" height="1" fill="#000" shape-rendering="crispEdges"/>
<rect x="1794.0" y="1016" width="6.0" height="1" fill="#000" shape-rendering="crispEdges"/>
<rect x="1796.5" y="1004" width="3.5" height="1" fill="#000" shape-rendering="crispEdges"/>
<rect x="1796.5" y="996" width="3.5" height="1" fill="#000" shape-rendering="crispEdges"/>
<rect x="1796.5" y="991" width="3.5" height="1" fill="#000" shape-rendering="crispEdges"/>
<rect x="1796.5" y="986" width="3.5" height="1" fill="#000" shape-rendering="crispEdges"/>
<rect x="1796.5" y="983" width="3.5" height="1" fill="#000" shape-rendering="crispEdges"/>
<rect x="1796.5" y="980" width="3.5" height="1" fill="#000" shape-rendering="crispEdges"/>
<rect x="1796.5" y="978" width="3.5" height="1" fill="#000" shape-rendering="crispEdges"/>
<rect x="1796.5" y="975" width="3.5" height="1" fill="#000" shape-rendering="crispEdges"/>
<rect x="1794.0" y="974" width="6.0" height="1" fill="#000" shape-rendering="crispEdges"/>
<rect x="1796.5" y="961" width="3.5" height="1" fill="#000" shape-rendering="crispEdges"/>
<rect x="1796.5" y="953" width="3.5" height="1" fill="#000" shape-rendering="crispEdges"/>
<rect x="1796.5" y="948" width="3.5" height="1" fill="#000" shape-rendering="crispEdges"/>
<rect x="1796.5" y="943" width="3.5" height="1" fill="#000" shape-rendering="crispEdges"/>
<rect x="1796.5" y="940" width="3.5" height="1" fill="#000" shape-rendering="crispEdges"/>
<rect x="1796.5" y="937" width="3.5" height="1" fill="#000" shape-rendering="crispEdges"/>
<rect x="1796.5" y="935" width="3.5" height="1" fill="#000" shape-rendering="crispEdges"/>
<rect x="1796.5" y="932" width="3.5" height="1" fill="#000" shape-rendering="crispEdges"/>
<rect x="1794.0" y="930" width="6.0" height="1" fill="#000" shape-rendering="crispEdges"/>
<rect x="1796.5" y="918" width="3.5" height="1" fill="#000" shape-rendering="crispEdges"/>
<rect x="1796.5" y="910" width="3.5" height="1" fill="#000" shape-rendering="crispEdges"/>
<rect x="1796.5" y="905" width="3.5" height="1" fill="#000" shape-rendering="crispEdges"/>
<rect x="1796.5" y="900" width="3.5" height="1" fill="#000" shape-rendering="crispEdges"/>
<rect x="1796.5" y="897" width="3.5" height="1" fill="#000" shape-rendering="crispEdges"/>
<rect x="1796.5" y="894" width="3.5" height="1" fill="#000" shape-rendering="crispEdges"/>
<rect x="1796.5" y="892" width="3.5" height="1" fill="#000" shape-rendering="crispEdges"/>
<rect x="1796.5" y="889" width="3.5" height="1" fill="#000" shape-rendering="crispEdges"/>
<rect x="1794.0" y="888" width="6.0" height="1" fill="#000" shape-rendering="crispEdges"/>
<rect x="1796.5" y="875" width="3.5" height="1" fill="#000" shape-rendering="crispEdges"/>
<rect x="1796.5" y="867" width="3.5" height="1" fill="#000" shape-rendering="crispEdges"/>
<rect x="1796.5" y="862" width="3.5" height="1" fill="#000" shape-rendering="crispEdges"/>
<rect x="1796.5" y="857" width="3.5" height="1" fill="#000" shape-rendering="crispEdges"/>
<rect x="1796.5" y="854" width="3.5" height="1" fill="#000" shape-rendering="crispEdges"/>
<rect x="1796.5" y="851" width="3.5" height="1" fill="#000" shape-rendering="crispEdges"/>
<rect x="1796.5" y="849" width="3.5" height="1" fill="#000" shape-rendering="crispEdges"/>
<rect x="1796.5" y="846" width="3.5" height="1" fill="#000" shape-rendering="crispEdges"/>
<rect x="1794.0" y="844" width="6.0" height="1" fill="#000" shape-rendering="crispEdges"/>
<path d="M1800,845 H1205 V1017 H1800" fill="none" stroke="#000" stroke-width="2" stroke-linecap="square"/>
<line x1="1800.00" y1="844.00" x2="1800.00" y2="1018.00" stroke="#000" stroke-width="2" />
<g transform="translate(1197.50 1024.50)">
<text transform="translate(-43.09 0.00) scale(1.0895 1)" x="0.0 10.9" y="0" font-size="19.64">10</text>
<text transform="translate(-19.30 -6.79) scale(1.2314 1)" x="0.0 8.9" y="0" font-size="13.74">−1</text>
</g>
<g transform="translate(1197.50 981.50)">
<text transform="translate(-32.12 0.00) scale(1.0895 1)" x="0.0 10.9" y="0" font-size="19.64">10</text>
<text transform="translate(-8.33 -6.79) scale(1.0895 1)" x="0.0" y="0" font-size="13.74">0</text>
</g>
<g transform="translate(1197.50 938.50)">
<text transform="translate(-32.12 0.00) scale(1.0895 1)" x="0.0 10.9" y="0" font-size="19.64">10</text>
<text transform="translate(-8.33 -6.79) scale(1.0895 1)" x="0.0" y="0" font-size="13.74">1</text>
</g>
<g transform="translate(1197.50 895.50)">
<text transform="translate(-32.12 0.00) scale(1.0895 1)" x="0.0 10.9" y="0" font-size="19.64">10</text>
<text transform="translate(-8.33 -6.79) scale(1.0895 1)" x="0.0" y="0" font-size="13.74">2</text>
</g>
<g transform="translate(1197.50 852.50)">
<text transform="translate(-32.12 0.00) scale(1.0895 1)" x="0.0 10.9" y="0" font-size="19.64">10</text>
<text transform="translate(-8.33 -6.79) scale(1.0895 1)" x="0.0" y="0" font-size="13.74">3</text>
</g>
<text transform="translate(1245.00 1037.00) scale(1.0895 1)" x="-10.9 0.0" y="0" font-size="19.64">29</text>
<text transform="translate(1319.38 1037.00) scale(1.0895 1)" x="-10.9 0.0" y="0" font-size="19.64">30</text>
<text transform="translate(1393.75 1037.00) scale(1.0895 1)" x="-10.9 0.0" y="0" font-size="19.64">01</text>
<text transform="translate(1468.12 1037.00) scale(1.0895 1)" x="-10.9 0.0" y="0" font-size="19.64">02</text>
<text transform="translate(1542.50 1037.00) scale(1.0895 1)" x="-10.9 0.0" y="0" font-size="19.64">03</text>
<text transform="translate(1616.88 1037.00) scale(1.0895 1)" x="-10.9 0.0" y="0" font-size="19.64">04</text>
<text transform="translate(1691.25 1037.00) scale(1.0895 1)" x="-10.9 0.0" y="0" font-size="19.64">05</text>
<text transform="translate(1765.62 1037.00) scale(1.0895 1)" x="-10.9 0.0" y="0" font-size="19.64">06</text>
<text transform="translate(1498.50 1065.80) scale(1.0767 1)" x="-108.1 -92.6 -79.6 -66.7 -58.2 -44.7 -23.4 -9.5 4.0 13.0 20.4 38.5 50.2 58.3 71.7 85.6 99.1" y="0" font-size="24.78">September/October</text>
<text transform="translate(1501.50 1093.50) scale(1.0549 1)" x="-55.8 -41.5 -27.3 -13.1 1.2 8.3 17.0 33.8 48.1" y="0" font-size="24.78">2019 (UT)</text>
<text transform="translate(1106.00 931.00) rotate(-90) scale(1.0963 1)" x="-116.7 -98.2 -84.0 -69.9 -62.9 -43.5 -30.1 -14.6 -7.9 7.6 15.4 28.4 36.0 49.5 63.6 70.6 84.9 90.0 103.6" y="0" font-size="24.78">&gt;10 MeV Proton Flux</text>
<g transform="translate(1139.00 931.00) rotate(-90)">
<text transform="translate(-86.00 0.00) scale(1.1032 1)" x="0.0 8.4 15.3 27.1" y="0" font-size="24.78">( cm</text>
<text transform="translate(-32.86 -8.57) scale(1.0991 1)" x="0.0" y="0" font-size="17.35">2</text>
<text transform="translate(-18.21 0.00) scale(1.0011 1)" x="0.0" y="0" font-size="24.78">s</text>
<text transform="translate(-5.81 -8.57) scale(1.2422 1)" x="0.0 11.2" y="0" font-size="17.35">−1</text>
<text transform="translate(22.81 0.00) scale(1.0751 1)" x="0.0 11.6" y="0" font-size="24.78">sr</text>
<text transform="translate(45.00 -8.57) scale(1.2422 1)" x="0.0 11.2" y="0" font-size="17.35">−1</text>
<text transform="translate(76.71 0.00) scale(1.1255 1)" x="0.0" y="0" font-size="24.78">)</text>
</g>
</g></svg></body></html>
